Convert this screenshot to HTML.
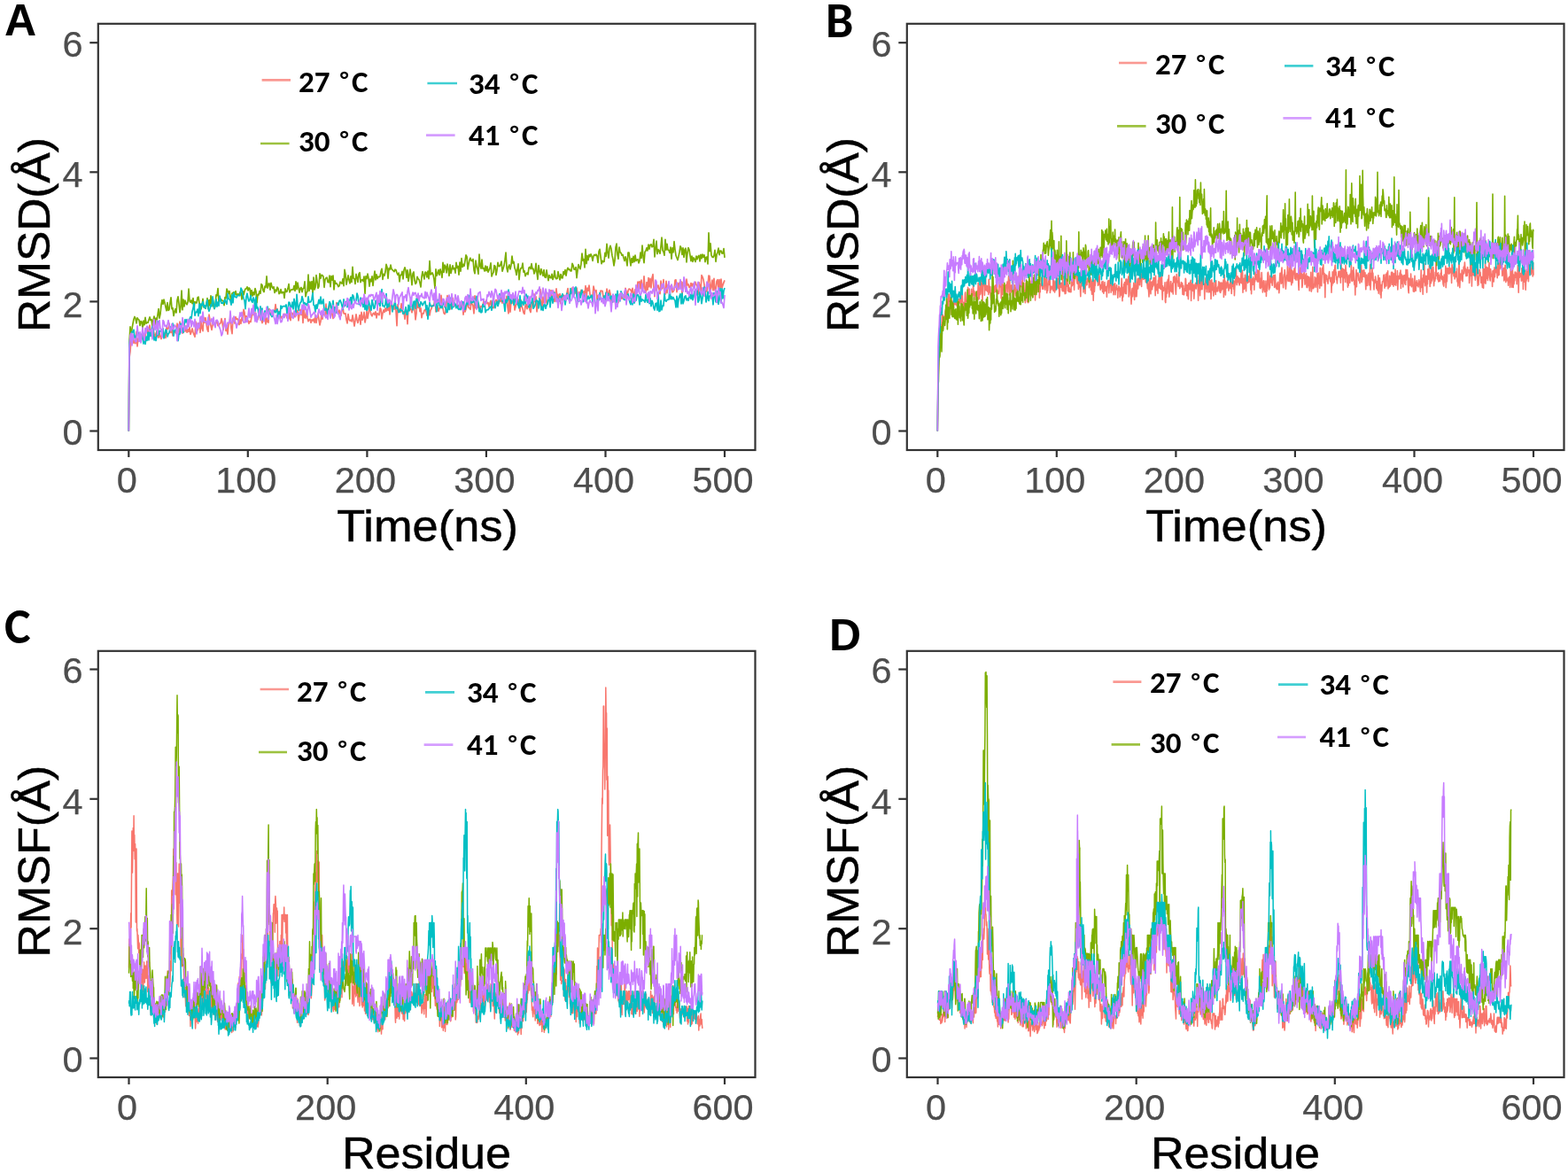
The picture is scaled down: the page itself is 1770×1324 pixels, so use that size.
<!DOCTYPE html>
<html><head><meta charset="utf-8"><title>RMSD RMSF</title>
<style>
html,body{margin:0;padding:0;background:#fff;}
body{width:1770px;height:1324px;overflow:hidden;}
svg{display:block;}
.tk{font-family:"Liberation Sans",Arial,sans-serif;font-size:41.5px;fill:#4D4D4D;stroke:#4D4D4D;stroke-width:0.25px;}
.ti{font-family:"Liberation Sans",Arial,sans-serif;font-size:50.5px;fill:#000;stroke:#000;stroke-width:0.5px;}
.lg{font-family:Carlito,"Liberation Sans",sans-serif;font-weight:bold;font-size:35px;fill:#000;}
.pa{font-family:"Liberation Sans",Arial,sans-serif;font-weight:bold;font-size:50px;fill:#000;}
.pb{font-family:Carlito,"Liberation Sans",sans-serif;font-weight:bold;font-size:56px;fill:#000;}
</style></head>
<body>
<svg width="1770" height="1324" viewBox="0 0 1770 1324">
<rect width="1770" height="1324" fill="#fff"/>
<polyline points="145.3,486.5 146.0,403.9 147.0,397.0 148.0,382.1 149.0,383.1 150.0,381.9 151.0,387.3 152.0,384.0 153.0,387.7 154.0,374.4 155.0,390.9 156.0,382.0 157.0,385.2 158.0,380.3 159.0,378.2 160.0,381.6 161.0,382.7 162.0,376.9 163.0,376.5 164.0,380.3 165.0,372.2 166.0,368.9 167.0,378.4 168.0,373.1 169.0,367.0 170.0,372.8 171.0,374.7 172.0,371.3 173.0,370.0 174.0,377.8 175.0,382.2 176.0,376.5 177.0,374.0 178.0,379.6 179.0,381.1 180.0,375.9 181.0,380.1 182.0,382.5 183.0,376.1 184.0,372.9 185.0,378.4 186.0,377.5 187.0,381.4 188.0,369.0 189.0,371.6 190.0,370.2 191.0,365.1 192.0,373.9 193.0,375.5 194.0,368.7 195.0,379.0 196.0,376.0 197.0,374.9 198.0,373.7 199.0,376.5 200.0,365.1 201.0,374.9 202.0,374.9 203.0,363.1 204.0,373.8 205.0,370.9 206.0,376.1 207.0,370.0 208.0,372.2 209.0,374.0 210.0,367.8 211.0,375.2 212.0,371.6 213.0,374.5 214.0,369.4 215.0,377.3 216.0,374.9 217.0,370.8 218.0,374.8 219.0,377.8 220.0,380.3 221.0,363.2 222.0,375.2 223.0,372.7 224.0,369.5 225.0,364.5 226.0,375.3 227.0,362.1 228.0,370.6 229.0,373.6 230.0,358.4 231.0,364.2 232.0,358.6 233.0,365.9 234.0,371.9 235.0,374.2 236.0,355.2 237.0,361.3 238.0,367.8 239.0,372.4 240.0,366.8 241.0,361.3 242.0,366.7 243.0,365.3 244.0,364.5 245.0,361.9 246.0,367.6 247.0,367.2 248.0,365.3 249.0,364.8 250.0,359.6 251.0,363.8 252.0,372.4 253.0,365.6 254.0,359.5 255.0,373.5 256.0,369.4 257.0,377.1 258.0,366.5 259.0,363.5 260.0,358.1 261.0,371.2 262.0,376.7 263.0,359.1 264.0,359.4 265.0,365.2 266.0,357.7 267.0,360.3 268.0,359.7 269.0,362.2 270.0,366.5 271.0,360.9 272.0,365.2 273.0,358.3 274.0,361.8 275.0,349.3 276.0,352.5 277.0,363.6 278.0,356.5 279.0,362.1 280.0,361.6 281.0,365.3 282.0,362.6 283.0,363.4 284.0,357.6 285.0,354.6 286.0,354.5 287.0,355.8 288.0,352.9 289.0,356.0 290.0,358.7 291.0,360.7 292.0,358.0 293.0,350.2 294.0,359.4 295.0,360.7 296.0,364.6 297.0,361.5 298.0,354.6 299.0,353.3 300.0,365.9 301.0,358.9 302.0,363.4 303.0,364.0 304.0,348.5 305.0,353.7 306.0,353.5 307.0,353.6 308.0,353.2 309.0,351.5 310.0,351.6 311.0,343.6 312.0,350.8 313.0,348.6 314.0,353.7 315.0,351.5 316.0,357.6 317.0,359.2 318.0,357.2 319.0,357.6 320.0,356.8 321.0,354.3 322.0,355.9 323.0,354.4 324.0,358.9 325.0,357.1 326.0,360.0 327.0,350.5 328.0,361.6 329.0,353.3 330.0,353.3 331.0,355.9 332.0,353.8 333.0,357.8 334.0,353.1 335.0,350.4 336.0,351.2 337.0,361.8 338.0,355.4 339.0,349.3 340.0,355.3 341.0,347.6 342.0,364.5 343.0,348.2 344.0,358.5 345.0,359.1 346.0,349.5 347.0,358.7 348.0,362.7 349.0,360.6 350.0,360.2 351.0,364.2 352.0,360.8 353.0,362.1 354.0,360.1 355.0,364.1 356.0,356.1 357.0,364.5 358.0,357.7 359.0,354.2 360.0,360.9 361.0,366.9 362.0,362.6 363.0,354.6 364.0,360.2 365.0,353.9 366.0,355.1 367.0,355.7 368.0,343.2 369.0,355.2 370.0,348.6 371.0,349.8 372.0,345.4 373.0,344.7 374.0,347.1 375.0,355.6 376.0,359.5 377.0,350.8 378.0,356.4 379.0,349.6 380.0,341.6 381.0,352.2 382.0,354.0 383.0,350.1 384.0,354.3 385.0,356.2 386.0,349.5 387.0,346.9 388.0,353.7 389.0,354.1 390.0,353.8 391.0,360.9 392.0,364.9 393.0,354.6 394.0,360.5 395.0,362.0 396.0,361.1 397.0,362.9 398.0,355.8 399.0,361.5 400.0,368.0 401.0,361.9 402.0,354.8 403.0,361.0 404.0,364.4 405.0,360.1 406.0,355.6 407.0,366.2 408.0,352.3 409.0,361.1 410.0,358.4 411.0,352.3 412.0,364.0 413.0,359.3 414.0,351.2 415.0,359.4 416.0,353.6 417.0,345.7 418.0,351.1 419.0,355.3 420.0,356.8 421.0,354.1 422.0,353.2 423.0,355.3 424.0,351.8 425.0,358.8 426.0,353.7 427.0,354.5 428.0,355.6 429.0,347.5 430.0,349.0 431.0,359.9 432.0,353.5 433.0,349.9 434.0,352.5 435.0,347.9 436.0,351.2 437.0,346.0 438.0,350.3 439.0,340.7 440.0,355.0 441.0,345.5 442.0,340.1 443.0,346.9 444.0,346.2 445.0,349.1 446.0,342.9 447.0,351.0 448.0,367.6 449.0,343.6 450.0,352.2 451.0,349.4 452.0,352.4 453.0,342.7 454.0,346.2 455.0,354.3 456.0,351.8 457.0,360.1 458.0,348.2 459.0,352.3 460.0,365.6 461.0,346.7 462.0,345.4 463.0,349.3 464.0,348.7 465.0,352.7 466.0,348.8 467.0,344.1 468.0,348.8 469.0,360.8 470.0,354.0 471.0,333.9 472.0,347.3 473.0,343.9 474.0,351.6 475.0,347.9 476.0,358.7 477.0,353.9 478.0,353.9 479.0,350.4 480.0,349.4 481.0,351.3 482.0,356.1 483.0,352.3 484.0,347.8 485.0,355.8 486.0,350.1 487.0,348.5 488.0,344.6 489.0,345.3 490.0,344.5 491.0,333.3 492.0,352.0 493.0,349.4 494.0,345.1 495.0,351.2 496.0,348.0 497.0,347.6 498.0,333.3 499.0,344.4 500.0,348.1 501.0,353.4 502.0,354.5 503.0,352.2 504.0,339.1 505.0,333.7 506.0,347.4 507.0,344.5 508.0,349.0 509.0,343.5 510.0,345.1 511.0,336.4 512.0,346.1 513.0,341.6 514.0,345.6 515.0,346.2 516.0,343.4 517.0,345.8 518.0,344.4 519.0,348.6 520.0,347.7 521.0,342.9 522.0,343.2 523.0,355.2 524.0,346.3 525.0,351.9 526.0,349.0 527.0,344.1 528.0,343.0 529.0,347.2 530.0,347.7 531.0,349.3 532.0,339.7 533.0,343.0 534.0,345.4 535.0,353.8 536.0,333.9 537.0,347.8 538.0,342.7 539.0,347.3 540.0,342.3 541.0,346.3 542.0,351.9 543.0,345.6 544.0,345.7 545.0,345.2 546.0,339.4 547.0,345.8 548.0,342.0 549.0,338.8 550.0,342.6 551.0,341.6 552.0,346.3 553.0,342.1 554.0,339.4 555.0,349.1 556.0,346.5 557.0,347.6 558.0,344.1 559.0,340.2 560.0,338.5 561.0,339.1 562.0,345.2 563.0,341.1 564.0,333.2 565.0,340.6 566.0,333.9 567.0,342.1 568.0,335.5 569.0,335.5 570.0,342.7 571.0,342.0 572.0,334.4 573.0,346.6 574.0,353.8 575.0,335.7 576.0,352.2 577.0,339.7 578.0,340.7 579.0,342.3 580.0,336.1 581.0,350.0 582.0,346.3 583.0,340.5 584.0,343.4 585.0,337.8 586.0,344.3 587.0,351.3 588.0,338.6 589.0,345.4 590.0,348.5 591.0,353.1 592.0,354.4 593.0,345.1 594.0,343.2 595.0,348.7 596.0,344.0 597.0,343.7 598.0,350.0 599.0,352.5 600.0,344.8 601.0,341.7 602.0,344.8 603.0,331.8 604.0,340.6 605.0,334.9 606.0,351.8 607.0,343.2 608.0,340.2 609.0,338.4 610.0,326.7 611.0,342.7 612.0,347.1 613.0,335.1 614.0,341.8 615.0,341.6 616.0,329.9 617.0,341.8 618.0,343.5 619.0,337.4 620.0,335.5 621.0,339.5 622.0,327.6 623.0,335.6 624.0,340.4 625.0,329.1 626.0,340.5 627.0,333.8 628.0,325.9 629.0,336.2 630.0,332.3 631.0,339.0 632.0,331.7 633.0,342.7 634.0,333.6 635.0,338.6 636.0,333.2 637.0,333.7 638.0,340.4 639.0,334.5 640.0,330.5 641.0,325.6 642.0,337.1 643.0,334.5 644.0,328.9 645.0,331.4 646.0,324.8 647.0,324.6 648.0,325.4 649.0,331.1 650.0,330.6 651.0,325.2 652.0,332.6 653.0,332.7 654.0,329.6 655.0,334.0 656.0,327.4 657.0,328.4 658.0,331.3 659.0,328.8 660.0,332.9 661.0,322.7 662.0,336.0 663.0,325.0 664.0,328.1 665.0,322.1 666.0,332.1 667.0,335.8 668.0,335.2 669.0,334.4 670.0,323.0 671.0,327.4 672.0,329.5 673.0,327.6 674.0,338.2 675.0,333.8 676.0,332.9 677.0,335.4 678.0,328.2 679.0,328.3 680.0,328.3 681.0,335.0 682.0,334.1 683.0,335.3 684.0,338.0 685.0,326.0 686.0,330.4 687.0,334.4 688.0,327.4 689.0,331.9 690.0,340.1 691.0,340.8 692.0,340.9 693.0,335.8 694.0,334.5 695.0,340.9 696.0,333.5 697.0,336.9 698.0,341.6 699.0,333.1 700.0,331.8 701.0,334.4 702.0,337.1 703.0,336.2 704.0,334.4 705.0,336.2 706.0,325.3 707.0,328.9 708.0,333.9 709.0,328.3 710.0,326.0 711.0,326.3 712.0,327.3 713.0,330.3 714.0,325.3 715.0,330.7 716.0,336.9 717.0,326.5 718.0,332.4 719.0,326.2 720.0,318.0 721.0,321.7 722.0,317.6 723.0,326.0 724.0,316.2 725.0,328.5 726.0,324.8 727.0,311.9 728.0,326.1 729.0,330.1 730.0,318.5 731.0,327.4 732.0,313.5 733.0,323.8 734.0,314.3 735.0,325.0 736.0,313.8 737.0,309.7 738.0,325.0 739.0,334.6 740.0,320.4 741.0,327.6 742.0,324.1 743.0,322.0 744.0,326.6 745.0,331.7 746.0,317.2 747.0,326.0 748.0,324.8 749.0,315.7 750.0,330.7 751.0,332.1 752.0,317.4 753.0,330.6 754.0,322.0 755.0,320.8 756.0,329.1 757.0,322.9 758.0,323.5 759.0,329.8 760.0,329.0 761.0,327.4 762.0,316.3 763.0,315.8 764.0,329.6 765.0,319.6 766.0,325.1 767.0,319.1 768.0,323.4 769.0,317.8 770.0,332.1 771.0,318.5 772.0,322.6 773.0,321.9 774.0,328.6 775.0,315.2 776.0,321.9 777.0,320.9 778.0,324.5 779.0,324.2 780.0,319.5 781.0,323.1 782.0,320.0 783.0,324.2 784.0,321.3 785.0,318.4 786.0,321.4 787.0,323.2 788.0,332.5 789.0,318.6 790.0,322.6 791.0,328.4 792.0,310.7 793.0,312.6 794.0,315.6 795.0,321.3 796.0,334.4 797.0,324.5 798.0,328.9 799.0,322.0 800.0,311.0 801.0,311.7 802.0,328.2 803.0,323.8 804.0,316.1 805.0,327.9 806.0,314.3 807.0,327.5 808.0,328.8 809.0,317.5 810.0,315.7 811.0,325.4 812.0,315.7 813.0,325.5 814.0,315.2 815.0,325.2 816.0,321.6 817.0,318.9 818.0,316.4" fill="none" stroke="#F8766D" stroke-width="1.7" stroke-linejoin="round"/>
<polyline points="145.3,486.5 146.0,386.5 147.0,368.8 148.0,379.3 149.0,371.2 150.0,365.3 151.0,360.2 152.0,357.5 153.0,359.6 154.0,364.8 155.0,358.8 156.0,360.4 157.0,361.2 158.0,367.5 159.0,362.5 160.0,363.2 161.0,370.5 162.0,362.2 163.0,366.7 164.0,358.3 165.0,365.2 166.0,364.0 167.0,364.2 168.0,360.9 169.0,357.9 170.0,361.5 171.0,360.6 172.0,368.1 173.0,361.6 174.0,357.0 175.0,366.3 176.0,359.0 177.0,361.9 178.0,355.4 179.0,348.6 180.0,359.1 181.0,354.3 182.0,344.0 183.0,338.6 184.0,343.4 185.0,338.2 186.0,341.9 187.0,346.6 188.0,350.7 189.0,341.6 190.0,350.3 191.0,349.5 192.0,341.7 193.0,335.8 194.0,348.7 195.0,347.7 196.0,356.5 197.0,352.0 198.0,348.7 199.0,353.0 200.0,339.0 201.0,334.9 202.0,342.8 203.0,352.7 204.0,346.5 205.0,328.1 206.0,349.8 207.0,338.0 208.0,346.0 209.0,339.2 210.0,342.3 211.0,343.8 212.0,341.1 213.0,326.2 214.0,339.8 215.0,341.2 216.0,339.0 217.0,342.6 218.0,336.5 219.0,348.7 220.0,340.7 221.0,341.7 222.0,342.0 223.0,336.0 224.0,335.1 225.0,342.4 226.0,343.5 227.0,348.8 228.0,344.6 229.0,337.3 230.0,345.7 231.0,347.1 232.0,348.0 233.0,344.5 234.0,336.6 235.0,348.4 236.0,338.7 237.0,344.9 238.0,333.8 239.0,345.0 240.0,336.8 241.0,345.6 242.0,348.5 243.0,345.1 244.0,332.9 245.0,333.6 246.0,325.6 247.0,341.0 248.0,339.1 249.0,337.9 250.0,338.3 251.0,339.5 252.0,339.6 253.0,344.6 254.0,335.6 255.0,336.7 256.0,326.1 257.0,328.5 258.0,331.4 259.0,328.6 260.0,335.2 261.0,338.9 262.0,331.1 263.0,330.4 264.0,329.8 265.0,332.5 266.0,328.6 267.0,333.1 268.0,332.0 269.0,331.9 270.0,333.7 271.0,329.8 272.0,330.2 273.0,338.0 274.0,328.7 275.0,332.7 276.0,328.8 277.0,326.0 278.0,325.8 279.0,323.8 280.0,327.9 281.0,324.9 282.0,325.8 283.0,334.1 284.0,327.5 285.0,334.0 286.0,329.8 287.0,332.8 288.0,325.5 289.0,329.3 290.0,341.6 291.0,332.3 292.0,332.8 293.0,328.6 294.0,331.2 295.0,320.7 296.0,321.8 297.0,327.8 298.0,329.5 299.0,323.2 300.0,324.4 301.0,311.8 302.0,325.1 303.0,320.5 304.0,319.9 305.0,327.2 306.0,319.4 307.0,323.6 308.0,325.5 309.0,323.8 310.0,330.4 311.0,327.0 312.0,328.8 313.0,324.2 314.0,325.5 315.0,331.7 316.0,330.9 317.0,326.7 318.0,330.8 319.0,329.8 320.0,329.5 321.0,336.3 322.0,325.8 323.0,329.5 324.0,329.1 325.0,325.6 326.0,320.7 327.0,329.9 328.0,327.8 329.0,326.9 330.0,326.9 331.0,327.0 332.0,322.5 333.0,328.4 334.0,317.9 335.0,326.7 336.0,319.2 337.0,324.9 338.0,330.2 339.0,325.4 340.0,324.5 341.0,329.6 342.0,325.8 343.0,325.2 344.0,317.9 345.0,334.7 346.0,330.2 347.0,328.9 348.0,310.0 349.0,328.4 350.0,318.2 351.0,326.2 352.0,317.5 353.0,332.0 354.0,313.1 355.0,326.9 356.0,324.1 357.0,310.6 358.0,317.7 359.0,325.4 360.0,323.3 361.0,308.8 362.0,314.1 363.0,310.3 364.0,310.7 365.0,312.2 366.0,324.3 367.0,315.5 368.0,313.7 369.0,313.2 370.0,318.4 371.0,318.8 372.0,311.2 373.0,323.7 374.0,311.5 375.0,316.1 376.0,311.2 377.0,326.9 378.0,316.9 379.0,320.1 380.0,319.9 381.0,321.5 382.0,323.6 383.0,322.7 384.0,318.2 385.0,319.4 386.0,320.2 387.0,314.9 388.0,322.6 389.0,304.4 390.0,309.5 391.0,321.2 392.0,316.1 393.0,310.9 394.0,316.1 395.0,319.8 396.0,311.8 397.0,318.5 398.0,301.4 399.0,314.3 400.0,314.5 401.0,320.5 402.0,309.4 403.0,313.2 404.0,318.5 405.0,309.3 406.0,307.7 407.0,318.7 408.0,316.2 409.0,315.7 410.0,317.4 411.0,312.0 412.0,331.5 413.0,311.9 414.0,314.5 415.0,309.2 416.0,313.9 417.0,323.1 418.0,315.1 419.0,317.6 420.0,311.8 421.0,322.5 422.0,313.6 423.0,306.1 424.0,315.8 425.0,309.9 426.0,314.6 427.0,312.2 428.0,312.7 429.0,312.0 430.0,306.6 431.0,303.3 432.0,315.4 433.0,309.4 434.0,311.0 435.0,306.8 436.0,298.4 437.0,301.5 438.0,314.3 439.0,302.9 440.0,304.4 441.0,299.0 442.0,303.7 443.0,304.7 444.0,305.6 445.0,306.6 446.0,304.2 447.0,304.8 448.0,308.0 449.0,310.1 450.0,308.1 451.0,317.8 452.0,310.4 453.0,310.4 454.0,306.4 455.0,314.9 456.0,304.8 457.0,301.9 458.0,305.2 459.0,313.4 460.0,304.9 461.0,317.4 462.0,311.2 463.0,304.2 464.0,311.1 465.0,321.6 466.0,308.8 467.0,306.9 468.0,316.3 469.0,320.4 470.0,319.1 471.0,312.3 472.0,314.8 473.0,315.4 474.0,319.4 475.0,324.0 476.0,312.5 477.0,306.5 478.0,310.7 479.0,315.0 480.0,307.0 481.0,307.5 482.0,313.0 483.0,306.0 484.0,314.6 485.0,294.6 486.0,310.0 487.0,309.1 488.0,307.9 489.0,310.4 490.0,315.4 491.0,325.4 492.0,303.9 493.0,311.2 494.0,308.6 495.0,304.7 496.0,310.3 497.0,303.9 498.0,307.4 499.0,313.3 500.0,296.4 501.0,307.3 502.0,299.0 503.0,300.6 504.0,307.9 505.0,298.1 506.0,303.5 507.0,311.3 508.0,298.8 509.0,308.5 510.0,304.0 511.0,299.8 512.0,303.9 513.0,302.7 514.0,308.2 515.0,296.3 516.0,302.3 517.0,300.5 518.0,310.1 519.0,296.0 520.0,306.1 521.0,291.5 522.0,301.4 523.0,298.3 524.0,300.3 525.0,294.4 526.0,287.8 527.0,289.6 528.0,303.8 529.0,298.3 530.0,293.1 531.0,291.2 532.0,294.3 533.0,294.7 534.0,292.5 535.0,304.7 536.0,308.7 537.0,294.1 538.0,300.3 539.0,303.7 540.0,309.3 541.0,287.0 542.0,300.1 543.0,303.1 544.0,293.0 545.0,303.1 546.0,302.7 547.0,306.0 548.0,300.1 549.0,305.6 550.0,300.8 551.0,307.1 552.0,305.0 553.0,302.3 554.0,296.9 555.0,312.0 556.0,309.1 557.0,307.6 558.0,299.5 559.0,300.6 560.0,310.3 561.0,305.0 562.0,296.4 563.0,300.4 564.0,300.6 565.0,298.7 566.0,295.0 567.0,306.2 568.0,303.2 569.0,299.8 570.0,293.4 571.0,285.0 572.0,302.2 573.0,306.9 574.0,301.0 575.0,299.0 576.0,303.8 577.0,299.4 578.0,289.1 579.0,297.2 580.0,295.5 581.0,302.4 582.0,305.0 583.0,310.4 584.0,303.5 585.0,297.9 586.0,315.6 587.0,305.4 588.0,302.6 589.0,302.6 590.0,297.2 591.0,307.1 592.0,305.7 593.0,311.7 594.0,309.2 595.0,307.9 596.0,309.8 597.0,302.1 598.0,301.4 599.0,303.5 600.0,297.7 601.0,303.7 602.0,303.4 603.0,309.0 604.0,306.2 605.0,297.4 606.0,307.7 607.0,315.3 608.0,299.6 609.0,305.6 610.0,310.0 611.0,303.7 612.0,308.0 613.0,311.3 614.0,304.6 615.0,312.7 616.0,313.3 617.0,304.9 618.0,311.3 619.0,316.6 620.0,310.5 621.0,313.2 622.0,313.9 623.0,309.4 624.0,315.5 625.0,312.5 626.0,305.7 627.0,313.2 628.0,314.8 629.0,314.3 630.0,306.7 631.0,311.7 632.0,315.8 633.0,309.5 634.0,313.7 635.0,313.8 636.0,306.6 637.0,309.7 638.0,304.6 639.0,311.1 640.0,305.1 641.0,302.3 642.0,304.5 643.0,303.9 644.0,305.8 645.0,305.9 646.0,297.4 647.0,299.5 648.0,304.1 649.0,304.2 650.0,301.6 651.0,313.7 652.0,305.4 653.0,298.6 654.0,301.7 655.0,303.7 656.0,297.8 657.0,286.1 658.0,294.1 659.0,292.7 660.0,302.0 661.0,281.4 662.0,297.6 663.0,288.6 664.0,293.7 665.0,287.4 666.0,289.6 667.0,286.8 668.0,289.3 669.0,294.3 670.0,288.9 671.0,287.4 672.0,288.5 673.0,287.1 674.0,289.1 675.0,296.5 676.0,283.8 677.0,281.3 678.0,289.3 679.0,297.7 680.0,294.3 681.0,295.7 682.0,295.3 683.0,285.3 684.0,289.4 685.0,275.4 686.0,285.4 687.0,291.2 688.0,280.2 689.0,277.4 690.0,281.0 691.0,288.4 692.0,292.9 693.0,299.9 694.0,294.0 695.0,279.2 696.0,275.1 697.0,287.5 698.0,292.2 699.0,279.0 700.0,284.8 701.0,285.4 702.0,288.2 703.0,287.5 704.0,291.3 705.0,294.4 706.0,289.8 707.0,293.5 708.0,299.9 709.0,285.0 710.0,285.0 711.0,292.9 712.0,299.8 713.0,291.5 714.0,296.3 715.0,289.4 716.0,295.7 717.0,288.0 718.0,294.5 719.0,293.0 720.0,292.7 721.0,296.9 722.0,294.5 723.0,285.1 724.0,291.4 725.0,277.1 726.0,289.2 727.0,296.7 728.0,284.3 729.0,283.1 730.0,279.8 731.0,282.9 732.0,276.0 733.0,281.2 734.0,276.4 735.0,275.8 736.0,278.8 737.0,278.3 738.0,270.4 739.0,289.9 740.0,280.7 741.0,272.2 742.0,286.7 743.0,281.7 744.0,283.3 745.0,286.1 746.0,278.3 747.0,268.2 748.0,282.5 749.0,284.3 750.0,288.2 751.0,270.3 752.0,282.1 753.0,275.4 754.0,282.1 755.0,282.6 756.0,285.3 757.0,279.2 758.0,292.2 759.0,279.9 760.0,284.8 761.0,272.7 762.0,281.8 763.0,288.3 764.0,291.0 765.0,293.5 766.0,289.4 767.0,284.5 768.0,277.8 769.0,279.9 770.0,287.5 771.0,279.8 772.0,290.4 773.0,281.8 774.0,280.2 775.0,296.0 776.0,285.2 777.0,279.7 778.0,281.9 779.0,288.4 780.0,294.6 781.0,289.0 782.0,295.4 783.0,290.9 784.0,292.6 785.0,295.5 786.0,289.1 787.0,292.7 788.0,289.5 789.0,288.3 790.0,294.8 791.0,287.3 792.0,291.7 793.0,287.1 794.0,290.3 795.0,287.8 796.0,295.7 797.0,290.4 798.0,290.2 799.0,298.0 800.0,262.8 801.0,283.6 802.0,274.9 803.0,288.1 804.0,290.0 805.0,290.6 806.0,288.4 807.0,282.4 808.0,295.3 809.0,287.8 810.0,284.8 811.0,280.2 812.0,287.7 813.0,283.0 814.0,283.0 815.0,286.1 816.0,286.0 817.0,280.6 818.0,290.8" fill="none" stroke="#7CAE00" stroke-width="1.7" stroke-linejoin="round"/>
<polyline points="145.3,486.5 146.0,389.8 147.0,379.5 148.0,378.5 149.0,374.3 150.0,374.9 151.0,372.2 152.0,381.4 153.0,379.3 154.0,379.8 155.0,375.5 156.0,375.3 157.0,377.8 158.0,383.2 159.0,382.1 160.0,377.1 161.0,381.3 162.0,388.0 163.0,379.2 164.0,388.4 165.0,380.2 166.0,384.5 167.0,375.2 168.0,383.8 169.0,372.1 170.0,379.4 171.0,376.6 172.0,368.4 173.0,371.6 174.0,384.0 175.0,380.7 176.0,384.5 177.0,378.6 178.0,362.7 179.0,378.1 180.0,373.6 181.0,373.7 182.0,373.8 183.0,372.0 184.0,370.9 185.0,381.8 186.0,377.7 187.0,372.1 188.0,373.1 189.0,380.0 190.0,376.9 191.0,375.8 192.0,368.6 193.0,372.5 194.0,369.0 195.0,365.1 196.0,379.2 197.0,373.2 198.0,372.9 199.0,370.2 200.0,378.9 201.0,384.7 202.0,376.3 203.0,377.0 204.0,365.1 205.0,371.1 206.0,370.2 207.0,375.3 208.0,366.7 209.0,360.7 210.0,363.7 211.0,360.5 212.0,368.5 213.0,363.1 214.0,360.0 215.0,357.7 216.0,359.6 217.0,351.6 218.0,348.1 219.0,342.0 220.0,356.2 221.0,352.3 222.0,352.5 223.0,349.0 224.0,356.7 225.0,343.0 226.0,353.6 227.0,343.0 228.0,344.6 229.0,340.5 230.0,346.8 231.0,344.7 232.0,348.1 233.0,342.8 234.0,338.5 235.0,348.1 236.0,351.3 237.0,348.2 238.0,343.9 239.0,345.8 240.0,334.9 241.0,341.3 242.0,348.5 243.0,344.7 244.0,337.8 245.0,346.1 246.0,341.0 247.0,345.1 248.0,334.2 249.0,338.3 250.0,342.3 251.0,341.8 252.0,342.7 253.0,339.6 254.0,338.4 255.0,341.5 256.0,343.3 257.0,331.3 258.0,337.2 259.0,337.8 260.0,339.5 261.0,344.1 262.0,332.5 263.0,341.8 264.0,330.3 265.0,334.7 266.0,335.3 267.0,335.9 268.0,333.5 269.0,333.3 270.0,333.6 271.0,333.4 272.0,325.2 273.0,327.2 274.0,331.9 275.0,336.7 276.0,339.2 277.0,348.6 278.0,335.2 279.0,331.2 280.0,336.5 281.0,340.0 282.0,338.5 283.0,333.7 284.0,339.8 285.0,341.4 286.0,335.9 287.0,338.1 288.0,351.3 289.0,335.3 290.0,348.2 291.0,347.0 292.0,355.9 293.0,352.7 294.0,345.9 295.0,356.8 296.0,348.1 297.0,361.0 298.0,359.4 299.0,350.9 300.0,355.3 301.0,351.9 302.0,346.1 303.0,355.6 304.0,352.3 305.0,354.4 306.0,355.6 307.0,357.5 308.0,355.8 309.0,350.3 310.0,351.3 311.0,352.9 312.0,350.1 313.0,349.2 314.0,359.3 315.0,352.1 316.0,358.7 317.0,345.0 318.0,348.2 319.0,345.8 320.0,345.6 321.0,345.6 322.0,345.9 323.0,343.9 324.0,354.5 325.0,348.5 326.0,341.1 327.0,341.7 328.0,347.9 329.0,346.8 330.0,341.2 331.0,348.9 332.0,337.4 333.0,342.4 334.0,353.5 335.0,332.3 336.0,344.4 337.0,350.3 338.0,344.7 339.0,341.5 340.0,340.8 341.0,334.7 342.0,338.3 343.0,344.9 344.0,341.5 345.0,343.9 346.0,343.0 347.0,344.8 348.0,334.9 349.0,341.3 350.0,340.8 351.0,340.6 352.0,337.4 353.0,330.6 354.0,344.2 355.0,344.8 356.0,352.2 357.0,343.8 358.0,348.2 359.0,343.0 360.0,338.3 361.0,342.9 362.0,335.2 363.0,342.8 364.0,341.8 365.0,337.9 366.0,350.0 367.0,350.3 368.0,347.8 369.0,350.2 370.0,354.8 371.0,346.4 372.0,340.6 373.0,342.6 374.0,350.7 375.0,348.2 376.0,339.4 377.0,352.8 378.0,346.8 379.0,353.2 380.0,350.3 381.0,342.0 382.0,344.2 383.0,339.7 384.0,338.9 385.0,341.3 386.0,345.1 387.0,349.2 388.0,337.8 389.0,345.4 390.0,341.9 391.0,340.3 392.0,346.7 393.0,339.0 394.0,347.3 395.0,338.6 396.0,335.6 397.0,343.9 398.0,332.8 399.0,334.3 400.0,339.4 401.0,340.5 402.0,339.3 403.0,331.0 404.0,334.3 405.0,343.5 406.0,343.8 407.0,336.1 408.0,342.5 409.0,342.3 410.0,346.5 411.0,338.1 412.0,349.4 413.0,341.1 414.0,350.3 415.0,348.3 416.0,339.2 417.0,343.2 418.0,346.5 419.0,350.3 420.0,338.5 421.0,343.0 422.0,348.4 423.0,347.4 424.0,339.4 425.0,339.6 426.0,345.5 427.0,337.5 428.0,342.9 429.0,345.6 430.0,340.5 431.0,326.6 432.0,345.4 433.0,345.1 434.0,346.5 435.0,343.9 436.0,331.5 437.0,347.4 438.0,342.6 439.0,346.2 440.0,341.3 441.0,341.5 442.0,342.2 443.0,351.9 444.0,345.9 445.0,344.0 446.0,339.2 447.0,348.4 448.0,346.6 449.0,347.9 450.0,352.6 451.0,351.9 452.0,348.9 453.0,350.6 454.0,350.4 455.0,354.0 456.0,354.2 457.0,351.7 458.0,346.7 459.0,355.0 460.0,354.9 461.0,344.4 462.0,350.9 463.0,346.1 464.0,336.1 465.0,345.8 466.0,349.8 467.0,340.6 468.0,340.0 469.0,348.1 470.0,337.2 471.0,337.8 472.0,340.9 473.0,345.7 474.0,346.1 475.0,340.7 476.0,342.2 477.0,344.7 478.0,342.8 479.0,340.9 480.0,340.1 481.0,349.4 482.0,344.8 483.0,360.2 484.0,348.8 485.0,341.7 486.0,344.9 487.0,346.0 488.0,345.6 489.0,345.1 490.0,344.4 491.0,341.0 492.0,344.4 493.0,351.7 494.0,338.4 495.0,338.7 496.0,344.2 497.0,347.1 498.0,345.3 499.0,347.7 500.0,341.9 501.0,341.5 502.0,346.5 503.0,347.1 504.0,352.6 505.0,352.5 506.0,336.1 507.0,349.6 508.0,342.8 509.0,336.1 510.0,349.0 511.0,346.6 512.0,346.1 513.0,341.8 514.0,343.5 515.0,347.7 516.0,341.4 517.0,348.3 518.0,349.3 519.0,347.7 520.0,349.6 521.0,347.1 522.0,340.9 523.0,340.8 524.0,345.8 525.0,349.2 526.0,344.5 527.0,340.7 528.0,343.5 529.0,333.4 530.0,337.3 531.0,340.4 532.0,342.0 533.0,340.9 534.0,341.3 535.0,337.0 536.0,340.3 537.0,344.6 538.0,334.4 539.0,337.8 540.0,342.3 541.0,351.7 542.0,348.1 543.0,352.9 544.0,352.2 545.0,343.7 546.0,346.0 547.0,340.8 548.0,352.6 549.0,350.4 550.0,349.6 551.0,349.7 552.0,348.3 553.0,346.5 554.0,346.2 555.0,350.2 556.0,339.6 557.0,337.7 558.0,342.4 559.0,347.7 560.0,342.8 561.0,340.3 562.0,345.4 563.0,341.7 564.0,331.6 565.0,336.0 566.0,330.6 567.0,339.9 568.0,338.7 569.0,343.1 570.0,351.5 571.0,338.0 572.0,341.1 573.0,339.2 574.0,327.2 575.0,337.5 576.0,337.7 577.0,342.7 578.0,337.2 579.0,334.9 580.0,344.2 581.0,340.8 582.0,336.6 583.0,337.2 584.0,339.4 585.0,344.8 586.0,347.7 587.0,333.9 588.0,346.0 589.0,340.2 590.0,341.4 591.0,344.1 592.0,334.2 593.0,343.0 594.0,332.1 595.0,336.1 596.0,334.2 597.0,346.9 598.0,346.8 599.0,342.5 600.0,341.5 601.0,336.6 602.0,348.2 603.0,346.7 604.0,344.6 605.0,339.8 606.0,338.9 607.0,340.5 608.0,347.8 609.0,336.7 610.0,342.2 611.0,349.8 612.0,346.2 613.0,350.4 614.0,343.8 615.0,343.7 616.0,348.2 617.0,344.3 618.0,342.5 619.0,337.8 620.0,332.5 621.0,346.8 622.0,336.8 623.0,334.6 624.0,342.1 625.0,332.9 626.0,330.2 627.0,333.7 628.0,335.9 629.0,337.3 630.0,338.2 631.0,340.3 632.0,334.7 633.0,336.9 634.0,334.5 635.0,331.7 636.0,336.8 637.0,336.5 638.0,343.9 639.0,337.6 640.0,331.1 641.0,337.4 642.0,333.1 643.0,342.0 644.0,325.6 645.0,330.6 646.0,330.4 647.0,334.1 648.0,332.7 649.0,325.3 650.0,323.9 651.0,334.0 652.0,340.4 653.0,340.5 654.0,331.6 655.0,336.1 656.0,329.9 657.0,327.3 658.0,340.8 659.0,338.3 660.0,333.5 661.0,333.5 662.0,340.0 663.0,337.2 664.0,334.1 665.0,337.3 666.0,336.0 667.0,334.3 668.0,333.1 669.0,341.5 670.0,334.9 671.0,331.7 672.0,346.6 673.0,344.0 674.0,340.5 675.0,337.6 676.0,338.8 677.0,330.7 678.0,337.7 679.0,339.1 680.0,336.8 681.0,340.0 682.0,334.1 683.0,338.9 684.0,330.3 685.0,338.0 686.0,335.0 687.0,331.4 688.0,335.8 689.0,337.5 690.0,334.1 691.0,341.1 692.0,332.6 693.0,340.2 694.0,338.8 695.0,332.1 696.0,342.0 697.0,328.3 698.0,337.9 699.0,335.9 700.0,339.8 701.0,328.8 702.0,331.1 703.0,333.2 704.0,337.8 705.0,338.4 706.0,338.3 707.0,337.1 708.0,335.0 709.0,331.9 710.0,336.5 711.0,341.3 712.0,343.7 713.0,336.2 714.0,343.9 715.0,331.9 716.0,342.2 717.0,332.8 718.0,339.1 719.0,332.9 720.0,332.6 721.0,334.5 722.0,344.0 723.0,333.8 724.0,340.1 725.0,338.0 726.0,338.9 727.0,339.3 728.0,341.2 729.0,332.7 730.0,339.3 731.0,341.3 732.0,337.4 733.0,342.6 734.0,336.5 735.0,345.7 736.0,339.3 737.0,342.1 738.0,347.9 739.0,350.0 740.0,342.5 741.0,342.2 742.0,350.1 743.0,331.1 744.0,351.6 745.0,351.1 746.0,339.2 747.0,349.8 748.0,345.2 749.0,345.1 750.0,331.0 751.0,339.3 752.0,340.2 753.0,338.6 754.0,338.1 755.0,338.1 756.0,325.0 757.0,337.7 758.0,334.9 759.0,337.6 760.0,335.5 761.0,337.9 762.0,339.4 763.0,346.9 764.0,334.3 765.0,346.8 766.0,337.5 767.0,334.4 768.0,331.7 769.0,343.0 770.0,331.1 771.0,342.8 772.0,339.6 773.0,334.7 774.0,333.8 775.0,338.9 776.0,336.8 777.0,339.3 778.0,335.3 779.0,332.5 780.0,337.4 781.0,328.7 782.0,338.6 783.0,334.7 784.0,328.9 785.0,329.4 786.0,332.8 787.0,325.5 788.0,341.2 789.0,339.1 790.0,329.0 791.0,333.8 792.0,342.7 793.0,336.4 794.0,329.5 795.0,324.1 796.0,326.9 797.0,341.0 798.0,337.0 799.0,329.3 800.0,339.5 801.0,334.4 802.0,332.9 803.0,333.5 804.0,333.6 805.0,343.8 806.0,330.5 807.0,332.7 808.0,340.8 809.0,341.3 810.0,328.6 811.0,343.4 812.0,338.5 813.0,325.7 814.0,342.0 815.0,325.9 816.0,336.8 817.0,327.9 818.0,324.9" fill="none" stroke="#00BFC4" stroke-width="1.7" stroke-linejoin="round"/>
<polyline points="145.3,486.5 146.0,392.8 147.0,378.6 148.0,376.2 149.0,390.0 150.0,377.1 151.0,382.9 152.0,383.3 153.0,385.9 154.0,385.3 155.0,367.9 156.0,377.6 157.0,385.4 158.0,374.8 159.0,387.0 160.0,378.2 161.0,369.9 162.0,378.0 163.0,384.2 164.0,370.3 165.0,375.9 166.0,368.1 167.0,369.2 168.0,372.4 169.0,374.1 170.0,373.1 171.0,372.1 172.0,382.8 173.0,364.9 174.0,360.7 175.0,372.5 176.0,370.3 177.0,361.8 178.0,377.5 179.0,365.1 180.0,361.5 181.0,370.8 182.0,372.1 183.0,380.9 184.0,361.5 185.0,363.0 186.0,368.2 187.0,367.4 188.0,369.2 189.0,365.9 190.0,361.5 191.0,366.9 192.0,372.6 193.0,372.9 194.0,365.6 195.0,371.7 196.0,371.3 197.0,366.9 198.0,368.0 199.0,370.3 200.0,384.6 201.0,371.3 202.0,366.0 203.0,369.5 204.0,367.4 205.0,375.7 206.0,358.7 207.0,363.8 208.0,373.1 209.0,370.7 210.0,368.3 211.0,371.4 212.0,360.7 213.0,368.9 214.0,361.0 215.0,360.1 216.0,368.8 217.0,362.1 218.0,364.2 219.0,368.9 220.0,360.3 221.0,368.7 222.0,377.0 223.0,364.5 224.0,370.1 225.0,368.9 226.0,358.2 227.0,357.2 228.0,363.6 229.0,352.1 230.0,362.5 231.0,363.0 232.0,363.5 233.0,362.9 234.0,366.9 235.0,358.2 236.0,366.6 237.0,362.5 238.0,362.7 239.0,359.7 240.0,365.9 241.0,358.1 242.0,366.6 243.0,369.6 244.0,361.6 245.0,361.2 246.0,363.0 247.0,367.5 248.0,370.1 249.0,373.2 250.0,378.8 251.0,377.0 252.0,369.8 253.0,365.9 254.0,361.2 255.0,370.9 256.0,368.8 257.0,364.2 258.0,364.3 259.0,364.1 260.0,351.2 261.0,363.5 262.0,365.0 263.0,362.2 264.0,357.0 265.0,362.1 266.0,363.8 267.0,370.1 268.0,366.0 269.0,363.3 270.0,359.7 271.0,352.9 272.0,357.1 273.0,352.3 274.0,358.4 275.0,364.0 276.0,364.0 277.0,363.3 278.0,358.7 279.0,363.5 280.0,356.9 281.0,348.1 282.0,358.4 283.0,357.6 284.0,348.4 285.0,354.3 286.0,344.4 287.0,354.3 288.0,362.9 289.0,353.6 290.0,363.7 291.0,358.4 292.0,353.7 293.0,348.6 294.0,361.5 295.0,361.1 296.0,350.1 297.0,355.3 298.0,362.8 299.0,353.2 300.0,358.7 301.0,346.7 302.0,351.9 303.0,360.3 304.0,350.8 305.0,349.7 306.0,350.2 307.0,355.6 308.0,349.7 309.0,357.2 310.0,360.6 311.0,365.5 312.0,355.5 313.0,365.5 314.0,359.9 315.0,355.6 316.0,359.0 317.0,363.7 318.0,363.1 319.0,359.0 320.0,354.3 321.0,358.6 322.0,355.1 323.0,354.6 324.0,354.7 325.0,362.3 326.0,346.8 327.0,352.3 328.0,347.0 329.0,356.9 330.0,358.1 331.0,359.4 332.0,350.9 333.0,353.1 334.0,356.8 335.0,354.0 336.0,354.6 337.0,354.0 338.0,354.2 339.0,351.9 340.0,354.3 341.0,344.1 342.0,348.8 343.0,343.6 344.0,349.4 345.0,345.8 346.0,352.1 347.0,355.7 348.0,343.2 349.0,345.9 350.0,352.0 351.0,358.2 352.0,355.6 353.0,354.7 354.0,353.1 355.0,352.0 356.0,357.1 357.0,358.4 358.0,357.3 359.0,353.9 360.0,349.0 361.0,352.8 362.0,355.1 363.0,350.8 364.0,357.9 365.0,348.7 366.0,353.9 367.0,356.8 368.0,358.8 369.0,355.6 370.0,360.3 371.0,351.0 372.0,349.9 373.0,359.2 374.0,349.1 375.0,352.6 376.0,344.5 377.0,358.7 378.0,356.6 379.0,349.1 380.0,344.0 381.0,353.8 382.0,353.5 383.0,357.6 384.0,360.6 385.0,351.8 386.0,348.8 387.0,347.8 388.0,346.6 389.0,340.3 390.0,341.8 391.0,345.1 392.0,336.5 393.0,337.6 394.0,349.9 395.0,340.1 396.0,347.3 397.0,348.7 398.0,343.2 399.0,347.3 400.0,342.2 401.0,338.7 402.0,342.5 403.0,343.1 404.0,343.0 405.0,342.2 406.0,339.1 407.0,345.7 408.0,338.4 409.0,336.5 410.0,342.4 411.0,332.0 412.0,336.5 413.0,343.5 414.0,336.2 415.0,342.9 416.0,334.4 417.0,333.0 418.0,334.7 419.0,332.5 420.0,333.3 421.0,332.7 422.0,338.8 423.0,336.5 424.0,333.2 425.0,330.3 426.0,350.1 427.0,333.0 428.0,341.2 429.0,328.5 430.0,331.0 431.0,341.4 432.0,330.2 433.0,330.9 434.0,336.4 435.0,333.4 436.0,335.9 437.0,338.3 438.0,341.9 439.0,338.3 440.0,338.6 441.0,343.5 442.0,343.7 443.0,334.6 444.0,326.8 445.0,330.9 446.0,341.3 447.0,333.4 448.0,332.3 449.0,333.5 450.0,343.8 451.0,336.0 452.0,333.8 453.0,332.0 454.0,329.8 455.0,349.3 456.0,334.7 457.0,335.5 458.0,332.9 459.0,339.7 460.0,329.1 461.0,324.5 462.0,331.3 463.0,336.0 464.0,345.7 465.0,334.0 466.0,330.1 467.0,333.3 468.0,330.5 469.0,330.4 470.0,334.8 471.0,335.8 472.0,331.0 473.0,339.8 474.0,333.8 475.0,334.7 476.0,331.4 477.0,335.7 478.0,335.8 479.0,336.9 480.0,329.3 481.0,336.4 482.0,330.2 483.0,333.4 484.0,336.6 485.0,340.4 486.0,330.4 487.0,327.0 488.0,333.3 489.0,338.7 490.0,331.0 491.0,345.2 492.0,323.9 493.0,341.4 494.0,340.3 495.0,340.7 496.0,331.6 497.0,343.4 498.0,343.1 499.0,344.2 500.0,337.3 501.0,337.7 502.0,345.9 503.0,341.4 504.0,338.0 505.0,335.8 506.0,341.3 507.0,333.1 508.0,342.7 509.0,340.4 510.0,331.6 511.0,341.5 512.0,345.2 513.0,340.4 514.0,332.6 515.0,336.5 516.0,344.1 517.0,333.9 518.0,339.1 519.0,347.4 520.0,340.8 521.0,339.6 522.0,346.8 523.0,351.0 524.0,344.9 525.0,336.1 526.0,334.4 527.0,340.8 528.0,332.5 529.0,340.5 530.0,344.8 531.0,326.1 532.0,337.8 533.0,339.6 534.0,334.6 535.0,338.7 536.0,338.8 537.0,341.2 538.0,349.2 539.0,337.1 540.0,330.9 541.0,330.3 542.0,329.3 543.0,339.3 544.0,337.6 545.0,338.5 546.0,337.3 547.0,344.5 548.0,342.0 549.0,341.5 550.0,332.9 551.0,334.5 552.0,329.3 553.0,332.3 554.0,335.7 555.0,328.7 556.0,331.4 557.0,344.5 558.0,333.2 559.0,326.4 560.0,327.5 561.0,333.3 562.0,337.9 563.0,333.1 564.0,337.8 565.0,334.9 566.0,327.5 567.0,338.1 568.0,330.3 569.0,341.9 570.0,329.1 571.0,331.1 572.0,328.8 573.0,329.9 574.0,333.4 575.0,329.9 576.0,336.6 577.0,332.6 578.0,338.3 579.0,330.5 580.0,336.5 581.0,336.0 582.0,329.1 583.0,342.6 584.0,337.3 585.0,332.4 586.0,328.6 587.0,329.2 588.0,328.9 589.0,331.3 590.0,324.4 591.0,330.7 592.0,327.7 593.0,339.6 594.0,335.4 595.0,340.4 596.0,344.3 597.0,334.9 598.0,342.7 599.0,334.5 600.0,335.6 601.0,327.7 602.0,332.8 603.0,339.4 604.0,334.5 605.0,329.8 606.0,331.5 607.0,327.6 608.0,327.8 609.0,323.9 610.0,336.8 611.0,336.8 612.0,331.0 613.0,325.1 614.0,330.9 615.0,342.6 616.0,326.1 617.0,330.4 618.0,330.8 619.0,337.3 620.0,326.9 621.0,334.7 622.0,329.2 623.0,331.6 624.0,327.5 625.0,336.4 626.0,331.6 627.0,331.4 628.0,340.3 629.0,337.0 630.0,347.5 631.0,338.1 632.0,336.7 633.0,337.2 634.0,350.5 635.0,342.9 636.0,335.1 637.0,338.0 638.0,333.5 639.0,339.2 640.0,333.1 641.0,332.5 642.0,337.4 643.0,341.9 644.0,339.4 645.0,339.1 646.0,335.8 647.0,323.8 648.0,335.6 649.0,335.9 650.0,340.1 651.0,346.8 652.0,342.3 653.0,330.2 654.0,339.6 655.0,338.7 656.0,344.0 657.0,340.5 658.0,331.6 659.0,337.0 660.0,340.3 661.0,331.9 662.0,341.8 663.0,341.0 664.0,347.9 665.0,341.8 666.0,339.0 667.0,341.2 668.0,341.6 669.0,346.0 670.0,335.8 671.0,328.8 672.0,353.6 673.0,343.1 674.0,339.1 675.0,350.8 676.0,332.6 677.0,334.3 678.0,336.1 679.0,340.9 680.0,336.4 681.0,342.7 682.0,337.1 683.0,345.6 684.0,341.6 685.0,331.1 686.0,339.6 687.0,334.3 688.0,339.5 689.0,340.4 690.0,351.8 691.0,339.3 692.0,332.2 693.0,340.7 694.0,333.9 695.0,348.7 696.0,342.6 697.0,346.5 698.0,336.2 699.0,332.6 700.0,339.1 701.0,330.4 702.0,332.4 703.0,333.4 704.0,336.5 705.0,329.4 706.0,326.5 707.0,344.0 708.0,333.6 709.0,335.1 710.0,338.6 711.0,337.3 712.0,331.2 713.0,331.7 714.0,341.6 715.0,339.3 716.0,336.2 717.0,340.4 718.0,321.9 719.0,331.7 720.0,329.2 721.0,320.5 722.0,331.7 723.0,333.1 724.0,331.0 725.0,320.4 726.0,328.4 727.0,330.6 728.0,328.2 729.0,330.8 730.0,331.7 731.0,336.1 732.0,329.7 733.0,341.6 734.0,328.9 735.0,329.0 736.0,331.2 737.0,326.7 738.0,325.3 739.0,333.2 740.0,316.0 741.0,317.8 742.0,337.4 743.0,330.4 744.0,329.3 745.0,327.9 746.0,327.5 747.0,320.9 748.0,324.0 749.0,319.9 750.0,330.7 751.0,327.9 752.0,325.6 753.0,326.1 754.0,323.1 755.0,317.6 756.0,331.7 757.0,325.8 758.0,321.0 759.0,324.3 760.0,327.1 761.0,326.3 762.0,323.4 763.0,324.2 764.0,318.9 765.0,327.2 766.0,325.6 767.0,326.2 768.0,315.5 769.0,326.3 770.0,327.4 771.0,329.1 772.0,312.8 773.0,317.5 774.0,329.4 775.0,323.9 776.0,331.3 777.0,329.2 778.0,334.2 779.0,326.9 780.0,324.1 781.0,331.9 782.0,327.5 783.0,322.6 784.0,318.2 785.0,344.3 786.0,326.4 787.0,327.1 788.0,318.3 789.0,323.3 790.0,327.7 791.0,330.2 792.0,332.5 793.0,324.5 794.0,330.6 795.0,333.9 796.0,325.1 797.0,327.2 798.0,318.2 799.0,323.2 800.0,320.4 801.0,331.3 802.0,327.4 803.0,337.1 804.0,330.5 805.0,334.3 806.0,333.5 807.0,332.6 808.0,326.8 809.0,341.5 810.0,333.1 811.0,324.7 812.0,331.8 813.0,329.5 814.0,341.6 815.0,341.3 816.0,344.0 817.0,347.5 818.0,333.0" fill="none" stroke="#C77CFF" stroke-width="1.7" stroke-linejoin="round"/>
<polyline points="1058.3,486.5 1059.0,427.7 1059.4,417.1 1059.8,408.3 1060.2,405.2 1060.6,377.8 1061.0,372.5 1061.4,366.0 1061.8,371.9 1062.2,377.0 1062.6,368.3 1063.0,369.6 1063.4,352.1 1063.8,363.6 1064.2,355.3 1064.6,371.8 1065.0,365.1 1065.4,364.6 1065.8,357.1 1066.2,360.4 1066.6,359.7 1067.0,352.0 1067.4,349.7 1067.8,350.8 1068.2,346.1 1068.6,344.6 1069.0,345.0 1069.4,340.5 1069.8,348.6 1070.2,332.1 1070.6,347.2 1071.0,337.3 1071.4,337.5 1071.8,332.1 1072.2,340.1 1072.6,339.6 1073.0,342.8 1073.4,338.6 1073.8,343.1 1074.2,354.8 1074.6,346.0 1075.0,339.8 1075.4,349.8 1075.8,342.7 1076.2,347.1 1076.6,346.8 1077.0,339.7 1077.4,329.0 1077.8,338.6 1078.2,343.6 1078.6,336.8 1079.0,341.3 1079.4,344.2 1079.8,333.7 1080.2,344.7 1080.6,346.9 1081.0,343.2 1081.4,343.7 1081.8,343.3 1082.2,351.1 1082.6,338.1 1083.0,337.4 1083.4,341.9 1083.8,332.8 1084.2,329.4 1084.6,334.5 1085.0,343.3 1085.4,344.6 1085.8,332.0 1086.2,330.0 1086.6,340.3 1087.0,341.0 1087.4,341.5 1087.8,345.7 1088.2,348.7 1088.6,341.4 1089.0,343.1 1089.4,331.2 1089.8,329.9 1090.2,338.5 1090.6,340.7 1091.0,340.7 1091.4,339.6 1091.8,340.7 1092.2,340.8 1092.6,324.2 1093.0,330.8 1093.4,338.6 1093.8,339.7 1094.2,326.0 1094.6,343.5 1095.0,333.1 1095.4,334.4 1095.8,337.6 1096.2,340.5 1096.6,326.2 1097.0,341.7 1097.4,335.5 1097.8,329.8 1098.2,332.6 1098.6,319.9 1099.0,329.5 1099.4,334.6 1099.8,328.5 1100.2,330.6 1100.6,331.5 1101.0,332.5 1101.4,338.6 1101.8,331.5 1102.2,329.7 1102.6,334.6 1103.0,344.3 1103.4,328.3 1103.8,333.4 1104.2,319.4 1104.6,338.0 1105.0,333.0 1105.4,336.9 1105.8,327.3 1106.2,320.4 1106.6,332.5 1107.0,331.2 1107.4,320.2 1107.8,315.9 1108.2,328.0 1108.6,323.6 1109.0,341.3 1109.4,319.9 1109.8,320.0 1110.2,322.4 1110.6,312.0 1111.0,316.9 1111.4,333.2 1111.8,321.6 1112.2,318.5 1112.6,314.4 1113.0,326.9 1113.4,327.9 1113.8,326.0 1114.2,322.5 1114.6,327.9 1115.0,329.2 1115.4,323.1 1115.8,332.4 1116.2,315.4 1116.6,321.4 1117.0,328.3 1117.4,330.1 1117.8,323.6 1118.2,333.6 1118.6,338.5 1119.0,334.7 1119.4,333.3 1119.8,337.2 1120.2,334.3 1120.6,324.1 1121.0,330.0 1121.4,339.4 1121.8,323.2 1122.2,330.6 1122.6,327.2 1123.0,323.3 1123.4,322.1 1123.8,328.8 1124.2,329.6 1124.6,329.0 1125.0,317.1 1125.4,324.2 1125.8,327.9 1126.2,331.4 1126.6,329.3 1127.0,330.0 1127.4,331.5 1127.8,329.5 1128.2,318.6 1128.6,324.0 1129.0,318.8 1129.4,307.9 1129.8,312.3 1130.2,336.7 1130.6,315.7 1131.0,308.4 1131.4,319.1 1131.8,332.8 1132.2,322.6 1132.6,325.6 1133.0,321.2 1133.4,322.4 1133.8,331.1 1134.2,328.0 1134.6,322.3 1135.0,328.6 1135.4,329.7 1135.8,321.3 1136.2,324.4 1136.6,324.2 1137.0,318.1 1137.4,329.9 1137.8,321.2 1138.2,318.3 1138.6,311.5 1139.0,314.4 1139.4,332.9 1139.8,316.0 1140.2,326.7 1140.6,322.2 1141.0,328.6 1141.4,329.9 1141.8,321.7 1142.2,325.5 1142.6,328.6 1143.0,329.1 1143.4,328.4 1143.8,326.6 1144.2,332.6 1144.6,336.6 1145.0,331.0 1145.4,321.9 1145.8,328.3 1146.2,325.0 1146.6,326.3 1147.0,334.0 1147.4,319.3 1147.8,319.3 1148.2,312.4 1148.6,315.2 1149.0,312.5 1149.4,325.9 1149.8,317.1 1150.2,311.2 1150.6,327.6 1151.0,306.9 1151.4,321.9 1151.8,323.8 1152.2,322.1 1152.6,318.1 1153.0,320.5 1153.4,320.7 1153.8,329.7 1154.2,311.1 1154.6,324.4 1155.0,330.1 1155.4,326.5 1155.8,319.4 1156.2,330.4 1156.6,327.5 1157.0,337.8 1157.4,341.6 1157.8,332.7 1158.2,319.3 1158.6,330.1 1159.0,324.8 1159.4,334.6 1159.8,340.6 1160.2,331.0 1160.6,341.6 1161.0,337.6 1161.4,331.7 1161.8,321.1 1162.2,327.6 1162.6,317.0 1163.0,332.8 1163.4,326.5 1163.8,334.4 1164.2,327.1 1164.6,312.4 1165.0,329.0 1165.4,330.7 1165.8,335.2 1166.2,317.7 1166.6,317.8 1167.0,323.9 1167.4,316.2 1167.8,313.8 1168.2,315.3 1168.6,338.9 1169.0,317.7 1169.4,315.0 1169.8,318.6 1170.2,321.6 1170.6,330.0 1171.0,327.9 1171.4,327.1 1171.8,322.5 1172.2,323.5 1172.6,318.5 1173.0,313.1 1173.4,336.2 1173.8,320.1 1174.2,329.7 1174.6,321.0 1175.0,322.4 1175.4,321.7 1175.8,313.4 1176.2,321.5 1176.6,323.9 1177.0,326.3 1177.4,323.5 1177.8,326.3 1178.2,320.9 1178.6,318.4 1179.0,305.1 1179.4,314.0 1179.8,327.3 1180.2,317.8 1180.6,322.1 1181.0,315.6 1181.4,312.8 1181.8,330.8 1182.2,320.3 1182.6,328.2 1183.0,322.5 1183.4,317.7 1183.8,305.7 1184.2,321.5 1184.6,311.2 1185.0,307.5 1185.4,330.4 1185.8,327.4 1186.2,327.2 1186.6,323.5 1187.0,323.0 1187.4,326.0 1187.8,324.2 1188.2,323.5 1188.6,327.7 1189.0,306.7 1189.4,328.4 1189.8,318.4 1190.2,328.0 1190.6,330.0 1191.0,317.0 1191.4,327.7 1191.8,327.8 1192.2,318.3 1192.6,319.7 1193.0,324.1 1193.4,309.2 1193.8,321.1 1194.2,325.5 1194.6,321.6 1195.0,314.3 1195.4,322.3 1195.8,334.8 1196.2,333.5 1196.6,324.0 1197.0,319.4 1197.4,324.3 1197.8,324.1 1198.2,319.3 1198.6,321.1 1199.0,327.0 1199.4,328.6 1199.8,306.3 1200.2,328.3 1200.6,322.5 1201.0,328.9 1201.4,321.1 1201.8,323.9 1202.2,331.6 1202.6,301.6 1203.0,331.2 1203.4,322.1 1203.8,309.1 1204.2,303.7 1204.6,323.2 1205.0,314.8 1205.4,328.2 1205.8,323.5 1206.2,321.6 1206.6,329.4 1207.0,324.6 1207.4,328.6 1207.8,329.5 1208.2,326.5 1208.6,329.7 1209.0,329.6 1209.4,315.4 1209.8,322.1 1210.2,322.6 1210.6,320.2 1211.0,311.4 1211.4,317.0 1211.8,321.8 1212.2,319.8 1212.6,327.3 1213.0,312.4 1213.4,312.5 1213.8,310.8 1214.2,311.7 1214.6,309.3 1215.0,300.8 1215.4,315.0 1215.8,319.2 1216.2,320.3 1216.6,306.3 1217.0,312.6 1217.4,326.5 1217.8,314.6 1218.2,318.3 1218.6,316.0 1219.0,324.4 1219.4,325.0 1219.8,334.6 1220.2,323.4 1220.6,323.6 1221.0,313.3 1221.4,318.9 1221.8,317.3 1222.2,319.9 1222.6,313.5 1223.0,329.9 1223.4,315.0 1223.8,323.4 1224.2,313.2 1224.6,323.3 1225.0,331.4 1225.4,315.0 1225.8,322.2 1226.2,319.1 1226.6,321.0 1227.0,321.5 1227.4,314.4 1227.8,317.1 1228.2,314.4 1228.6,312.8 1229.0,310.3 1229.4,324.7 1229.8,314.0 1230.2,323.5 1230.6,323.2 1231.0,313.6 1231.4,327.6 1231.8,315.8 1232.2,326.1 1232.6,332.2 1233.0,318.6 1233.4,317.7 1233.8,318.0 1234.2,339.3 1234.6,321.9 1235.0,316.0 1235.4,329.1 1235.8,322.1 1236.2,322.3 1236.6,315.2 1237.0,306.4 1237.4,315.2 1237.8,312.3 1238.2,307.8 1238.6,310.7 1239.0,311.2 1239.4,322.3 1239.8,321.7 1240.2,320.7 1240.6,314.3 1241.0,310.1 1241.4,321.0 1241.8,322.8 1242.2,327.3 1242.6,321.5 1243.0,321.7 1243.4,325.4 1243.8,318.1 1244.2,319.5 1244.6,329.5 1245.0,317.6 1245.4,325.5 1245.8,331.3 1246.2,327.7 1246.6,328.9 1247.0,318.6 1247.4,324.7 1247.8,323.3 1248.2,328.4 1248.6,326.7 1249.0,323.5 1249.4,335.1 1249.8,325.6 1250.2,319.6 1250.6,317.0 1251.0,320.4 1251.4,316.6 1251.8,330.8 1252.2,323.9 1252.6,318.3 1253.0,316.2 1253.4,313.8 1253.8,319.3 1254.2,330.1 1254.6,327.4 1255.0,322.0 1255.4,323.7 1255.8,311.0 1256.2,328.3 1256.6,322.2 1257.0,332.7 1257.4,322.8 1257.8,320.9 1258.2,325.5 1258.6,319.9 1259.0,332.7 1259.4,325.8 1259.8,326.4 1260.2,326.2 1260.6,321.8 1261.0,327.4 1261.4,325.6 1261.8,336.2 1262.2,325.5 1262.6,327.9 1263.0,323.0 1263.4,323.9 1263.8,324.6 1264.2,335.3 1264.6,327.6 1265.0,333.5 1265.4,325.4 1265.8,324.6 1266.2,314.3 1266.6,332.0 1267.0,339.7 1267.4,324.6 1267.8,335.1 1268.2,331.0 1268.6,320.6 1269.0,329.7 1269.4,318.5 1269.8,322.0 1270.2,331.4 1270.6,324.1 1271.0,315.1 1271.4,331.6 1271.8,315.0 1272.2,321.0 1272.6,319.7 1273.0,321.0 1273.4,316.7 1273.8,312.0 1274.2,335.0 1274.6,317.2 1275.0,318.0 1275.4,308.3 1275.8,325.1 1276.2,333.2 1276.6,334.1 1277.0,343.2 1277.4,335.0 1277.8,328.0 1278.2,325.5 1278.6,334.6 1279.0,325.1 1279.4,326.6 1279.8,319.2 1280.2,326.2 1280.6,338.5 1281.0,325.3 1281.4,328.5 1281.8,310.4 1282.2,334.7 1282.6,328.3 1283.0,334.7 1283.4,326.6 1283.8,318.9 1284.2,314.7 1284.6,325.9 1285.0,321.4 1285.4,314.1 1285.8,318.8 1286.2,314.1 1286.6,321.8 1287.0,313.6 1287.4,307.5 1287.8,314.2 1288.2,310.6 1288.6,323.5 1289.0,310.7 1289.4,305.0 1289.8,313.1 1290.2,311.9 1290.6,315.4 1291.0,315.3 1291.4,307.5 1291.8,314.3 1292.2,314.5 1292.6,308.0 1293.0,312.8 1293.4,318.7 1293.8,307.9 1294.2,312.2 1294.6,317.3 1295.0,320.8 1295.4,325.7 1295.8,314.5 1296.2,326.0 1296.6,328.6 1297.0,335.0 1297.4,322.3 1297.8,319.0 1298.2,314.6 1298.6,327.7 1299.0,331.8 1299.4,318.2 1299.8,324.8 1300.2,326.8 1300.6,326.7 1301.0,317.4 1301.4,323.8 1301.8,319.1 1302.2,313.2 1302.6,321.1 1303.0,321.9 1303.4,313.6 1303.8,323.1 1304.2,333.6 1304.6,311.3 1305.0,326.0 1305.4,327.7 1305.8,322.3 1306.2,324.3 1306.6,320.6 1307.0,331.2 1307.4,316.4 1307.8,321.6 1308.2,309.9 1308.6,324.7 1309.0,325.2 1309.4,312.1 1309.8,317.6 1310.2,326.8 1310.6,320.9 1311.0,316.7 1311.4,308.7 1311.8,327.5 1312.2,338.2 1312.6,322.7 1313.0,328.6 1313.4,328.4 1313.8,324.9 1314.2,325.8 1314.6,325.6 1315.0,318.8 1315.4,340.4 1315.8,341.6 1316.2,325.8 1316.6,335.2 1317.0,318.2 1317.4,322.0 1317.8,330.9 1318.2,316.1 1318.6,315.2 1319.0,325.9 1319.4,310.9 1319.8,335.1 1320.2,328.8 1320.6,325.6 1321.0,328.3 1321.4,318.0 1321.8,317.7 1322.2,329.2 1322.6,329.7 1323.0,324.4 1323.4,322.9 1323.8,319.5 1324.2,331.9 1324.6,312.9 1325.0,316.8 1325.4,318.6 1325.8,311.9 1326.2,312.9 1326.6,314.6 1327.0,327.5 1327.4,332.3 1327.8,322.6 1328.2,309.5 1328.6,315.9 1329.0,318.8 1329.4,317.9 1329.8,317.3 1330.2,323.1 1330.6,307.3 1331.0,316.5 1331.4,322.0 1331.8,325.7 1332.2,323.4 1332.6,322.1 1333.0,321.6 1333.4,318.6 1333.8,324.0 1334.2,322.5 1334.6,319.5 1335.0,332.3 1335.4,332.4 1335.8,322.4 1336.2,329.0 1336.6,332.8 1337.0,326.8 1337.4,325.9 1337.8,328.2 1338.2,314.3 1338.6,315.6 1339.0,328.2 1339.4,326.5 1339.8,333.6 1340.2,321.5 1340.6,331.8 1341.0,331.6 1341.4,337.6 1341.8,319.6 1342.2,322.5 1342.6,326.7 1343.0,326.6 1343.4,318.4 1343.8,321.1 1344.2,316.2 1344.6,339.5 1345.0,323.9 1345.4,324.0 1345.8,319.9 1346.2,323.8 1346.6,328.5 1347.0,321.1 1347.4,323.0 1347.8,337.3 1348.2,329.3 1348.6,325.0 1349.0,320.9 1349.4,323.7 1349.8,319.2 1350.2,326.0 1350.6,319.9 1351.0,319.5 1351.4,321.4 1351.8,316.8 1352.2,324.6 1352.6,339.2 1353.0,318.3 1353.4,311.0 1353.8,327.6 1354.2,320.3 1354.6,333.7 1355.0,323.2 1355.4,326.9 1355.8,316.1 1356.2,311.1 1356.6,320.7 1357.0,326.6 1357.4,317.1 1357.8,312.6 1358.2,319.2 1358.6,320.2 1359.0,320.8 1359.4,322.4 1359.8,337.7 1360.2,321.9 1360.6,318.0 1361.0,313.8 1361.4,325.7 1361.8,310.0 1362.2,329.6 1362.6,320.3 1363.0,310.8 1363.4,322.2 1363.8,320.7 1364.2,329.9 1364.6,312.8 1365.0,324.3 1365.4,323.3 1365.8,329.8 1366.2,316.7 1366.6,319.3 1367.0,337.4 1367.4,328.5 1367.8,315.7 1368.2,327.8 1368.6,321.0 1369.0,322.1 1369.4,319.2 1369.8,334.0 1370.2,324.5 1370.6,329.5 1371.0,328.8 1371.4,318.4 1371.8,323.1 1372.2,332.5 1372.6,316.7 1373.0,327.8 1373.4,324.8 1373.8,328.9 1374.2,328.4 1374.6,328.7 1375.0,323.3 1375.4,324.3 1375.8,317.9 1376.2,319.0 1376.6,328.6 1377.0,319.2 1377.4,330.1 1377.8,330.3 1378.2,319.0 1378.6,328.1 1379.0,319.3 1379.4,326.7 1379.8,319.3 1380.2,326.1 1380.6,324.5 1381.0,316.0 1381.4,335.4 1381.8,327.6 1382.2,310.4 1382.6,322.5 1383.0,317.1 1383.4,333.0 1383.8,319.3 1384.2,322.5 1384.6,319.1 1385.0,324.9 1385.4,318.0 1385.8,316.4 1386.2,319.6 1386.6,320.8 1387.0,328.1 1387.4,325.0 1387.8,321.9 1388.2,322.2 1388.6,318.9 1389.0,325.6 1389.4,311.3 1389.8,322.8 1390.2,331.5 1390.6,321.2 1391.0,318.9 1391.4,323.1 1391.8,316.5 1392.2,317.3 1392.6,326.3 1393.0,317.4 1393.4,333.8 1393.8,324.1 1394.2,319.3 1394.6,315.2 1395.0,316.8 1395.4,302.9 1395.8,318.3 1396.2,321.7 1396.6,319.0 1397.0,311.9 1397.4,318.4 1397.8,318.4 1398.2,313.5 1398.6,317.0 1399.0,322.0 1399.4,318.9 1399.8,314.2 1400.2,317.4 1400.6,319.0 1401.0,308.1 1401.4,319.7 1401.8,318.3 1402.2,305.0 1402.6,307.8 1403.0,330.2 1403.4,318.8 1403.8,326.2 1404.2,314.4 1404.6,326.1 1405.0,319.2 1405.4,310.4 1405.8,316.0 1406.2,323.8 1406.6,328.7 1407.0,316.1 1407.4,309.6 1407.8,306.7 1408.2,316.7 1408.6,319.4 1409.0,313.3 1409.4,311.9 1409.8,318.2 1410.2,316.5 1410.6,316.3 1411.0,304.2 1411.4,312.4 1411.8,327.3 1412.2,315.4 1412.6,331.7 1413.0,318.9 1413.4,314.8 1413.8,318.9 1414.2,321.2 1414.6,312.8 1415.0,319.2 1415.4,315.0 1415.8,327.1 1416.2,314.6 1416.6,318.0 1417.0,307.1 1417.4,307.6 1417.8,315.5 1418.2,309.6 1418.6,313.2 1419.0,316.2 1419.4,317.9 1419.8,304.8 1420.2,312.6 1420.6,318.0 1421.0,309.3 1421.4,305.4 1421.8,309.7 1422.2,325.1 1422.6,315.1 1423.0,325.6 1423.4,314.0 1423.8,324.2 1424.2,307.6 1424.6,315.9 1425.0,318.6 1425.4,329.9 1425.8,322.0 1426.2,326.6 1426.6,316.9 1427.0,317.3 1427.4,328.5 1427.8,329.6 1428.2,328.5 1428.6,328.3 1429.0,317.1 1429.4,334.4 1429.8,321.4 1430.2,328.4 1430.6,324.9 1431.0,308.5 1431.4,307.2 1431.8,309.3 1432.2,319.4 1432.6,326.9 1433.0,317.9 1433.4,325.0 1433.8,311.3 1434.2,315.1 1434.6,313.2 1435.0,319.0 1435.4,311.1 1435.8,317.8 1436.2,322.1 1436.6,315.2 1437.0,312.4 1437.4,315.4 1437.8,310.6 1438.2,312.1 1438.6,324.4 1439.0,321.6 1439.4,310.3 1439.8,318.1 1440.2,323.0 1440.6,325.4 1441.0,324.4 1441.4,326.6 1441.8,319.9 1442.2,319.9 1442.6,318.3 1443.0,326.8 1443.4,325.0 1443.8,330.8 1444.2,326.2 1444.6,313.2 1445.0,308.4 1445.4,308.4 1445.8,311.1 1446.2,320.3 1446.6,306.6 1447.0,302.0 1447.4,313.6 1447.8,319.7 1448.2,319.2 1448.6,324.8 1449.0,313.5 1449.4,309.9 1449.8,311.4 1450.2,304.5 1450.6,308.7 1451.0,321.2 1451.4,326.3 1451.8,320.7 1452.2,314.2 1452.6,310.6 1453.0,313.7 1453.4,299.9 1453.8,316.0 1454.2,317.5 1454.6,311.6 1455.0,312.7 1455.4,301.5 1455.8,317.6 1456.2,317.5 1456.6,294.0 1457.0,307.9 1457.4,313.6 1457.8,321.8 1458.2,304.8 1458.6,309.7 1459.0,319.1 1459.4,312.2 1459.8,307.4 1460.2,305.6 1460.6,308.5 1461.0,303.0 1461.4,314.7 1461.8,302.4 1462.2,311.8 1462.6,314.3 1463.0,316.1 1463.4,309.2 1463.8,308.7 1464.2,310.9 1464.6,309.4 1465.0,316.1 1465.4,308.4 1465.8,321.7 1466.2,327.5 1466.6,305.1 1467.0,312.1 1467.4,302.0 1467.8,314.6 1468.2,312.6 1468.6,308.8 1469.0,303.7 1469.4,311.0 1469.8,324.5 1470.2,322.4 1470.6,315.2 1471.0,309.4 1471.4,314.1 1471.8,309.8 1472.2,307.0 1472.6,310.3 1473.0,321.1 1473.4,319.6 1473.8,319.0 1474.2,310.8 1474.6,308.7 1475.0,324.3 1475.4,315.1 1475.8,324.8 1476.2,311.8 1476.6,322.6 1477.0,317.5 1477.4,312.9 1477.8,312.8 1478.2,328.3 1478.6,322.0 1479.0,314.6 1479.4,317.9 1479.8,307.2 1480.2,329.1 1480.6,327.5 1481.0,316.1 1481.4,322.1 1481.8,301.2 1482.2,325.8 1482.6,322.5 1483.0,321.1 1483.4,324.7 1483.8,321.1 1484.2,312.6 1484.6,314.2 1485.0,317.3 1485.4,324.1 1485.8,318.1 1486.2,313.2 1486.6,319.5 1487.0,308.6 1487.4,329.6 1487.8,317.3 1488.2,308.1 1488.6,314.9 1489.0,320.2 1489.4,316.1 1489.8,325.4 1490.2,302.4 1490.6,321.9 1491.0,311.2 1491.4,317.2 1491.8,322.8 1492.2,303.8 1492.6,302.6 1493.0,309.4 1493.4,301.1 1493.8,298.8 1494.2,312.4 1494.6,319.4 1495.0,308.6 1495.4,315.0 1495.8,335.8 1496.2,314.0 1496.6,310.0 1497.0,311.1 1497.4,315.3 1497.8,311.0 1498.2,317.7 1498.6,315.1 1499.0,320.1 1499.4,315.4 1499.8,314.3 1500.2,309.2 1500.6,306.5 1501.0,314.0 1501.4,313.5 1501.8,318.0 1502.2,315.5 1502.6,313.3 1503.0,330.2 1503.4,317.0 1503.8,322.2 1504.2,306.9 1504.6,319.4 1505.0,319.7 1505.4,314.3 1505.8,304.9 1506.2,318.5 1506.6,305.3 1507.0,299.7 1507.4,299.2 1507.8,310.4 1508.2,307.0 1508.6,315.7 1509.0,315.1 1509.4,320.0 1509.8,313.5 1510.2,312.2 1510.6,311.7 1511.0,306.5 1511.4,306.3 1511.8,307.0 1512.2,313.3 1512.6,306.3 1513.0,311.4 1513.4,319.2 1513.8,296.6 1514.2,306.7 1514.6,306.1 1515.0,312.6 1515.4,303.0 1515.8,308.4 1516.2,327.8 1516.6,303.8 1517.0,312.0 1517.4,313.8 1517.8,310.3 1518.2,304.2 1518.6,318.4 1519.0,299.3 1519.4,305.4 1519.8,310.1 1520.2,307.5 1520.6,319.3 1521.0,309.7 1521.4,324.3 1521.8,311.9 1522.2,322.2 1522.6,314.9 1523.0,310.7 1523.4,310.5 1523.8,319.1 1524.2,309.0 1524.6,312.4 1525.0,307.5 1525.4,299.5 1525.8,316.5 1526.2,317.4 1526.6,305.5 1527.0,316.8 1527.4,312.4 1527.8,301.8 1528.2,308.3 1528.6,319.0 1529.0,321.5 1529.4,317.3 1529.8,333.0 1530.2,316.9 1530.6,309.5 1531.0,304.6 1531.4,323.8 1531.8,310.7 1532.2,311.2 1532.6,308.2 1533.0,308.1 1533.4,311.1 1533.8,316.5 1534.2,317.0 1534.6,315.8 1535.0,319.7 1535.4,310.2 1535.8,306.7 1536.2,312.9 1536.6,299.6 1537.0,318.5 1537.4,316.0 1537.8,316.0 1538.2,305.2 1538.6,308.9 1539.0,312.1 1539.4,305.3 1539.8,304.8 1540.2,310.5 1540.6,312.9 1541.0,307.7 1541.4,318.8 1541.8,326.6 1542.2,315.9 1542.6,310.9 1543.0,310.0 1543.4,322.5 1543.8,313.9 1544.2,315.9 1544.6,313.4 1545.0,308.2 1545.4,322.0 1545.8,310.7 1546.2,313.5 1546.6,298.7 1547.0,327.1 1547.4,318.2 1547.8,312.8 1548.2,308.4 1548.6,309.6 1549.0,302.6 1549.4,316.8 1549.8,308.1 1550.2,316.7 1550.6,317.0 1551.0,326.9 1551.4,316.1 1551.8,317.0 1552.2,318.9 1552.6,312.1 1553.0,315.2 1553.4,319.6 1553.8,325.7 1554.2,323.6 1554.6,317.6 1555.0,327.8 1555.4,317.8 1555.8,310.7 1556.2,331.2 1556.6,321.3 1557.0,318.4 1557.4,313.7 1557.8,318.8 1558.2,332.7 1558.6,321.4 1559.0,336.2 1559.4,321.8 1559.8,328.8 1560.2,321.3 1560.6,317.6 1561.0,317.3 1561.4,317.7 1561.8,310.9 1562.2,310.1 1562.6,319.9 1563.0,325.1 1563.4,317.5 1563.8,316.4 1564.2,309.9 1564.6,323.1 1565.0,322.5 1565.4,308.0 1565.8,316.1 1566.2,313.4 1566.6,305.8 1567.0,325.9 1567.4,323.0 1567.8,317.2 1568.2,324.1 1568.6,311.2 1569.0,316.1 1569.4,322.9 1569.8,312.0 1570.2,315.8 1570.6,307.4 1571.0,317.9 1571.4,321.3 1571.8,307.4 1572.2,308.7 1572.6,313.5 1573.0,323.2 1573.4,310.7 1573.8,308.7 1574.2,313.4 1574.6,321.5 1575.0,304.0 1575.4,312.7 1575.8,322.2 1576.2,313.4 1576.6,311.6 1577.0,319.0 1577.4,305.5 1577.8,326.9 1578.2,316.9 1578.6,311.5 1579.0,314.9 1579.4,314.4 1579.8,313.4 1580.2,307.7 1580.6,314.5 1581.0,305.1 1581.4,325.5 1581.8,309.2 1582.2,311.6 1582.6,310.9 1583.0,320.3 1583.4,313.8 1583.8,323.9 1584.2,311.0 1584.6,314.5 1585.0,312.6 1585.4,310.6 1585.8,319.9 1586.2,320.7 1586.6,321.5 1587.0,304.4 1587.4,316.3 1587.8,307.4 1588.2,308.0 1588.6,304.6 1589.0,311.1 1589.4,321.9 1589.8,327.9 1590.2,330.7 1590.6,314.0 1591.0,316.2 1591.4,322.0 1591.8,321.5 1592.2,321.9 1592.6,309.0 1593.0,319.0 1593.4,323.8 1593.8,321.4 1594.2,318.6 1594.6,314.4 1595.0,318.2 1595.4,329.0 1595.8,321.7 1596.2,325.2 1596.6,329.2 1597.0,311.4 1597.4,323.1 1597.8,322.1 1598.2,328.1 1598.6,318.3 1599.0,318.9 1599.4,316.5 1599.8,322.4 1600.2,319.7 1600.6,320.7 1601.0,324.0 1601.4,319.4 1601.8,315.8 1602.2,319.0 1602.6,318.0 1603.0,324.1 1603.4,329.2 1603.8,318.8 1604.2,304.9 1604.6,324.5 1605.0,320.2 1605.4,314.4 1605.8,318.8 1606.2,332.2 1606.6,310.2 1607.0,311.8 1607.4,318.4 1607.8,297.8 1608.2,314.2 1608.6,322.6 1609.0,318.8 1609.4,316.8 1609.8,311.3 1610.2,311.8 1610.6,330.1 1611.0,313.5 1611.4,320.7 1611.8,303.9 1612.2,313.9 1612.6,315.1 1613.0,314.1 1613.4,299.4 1613.8,311.0 1614.2,323.5 1614.6,317.7 1615.0,308.9 1615.4,319.6 1615.8,301.4 1616.2,317.1 1616.6,315.2 1617.0,308.6 1617.4,305.6 1617.8,301.2 1618.2,310.2 1618.6,322.8 1619.0,317.0 1619.4,313.9 1619.8,317.3 1620.2,307.4 1620.6,314.8 1621.0,292.5 1621.4,308.3 1621.8,308.5 1622.2,311.3 1622.6,310.7 1623.0,315.7 1623.4,307.8 1623.8,317.9 1624.2,310.2 1624.6,317.5 1625.0,312.6 1625.4,317.4 1625.8,315.0 1626.2,308.3 1626.6,313.6 1627.0,304.1 1627.4,313.2 1627.8,315.7 1628.2,311.7 1628.6,312.6 1629.0,320.2 1629.4,321.8 1629.8,323.1 1630.2,310.1 1630.6,310.7 1631.0,318.3 1631.4,318.5 1631.8,300.4 1632.2,324.6 1632.6,318.7 1633.0,302.6 1633.4,317.7 1633.8,307.0 1634.2,308.6 1634.6,302.7 1635.0,303.5 1635.4,306.2 1635.8,309.2 1636.2,301.4 1636.6,308.1 1637.0,304.0 1637.4,305.2 1637.8,303.0 1638.2,304.8 1638.6,319.4 1639.0,298.6 1639.4,300.6 1639.8,308.7 1640.2,305.9 1640.6,302.3 1641.0,311.7 1641.4,301.4 1641.8,308.8 1642.2,314.9 1642.6,312.3 1643.0,306.7 1643.4,308.6 1643.8,309.8 1644.2,312.8 1644.6,303.0 1645.0,317.9 1645.4,315.1 1645.8,322.9 1646.2,316.8 1646.6,318.5 1647.0,293.0 1647.4,309.5 1647.8,324.6 1648.2,314.8 1648.6,309.1 1649.0,316.1 1649.4,311.5 1649.8,312.8 1650.2,304.8 1650.6,312.1 1651.0,317.8 1651.4,308.8 1651.8,309.4 1652.2,301.4 1652.6,308.6 1653.0,302.5 1653.4,296.1 1653.8,302.1 1654.2,303.4 1654.6,308.8 1655.0,311.7 1655.4,304.6 1655.8,304.1 1656.2,311.1 1656.6,301.6 1657.0,305.8 1657.4,306.8 1657.8,307.5 1658.2,304.9 1658.6,319.4 1659.0,314.9 1659.4,307.4 1659.8,298.9 1660.2,304.6 1660.6,311.4 1661.0,294.5 1661.4,323.1 1661.8,306.1 1662.2,306.1 1662.6,310.4 1663.0,297.0 1663.4,306.8 1663.8,306.5 1664.2,311.5 1664.6,300.7 1665.0,311.8 1665.4,316.1 1665.8,310.9 1666.2,306.1 1666.6,304.8 1667.0,299.4 1667.4,307.9 1667.8,315.4 1668.2,322.4 1668.6,319.9 1669.0,321.3 1669.4,310.7 1669.8,311.3 1670.2,304.3 1670.6,310.1 1671.0,307.2 1671.4,313.1 1671.8,319.1 1672.2,314.0 1672.6,312.6 1673.0,319.1 1673.4,324.4 1673.8,321.4 1674.2,303.1 1674.6,325.3 1675.0,310.7 1675.4,303.9 1675.8,310.6 1676.2,319.1 1676.6,294.9 1677.0,320.3 1677.4,312.7 1677.8,314.5 1678.2,301.4 1678.6,306.3 1679.0,302.0 1679.4,316.6 1679.8,303.4 1680.2,310.5 1680.6,303.5 1681.0,296.6 1681.4,313.0 1681.8,314.9 1682.2,316.9 1682.6,303.5 1683.0,307.6 1683.4,312.0 1683.8,309.9 1684.2,309.4 1684.6,323.5 1685.0,305.8 1685.4,314.5 1685.8,305.3 1686.2,318.0 1686.6,306.9 1687.0,301.9 1687.4,312.8 1687.8,307.7 1688.2,304.2 1688.6,304.6 1689.0,301.2 1689.4,307.9 1689.8,305.9 1690.2,313.8 1690.6,297.9 1691.0,311.1 1691.4,304.8 1691.8,291.6 1692.2,310.3 1692.6,288.8 1693.0,303.7 1693.4,288.3 1693.8,302.5 1694.2,298.6 1694.6,299.8 1695.0,289.7 1695.4,297.9 1695.8,311.4 1696.2,308.6 1696.6,304.9 1697.0,305.3 1697.4,302.6 1697.8,317.0 1698.2,307.9 1698.6,315.7 1699.0,299.3 1699.4,299.2 1699.8,318.6 1700.2,304.2 1700.6,309.0 1701.0,313.6 1701.4,316.8 1701.8,315.2 1702.2,314.9 1702.6,322.1 1703.0,313.3 1703.4,317.7 1703.8,312.2 1704.2,313.0 1704.6,324.4 1705.0,310.4 1705.4,295.5 1705.8,312.6 1706.2,313.4 1706.6,324.2 1707.0,309.8 1707.4,304.7 1707.8,313.2 1708.2,324.5 1708.6,310.1 1709.0,320.7 1709.4,315.7 1709.8,316.7 1710.2,307.0 1710.6,313.1 1711.0,307.4 1711.4,313.0 1711.8,308.6 1712.2,320.8 1712.6,310.3 1713.0,312.5 1713.4,299.6 1713.8,307.8 1714.2,330.2 1714.6,311.4 1715.0,303.1 1715.4,313.2 1715.8,311.2 1716.2,308.9 1716.6,309.7 1717.0,308.2 1717.4,317.1 1717.8,302.9 1718.2,312.2 1718.6,316.5 1719.0,305.4 1719.4,326.5 1719.8,312.5 1720.2,311.8 1720.6,309.2 1721.0,318.2 1721.4,302.7 1721.8,316.8 1722.2,327.2 1722.6,314.4 1723.0,316.9 1723.4,304.5 1723.8,314.7 1724.2,303.4 1724.6,304.4 1725.0,306.2 1725.4,317.7 1725.8,300.3 1726.2,290.5 1726.6,303.3 1727.0,306.9 1727.4,305.7 1727.8,302.4 1728.2,309.7 1728.6,306.5 1729.0,306.2 1729.4,298.0 1729.8,291.5 1730.2,312.0 1730.6,296.2 1731.0,310.8" fill="none" stroke="#F8766D" stroke-width="1.6" stroke-linejoin="round"/>
<polyline points="1058.3,486.5 1059.0,434.1 1059.4,430.7 1059.8,412.7 1060.2,391.5 1060.6,403.5 1061.0,401.9 1061.4,388.6 1061.8,378.7 1062.2,368.8 1062.6,377.7 1063.0,396.9 1063.4,378.7 1063.8,369.7 1064.2,363.8 1064.6,373.3 1065.0,357.7 1065.4,363.3 1065.8,364.3 1066.2,363.1 1066.6,367.4 1067.0,362.7 1067.4,352.4 1067.8,344.1 1068.2,360.5 1068.6,336.9 1069.0,345.6 1069.4,371.7 1069.8,347.7 1070.2,364.0 1070.6,346.9 1071.0,354.2 1071.4,356.3 1071.8,359.2 1072.2,347.1 1072.6,339.5 1073.0,348.0 1073.4,335.6 1073.8,335.6 1074.2,355.5 1074.6,340.7 1075.0,357.6 1075.4,357.5 1075.8,342.1 1076.2,345.6 1076.6,347.5 1077.0,357.9 1077.4,350.0 1077.8,359.5 1078.2,349.9 1078.6,359.2 1079.0,348.5 1079.4,360.6 1079.8,356.8 1080.2,361.0 1080.6,358.3 1081.0,337.4 1081.4,366.2 1081.8,352.8 1082.2,340.7 1082.6,348.0 1083.0,345.8 1083.4,358.7 1083.8,351.2 1084.2,354.4 1084.6,362.4 1085.0,342.7 1085.4,343.2 1085.8,356.6 1086.2,343.0 1086.6,361.8 1087.0,345.7 1087.4,347.2 1087.8,361.0 1088.2,367.0 1088.6,354.0 1089.0,350.3 1089.4,342.2 1089.8,350.0 1090.2,348.4 1090.6,342.4 1091.0,346.5 1091.4,356.3 1091.8,349.3 1092.2,327.1 1092.6,359.3 1093.0,354.2 1093.4,334.3 1093.8,353.3 1094.2,333.2 1094.6,346.6 1095.0,343.0 1095.4,333.8 1095.8,344.2 1096.2,342.5 1096.6,343.1 1097.0,331.6 1097.4,348.2 1097.8,340.7 1098.2,353.9 1098.6,350.2 1099.0,349.3 1099.4,335.7 1099.8,360.3 1100.2,347.7 1100.6,344.8 1101.0,340.6 1101.4,345.0 1101.8,354.0 1102.2,329.1 1102.6,349.1 1103.0,335.5 1103.4,338.4 1103.8,349.5 1104.2,350.4 1104.6,344.7 1105.0,349.9 1105.4,359.8 1105.8,349.5 1106.2,340.6 1106.6,347.3 1107.0,347.7 1107.4,362.4 1107.8,348.7 1108.2,338.6 1108.6,341.6 1109.0,362.0 1109.4,356.4 1109.8,343.3 1110.2,340.8 1110.6,358.0 1111.0,341.5 1111.4,349.4 1111.8,357.3 1112.2,355.9 1112.6,343.1 1113.0,354.9 1113.4,337.8 1113.8,352.5 1114.2,345.9 1114.6,335.5 1115.0,360.8 1115.4,348.9 1115.8,354.0 1116.2,346.8 1116.6,372.8 1117.0,362.3 1117.4,347.7 1117.8,364.9 1118.2,355.8 1118.6,361.0 1119.0,331.1 1119.4,349.3 1119.8,337.8 1120.2,307.8 1120.6,342.7 1121.0,312.6 1121.4,328.9 1121.8,341.7 1122.2,332.7 1122.6,352.4 1123.0,345.9 1123.4,348.5 1123.8,351.2 1124.2,348.9 1124.6,337.5 1125.0,343.0 1125.4,327.2 1125.8,338.4 1126.2,339.0 1126.6,340.3 1127.0,345.2 1127.4,342.9 1127.8,357.3 1128.2,351.7 1128.6,345.1 1129.0,342.9 1129.4,341.5 1129.8,355.8 1130.2,340.3 1130.6,353.8 1131.0,337.5 1131.4,345.3 1131.8,335.2 1132.2,348.4 1132.6,345.6 1133.0,339.1 1133.4,329.3 1133.8,319.4 1134.2,335.9 1134.6,347.7 1135.0,331.4 1135.4,340.6 1135.8,331.1 1136.2,343.6 1136.6,331.4 1137.0,349.3 1137.4,332.1 1137.8,337.4 1138.2,353.7 1138.6,342.6 1139.0,341.3 1139.4,339.4 1139.8,343.8 1140.2,332.4 1140.6,331.1 1141.0,351.7 1141.4,339.7 1141.8,341.2 1142.2,339.3 1142.6,340.4 1143.0,349.0 1143.4,294.3 1143.8,339.2 1144.2,335.4 1144.6,342.1 1145.0,349.9 1145.4,336.6 1145.8,337.3 1146.2,350.0 1146.6,341.8 1147.0,348.2 1147.4,330.5 1147.8,332.1 1148.2,329.0 1148.6,340.0 1149.0,324.1 1149.4,340.1 1149.8,335.3 1150.2,339.5 1150.6,342.0 1151.0,343.1 1151.4,316.5 1151.8,340.1 1152.2,343.8 1152.6,331.4 1153.0,339.5 1153.4,338.5 1153.8,338.5 1154.2,323.0 1154.6,341.2 1155.0,319.3 1155.4,333.1 1155.8,333.4 1156.2,332.2 1156.6,330.6 1157.0,339.0 1157.4,332.5 1157.8,330.1 1158.2,336.5 1158.6,316.0 1159.0,324.0 1159.4,318.3 1159.8,317.8 1160.2,336.2 1160.6,329.7 1161.0,340.7 1161.4,333.8 1161.8,304.3 1162.2,324.9 1162.6,323.3 1163.0,321.2 1163.4,339.3 1163.8,320.6 1164.2,332.9 1164.6,322.8 1165.0,322.0 1165.4,317.7 1165.8,336.0 1166.2,321.8 1166.6,313.6 1167.0,323.1 1167.4,310.4 1167.8,332.5 1168.2,312.3 1168.6,316.4 1169.0,323.3 1169.4,313.1 1169.8,332.6 1170.2,319.7 1170.6,319.6 1171.0,318.0 1171.4,316.0 1171.8,315.8 1172.2,329.4 1172.6,310.7 1173.0,303.4 1173.4,320.5 1173.8,317.1 1174.2,304.7 1174.6,303.3 1175.0,287.5 1175.4,305.1 1175.8,301.5 1176.2,298.9 1176.6,292.6 1177.0,300.5 1177.4,282.2 1177.8,281.5 1178.2,274.3 1178.6,282.1 1179.0,276.3 1179.4,286.1 1179.8,276.8 1180.2,280.1 1180.6,285.9 1181.0,280.6 1181.4,274.2 1181.8,274.8 1182.2,272.6 1182.6,278.6 1183.0,278.5 1183.4,288.1 1183.8,282.8 1184.2,279.1 1184.6,270.4 1185.0,277.1 1185.4,266.3 1185.8,259.5 1186.2,278.9 1186.6,281.8 1187.0,249.4 1187.4,283.4 1187.8,262.4 1188.2,267.9 1188.6,280.7 1189.0,276.2 1189.4,278.5 1189.8,271.6 1190.2,291.8 1190.6,282.1 1191.0,283.0 1191.4,299.6 1191.8,287.9 1192.2,294.0 1192.6,297.1 1193.0,291.9 1193.4,282.3 1193.8,298.6 1194.2,289.5 1194.6,306.3 1195.0,305.6 1195.4,272.8 1195.8,314.8 1196.2,289.2 1196.6,302.6 1197.0,305.0 1197.4,302.3 1197.8,266.3 1198.2,315.8 1198.6,308.6 1199.0,305.6 1199.4,308.6 1199.8,308.0 1200.2,307.2 1200.6,307.5 1201.0,306.4 1201.4,314.4 1201.8,301.1 1202.2,296.9 1202.6,315.4 1203.0,302.3 1203.4,314.0 1203.8,271.9 1204.2,295.6 1204.6,305.6 1205.0,317.2 1205.4,295.5 1205.8,299.0 1206.2,289.5 1206.6,304.2 1207.0,301.2 1207.4,320.2 1207.8,285.1 1208.2,307.5 1208.6,304.6 1209.0,308.8 1209.4,302.4 1209.8,306.5 1210.2,300.2 1210.6,301.5 1211.0,311.7 1211.4,284.9 1211.8,313.8 1212.2,299.2 1212.6,304.4 1213.0,314.4 1213.4,314.4 1213.8,306.5 1214.2,304.3 1214.6,292.7 1215.0,304.5 1215.4,301.5 1215.8,298.8 1216.2,293.4 1216.6,300.7 1217.0,304.2 1217.4,294.0 1217.8,261.8 1218.2,300.9 1218.6,287.3 1219.0,289.1 1219.4,290.4 1219.8,288.2 1220.2,282.4 1220.6,283.7 1221.0,288.8 1221.4,284.8 1221.8,289.5 1222.2,294.5 1222.6,297.0 1223.0,279.9 1223.4,283.2 1223.8,286.1 1224.2,286.9 1224.6,292.4 1225.0,290.4 1225.4,276.3 1225.8,278.5 1226.2,293.6 1226.6,300.9 1227.0,301.9 1227.4,296.4 1227.8,296.6 1228.2,283.7 1228.6,282.7 1229.0,294.8 1229.4,318.6 1229.8,305.6 1230.2,294.8 1230.6,292.7 1231.0,294.8 1231.4,293.8 1231.8,310.0 1232.2,290.9 1232.6,303.3 1233.0,294.1 1233.4,300.8 1233.8,306.5 1234.2,297.8 1234.6,297.5 1235.0,289.7 1235.4,290.2 1235.8,308.3 1236.2,290.3 1236.6,293.6 1237.0,285.4 1237.4,298.0 1237.8,287.0 1238.2,296.0 1238.6,290.4 1239.0,287.3 1239.4,295.1 1239.8,297.6 1240.2,281.2 1240.6,296.8 1241.0,289.1 1241.4,292.7 1241.8,293.4 1242.2,279.3 1242.6,279.9 1243.0,282.8 1243.4,288.2 1243.8,259.5 1244.2,290.2 1244.6,274.0 1245.0,261.4 1245.4,272.1 1245.8,264.3 1246.2,286.3 1246.6,266.6 1247.0,264.3 1247.4,265.3 1247.8,260.1 1248.2,268.0 1248.6,270.8 1249.0,267.0 1249.4,258.4 1249.8,272.5 1250.2,264.8 1250.6,264.6 1251.0,275.9 1251.4,269.5 1251.8,247.1 1252.2,274.1 1252.6,255.5 1253.0,261.6 1253.4,268.6 1253.8,248.8 1254.2,275.2 1254.6,269.6 1255.0,279.5 1255.4,277.0 1255.8,271.7 1256.2,262.0 1256.6,279.0 1257.0,266.1 1257.4,269.5 1257.8,272.1 1258.2,271.4 1258.6,259.0 1259.0,276.6 1259.4,269.8 1259.8,271.5 1260.2,283.1 1260.6,291.2 1261.0,279.2 1261.4,271.1 1261.8,272.2 1262.2,286.3 1262.6,277.1 1263.0,267.8 1263.4,295.0 1263.8,283.7 1264.2,272.4 1264.6,272.6 1265.0,265.5 1265.4,261.7 1265.8,280.3 1266.2,272.8 1266.6,291.0 1267.0,276.1 1267.4,281.2 1267.8,289.9 1268.2,272.8 1268.6,289.0 1269.0,273.1 1269.4,306.5 1269.8,277.6 1270.2,282.4 1270.6,269.8 1271.0,287.4 1271.4,297.6 1271.8,291.7 1272.2,274.7 1272.6,293.6 1273.0,285.1 1273.4,306.7 1273.8,283.6 1274.2,305.7 1274.6,288.5 1275.0,294.4 1275.4,311.4 1275.8,287.3 1276.2,287.3 1276.6,295.5 1277.0,282.1 1277.4,297.4 1277.8,297.8 1278.2,291.2 1278.6,277.0 1279.0,273.1 1279.4,285.1 1279.8,288.4 1280.2,273.4 1280.6,290.0 1281.0,292.7 1281.4,292.6 1281.8,302.5 1282.2,288.2 1282.6,294.5 1283.0,285.2 1283.4,299.8 1283.8,289.5 1284.2,289.7 1284.6,291.8 1285.0,274.4 1285.4,298.0 1285.8,285.3 1286.2,288.1 1286.6,288.0 1287.0,310.4 1287.4,288.9 1287.8,283.9 1288.2,287.6 1288.6,286.0 1289.0,285.5 1289.4,289.3 1289.8,296.2 1290.2,278.6 1290.6,290.6 1291.0,285.9 1291.4,287.6 1291.8,294.6 1292.2,285.5 1292.6,266.0 1293.0,292.3 1293.4,292.7 1293.8,292.4 1294.2,281.3 1294.6,300.8 1295.0,285.3 1295.4,279.9 1295.8,302.1 1296.2,266.1 1296.6,291.5 1297.0,290.3 1297.4,283.2 1297.8,279.6 1298.2,298.2 1298.6,296.0 1299.0,299.8 1299.4,287.1 1299.8,286.4 1300.2,287.2 1300.6,276.7 1301.0,298.4 1301.4,297.5 1301.8,294.0 1302.2,276.6 1302.6,286.3 1303.0,290.7 1303.4,291.8 1303.8,281.2 1304.2,292.4 1304.6,251.0 1305.0,275.5 1305.4,281.1 1305.8,272.7 1306.2,270.8 1306.6,276.3 1307.0,283.0 1307.4,283.6 1307.8,277.6 1308.2,285.8 1308.6,282.8 1309.0,273.3 1309.4,281.7 1309.8,277.6 1310.2,277.8 1310.6,268.8 1311.0,282.9 1311.4,272.6 1311.8,290.0 1312.2,277.0 1312.6,284.5 1313.0,274.5 1313.4,263.8 1313.8,277.5 1314.2,267.1 1314.6,273.7 1315.0,270.0 1315.4,288.8 1315.8,269.8 1316.2,270.6 1316.6,269.5 1317.0,284.1 1317.4,272.3 1317.8,271.5 1318.2,285.4 1318.6,283.7 1319.0,271.8 1319.4,261.7 1319.8,281.2 1320.2,276.3 1320.6,271.1 1321.0,282.3 1321.4,281.2 1321.8,270.8 1322.2,286.5 1322.6,283.7 1323.0,291.9 1323.4,233.7 1323.8,291.6 1324.2,279.3 1324.6,277.2 1325.0,278.6 1325.4,281.0 1325.8,267.6 1326.2,284.3 1326.6,275.5 1327.0,279.7 1327.4,272.8 1327.8,274.3 1328.2,272.0 1328.6,258.5 1329.0,256.7 1329.4,265.9 1329.8,285.1 1330.2,259.9 1330.6,272.0 1331.0,276.9 1331.4,264.5 1331.8,222.6 1332.2,269.1 1332.6,286.9 1333.0,276.7 1333.4,257.7 1333.8,267.4 1334.2,258.8 1334.6,267.5 1335.0,263.2 1335.4,262.3 1335.8,282.1 1336.2,273.5 1336.6,274.0 1337.0,278.6 1337.4,279.6 1337.8,270.6 1338.2,251.9 1338.6,274.7 1339.0,268.3 1339.4,248.0 1339.8,259.1 1340.2,252.2 1340.6,249.6 1341.0,264.8 1341.4,250.3 1341.8,252.8 1342.2,246.8 1342.6,260.3 1343.0,237.5 1343.4,246.2 1343.8,252.6 1344.2,243.1 1344.6,234.7 1345.0,226.6 1345.4,246.8 1345.8,240.1 1346.2,236.2 1346.6,231.4 1347.0,236.4 1347.4,233.0 1347.8,214.8 1348.2,225.0 1348.6,232.2 1349.0,234.3 1349.4,202.7 1349.8,226.3 1350.2,232.7 1350.6,222.7 1351.0,230.0 1351.4,214.9 1351.8,217.6 1352.2,213.9 1352.6,213.7 1353.0,224.2 1353.4,218.5 1353.8,228.6 1354.2,226.4 1354.6,214.3 1355.0,231.5 1355.4,206.1 1355.8,222.9 1356.2,221.8 1356.6,219.4 1357.0,231.1 1357.4,241.4 1357.8,238.2 1358.2,235.7 1358.6,224.5 1359.0,240.3 1359.4,213.5 1359.8,234.6 1360.2,243.0 1360.6,235.8 1361.0,237.3 1361.4,247.4 1361.8,241.1 1362.2,254.0 1362.6,237.9 1363.0,256.1 1363.4,256.7 1363.8,254.1 1364.2,246.0 1364.6,261.6 1365.0,250.1 1365.4,265.6 1365.8,262.0 1366.2,250.7 1366.6,234.7 1367.0,266.8 1367.4,267.7 1367.8,264.1 1368.2,265.7 1368.6,280.8 1369.0,269.7 1369.4,273.9 1369.8,270.1 1370.2,256.9 1370.6,273.5 1371.0,267.0 1371.4,268.8 1371.8,266.1 1372.2,260.6 1372.6,261.6 1373.0,259.3 1373.4,268.4 1373.8,258.9 1374.2,259.6 1374.6,252.7 1375.0,269.3 1375.4,258.0 1375.8,259.7 1376.2,262.8 1376.6,252.2 1377.0,259.2 1377.4,264.7 1377.8,275.9 1378.2,260.8 1378.6,258.2 1379.0,263.0 1379.4,258.5 1379.8,249.7 1380.2,259.6 1380.6,258.7 1381.0,264.0 1381.4,238.6 1381.8,262.7 1382.2,260.9 1382.6,263.2 1383.0,258.3 1383.4,261.7 1383.8,248.4 1384.2,215.2 1384.6,253.8 1385.0,271.4 1385.4,267.0 1385.8,258.7 1386.2,250.0 1386.6,265.9 1387.0,270.4 1387.4,258.7 1387.8,269.3 1388.2,268.1 1388.6,275.1 1389.0,273.5 1389.4,269.4 1389.8,271.9 1390.2,286.3 1390.6,281.8 1391.0,286.3 1391.4,278.2 1391.8,279.0 1392.2,288.2 1392.6,272.9 1393.0,277.5 1393.4,278.4 1393.8,265.6 1394.2,292.9 1394.6,262.1 1395.0,263.9 1395.4,268.1 1395.8,276.7 1396.2,281.6 1396.6,246.1 1397.0,279.5 1397.4,267.9 1397.8,277.3 1398.2,260.0 1398.6,285.0 1399.0,271.6 1399.4,253.3 1399.8,272.1 1400.2,276.7 1400.6,263.6 1401.0,269.6 1401.4,271.9 1401.8,275.6 1402.2,265.9 1402.6,281.8 1403.0,274.2 1403.4,258.3 1403.8,267.2 1404.2,262.0 1404.6,288.6 1405.0,279.3 1405.4,273.1 1405.8,267.5 1406.2,258.1 1406.6,257.6 1407.0,280.6 1407.4,248.6 1407.8,269.5 1408.2,282.5 1408.6,272.7 1409.0,257.4 1409.4,266.7 1409.8,274.6 1410.2,262.1 1410.6,267.8 1411.0,278.1 1411.4,262.2 1411.8,270.2 1412.2,274.0 1412.6,271.5 1413.0,270.9 1413.4,276.4 1413.8,278.5 1414.2,280.7 1414.6,281.2 1415.0,274.8 1415.4,265.9 1415.8,263.6 1416.2,277.7 1416.6,265.9 1417.0,259.3 1417.4,270.1 1417.8,264.4 1418.2,268.6 1418.6,256.7 1419.0,265.5 1419.4,279.3 1419.8,271.3 1420.2,261.0 1420.6,264.9 1421.0,276.3 1421.4,270.6 1421.8,273.1 1422.2,257.9 1422.6,270.3 1423.0,267.3 1423.4,267.6 1423.8,284.5 1424.2,264.6 1424.6,262.6 1425.0,266.1 1425.4,255.1 1425.8,259.6 1426.2,254.2 1426.6,263.3 1427.0,258.7 1427.4,247.8 1427.8,257.5 1428.2,252.8 1428.6,244.4 1429.0,259.1 1429.4,273.7 1429.8,237.9 1430.2,220.9 1430.6,275.3 1431.0,272.4 1431.4,276.7 1431.8,281.4 1432.2,269.6 1432.6,279.6 1433.0,278.1 1433.4,263.9 1433.8,255.0 1434.2,286.2 1434.6,277.9 1435.0,267.3 1435.4,260.7 1435.8,254.8 1436.2,269.4 1436.6,265.1 1437.0,261.4 1437.4,264.8 1437.8,272.7 1438.2,270.0 1438.6,272.8 1439.0,259.7 1439.4,284.4 1439.8,276.1 1440.2,273.4 1440.6,275.4 1441.0,266.6 1441.4,276.0 1441.8,274.0 1442.2,273.4 1442.6,285.6 1443.0,278.9 1443.4,267.3 1443.8,261.1 1444.2,273.9 1444.6,263.3 1445.0,266.3 1445.4,264.0 1445.8,251.8 1446.2,268.6 1446.6,259.9 1447.0,255.3 1447.4,261.9 1447.8,257.3 1448.2,253.3 1448.6,236.8 1449.0,259.3 1449.4,269.1 1449.8,259.4 1450.2,259.4 1450.6,229.7 1451.0,254.8 1451.4,246.7 1451.8,280.0 1452.2,258.5 1452.6,257.1 1453.0,262.0 1453.4,276.2 1453.8,242.7 1454.2,262.7 1454.6,247.7 1455.0,254.0 1455.4,224.7 1455.8,256.4 1456.2,261.5 1456.6,255.9 1457.0,246.0 1457.4,244.4 1457.8,248.6 1458.2,264.6 1458.6,265.0 1459.0,251.3 1459.4,271.3 1459.8,260.7 1460.2,270.6 1460.6,266.8 1461.0,274.3 1461.4,262.9 1461.8,254.2 1462.2,217.0 1462.6,260.9 1463.0,257.0 1463.4,256.9 1463.8,263.9 1464.2,261.3 1464.6,257.9 1465.0,250.0 1465.4,249.3 1465.8,261.2 1466.2,267.5 1466.6,264.9 1467.0,245.8 1467.4,257.8 1467.8,259.7 1468.2,235.3 1468.6,261.3 1469.0,252.9 1469.4,249.2 1469.8,252.7 1470.2,256.2 1470.6,252.9 1471.0,271.1 1471.4,274.1 1471.8,255.4 1472.2,255.6 1472.6,244.1 1473.0,269.1 1473.4,263.6 1473.8,265.0 1474.2,254.7 1474.6,254.8 1475.0,254.4 1475.4,256.6 1475.8,262.7 1476.2,230.4 1476.6,253.3 1477.0,247.2 1477.4,266.0 1477.8,236.5 1478.2,257.8 1478.6,248.1 1479.0,253.9 1479.4,243.8 1479.8,248.1 1480.2,255.9 1480.6,249.9 1481.0,259.8 1481.4,221.1 1481.8,252.7 1482.2,256.4 1482.6,259.1 1483.0,238.4 1483.4,264.1 1483.8,279.8 1484.2,264.8 1484.6,252.1 1485.0,268.2 1485.4,270.3 1485.8,249.7 1486.2,257.1 1486.6,256.9 1487.0,243.0 1487.4,251.4 1487.8,237.8 1488.2,234.0 1488.6,255.2 1489.0,252.9 1489.4,259.2 1489.8,235.0 1490.2,239.0 1490.6,235.1 1491.0,238.5 1491.4,228.8 1491.8,222.8 1492.2,253.0 1492.6,241.1 1493.0,232.0 1493.4,238.7 1493.8,248.3 1494.2,237.0 1494.6,245.1 1495.0,245.4 1495.4,248.1 1495.8,249.2 1496.2,235.5 1496.6,243.0 1497.0,246.2 1497.4,246.3 1497.8,240.8 1498.2,229.8 1498.6,245.4 1499.0,240.8 1499.4,244.7 1499.8,243.8 1500.2,242.2 1500.6,236.1 1501.0,236.6 1501.4,236.0 1501.8,246.6 1502.2,238.0 1502.6,238.6 1503.0,243.1 1503.4,241.5 1503.8,234.7 1504.2,245.5 1504.6,238.8 1505.0,243.4 1505.4,228.8 1505.8,229.8 1506.2,255.4 1506.6,244.9 1507.0,235.8 1507.4,232.7 1507.8,251.4 1508.2,229.0 1508.6,239.0 1509.0,234.3 1509.4,225.1 1509.8,249.6 1510.2,234.1 1510.6,242.2 1511.0,235.9 1511.4,246.3 1511.8,249.8 1512.2,232.9 1512.6,239.5 1513.0,262.2 1513.4,248.0 1513.8,237.7 1514.2,257.1 1514.6,251.7 1515.0,251.6 1515.4,238.2 1515.8,251.4 1516.2,246.0 1516.6,250.4 1517.0,247.8 1517.4,243.1 1517.8,240.6 1518.2,247.5 1518.6,251.4 1519.0,236.5 1519.4,191.9 1519.8,257.7 1520.2,240.8 1520.6,250.0 1521.0,253.0 1521.4,237.0 1521.8,233.4 1522.2,234.2 1522.6,240.5 1523.0,245.2 1523.4,244.7 1523.8,245.3 1524.2,219.6 1524.6,232.4 1525.0,252.9 1525.4,232.4 1525.8,206.8 1526.2,241.8 1526.6,248.9 1527.0,250.5 1527.4,223.7 1527.8,230.9 1528.2,233.7 1528.6,241.0 1529.0,240.3 1529.4,233.3 1529.8,244.5 1530.2,224.4 1530.6,244.9 1531.0,252.4 1531.4,242.0 1531.8,236.4 1532.2,236.1 1532.6,257.1 1533.0,233.1 1533.4,231.5 1533.8,244.0 1534.2,237.1 1534.6,233.2 1535.0,198.6 1535.4,237.4 1535.8,223.2 1536.2,233.9 1536.6,208.3 1537.0,246.8 1537.4,246.0 1537.8,235.9 1538.2,192.4 1538.6,222.4 1539.0,237.1 1539.4,242.7 1539.8,233.7 1540.2,242.3 1540.6,255.3 1541.0,243.5 1541.4,247.6 1541.8,241.5 1542.2,241.2 1542.6,259.9 1543.0,241.3 1543.4,235.5 1543.8,242.0 1544.2,242.6 1544.6,257.8 1545.0,247.4 1545.4,252.4 1545.8,246.0 1546.2,236.3 1546.6,237.0 1547.0,249.5 1547.4,245.5 1547.8,238.6 1548.2,244.1 1548.6,233.9 1549.0,245.7 1549.4,239.7 1549.8,252.4 1550.2,245.2 1550.6,246.1 1551.0,239.7 1551.4,240.7 1551.8,243.0 1552.2,241.5 1552.6,222.3 1553.0,233.9 1553.4,243.9 1553.8,240.7 1554.2,224.1 1554.6,237.2 1555.0,194.2 1555.4,239.6 1555.8,237.5 1556.2,239.0 1556.6,243.6 1557.0,241.5 1557.4,231.4 1557.8,241.3 1558.2,232.3 1558.6,228.1 1559.0,244.5 1559.4,228.2 1559.8,232.9 1560.2,221.1 1560.6,232.0 1561.0,213.9 1561.4,216.6 1561.8,223.9 1562.2,229.7 1562.6,226.6 1563.0,237.6 1563.4,235.7 1563.8,236.3 1564.2,237.8 1564.6,245.5 1565.0,245.5 1565.4,231.8 1565.8,241.7 1566.2,237.5 1566.6,239.1 1567.0,239.8 1567.4,243.5 1567.8,222.2 1568.2,240.8 1568.6,245.7 1569.0,241.9 1569.4,230.0 1569.8,245.7 1570.2,245.3 1570.6,245.1 1571.0,231.9 1571.4,256.6 1571.8,241.3 1572.2,237.8 1572.6,242.3 1573.0,254.1 1573.4,235.5 1573.8,199.8 1574.2,250.5 1574.6,251.1 1575.0,241.8 1575.4,246.1 1575.8,254.7 1576.2,253.3 1576.6,265.1 1577.0,230.7 1577.4,254.6 1577.8,245.6 1578.2,254.8 1578.6,256.5 1579.0,214.6 1579.4,253.3 1579.8,251.8 1580.2,253.7 1580.6,258.1 1581.0,256.3 1581.4,254.8 1581.8,267.7 1582.2,260.8 1582.6,256.6 1583.0,255.7 1583.4,260.6 1583.8,271.9 1584.2,264.6 1584.6,275.7 1585.0,254.2 1585.4,260.4 1585.8,256.7 1586.2,254.5 1586.6,271.4 1587.0,270.6 1587.4,272.6 1587.8,277.0 1588.2,260.9 1588.6,265.4 1589.0,269.4 1589.4,258.0 1589.8,264.8 1590.2,271.8 1590.6,275.6 1591.0,270.8 1591.4,267.5 1591.8,239.3 1592.2,262.7 1592.6,272.0 1593.0,271.2 1593.4,270.5 1593.8,277.0 1594.2,281.2 1594.6,268.8 1595.0,273.8 1595.4,272.6 1595.8,275.7 1596.2,273.8 1596.6,262.5 1597.0,267.3 1597.4,271.0 1597.8,269.9 1598.2,271.0 1598.6,264.8 1599.0,267.5 1599.4,271.8 1599.8,258.0 1600.2,275.5 1600.6,277.5 1601.0,270.3 1601.4,266.1 1601.8,278.8 1602.2,279.3 1602.6,278.7 1603.0,262.7 1603.4,258.7 1603.8,254.6 1604.2,271.4 1604.6,266.6 1605.0,262.7 1605.4,251.3 1605.8,275.4 1606.2,267.0 1606.6,274.2 1607.0,278.6 1607.4,261.6 1607.8,255.9 1608.2,269.1 1608.6,270.5 1609.0,259.6 1609.4,259.9 1609.8,253.6 1610.2,275.2 1610.6,277.5 1611.0,269.5 1611.4,274.4 1611.8,264.5 1612.2,263.1 1612.6,223.1 1613.0,264.5 1613.4,272.0 1613.8,276.9 1614.2,266.5 1614.6,274.2 1615.0,277.4 1615.4,266.6 1615.8,270.5 1616.2,272.7 1616.6,274.2 1617.0,274.6 1617.4,276.7 1617.8,272.6 1618.2,280.9 1618.6,275.6 1619.0,288.2 1619.4,272.8 1619.8,271.2 1620.2,279.9 1620.6,275.8 1621.0,282.7 1621.4,276.4 1621.8,299.7 1622.2,272.4 1622.6,277.0 1623.0,279.5 1623.4,263.2 1623.8,272.9 1624.2,292.7 1624.6,266.6 1625.0,267.0 1625.4,277.8 1625.8,277.0 1626.2,275.3 1626.6,267.0 1627.0,265.5 1627.4,268.4 1627.8,268.7 1628.2,272.9 1628.6,269.7 1629.0,280.0 1629.4,273.2 1629.8,270.2 1630.2,276.8 1630.6,276.8 1631.0,273.8 1631.4,267.1 1631.8,273.7 1632.2,273.7 1632.6,279.1 1633.0,276.7 1633.4,280.2 1633.8,275.3 1634.2,279.3 1634.6,274.1 1635.0,271.7 1635.4,267.6 1635.8,274.5 1636.2,270.4 1636.6,269.1 1637.0,272.6 1637.4,275.6 1637.8,265.7 1638.2,256.6 1638.6,263.0 1639.0,272.9 1639.4,271.5 1639.8,272.6 1640.2,267.5 1640.6,258.7 1641.0,285.6 1641.4,266.6 1641.8,222.8 1642.2,283.3 1642.6,274.2 1643.0,279.8 1643.4,270.3 1643.8,274.5 1644.2,276.2 1644.6,262.2 1645.0,281.5 1645.4,266.8 1645.8,266.1 1646.2,281.8 1646.6,279.9 1647.0,272.7 1647.4,285.9 1647.8,261.0 1648.2,261.3 1648.6,288.1 1649.0,267.7 1649.4,271.7 1649.8,280.3 1650.2,279.5 1650.6,280.1 1651.0,284.1 1651.4,271.3 1651.8,271.3 1652.2,280.2 1652.6,284.8 1653.0,277.3 1653.4,263.3 1653.8,272.6 1654.2,270.6 1654.6,289.0 1655.0,279.3 1655.4,278.1 1655.8,275.8 1656.2,277.7 1656.6,266.0 1657.0,278.4 1657.4,280.4 1657.8,285.4 1658.2,277.9 1658.6,270.5 1659.0,284.5 1659.4,273.2 1659.8,285.0 1660.2,287.3 1660.6,288.9 1661.0,279.7 1661.4,291.1 1661.8,298.9 1662.2,273.7 1662.6,281.7 1663.0,279.5 1663.4,285.9 1663.8,282.2 1664.2,277.6 1664.6,293.5 1665.0,280.9 1665.4,282.0 1665.8,271.7 1666.2,271.9 1666.6,269.0 1667.0,228.5 1667.4,290.3 1667.8,285.6 1668.2,287.7 1668.6,293.3 1669.0,283.7 1669.4,284.9 1669.8,277.9 1670.2,287.5 1670.6,274.6 1671.0,270.1 1671.4,268.5 1671.8,274.4 1672.2,284.0 1672.6,283.1 1673.0,283.2 1673.4,287.2 1673.8,279.7 1674.2,274.2 1674.6,278.0 1675.0,290.0 1675.4,272.0 1675.8,275.6 1676.2,290.4 1676.6,281.9 1677.0,271.7 1677.4,277.6 1677.8,284.5 1678.2,288.7 1678.6,285.8 1679.0,280.8 1679.4,286.0 1679.8,295.8 1680.2,289.5 1680.6,276.2 1681.0,275.6 1681.4,278.3 1681.8,289.8 1682.2,286.9 1682.6,282.2 1683.0,288.9 1683.4,278.6 1683.8,278.9 1684.2,282.8 1684.6,286.5 1685.0,219.0 1685.4,291.8 1685.8,287.5 1686.2,275.5 1686.6,281.9 1687.0,283.8 1687.4,274.0 1687.8,280.1 1688.2,285.4 1688.6,277.9 1689.0,275.1 1689.4,277.1 1689.8,282.9 1690.2,274.1 1690.6,275.3 1691.0,268.5 1691.4,267.3 1691.8,281.2 1692.2,276.0 1692.6,270.4 1693.0,289.0 1693.4,267.9 1693.8,282.5 1694.2,284.5 1694.6,296.3 1695.0,274.9 1695.4,277.4 1695.8,268.3 1696.2,274.9 1696.6,284.3 1697.0,286.6 1697.4,278.0 1697.8,275.9 1698.2,284.7 1698.6,221.3 1699.0,287.2 1699.4,274.3 1699.8,265.2 1700.2,281.1 1700.6,282.1 1701.0,267.3 1701.4,292.2 1701.8,283.5 1702.2,264.0 1702.6,279.0 1703.0,272.4 1703.4,266.5 1703.8,280.6 1704.2,284.3 1704.6,276.6 1705.0,281.1 1705.4,281.9 1705.8,279.3 1706.2,275.4 1706.6,279.9 1707.0,289.6 1707.4,289.5 1707.8,287.3 1708.2,289.2 1708.6,278.7 1709.0,273.0 1709.4,267.2 1709.8,286.0 1710.2,282.0 1710.6,273.5 1711.0,275.5 1711.4,277.6 1711.8,271.2 1712.2,270.1 1712.6,258.9 1713.0,260.3 1713.4,243.2 1713.8,270.5 1714.2,264.7 1714.6,266.6 1715.0,276.5 1715.4,269.8 1715.8,276.4 1716.2,270.5 1716.6,284.0 1717.0,264.5 1717.4,274.5 1717.8,270.8 1718.2,268.3 1718.6,277.0 1719.0,274.3 1719.4,272.2 1719.8,269.7 1720.2,254.3 1720.6,267.9 1721.0,250.0 1721.4,286.6 1721.8,291.7 1722.2,268.9 1722.6,283.9 1723.0,253.5 1723.4,263.3 1723.8,265.8 1724.2,259.6 1724.6,255.5 1725.0,262.4 1725.4,266.9 1725.8,275.8 1726.2,267.8 1726.6,272.5 1727.0,253.6 1727.4,252.1 1727.8,264.4 1728.2,267.2 1728.6,260.0 1729.0,262.2 1729.4,269.2 1729.8,278.3 1730.2,280.4 1730.6,259.4 1731.0,261.4" fill="none" stroke="#7CAE00" stroke-width="1.6" stroke-linejoin="round"/>
<polyline points="1058.3,486.5 1059.0,416.0 1059.4,409.0 1059.8,399.0 1060.2,379.0 1060.6,370.6 1061.0,375.4 1061.4,358.1 1061.8,352.9 1062.2,352.9 1062.6,347.7 1063.0,355.1 1063.4,352.1 1063.8,340.4 1064.2,341.0 1064.6,342.9 1065.0,333.4 1065.4,336.7 1065.8,328.8 1066.2,339.0 1066.6,334.5 1067.0,326.3 1067.4,331.4 1067.8,330.1 1068.2,326.1 1068.6,335.8 1069.0,332.7 1069.4,327.0 1069.8,332.0 1070.2,306.8 1070.6,329.4 1071.0,328.7 1071.4,326.7 1071.8,319.0 1072.2,329.9 1072.6,324.2 1073.0,331.6 1073.4,320.7 1073.8,333.9 1074.2,336.0 1074.6,317.4 1075.0,334.1 1075.4,331.2 1075.8,335.1 1076.2,328.4 1076.6,341.0 1077.0,335.5 1077.4,340.7 1077.8,330.7 1078.2,323.6 1078.6,331.2 1079.0,341.3 1079.4,332.3 1079.8,332.4 1080.2,339.6 1080.6,336.8 1081.0,337.8 1081.4,336.4 1081.8,331.9 1082.2,335.0 1082.6,329.5 1083.0,333.0 1083.4,334.3 1083.8,334.6 1084.2,337.0 1084.6,327.7 1085.0,322.9 1085.4,322.2 1085.8,323.2 1086.2,332.7 1086.6,316.1 1087.0,317.7 1087.4,323.8 1087.8,323.3 1088.2,315.9 1088.6,322.7 1089.0,319.0 1089.4,319.9 1089.8,312.6 1090.2,319.3 1090.6,314.3 1091.0,319.1 1091.4,310.6 1091.8,315.1 1092.2,318.5 1092.6,299.1 1093.0,309.2 1093.4,313.5 1093.8,322.2 1094.2,314.7 1094.6,322.5 1095.0,311.2 1095.4,308.4 1095.8,313.2 1096.2,317.7 1096.6,320.2 1097.0,320.8 1097.4,311.5 1097.8,321.0 1098.2,319.0 1098.6,311.8 1099.0,321.6 1099.4,323.0 1099.8,310.5 1100.2,318.6 1100.6,316.4 1101.0,297.4 1101.4,320.8 1101.8,308.5 1102.2,318.0 1102.6,309.9 1103.0,312.9 1103.4,317.1 1103.8,316.9 1104.2,316.6 1104.6,317.6 1105.0,313.2 1105.4,313.4 1105.8,317.4 1106.2,321.7 1106.6,313.9 1107.0,312.7 1107.4,313.9 1107.8,314.9 1108.2,305.3 1108.6,318.0 1109.0,306.5 1109.4,301.2 1109.8,320.8 1110.2,319.2 1110.6,301.3 1111.0,304.6 1111.4,307.6 1111.8,317.2 1112.2,320.8 1112.6,306.9 1113.0,311.2 1113.4,312.7 1113.8,309.5 1114.2,298.6 1114.6,304.7 1115.0,301.1 1115.4,307.1 1115.8,308.2 1116.2,299.8 1116.6,304.2 1117.0,301.8 1117.4,303.6 1117.8,315.0 1118.2,300.3 1118.6,310.2 1119.0,296.7 1119.4,297.4 1119.8,310.7 1120.2,305.3 1120.6,304.0 1121.0,298.3 1121.4,304.4 1121.8,292.8 1122.2,294.2 1122.6,309.3 1123.0,304.0 1123.4,300.9 1123.8,299.8 1124.2,313.4 1124.6,297.6 1125.0,304.8 1125.4,310.2 1125.8,315.1 1126.2,314.7 1126.6,298.3 1127.0,309.8 1127.4,312.0 1127.8,308.4 1128.2,307.8 1128.6,302.3 1129.0,315.4 1129.4,307.4 1129.8,302.5 1130.2,303.6 1130.6,304.9 1131.0,304.8 1131.4,316.6 1131.8,302.3 1132.2,298.2 1132.6,307.5 1133.0,303.4 1133.4,297.6 1133.8,290.3 1134.2,290.3 1134.6,298.7 1135.0,302.9 1135.4,305.3 1135.8,283.8 1136.2,290.8 1136.6,293.6 1137.0,297.3 1137.4,292.9 1137.8,302.5 1138.2,306.2 1138.6,306.3 1139.0,294.6 1139.4,311.7 1139.8,292.8 1140.2,296.5 1140.6,316.4 1141.0,300.9 1141.4,302.0 1141.8,303.3 1142.2,299.8 1142.6,319.4 1143.0,300.8 1143.4,309.1 1143.8,304.7 1144.2,299.3 1144.6,308.1 1145.0,300.6 1145.4,290.8 1145.8,306.8 1146.2,286.3 1146.6,299.7 1147.0,297.8 1147.4,297.3 1147.8,290.7 1148.2,291.3 1148.6,293.6 1149.0,289.6 1149.4,288.7 1149.8,299.0 1150.2,302.4 1150.6,288.0 1151.0,308.2 1151.4,295.8 1151.8,302.8 1152.2,282.5 1152.6,294.2 1153.0,291.4 1153.4,292.0 1153.8,291.0 1154.2,294.4 1154.6,295.2 1155.0,307.9 1155.4,300.2 1155.8,301.3 1156.2,306.1 1156.6,305.6 1157.0,311.3 1157.4,304.2 1157.8,297.5 1158.2,301.2 1158.6,311.6 1159.0,309.4 1159.4,306.4 1159.8,301.4 1160.2,290.7 1160.6,313.3 1161.0,305.9 1161.4,295.8 1161.8,294.2 1162.2,292.8 1162.6,300.9 1163.0,311.8 1163.4,297.7 1163.8,311.6 1164.2,300.5 1164.6,305.5 1165.0,301.6 1165.4,309.2 1165.8,298.9 1166.2,306.8 1166.6,307.8 1167.0,304.1 1167.4,307.2 1167.8,303.0 1168.2,296.5 1168.6,288.6 1169.0,301.6 1169.4,302.7 1169.8,316.4 1170.2,307.2 1170.6,291.3 1171.0,310.5 1171.4,298.8 1171.8,302.9 1172.2,302.0 1172.6,301.3 1173.0,302.7 1173.4,295.0 1173.8,304.3 1174.2,311.7 1174.6,293.0 1175.0,293.4 1175.4,307.5 1175.8,305.5 1176.2,308.4 1176.6,322.1 1177.0,304.7 1177.4,297.7 1177.8,294.7 1178.2,311.4 1178.6,293.8 1179.0,305.8 1179.4,312.7 1179.8,295.7 1180.2,310.2 1180.6,307.3 1181.0,311.6 1181.4,313.7 1181.8,300.3 1182.2,293.9 1182.6,310.4 1183.0,303.1 1183.4,297.8 1183.8,301.5 1184.2,308.1 1184.6,300.2 1185.0,307.5 1185.4,315.4 1185.8,302.8 1186.2,300.1 1186.6,303.1 1187.0,280.5 1187.4,315.2 1187.8,304.1 1188.2,312.9 1188.6,304.8 1189.0,297.6 1189.4,302.3 1189.8,312.9 1190.2,307.2 1190.6,305.5 1191.0,313.1 1191.4,305.4 1191.8,312.5 1192.2,306.0 1192.6,326.7 1193.0,302.5 1193.4,304.5 1193.8,311.8 1194.2,306.6 1194.6,307.1 1195.0,311.0 1195.4,301.0 1195.8,307.3 1196.2,320.8 1196.6,303.7 1197.0,297.0 1197.4,302.8 1197.8,290.6 1198.2,306.9 1198.6,296.3 1199.0,292.4 1199.4,287.6 1199.8,304.4 1200.2,301.2 1200.6,300.1 1201.0,311.9 1201.4,301.0 1201.8,321.5 1202.2,301.1 1202.6,303.9 1203.0,305.3 1203.4,306.9 1203.8,303.8 1204.2,303.1 1204.6,301.9 1205.0,308.5 1205.4,303.6 1205.8,304.1 1206.2,297.1 1206.6,299.2 1207.0,303.7 1207.4,302.2 1207.8,307.8 1208.2,316.1 1208.6,291.0 1209.0,304.5 1209.4,295.1 1209.8,297.0 1210.2,304.3 1210.6,299.6 1211.0,303.2 1211.4,302.4 1211.8,294.7 1212.2,300.2 1212.6,292.4 1213.0,300.2 1213.4,310.4 1213.8,307.2 1214.2,290.8 1214.6,306.6 1215.0,299.3 1215.4,310.5 1215.8,294.1 1216.2,297.2 1216.6,311.2 1217.0,310.0 1217.4,305.5 1217.8,316.8 1218.2,310.3 1218.6,307.9 1219.0,313.6 1219.4,319.1 1219.8,318.8 1220.2,305.9 1220.6,317.1 1221.0,314.5 1221.4,313.1 1221.8,305.3 1222.2,322.8 1222.6,304.3 1223.0,311.2 1223.4,319.8 1223.8,325.9 1224.2,293.9 1224.6,320.1 1225.0,316.0 1225.4,311.1 1225.8,315.3 1226.2,303.0 1226.6,305.8 1227.0,308.3 1227.4,310.1 1227.8,311.0 1228.2,309.1 1228.6,312.2 1229.0,307.1 1229.4,315.4 1229.8,306.2 1230.2,313.8 1230.6,305.5 1231.0,308.1 1231.4,299.6 1231.8,298.6 1232.2,300.5 1232.6,303.5 1233.0,310.6 1233.4,289.4 1233.8,317.4 1234.2,297.2 1234.6,298.2 1235.0,306.3 1235.4,304.4 1235.8,313.4 1236.2,300.2 1236.6,315.0 1237.0,301.8 1237.4,308.1 1237.8,292.2 1238.2,316.7 1238.6,303.8 1239.0,317.9 1239.4,308.5 1239.8,310.5 1240.2,309.3 1240.6,298.9 1241.0,307.1 1241.4,298.9 1241.8,304.2 1242.2,309.1 1242.6,303.5 1243.0,305.3 1243.4,315.8 1243.8,307.0 1244.2,307.2 1244.6,311.3 1245.0,299.8 1245.4,306.7 1245.8,300.9 1246.2,298.9 1246.6,295.8 1247.0,289.0 1247.4,300.9 1247.8,303.2 1248.2,294.3 1248.6,293.3 1249.0,290.3 1249.4,315.0 1249.8,300.8 1250.2,297.4 1250.6,293.2 1251.0,311.8 1251.4,304.5 1251.8,303.6 1252.2,302.7 1252.6,305.3 1253.0,301.9 1253.4,304.9 1253.8,320.3 1254.2,302.8 1254.6,312.3 1255.0,311.5 1255.4,310.4 1255.8,321.8 1256.2,319.5 1256.6,315.6 1257.0,313.3 1257.4,309.8 1257.8,311.3 1258.2,312.6 1258.6,309.2 1259.0,299.0 1259.4,298.4 1259.8,317.1 1260.2,309.0 1260.6,308.1 1261.0,306.6 1261.4,311.4 1261.8,313.7 1262.2,296.0 1262.6,307.8 1263.0,320.9 1263.4,310.7 1263.8,306.9 1264.2,308.5 1264.6,296.2 1265.0,294.0 1265.4,298.8 1265.8,295.7 1266.2,307.8 1266.6,310.1 1267.0,303.6 1267.4,307.5 1267.8,307.8 1268.2,293.5 1268.6,308.6 1269.0,313.7 1269.4,301.5 1269.8,307.4 1270.2,300.3 1270.6,302.0 1271.0,291.4 1271.4,288.2 1271.8,289.9 1272.2,308.0 1272.6,308.3 1273.0,307.3 1273.4,304.6 1273.8,294.3 1274.2,302.2 1274.6,307.2 1275.0,301.0 1275.4,302.7 1275.8,318.4 1276.2,311.1 1276.6,314.6 1277.0,298.5 1277.4,307.8 1277.8,285.0 1278.2,315.1 1278.6,304.9 1279.0,291.3 1279.4,292.0 1279.8,304.7 1280.2,306.4 1280.6,311.4 1281.0,293.7 1281.4,318.6 1281.8,300.7 1282.2,305.9 1282.6,294.4 1283.0,300.3 1283.4,293.9 1283.8,310.6 1284.2,296.4 1284.6,281.6 1285.0,299.0 1285.4,311.0 1285.8,296.5 1286.2,298.7 1286.6,304.3 1287.0,314.8 1287.4,301.5 1287.8,301.0 1288.2,307.1 1288.6,297.5 1289.0,304.6 1289.4,313.5 1289.8,308.6 1290.2,312.6 1290.6,306.9 1291.0,293.3 1291.4,310.3 1291.8,314.1 1292.2,303.7 1292.6,302.6 1293.0,314.2 1293.4,305.4 1293.8,294.8 1294.2,306.1 1294.6,319.2 1295.0,315.2 1295.4,297.3 1295.8,294.1 1296.2,317.0 1296.6,308.5 1297.0,302.7 1297.4,301.8 1297.8,307.8 1298.2,305.6 1298.6,297.5 1299.0,302.5 1299.4,314.9 1299.8,296.0 1300.2,306.8 1300.6,297.5 1301.0,294.3 1301.4,301.8 1301.8,307.1 1302.2,298.3 1302.6,287.3 1303.0,310.8 1303.4,300.7 1303.8,292.0 1304.2,291.6 1304.6,289.8 1305.0,301.8 1305.4,301.2 1305.8,296.0 1306.2,303.8 1306.6,298.2 1307.0,303.6 1307.4,309.0 1307.8,292.9 1308.2,306.6 1308.6,312.2 1309.0,309.1 1309.4,312.3 1309.8,307.4 1310.2,311.7 1310.6,304.9 1311.0,298.9 1311.4,300.0 1311.8,298.1 1312.2,311.5 1312.6,307.1 1313.0,299.6 1313.4,299.0 1313.8,303.3 1314.2,300.1 1314.6,300.9 1315.0,293.3 1315.4,293.9 1315.8,301.4 1316.2,295.4 1316.6,290.8 1317.0,299.6 1317.4,300.3 1317.8,298.1 1318.2,295.9 1318.6,288.7 1319.0,287.0 1319.4,297.0 1319.8,299.8 1320.2,293.9 1320.6,289.9 1321.0,297.1 1321.4,300.1 1321.8,300.9 1322.2,307.2 1322.6,290.9 1323.0,288.8 1323.4,303.1 1323.8,296.4 1324.2,301.6 1324.6,299.7 1325.0,292.8 1325.4,300.2 1325.8,296.7 1326.2,306.7 1326.6,301.9 1327.0,297.3 1327.4,300.1 1327.8,296.0 1328.2,306.8 1328.6,291.0 1329.0,301.7 1329.4,294.9 1329.8,292.2 1330.2,282.4 1330.6,295.7 1331.0,303.8 1331.4,311.4 1331.8,302.9 1332.2,301.2 1332.6,286.7 1333.0,292.9 1333.4,303.0 1333.8,295.9 1334.2,296.1 1334.6,294.9 1335.0,294.1 1335.4,297.5 1335.8,297.9 1336.2,294.5 1336.6,307.9 1337.0,295.8 1337.4,303.9 1337.8,295.7 1338.2,304.5 1338.6,299.0 1339.0,297.4 1339.4,306.4 1339.8,304.3 1340.2,307.4 1340.6,293.7 1341.0,288.5 1341.4,297.8 1341.8,293.9 1342.2,308.6 1342.6,304.3 1343.0,309.0 1343.4,298.5 1343.8,308.8 1344.2,300.7 1344.6,293.5 1345.0,295.8 1345.4,304.7 1345.8,290.0 1346.2,319.1 1346.6,305.6 1347.0,291.2 1347.4,307.0 1347.8,308.1 1348.2,298.9 1348.6,292.6 1349.0,306.3 1349.4,312.6 1349.8,302.2 1350.2,297.1 1350.6,305.8 1351.0,320.3 1351.4,307.2 1351.8,297.5 1352.2,307.9 1352.6,306.1 1353.0,309.2 1353.4,297.4 1353.8,310.6 1354.2,319.8 1354.6,307.4 1355.0,299.8 1355.4,286.7 1355.8,301.2 1356.2,317.2 1356.6,309.7 1357.0,305.3 1357.4,305.8 1357.8,301.3 1358.2,315.0 1358.6,321.3 1359.0,305.0 1359.4,301.6 1359.8,309.5 1360.2,310.2 1360.6,308.8 1361.0,307.8 1361.4,300.2 1361.8,318.9 1362.2,314.7 1362.6,310.3 1363.0,319.0 1363.4,321.6 1363.8,306.0 1364.2,309.8 1364.6,311.9 1365.0,305.7 1365.4,316.0 1365.8,303.8 1366.2,302.7 1366.6,313.6 1367.0,295.0 1367.4,306.0 1367.8,312.6 1368.2,294.7 1368.6,297.2 1369.0,305.4 1369.4,304.6 1369.8,303.4 1370.2,307.1 1370.6,299.6 1371.0,318.1 1371.4,292.9 1371.8,299.0 1372.2,304.7 1372.6,293.3 1373.0,304.3 1373.4,302.0 1373.8,300.7 1374.2,294.1 1374.6,298.7 1375.0,298.3 1375.4,301.1 1375.8,298.9 1376.2,302.8 1376.6,308.1 1377.0,302.5 1377.4,303.2 1377.8,302.7 1378.2,311.5 1378.6,301.0 1379.0,310.3 1379.4,302.8 1379.8,306.0 1380.2,309.2 1380.6,305.3 1381.0,308.2 1381.4,313.4 1381.8,303.7 1382.2,303.0 1382.6,299.1 1383.0,292.5 1383.4,302.6 1383.8,295.4 1384.2,303.2 1384.6,306.3 1385.0,312.7 1385.4,303.2 1385.8,298.4 1386.2,316.3 1386.6,308.3 1387.0,312.4 1387.4,308.9 1387.8,312.5 1388.2,316.0 1388.6,314.0 1389.0,318.2 1389.4,308.1 1389.8,312.8 1390.2,312.8 1390.6,312.1 1391.0,300.2 1391.4,320.0 1391.8,315.5 1392.2,298.0 1392.6,307.2 1393.0,309.0 1393.4,314.2 1393.8,303.0 1394.2,312.0 1394.6,305.2 1395.0,301.0 1395.4,301.0 1395.8,302.9 1396.2,297.9 1396.6,301.7 1397.0,301.0 1397.4,300.2 1397.8,301.6 1398.2,303.7 1398.6,298.5 1399.0,301.3 1399.4,306.5 1399.8,296.9 1400.2,301.4 1400.6,307.1 1401.0,306.5 1401.4,300.1 1401.8,300.3 1402.2,291.2 1402.6,294.7 1403.0,299.2 1403.4,291.5 1403.8,285.6 1404.2,305.5 1404.6,296.0 1405.0,293.9 1405.4,304.2 1405.8,297.4 1406.2,293.1 1406.6,302.0 1407.0,301.3 1407.4,284.2 1407.8,317.3 1408.2,299.5 1408.6,293.6 1409.0,299.3 1409.4,296.6 1409.8,288.6 1410.2,307.5 1410.6,295.7 1411.0,295.0 1411.4,302.9 1411.8,290.0 1412.2,313.7 1412.6,294.9 1413.0,291.3 1413.4,294.4 1413.8,291.5 1414.2,293.9 1414.6,305.6 1415.0,289.6 1415.4,309.6 1415.8,300.6 1416.2,296.1 1416.6,292.2 1417.0,294.8 1417.4,297.4 1417.8,297.0 1418.2,291.6 1418.6,286.1 1419.0,298.7 1419.4,292.0 1419.8,296.5 1420.2,288.4 1420.6,295.8 1421.0,302.1 1421.4,295.4 1421.8,304.3 1422.2,300.4 1422.6,292.1 1423.0,289.1 1423.4,296.4 1423.8,288.9 1424.2,284.4 1424.6,289.2 1425.0,284.9 1425.4,293.8 1425.8,285.7 1426.2,290.5 1426.6,292.5 1427.0,277.8 1427.4,288.3 1427.8,287.4 1428.2,293.6 1428.6,282.4 1429.0,297.7 1429.4,290.5 1429.8,286.9 1430.2,283.0 1430.6,282.9 1431.0,289.7 1431.4,295.1 1431.8,296.4 1432.2,293.5 1432.6,293.9 1433.0,291.3 1433.4,298.2 1433.8,304.2 1434.2,289.2 1434.6,295.8 1435.0,311.8 1435.4,312.6 1435.8,298.4 1436.2,303.9 1436.6,302.4 1437.0,304.6 1437.4,308.5 1437.8,297.9 1438.2,299.6 1438.6,300.1 1439.0,307.9 1439.4,304.7 1439.8,297.8 1440.2,295.5 1440.6,284.9 1441.0,300.5 1441.4,294.8 1441.8,294.8 1442.2,296.8 1442.6,294.6 1443.0,288.8 1443.4,274.3 1443.8,300.9 1444.2,287.7 1444.6,287.5 1445.0,289.6 1445.4,284.4 1445.8,287.7 1446.2,292.7 1446.6,287.5 1447.0,275.3 1447.4,291.9 1447.8,293.9 1448.2,290.8 1448.6,283.1 1449.0,294.9 1449.4,290.2 1449.8,287.0 1450.2,284.0 1450.6,293.2 1451.0,285.2 1451.4,278.3 1451.8,293.9 1452.2,282.3 1452.6,279.4 1453.0,292.3 1453.4,293.5 1453.8,283.8 1454.2,281.4 1454.6,298.8 1455.0,291.4 1455.4,295.4 1455.8,286.0 1456.2,297.2 1456.6,290.0 1457.0,279.2 1457.4,286.8 1457.8,291.8 1458.2,292.0 1458.6,292.1 1459.0,280.6 1459.4,289.9 1459.8,286.5 1460.2,285.6 1460.6,286.5 1461.0,294.2 1461.4,289.5 1461.8,279.9 1462.2,287.9 1462.6,273.8 1463.0,277.1 1463.4,282.9 1463.8,276.5 1464.2,289.8 1464.6,285.7 1465.0,295.5 1465.4,287.3 1465.8,295.7 1466.2,301.0 1466.6,279.5 1467.0,282.7 1467.4,298.0 1467.8,293.9 1468.2,283.4 1468.6,300.2 1469.0,298.4 1469.4,283.0 1469.8,294.2 1470.2,287.3 1470.6,298.7 1471.0,297.3 1471.4,293.4 1471.8,302.7 1472.2,292.4 1472.6,302.0 1473.0,303.5 1473.4,301.0 1473.8,280.5 1474.2,295.8 1474.6,291.6 1475.0,292.3 1475.4,291.5 1475.8,293.0 1476.2,303.2 1476.6,292.2 1477.0,295.7 1477.4,295.6 1477.8,292.3 1478.2,290.4 1478.6,295.5 1479.0,293.6 1479.4,288.6 1479.8,284.4 1480.2,290.4 1480.6,294.6 1481.0,285.1 1481.4,294.1 1481.8,285.6 1482.2,285.1 1482.6,289.1 1483.0,286.4 1483.4,292.8 1483.8,306.6 1484.2,270.7 1484.6,280.7 1485.0,295.4 1485.4,299.9 1485.8,281.3 1486.2,293.1 1486.6,289.2 1487.0,289.4 1487.4,294.5 1487.8,293.8 1488.2,287.6 1488.6,288.7 1489.0,282.2 1489.4,287.2 1489.8,292.5 1490.2,293.1 1490.6,298.4 1491.0,295.6 1491.4,293.8 1491.8,299.1 1492.2,282.2 1492.6,286.7 1493.0,286.1 1493.4,288.3 1493.8,292.7 1494.2,287.7 1494.6,281.9 1495.0,280.0 1495.4,290.9 1495.8,289.6 1496.2,290.1 1496.6,276.7 1497.0,282.2 1497.4,286.8 1497.8,281.2 1498.2,278.1 1498.6,281.9 1499.0,272.2 1499.4,286.7 1499.8,279.7 1500.2,266.7 1500.6,281.6 1501.0,280.8 1501.4,280.7 1501.8,278.5 1502.2,277.6 1502.6,276.9 1503.0,271.0 1503.4,278.1 1503.8,292.6 1504.2,295.6 1504.6,279.7 1505.0,281.3 1505.4,285.2 1505.8,289.7 1506.2,295.7 1506.6,286.6 1507.0,291.6 1507.4,293.1 1507.8,297.0 1508.2,288.0 1508.6,285.5 1509.0,287.0 1509.4,294.3 1509.8,286.5 1510.2,303.2 1510.6,293.8 1511.0,295.5 1511.4,290.0 1511.8,296.5 1512.2,288.2 1512.6,283.1 1513.0,273.9 1513.4,303.6 1513.8,285.4 1514.2,294.6 1514.6,287.6 1515.0,292.2 1515.4,297.0 1515.8,290.9 1516.2,293.2 1516.6,283.5 1517.0,287.9 1517.4,298.0 1517.8,293.8 1518.2,290.1 1518.6,295.7 1519.0,288.6 1519.4,291.5 1519.8,296.1 1520.2,297.9 1520.6,290.0 1521.0,287.5 1521.4,286.7 1521.8,292.1 1522.2,290.1 1522.6,291.0 1523.0,292.9 1523.4,301.1 1523.8,293.8 1524.2,288.8 1524.6,284.1 1525.0,298.8 1525.4,281.7 1525.8,293.6 1526.2,292.3 1526.6,278.5 1527.0,279.9 1527.4,277.1 1527.8,283.6 1528.2,281.9 1528.6,281.9 1529.0,283.5 1529.4,282.4 1529.8,281.9 1530.2,278.0 1530.6,291.4 1531.0,285.5 1531.4,291.5 1531.8,293.9 1532.2,283.9 1532.6,293.0 1533.0,290.1 1533.4,302.9 1533.8,297.4 1534.2,288.4 1534.6,291.1 1535.0,307.5 1535.4,301.5 1535.8,295.7 1536.2,297.9 1536.6,291.2 1537.0,297.6 1537.4,294.1 1537.8,292.0 1538.2,296.6 1538.6,292.5 1539.0,295.3 1539.4,297.5 1539.8,294.9 1540.2,280.7 1540.6,299.4 1541.0,298.7 1541.4,302.9 1541.8,288.5 1542.2,272.3 1542.6,303.0 1543.0,273.8 1543.4,286.5 1543.8,290.1 1544.2,294.8 1544.6,294.1 1545.0,292.5 1545.4,279.1 1545.8,283.2 1546.2,281.9 1546.6,285.5 1547.0,288.2 1547.4,298.1 1547.8,303.3 1548.2,291.8 1548.6,286.0 1549.0,292.2 1549.4,286.8 1549.8,288.5 1550.2,284.8 1550.6,285.0 1551.0,294.0 1551.4,285.5 1551.8,286.2 1552.2,288.5 1552.6,284.5 1553.0,293.5 1553.4,281.9 1553.8,289.5 1554.2,289.8 1554.6,283.7 1555.0,282.3 1555.4,289.1 1555.8,293.8 1556.2,288.1 1556.6,291.5 1557.0,288.2 1557.4,279.5 1557.8,280.9 1558.2,284.6 1558.6,281.7 1559.0,297.2 1559.4,280.9 1559.8,286.4 1560.2,285.0 1560.6,283.5 1561.0,284.1 1561.4,277.3 1561.8,293.5 1562.2,283.4 1562.6,280.8 1563.0,277.7 1563.4,285.5 1563.8,293.1 1564.2,287.9 1564.6,287.8 1565.0,291.9 1565.4,282.0 1565.8,288.0 1566.2,291.6 1566.6,284.4 1567.0,291.4 1567.4,278.4 1567.8,297.4 1568.2,275.3 1568.6,290.6 1569.0,282.6 1569.4,285.2 1569.8,279.1 1570.2,293.5 1570.6,284.8 1571.0,269.0 1571.4,281.8 1571.8,279.6 1572.2,286.9 1572.6,283.1 1573.0,303.5 1573.4,286.8 1573.8,292.3 1574.2,283.1 1574.6,278.7 1575.0,296.6 1575.4,275.1 1575.8,288.4 1576.2,289.0 1576.6,288.9 1577.0,283.9 1577.4,273.1 1577.8,279.0 1578.2,289.6 1578.6,284.2 1579.0,292.1 1579.4,276.0 1579.8,293.5 1580.2,281.9 1580.6,293.4 1581.0,277.1 1581.4,279.4 1581.8,292.4 1582.2,296.3 1582.6,282.3 1583.0,297.2 1583.4,284.3 1583.8,298.8 1584.2,288.3 1584.6,287.3 1585.0,282.4 1585.4,281.0 1585.8,290.1 1586.2,292.0 1586.6,290.4 1587.0,293.7 1587.4,292.8 1587.8,298.8 1588.2,293.0 1588.6,298.7 1589.0,298.9 1589.4,283.9 1589.8,291.7 1590.2,297.3 1590.6,292.7 1591.0,295.6 1591.4,296.1 1591.8,293.9 1592.2,292.3 1592.6,278.9 1593.0,290.7 1593.4,291.1 1593.8,295.1 1594.2,287.2 1594.6,291.0 1595.0,301.2 1595.4,293.7 1595.8,296.5 1596.2,305.1 1596.6,300.6 1597.0,297.0 1597.4,282.4 1597.8,292.9 1598.2,293.9 1598.6,290.3 1599.0,285.2 1599.4,291.5 1599.8,287.5 1600.2,278.6 1600.6,281.3 1601.0,281.9 1601.4,292.8 1601.8,304.1 1602.2,297.8 1602.6,286.7 1603.0,289.4 1603.4,276.9 1603.8,296.2 1604.2,289.9 1604.6,291.2 1605.0,296.9 1605.4,290.6 1605.8,294.0 1606.2,286.2 1606.6,304.4 1607.0,297.5 1607.4,288.2 1607.8,291.1 1608.2,287.2 1608.6,294.4 1609.0,286.1 1609.4,298.4 1609.8,290.0 1610.2,282.4 1610.6,282.1 1611.0,288.5 1611.4,287.3 1611.8,286.6 1612.2,298.1 1612.6,279.9 1613.0,283.9 1613.4,291.5 1613.8,289.9 1614.2,301.7 1614.6,289.0 1615.0,303.3 1615.4,289.8 1615.8,290.3 1616.2,288.3 1616.6,299.9 1617.0,287.1 1617.4,299.4 1617.8,289.0 1618.2,292.2 1618.6,293.9 1619.0,293.3 1619.4,294.6 1619.8,282.0 1620.2,290.7 1620.6,295.4 1621.0,294.4 1621.4,290.6 1621.8,285.1 1622.2,286.3 1622.6,284.4 1623.0,289.2 1623.4,296.2 1623.8,303.7 1624.2,296.8 1624.6,294.1 1625.0,303.5 1625.4,295.7 1625.8,301.7 1626.2,298.0 1626.6,302.6 1627.0,292.1 1627.4,298.0 1627.8,298.1 1628.2,289.3 1628.6,300.9 1629.0,289.3 1629.4,294.0 1629.8,298.5 1630.2,298.6 1630.6,288.8 1631.0,291.6 1631.4,282.0 1631.8,273.2 1632.2,280.8 1632.6,291.7 1633.0,282.7 1633.4,297.3 1633.8,295.8 1634.2,288.1 1634.6,272.1 1635.0,288.8 1635.4,280.2 1635.8,300.5 1636.2,285.4 1636.6,292.2 1637.0,287.2 1637.4,288.1 1637.8,294.4 1638.2,295.0 1638.6,296.9 1639.0,285.0 1639.4,293.3 1639.8,280.3 1640.2,284.9 1640.6,295.7 1641.0,293.7 1641.4,307.8 1641.8,290.5 1642.2,305.5 1642.6,289.6 1643.0,290.4 1643.4,295.4 1643.8,287.3 1644.2,279.2 1644.6,280.7 1645.0,283.6 1645.4,285.5 1645.8,293.4 1646.2,279.5 1646.6,293.6 1647.0,298.2 1647.4,289.5 1647.8,293.2 1648.2,295.1 1648.6,285.1 1649.0,285.8 1649.4,279.1 1649.8,293.2 1650.2,281.2 1650.6,284.8 1651.0,284.2 1651.4,281.4 1651.8,273.4 1652.2,276.2 1652.6,284.8 1653.0,280.5 1653.4,275.6 1653.8,277.0 1654.2,281.1 1654.6,283.2 1655.0,287.4 1655.4,292.0 1655.8,287.1 1656.2,291.1 1656.6,286.1 1657.0,291.0 1657.4,286.3 1657.8,281.9 1658.2,284.9 1658.6,289.0 1659.0,291.2 1659.4,291.4 1659.8,298.8 1660.2,286.8 1660.6,298.2 1661.0,293.4 1661.4,291.5 1661.8,292.2 1662.2,287.5 1662.6,297.0 1663.0,307.1 1663.4,295.4 1663.8,287.0 1664.2,294.5 1664.6,307.8 1665.0,311.3 1665.4,296.5 1665.8,301.4 1666.2,302.0 1666.6,286.8 1667.0,300.3 1667.4,302.7 1667.8,290.0 1668.2,309.0 1668.6,286.4 1669.0,297.3 1669.4,286.9 1669.8,278.5 1670.2,278.1 1670.6,288.6 1671.0,302.8 1671.4,289.8 1671.8,289.3 1672.2,285.5 1672.6,285.7 1673.0,286.6 1673.4,279.4 1673.8,302.5 1674.2,285.9 1674.6,289.6 1675.0,289.0 1675.4,286.2 1675.8,287.6 1676.2,278.5 1676.6,297.2 1677.0,293.0 1677.4,273.0 1677.8,285.8 1678.2,282.4 1678.6,293.0 1679.0,279.5 1679.4,283.0 1679.8,290.7 1680.2,294.8 1680.6,287.0 1681.0,289.3 1681.4,278.0 1681.8,272.4 1682.2,288.2 1682.6,280.4 1683.0,287.2 1683.4,285.0 1683.8,284.5 1684.2,283.4 1684.6,282.9 1685.0,275.7 1685.4,277.8 1685.8,278.0 1686.2,286.6 1686.6,278.8 1687.0,277.6 1687.4,291.8 1687.8,274.8 1688.2,270.5 1688.6,303.0 1689.0,277.9 1689.4,286.9 1689.8,294.0 1690.2,279.2 1690.6,285.8 1691.0,298.3 1691.4,281.9 1691.8,284.8 1692.2,277.8 1692.6,293.5 1693.0,293.2 1693.4,291.9 1693.8,274.5 1694.2,296.8 1694.6,298.9 1695.0,295.4 1695.4,287.7 1695.8,294.3 1696.2,298.3 1696.6,289.6 1697.0,296.1 1697.4,294.9 1697.8,292.1 1698.2,282.0 1698.6,285.7 1699.0,292.1 1699.4,296.2 1699.8,287.5 1700.2,297.4 1700.6,293.0 1701.0,296.4 1701.4,302.9 1701.8,282.5 1702.2,295.5 1702.6,291.6 1703.0,297.5 1703.4,302.0 1703.8,297.0 1704.2,290.4 1704.6,289.5 1705.0,301.6 1705.4,299.9 1705.8,292.6 1706.2,294.6 1706.6,285.0 1707.0,290.0 1707.4,297.5 1707.8,276.8 1708.2,286.9 1708.6,301.2 1709.0,300.3 1709.4,299.2 1709.8,288.0 1710.2,291.8 1710.6,288.3 1711.0,297.2 1711.4,295.6 1711.8,288.7 1712.2,295.9 1712.6,292.8 1713.0,288.1 1713.4,297.1 1713.8,294.7 1714.2,300.1 1714.6,284.1 1715.0,306.0 1715.4,304.7 1715.8,300.5 1716.2,292.4 1716.6,293.9 1717.0,281.7 1717.4,292.1 1717.8,295.8 1718.2,290.0 1718.6,297.0 1719.0,308.7 1719.4,291.6 1719.8,310.1 1720.2,308.5 1720.6,296.2 1721.0,306.7 1721.4,299.1 1721.8,284.1 1722.2,291.7 1722.6,282.9 1723.0,283.7 1723.4,295.2 1723.8,274.2 1724.2,301.5 1724.6,292.2 1725.0,292.0 1725.4,293.2 1725.8,286.0 1726.2,289.6 1726.6,300.1 1727.0,310.7 1727.4,287.4 1727.8,300.9 1728.2,293.2 1728.6,293.3 1729.0,296.2 1729.4,283.0 1729.8,293.4 1730.2,303.7 1730.6,296.3 1731.0,296.2" fill="none" stroke="#00BFC4" stroke-width="1.6" stroke-linejoin="round"/>
<polyline points="1058.3,486.5 1059.0,390.9 1059.4,379.8 1059.8,372.2 1060.2,366.8 1060.6,355.4 1061.0,354.7 1061.4,345.1 1061.8,351.3 1062.2,334.5 1062.6,336.3 1063.0,335.5 1063.4,333.2 1063.8,332.4 1064.2,328.3 1064.6,333.9 1065.0,324.5 1065.4,316.8 1065.8,305.3 1066.2,334.6 1066.6,312.4 1067.0,313.5 1067.4,312.5 1067.8,322.9 1068.2,308.3 1068.6,305.3 1069.0,303.3 1069.4,296.8 1069.8,300.7 1070.2,304.3 1070.6,301.2 1071.0,300.0 1071.4,302.4 1071.8,312.6 1072.2,292.9 1072.6,296.3 1073.0,303.5 1073.4,301.6 1073.8,283.8 1074.2,297.0 1074.6,297.0 1075.0,300.2 1075.4,293.6 1075.8,305.8 1076.2,289.9 1076.6,295.5 1077.0,297.9 1077.4,316.4 1077.8,298.0 1078.2,307.7 1078.6,289.8 1079.0,299.6 1079.4,298.8 1079.8,297.7 1080.2,296.5 1080.6,297.3 1081.0,297.1 1081.4,296.3 1081.8,304.7 1082.2,308.4 1082.6,291.6 1083.0,303.0 1083.4,299.2 1083.8,294.6 1084.2,290.6 1084.6,304.3 1085.0,292.1 1085.4,293.6 1085.8,298.7 1086.2,288.5 1086.6,292.7 1087.0,285.7 1087.4,283.0 1087.8,291.8 1088.2,281.2 1088.6,283.6 1089.0,297.1 1089.4,287.8 1089.8,297.3 1090.2,296.2 1090.6,288.0 1091.0,299.9 1091.4,300.8 1091.8,290.7 1092.2,301.6 1092.6,296.9 1093.0,305.5 1093.4,286.3 1093.8,302.0 1094.2,284.7 1094.6,298.3 1095.0,298.8 1095.4,310.4 1095.8,301.4 1096.2,300.1 1096.6,306.3 1097.0,303.3 1097.4,303.2 1097.8,304.6 1098.2,307.7 1098.6,292.2 1099.0,301.4 1099.4,291.8 1099.8,306.6 1100.2,304.2 1100.6,302.3 1101.0,309.0 1101.4,299.0 1101.8,297.1 1102.2,304.0 1102.6,301.3 1103.0,300.1 1103.4,302.6 1103.8,306.6 1104.2,302.4 1104.6,294.9 1105.0,301.3 1105.4,289.5 1105.8,306.4 1106.2,293.8 1106.6,302.1 1107.0,302.0 1107.4,308.2 1107.8,291.9 1108.2,304.4 1108.6,298.9 1109.0,296.0 1109.4,298.0 1109.8,302.7 1110.2,306.5 1110.6,304.4 1111.0,309.8 1111.4,299.4 1111.8,311.2 1112.2,308.5 1112.6,300.4 1113.0,309.8 1113.4,297.8 1113.8,303.2 1114.2,301.9 1114.6,292.6 1115.0,301.7 1115.4,303.2 1115.8,300.5 1116.2,297.0 1116.6,300.6 1117.0,301.1 1117.4,303.2 1117.8,301.2 1118.2,296.4 1118.6,285.6 1119.0,309.1 1119.4,304.5 1119.8,299.2 1120.2,291.9 1120.6,297.4 1121.0,300.4 1121.4,304.9 1121.8,294.2 1122.2,309.3 1122.6,309.2 1123.0,304.5 1123.4,304.1 1123.8,290.7 1124.2,307.0 1124.6,320.1 1125.0,312.0 1125.4,297.0 1125.8,323.9 1126.2,316.6 1126.6,310.6 1127.0,316.5 1127.4,315.4 1127.8,315.3 1128.2,320.7 1128.6,313.4 1129.0,318.5 1129.4,315.5 1129.8,321.9 1130.2,299.1 1130.6,304.8 1131.0,319.6 1131.4,301.2 1131.8,316.5 1132.2,313.7 1132.6,319.3 1133.0,310.9 1133.4,302.2 1133.8,306.9 1134.2,312.7 1134.6,301.3 1135.0,308.9 1135.4,308.8 1135.8,302.1 1136.2,307.6 1136.6,310.2 1137.0,305.4 1137.4,293.9 1137.8,302.7 1138.2,297.4 1138.6,300.2 1139.0,298.4 1139.4,311.0 1139.8,312.1 1140.2,294.8 1140.6,315.8 1141.0,309.8 1141.4,308.4 1141.8,315.9 1142.2,307.4 1142.6,313.5 1143.0,310.7 1143.4,326.7 1143.8,316.3 1144.2,315.7 1144.6,315.9 1145.0,312.2 1145.4,307.9 1145.8,306.2 1146.2,319.5 1146.6,314.9 1147.0,321.6 1147.4,308.1 1147.8,325.6 1148.2,313.9 1148.6,312.5 1149.0,317.5 1149.4,327.5 1149.8,320.5 1150.2,316.6 1150.6,303.1 1151.0,301.9 1151.4,305.9 1151.8,320.3 1152.2,321.6 1152.6,298.6 1153.0,310.2 1153.4,303.9 1153.8,315.5 1154.2,309.7 1154.6,311.4 1155.0,310.3 1155.4,305.3 1155.8,308.5 1156.2,316.2 1156.6,317.4 1157.0,305.3 1157.4,302.1 1157.8,308.8 1158.2,298.3 1158.6,313.6 1159.0,303.2 1159.4,309.2 1159.8,302.9 1160.2,289.0 1160.6,307.9 1161.0,299.2 1161.4,301.0 1161.8,308.7 1162.2,304.9 1162.6,308.3 1163.0,300.4 1163.4,303.7 1163.8,301.9 1164.2,302.0 1164.6,299.8 1165.0,319.4 1165.4,300.3 1165.8,307.1 1166.2,303.2 1166.6,306.3 1167.0,300.6 1167.4,301.4 1167.8,302.7 1168.2,292.9 1168.6,316.7 1169.0,311.2 1169.4,305.9 1169.8,307.5 1170.2,295.6 1170.6,296.1 1171.0,294.6 1171.4,309.1 1171.8,295.9 1172.2,289.9 1172.6,302.7 1173.0,295.7 1173.4,299.9 1173.8,297.1 1174.2,302.5 1174.6,294.3 1175.0,295.6 1175.4,303.0 1175.8,297.1 1176.2,303.6 1176.6,293.7 1177.0,284.9 1177.4,290.9 1177.8,291.5 1178.2,310.9 1178.6,309.7 1179.0,296.5 1179.4,300.1 1179.8,302.5 1180.2,288.8 1180.6,301.1 1181.0,301.2 1181.4,299.7 1181.8,312.1 1182.2,311.4 1182.6,300.2 1183.0,308.4 1183.4,316.0 1183.8,306.3 1184.2,310.8 1184.6,311.5 1185.0,307.7 1185.4,305.7 1185.8,309.2 1186.2,310.5 1186.6,299.8 1187.0,303.6 1187.4,290.7 1187.8,314.3 1188.2,315.7 1188.6,308.3 1189.0,284.5 1189.4,315.0 1189.8,311.6 1190.2,312.3 1190.6,294.4 1191.0,293.7 1191.4,314.2 1191.8,298.9 1192.2,305.9 1192.6,297.9 1193.0,312.9 1193.4,296.4 1193.8,299.1 1194.2,305.5 1194.6,307.2 1195.0,310.9 1195.4,294.0 1195.8,297.3 1196.2,292.2 1196.6,298.1 1197.0,305.3 1197.4,301.9 1197.8,292.2 1198.2,309.5 1198.6,296.1 1199.0,293.1 1199.4,300.2 1199.8,294.0 1200.2,289.7 1200.6,311.0 1201.0,305.8 1201.4,293.4 1201.8,285.3 1202.2,302.2 1202.6,294.8 1203.0,305.0 1203.4,307.6 1203.8,296.4 1204.2,313.9 1204.6,300.3 1205.0,305.7 1205.4,287.5 1205.8,298.0 1206.2,300.3 1206.6,299.8 1207.0,300.4 1207.4,310.6 1207.8,306.9 1208.2,301.7 1208.6,305.7 1209.0,291.9 1209.4,292.4 1209.8,301.3 1210.2,317.5 1210.6,299.6 1211.0,299.4 1211.4,307.2 1211.8,299.6 1212.2,305.4 1212.6,300.7 1213.0,292.5 1213.4,300.4 1213.8,308.1 1214.2,300.1 1214.6,302.0 1215.0,306.9 1215.4,289.6 1215.8,292.1 1216.2,286.1 1216.6,294.4 1217.0,299.6 1217.4,293.0 1217.8,288.7 1218.2,299.8 1218.6,295.0 1219.0,302.3 1219.4,289.1 1219.8,291.9 1220.2,298.9 1220.6,311.2 1221.0,294.9 1221.4,304.6 1221.8,293.4 1222.2,303.0 1222.6,304.3 1223.0,298.7 1223.4,295.3 1223.8,304.7 1224.2,293.9 1224.6,295.0 1225.0,302.9 1225.4,299.6 1225.8,301.9 1226.2,309.6 1226.6,292.5 1227.0,294.2 1227.4,298.1 1227.8,292.1 1228.2,291.6 1228.6,291.0 1229.0,297.5 1229.4,299.4 1229.8,290.3 1230.2,292.6 1230.6,301.3 1231.0,287.6 1231.4,291.4 1231.8,294.7 1232.2,281.3 1232.6,288.7 1233.0,292.8 1233.4,292.5 1233.8,289.5 1234.2,297.7 1234.6,293.0 1235.0,283.8 1235.4,283.2 1235.8,296.0 1236.2,284.3 1236.6,299.2 1237.0,282.5 1237.4,280.4 1237.8,298.9 1238.2,295.6 1238.6,277.3 1239.0,291.2 1239.4,288.7 1239.8,285.6 1240.2,292.2 1240.6,294.2 1241.0,290.9 1241.4,301.3 1241.8,292.6 1242.2,293.7 1242.6,293.5 1243.0,300.6 1243.4,301.8 1243.8,302.0 1244.2,294.9 1244.6,302.4 1245.0,294.8 1245.4,292.2 1245.8,287.4 1246.2,297.0 1246.6,280.3 1247.0,295.8 1247.4,285.6 1247.8,280.3 1248.2,292.8 1248.6,288.7 1249.0,285.6 1249.4,279.3 1249.8,304.4 1250.2,286.4 1250.6,294.7 1251.0,287.6 1251.4,297.0 1251.8,292.6 1252.2,283.8 1252.6,289.8 1253.0,282.1 1253.4,275.1 1253.8,286.4 1254.2,284.8 1254.6,282.3 1255.0,278.1 1255.4,287.2 1255.8,281.4 1256.2,277.1 1256.6,279.7 1257.0,283.3 1257.4,275.4 1257.8,290.8 1258.2,285.2 1258.6,285.8 1259.0,288.2 1259.4,274.7 1259.8,282.9 1260.2,292.9 1260.6,291.0 1261.0,279.1 1261.4,288.0 1261.8,283.9 1262.2,273.3 1262.6,274.6 1263.0,277.8 1263.4,271.9 1263.8,270.2 1264.2,269.7 1264.6,280.2 1265.0,268.7 1265.4,269.1 1265.8,289.9 1266.2,281.7 1266.6,275.4 1267.0,286.6 1267.4,287.4 1267.8,280.1 1268.2,292.6 1268.6,279.8 1269.0,284.2 1269.4,276.4 1269.8,286.4 1270.2,288.8 1270.6,293.8 1271.0,291.8 1271.4,296.0 1271.8,287.4 1272.2,280.1 1272.6,286.6 1273.0,293.7 1273.4,276.9 1273.8,291.5 1274.2,283.4 1274.6,276.0 1275.0,283.1 1275.4,284.5 1275.8,296.3 1276.2,280.8 1276.6,282.2 1277.0,286.7 1277.4,287.5 1277.8,281.4 1278.2,286.2 1278.6,281.8 1279.0,283.5 1279.4,271.5 1279.8,285.8 1280.2,285.9 1280.6,297.9 1281.0,280.6 1281.4,291.6 1281.8,296.9 1282.2,285.1 1282.6,286.8 1283.0,288.0 1283.4,282.8 1283.8,291.8 1284.2,292.9 1284.6,284.6 1285.0,297.8 1285.4,287.0 1285.8,282.7 1286.2,285.5 1286.6,285.3 1287.0,279.1 1287.4,285.1 1287.8,291.5 1288.2,292.0 1288.6,282.9 1289.0,281.7 1289.4,282.0 1289.8,292.3 1290.2,275.4 1290.6,291.5 1291.0,283.7 1291.4,291.7 1291.8,283.7 1292.2,271.4 1292.6,282.4 1293.0,285.1 1293.4,287.8 1293.8,278.8 1294.2,282.7 1294.6,271.7 1295.0,275.3 1295.4,280.8 1295.8,271.2 1296.2,288.0 1296.6,290.7 1297.0,288.3 1297.4,289.2 1297.8,293.2 1298.2,283.9 1298.6,284.0 1299.0,278.4 1299.4,291.8 1299.8,298.2 1300.2,285.1 1300.6,275.3 1301.0,288.4 1301.4,290.6 1301.8,291.5 1302.2,280.5 1302.6,287.0 1303.0,287.5 1303.4,285.6 1303.8,289.3 1304.2,296.0 1304.6,282.9 1305.0,277.8 1305.4,293.4 1305.8,285.4 1306.2,295.5 1306.6,288.3 1307.0,294.3 1307.4,288.9 1307.8,292.1 1308.2,293.3 1308.6,278.2 1309.0,281.2 1309.4,294.4 1309.8,274.4 1310.2,288.2 1310.6,288.0 1311.0,293.4 1311.4,285.7 1311.8,298.1 1312.2,281.7 1312.6,276.9 1313.0,294.4 1313.4,285.9 1313.8,280.8 1314.2,302.4 1314.6,296.8 1315.0,286.5 1315.4,290.6 1315.8,287.2 1316.2,283.3 1316.6,286.2 1317.0,287.3 1317.4,280.9 1317.8,282.0 1318.2,288.6 1318.6,286.8 1319.0,280.8 1319.4,282.6 1319.8,282.8 1320.2,275.6 1320.6,274.0 1321.0,291.8 1321.4,274.2 1321.8,278.6 1322.2,281.8 1322.6,268.2 1323.0,269.7 1323.4,280.4 1323.8,278.9 1324.2,280.3 1324.6,274.8 1325.0,266.6 1325.4,282.4 1325.8,281.8 1326.2,280.0 1326.6,273.7 1327.0,275.4 1327.4,276.1 1327.8,279.1 1328.2,273.2 1328.6,282.1 1329.0,279.9 1329.4,284.1 1329.8,285.4 1330.2,277.2 1330.6,286.7 1331.0,292.6 1331.4,291.1 1331.8,291.8 1332.2,284.5 1332.6,284.0 1333.0,289.0 1333.4,274.0 1333.8,283.2 1334.2,262.0 1334.6,282.0 1335.0,272.5 1335.4,276.1 1335.8,271.8 1336.2,274.0 1336.6,273.5 1337.0,280.2 1337.4,281.5 1337.8,275.4 1338.2,265.3 1338.6,277.7 1339.0,283.6 1339.4,282.4 1339.8,277.2 1340.2,278.6 1340.6,277.0 1341.0,283.2 1341.4,284.3 1341.8,274.5 1342.2,276.4 1342.6,268.6 1343.0,282.5 1343.4,277.9 1343.8,281.4 1344.2,288.3 1344.6,265.3 1345.0,278.6 1345.4,269.3 1345.8,280.0 1346.2,273.7 1346.6,279.1 1347.0,283.4 1347.4,267.3 1347.8,261.8 1348.2,262.9 1348.6,278.8 1349.0,276.8 1349.4,274.8 1349.8,271.0 1350.2,272.1 1350.6,266.4 1351.0,262.1 1351.4,269.6 1351.8,271.5 1352.2,276.6 1352.6,269.9 1353.0,257.6 1353.4,266.7 1353.8,269.9 1354.2,270.5 1354.6,264.7 1355.0,261.9 1355.4,258.1 1355.8,287.5 1356.2,271.0 1356.6,255.7 1357.0,291.4 1357.4,278.9 1357.8,278.8 1358.2,284.4 1358.6,284.0 1359.0,271.5 1359.4,279.7 1359.8,276.2 1360.2,284.6 1360.6,266.9 1361.0,277.6 1361.4,269.5 1361.8,269.3 1362.2,266.0 1362.6,275.6 1363.0,269.7 1363.4,267.6 1363.8,280.7 1364.2,284.4 1364.6,273.4 1365.0,276.0 1365.4,286.0 1365.8,279.6 1366.2,277.7 1366.6,294.6 1367.0,278.9 1367.4,279.7 1367.8,289.2 1368.2,276.5 1368.6,277.0 1369.0,276.8 1369.4,286.7 1369.8,280.7 1370.2,291.0 1370.6,280.6 1371.0,285.5 1371.4,283.3 1371.8,282.8 1372.2,273.6 1372.6,285.1 1373.0,276.6 1373.4,266.5 1373.8,273.9 1374.2,276.7 1374.6,279.3 1375.0,284.2 1375.4,280.8 1375.8,271.1 1376.2,280.2 1376.6,263.9 1377.0,279.1 1377.4,291.0 1377.8,278.2 1378.2,271.3 1378.6,275.7 1379.0,292.2 1379.4,273.9 1379.8,279.6 1380.2,276.3 1380.6,276.8 1381.0,288.2 1381.4,271.2 1381.8,274.1 1382.2,279.7 1382.6,278.1 1383.0,283.2 1383.4,286.2 1383.8,274.6 1384.2,278.2 1384.6,280.2 1385.0,281.2 1385.4,273.6 1385.8,279.5 1386.2,285.1 1386.6,279.0 1387.0,281.6 1387.4,272.4 1387.8,272.8 1388.2,284.3 1388.6,286.7 1389.0,272.6 1389.4,282.7 1389.8,272.9 1390.2,279.2 1390.6,286.3 1391.0,291.4 1391.4,277.7 1391.8,282.1 1392.2,287.9 1392.6,268.4 1393.0,278.4 1393.4,283.0 1393.8,290.7 1394.2,285.2 1394.6,265.4 1395.0,279.7 1395.4,286.9 1395.8,287.9 1396.2,284.3 1396.6,282.9 1397.0,273.7 1397.4,276.3 1397.8,279.1 1398.2,271.7 1398.6,276.2 1399.0,268.1 1399.4,265.0 1399.8,279.0 1400.2,264.8 1400.6,281.4 1401.0,273.6 1401.4,275.6 1401.8,276.3 1402.2,273.6 1402.6,282.1 1403.0,281.2 1403.4,274.3 1403.8,277.6 1404.2,276.4 1404.6,274.1 1405.0,274.9 1405.4,271.6 1405.8,273.5 1406.2,272.7 1406.6,287.7 1407.0,270.3 1407.4,280.8 1407.8,286.9 1408.2,285.0 1408.6,275.1 1409.0,273.4 1409.4,268.9 1409.8,276.6 1410.2,290.4 1410.6,288.0 1411.0,283.0 1411.4,287.8 1411.8,281.4 1412.2,278.2 1412.6,293.7 1413.0,294.4 1413.4,281.8 1413.8,278.4 1414.2,292.6 1414.6,299.8 1415.0,294.7 1415.4,299.2 1415.8,286.1 1416.2,286.1 1416.6,291.9 1417.0,293.9 1417.4,292.7 1417.8,291.7 1418.2,307.9 1418.6,289.1 1419.0,290.3 1419.4,290.0 1419.8,293.7 1420.2,286.2 1420.6,287.3 1421.0,281.6 1421.4,293.1 1421.8,289.8 1422.2,284.4 1422.6,281.8 1423.0,283.8 1423.4,281.6 1423.8,286.6 1424.2,288.9 1424.6,283.3 1425.0,286.8 1425.4,290.8 1425.8,285.6 1426.2,296.5 1426.6,285.8 1427.0,282.8 1427.4,286.1 1427.8,289.1 1428.2,293.3 1428.6,285.4 1429.0,302.4 1429.4,281.4 1429.8,295.4 1430.2,280.7 1430.6,288.7 1431.0,283.6 1431.4,300.8 1431.8,289.2 1432.2,294.0 1432.6,298.9 1433.0,294.2 1433.4,283.3 1433.8,299.2 1434.2,287.0 1434.6,278.2 1435.0,280.5 1435.4,278.8 1435.8,292.7 1436.2,285.9 1436.6,278.8 1437.0,274.1 1437.4,279.4 1437.8,283.4 1438.2,291.9 1438.6,287.3 1439.0,280.1 1439.4,291.3 1439.8,273.3 1440.2,288.6 1440.6,300.6 1441.0,286.4 1441.4,285.6 1441.8,280.3 1442.2,293.3 1442.6,284.6 1443.0,281.4 1443.4,286.4 1443.8,295.9 1444.2,289.1 1444.6,290.6 1445.0,294.9 1445.4,281.1 1445.8,282.5 1446.2,293.6 1446.6,294.6 1447.0,292.4 1447.4,284.1 1447.8,292.2 1448.2,296.4 1448.6,287.3 1449.0,288.7 1449.4,291.4 1449.8,286.0 1450.2,288.5 1450.6,284.5 1451.0,283.1 1451.4,292.8 1451.8,280.7 1452.2,289.4 1452.6,295.1 1453.0,298.5 1453.4,299.6 1453.8,288.9 1454.2,295.1 1454.6,299.5 1455.0,294.7 1455.4,301.7 1455.8,298.8 1456.2,288.6 1456.6,292.5 1457.0,293.9 1457.4,294.3 1457.8,303.5 1458.2,287.4 1458.6,294.7 1459.0,292.2 1459.4,299.8 1459.8,300.6 1460.2,281.7 1460.6,286.4 1461.0,277.8 1461.4,279.4 1461.8,284.0 1462.2,302.6 1462.6,289.8 1463.0,288.5 1463.4,288.2 1463.8,296.0 1464.2,273.7 1464.6,284.5 1465.0,289.4 1465.4,282.9 1465.8,309.0 1466.2,293.6 1466.6,298.9 1467.0,284.7 1467.4,298.6 1467.8,297.4 1468.2,301.0 1468.6,300.5 1469.0,307.5 1469.4,299.4 1469.8,307.8 1470.2,300.9 1470.6,293.7 1471.0,306.3 1471.4,296.9 1471.8,302.2 1472.2,306.7 1472.6,287.8 1473.0,301.8 1473.4,292.9 1473.8,306.9 1474.2,295.6 1474.6,290.1 1475.0,282.3 1475.4,301.0 1475.8,291.4 1476.2,288.7 1476.6,283.3 1477.0,280.4 1477.4,288.4 1477.8,287.3 1478.2,280.5 1478.6,289.4 1479.0,284.4 1479.4,287.7 1479.8,286.6 1480.2,299.2 1480.6,283.8 1481.0,286.7 1481.4,286.1 1481.8,295.1 1482.2,293.7 1482.6,295.7 1483.0,287.6 1483.4,298.2 1483.8,300.3 1484.2,291.6 1484.6,293.1 1485.0,295.9 1485.4,307.3 1485.8,292.3 1486.2,296.3 1486.6,301.1 1487.0,307.1 1487.4,286.5 1487.8,297.5 1488.2,284.1 1488.6,294.2 1489.0,291.6 1489.4,291.6 1489.8,282.4 1490.2,278.9 1490.6,292.0 1491.0,283.6 1491.4,283.2 1491.8,284.4 1492.2,290.6 1492.6,290.7 1493.0,288.1 1493.4,291.1 1493.8,293.5 1494.2,293.0 1494.6,288.6 1495.0,285.2 1495.4,291.4 1495.8,297.2 1496.2,292.5 1496.6,289.0 1497.0,289.4 1497.4,293.0 1497.8,287.4 1498.2,291.7 1498.6,287.5 1499.0,295.8 1499.4,296.9 1499.8,294.9 1500.2,291.0 1500.6,279.9 1501.0,289.0 1501.4,277.6 1501.8,288.8 1502.2,293.5 1502.6,284.2 1503.0,284.6 1503.4,299.6 1503.8,290.0 1504.2,273.2 1504.6,278.2 1505.0,278.4 1505.4,282.5 1505.8,283.8 1506.2,281.7 1506.6,281.1 1507.0,285.4 1507.4,279.6 1507.8,276.2 1508.2,280.1 1508.6,289.8 1509.0,277.1 1509.4,291.9 1509.8,276.1 1510.2,280.2 1510.6,291.0 1511.0,267.6 1511.4,285.7 1511.8,285.3 1512.2,279.1 1512.6,292.4 1513.0,298.6 1513.4,285.7 1513.8,287.6 1514.2,278.3 1514.6,284.7 1515.0,289.2 1515.4,280.0 1515.8,289.4 1516.2,285.4 1516.6,281.0 1517.0,288.9 1517.4,280.5 1517.8,281.4 1518.2,278.1 1518.6,291.0 1519.0,289.6 1519.4,292.8 1519.8,291.2 1520.2,289.4 1520.6,281.6 1521.0,286.5 1521.4,278.5 1521.8,280.3 1522.2,279.6 1522.6,290.4 1523.0,284.9 1523.4,294.0 1523.8,278.2 1524.2,279.6 1524.6,281.0 1525.0,284.3 1525.4,294.9 1525.8,288.3 1526.2,292.5 1526.6,285.4 1527.0,278.2 1527.4,289.7 1527.8,287.3 1528.2,286.3 1528.6,290.6 1529.0,288.7 1529.4,288.9 1529.8,285.3 1530.2,296.6 1530.6,288.0 1531.0,290.0 1531.4,292.2 1531.8,289.0 1532.2,292.6 1532.6,289.0 1533.0,288.9 1533.4,275.4 1533.8,276.1 1534.2,284.5 1534.6,290.0 1535.0,289.0 1535.4,281.6 1535.8,280.3 1536.2,279.6 1536.6,284.1 1537.0,284.4 1537.4,282.1 1537.8,282.6 1538.2,279.2 1538.6,281.1 1539.0,279.7 1539.4,272.0 1539.8,274.4 1540.2,285.3 1540.6,278.9 1541.0,278.8 1541.4,287.9 1541.8,285.2 1542.2,288.4 1542.6,279.9 1543.0,281.3 1543.4,278.3 1543.8,274.5 1544.2,267.3 1544.6,280.8 1545.0,292.7 1545.4,281.0 1545.8,288.4 1546.2,283.5 1546.6,283.9 1547.0,283.6 1547.4,296.9 1547.8,283.3 1548.2,288.0 1548.6,291.5 1549.0,290.0 1549.4,287.0 1549.8,291.0 1550.2,280.2 1550.6,303.1 1551.0,284.2 1551.4,281.1 1551.8,291.7 1552.2,285.8 1552.6,279.9 1553.0,290.1 1553.4,289.3 1553.8,277.5 1554.2,280.2 1554.6,279.5 1555.0,286.6 1555.4,294.6 1555.8,291.5 1556.2,277.7 1556.6,277.5 1557.0,280.4 1557.4,279.8 1557.8,285.4 1558.2,271.9 1558.6,286.1 1559.0,292.2 1559.4,289.0 1559.8,284.7 1560.2,284.4 1560.6,280.4 1561.0,273.3 1561.4,276.2 1561.8,279.7 1562.2,275.4 1562.6,288.9 1563.0,283.2 1563.4,282.9 1563.8,283.6 1564.2,281.1 1564.6,294.1 1565.0,288.7 1565.4,297.4 1565.8,291.4 1566.2,291.9 1566.6,283.5 1567.0,292.1 1567.4,292.3 1567.8,289.9 1568.2,285.3 1568.6,278.5 1569.0,292.8 1569.4,287.3 1569.8,290.2 1570.2,285.6 1570.6,286.9 1571.0,288.7 1571.4,285.0 1571.8,296.3 1572.2,286.4 1572.6,277.1 1573.0,299.0 1573.4,278.4 1573.8,287.2 1574.2,279.3 1574.6,273.1 1575.0,293.0 1575.4,288.6 1575.8,289.5 1576.2,285.0 1576.6,286.8 1577.0,283.2 1577.4,279.8 1577.8,274.7 1578.2,276.7 1578.6,280.6 1579.0,272.5 1579.4,287.4 1579.8,287.4 1580.2,282.3 1580.6,289.5 1581.0,285.7 1581.4,286.3 1581.8,282.6 1582.2,264.4 1582.6,281.6 1583.0,282.2 1583.4,280.7 1583.8,277.5 1584.2,279.3 1584.6,282.7 1585.0,270.9 1585.4,275.8 1585.8,269.0 1586.2,274.7 1586.6,277.8 1587.0,262.8 1587.4,264.4 1587.8,269.2 1588.2,268.5 1588.6,268.3 1589.0,267.9 1589.4,279.4 1589.8,264.0 1590.2,263.8 1590.6,265.7 1591.0,274.3 1591.4,264.9 1591.8,281.2 1592.2,268.8 1592.6,262.2 1593.0,271.0 1593.4,270.6 1593.8,290.5 1594.2,272.4 1594.6,268.0 1595.0,274.6 1595.4,279.1 1595.8,263.6 1596.2,274.8 1596.6,270.3 1597.0,269.3 1597.4,280.4 1597.8,285.4 1598.2,266.1 1598.6,271.1 1599.0,273.2 1599.4,273.1 1599.8,276.2 1600.2,283.6 1600.6,283.0 1601.0,276.1 1601.4,277.9 1601.8,283.0 1602.2,263.3 1602.6,281.3 1603.0,273.6 1603.4,279.2 1603.8,265.8 1604.2,280.1 1604.6,279.0 1605.0,267.4 1605.4,284.2 1605.8,276.6 1606.2,271.7 1606.6,269.4 1607.0,277.0 1607.4,275.9 1607.8,275.3 1608.2,272.4 1608.6,269.8 1609.0,272.2 1609.4,266.7 1609.8,265.4 1610.2,276.5 1610.6,258.2 1611.0,263.8 1611.4,271.5 1611.8,281.7 1612.2,264.6 1612.6,265.0 1613.0,263.2 1613.4,268.9 1613.8,276.9 1614.2,273.5 1614.6,277.6 1615.0,273.5 1615.4,281.0 1615.8,273.1 1616.2,266.7 1616.6,274.6 1617.0,270.8 1617.4,276.3 1617.8,286.8 1618.2,287.9 1618.6,269.7 1619.0,281.7 1619.4,276.1 1619.8,285.6 1620.2,280.6 1620.6,274.4 1621.0,275.2 1621.4,289.2 1621.8,278.6 1622.2,279.5 1622.6,279.5 1623.0,281.0 1623.4,272.1 1623.8,288.6 1624.2,272.5 1624.6,276.7 1625.0,268.4 1625.4,268.0 1625.8,262.7 1626.2,272.0 1626.6,257.6 1627.0,271.7 1627.4,252.2 1627.8,270.2 1628.2,273.4 1628.6,272.5 1629.0,270.9 1629.4,282.8 1629.8,260.0 1630.2,267.6 1630.6,265.6 1631.0,270.2 1631.4,279.3 1631.8,274.3 1632.2,262.8 1632.6,260.2 1633.0,281.3 1633.4,281.7 1633.8,264.5 1634.2,271.6 1634.6,269.3 1635.0,273.9 1635.4,263.8 1635.8,270.8 1636.2,269.9 1636.6,261.6 1637.0,248.3 1637.4,271.3 1637.8,270.9 1638.2,265.7 1638.6,269.5 1639.0,273.0 1639.4,264.7 1639.8,261.8 1640.2,274.2 1640.6,270.1 1641.0,269.3 1641.4,276.1 1641.8,273.2 1642.2,272.6 1642.6,283.1 1643.0,279.0 1643.4,264.7 1643.8,277.5 1644.2,266.1 1644.6,277.5 1645.0,271.0 1645.4,272.0 1645.8,266.6 1646.2,272.2 1646.6,261.7 1647.0,266.4 1647.4,266.6 1647.8,274.2 1648.2,281.8 1648.6,269.1 1649.0,267.8 1649.4,271.6 1649.8,265.1 1650.2,262.3 1650.6,266.1 1651.0,277.8 1651.4,263.3 1651.8,269.3 1652.2,263.7 1652.6,277.0 1653.0,271.0 1653.4,271.4 1653.8,269.0 1654.2,259.1 1654.6,273.7 1655.0,266.4 1655.4,270.5 1655.8,269.3 1656.2,282.0 1656.6,284.2 1657.0,281.9 1657.4,275.1 1657.8,274.4 1658.2,280.9 1658.6,283.5 1659.0,283.7 1659.4,277.9 1659.8,277.5 1660.2,280.4 1660.6,275.2 1661.0,283.8 1661.4,286.4 1661.8,278.0 1662.2,286.2 1662.6,280.1 1663.0,273.3 1663.4,273.9 1663.8,262.1 1664.2,266.7 1664.6,271.0 1665.0,270.6 1665.4,258.3 1665.8,281.4 1666.2,279.7 1666.6,284.4 1667.0,276.7 1667.4,278.4 1667.8,273.2 1668.2,282.3 1668.6,282.1 1669.0,283.0 1669.4,271.8 1669.8,276.5 1670.2,272.2 1670.6,273.7 1671.0,274.5 1671.4,276.1 1671.8,260.0 1672.2,292.2 1672.6,271.5 1673.0,280.5 1673.4,283.9 1673.8,286.4 1674.2,267.4 1674.6,289.4 1675.0,283.0 1675.4,281.4 1675.8,277.7 1676.2,264.0 1676.6,274.6 1677.0,277.4 1677.4,289.8 1677.8,277.1 1678.2,275.1 1678.6,282.2 1679.0,286.6 1679.4,278.6 1679.8,278.8 1680.2,270.6 1680.6,283.4 1681.0,279.1 1681.4,284.4 1681.8,286.3 1682.2,281.5 1682.6,284.1 1683.0,298.5 1683.4,287.4 1683.8,273.9 1684.2,291.0 1684.6,274.3 1685.0,278.9 1685.4,281.3 1685.8,286.1 1686.2,274.9 1686.6,274.9 1687.0,286.6 1687.4,276.2 1687.8,285.7 1688.2,274.9 1688.6,274.3 1689.0,290.2 1689.4,278.7 1689.8,284.0 1690.2,285.8 1690.6,274.9 1691.0,292.2 1691.4,288.9 1691.8,278.4 1692.2,296.1 1692.6,294.5 1693.0,290.0 1693.4,282.4 1693.8,284.6 1694.2,289.0 1694.6,285.7 1695.0,283.6 1695.4,304.6 1695.8,294.7 1696.2,282.4 1696.6,289.9 1697.0,286.9 1697.4,278.7 1697.8,275.4 1698.2,294.5 1698.6,289.8 1699.0,291.4 1699.4,293.6 1699.8,267.7 1700.2,288.7 1700.6,278.9 1701.0,280.3 1701.4,286.1 1701.8,283.0 1702.2,276.3 1702.6,295.3 1703.0,285.3 1703.4,285.1 1703.8,287.3 1704.2,294.8 1704.6,296.5 1705.0,290.2 1705.4,289.8 1705.8,305.5 1706.2,296.2 1706.6,300.6 1707.0,288.2 1707.4,293.8 1707.8,304.0 1708.2,301.1 1708.6,285.3 1709.0,301.0 1709.4,293.8 1709.8,289.2 1710.2,298.1 1710.6,279.4 1711.0,298.2 1711.4,291.5 1711.8,297.5 1712.2,289.1 1712.6,288.9 1713.0,283.6 1713.4,283.9 1713.8,286.8 1714.2,283.0 1714.6,288.1 1715.0,273.8 1715.4,293.6 1715.8,289.3 1716.2,284.2 1716.6,291.8 1717.0,283.0 1717.4,296.5 1717.8,290.0 1718.2,290.9 1718.6,298.1 1719.0,295.2 1719.4,282.0 1719.8,300.0 1720.2,290.4 1720.6,288.2 1721.0,291.7 1721.4,303.9 1721.8,290.6 1722.2,293.0 1722.6,297.9 1723.0,282.0 1723.4,297.4 1723.8,298.0 1724.2,305.3 1724.6,295.7 1725.0,282.8 1725.4,286.3 1725.8,282.7 1726.2,295.0 1726.6,297.6 1727.0,282.6 1727.4,294.0 1727.8,289.8 1728.2,284.9 1728.6,292.7 1729.0,285.4 1729.4,293.6 1729.8,289.0 1730.2,293.5 1730.6,282.6 1731.0,291.6" fill="none" stroke="#C77CFF" stroke-width="1.6" stroke-linejoin="round"/>
<polyline points="145.5,1092.4 145.8,1059.9 146.2,1073.3 146.6,1063.2 147.0,1058.8 147.3,1056.9 147.7,1030.8 148.1,1047.0 148.4,1004.3 148.9,938.0 149.2,957.8 149.5,985.1 150.0,951.0 150.3,934.5 150.7,960.3 151.1,920.8 151.4,960.4 151.8,942.6 152.2,969.8 152.6,952.6 152.9,965.3 153.3,1040.9 153.7,1014.5 154.0,958.0 154.5,1050.9 154.8,1048.2 155.1,1055.1 155.6,1070.7 155.9,1055.5 156.3,1061.9 156.7,1075.4 157.0,1064.1 157.4,1067.1 157.8,1093.4 158.2,1099.7 158.5,1091.0 158.9,1108.0 159.3,1106.7 159.6,1113.7 160.1,1103.5 160.4,1094.0 160.7,1096.8 161.2,1094.4 161.5,1119.2 161.9,1108.0 162.3,1096.7 162.6,1086.1 163.0,1107.1 163.4,1109.0 163.8,1096.5 164.1,1090.1 164.6,1099.4 164.9,1104.2 165.2,1104.1 165.7,1085.1 166.0,1085.1 166.3,1094.5 166.8,1119.6 167.1,1101.2 167.5,1118.7 167.9,1112.2 168.3,1120.4 168.6,1085.9 169.0,1130.6 169.4,1126.5 169.7,1133.6 170.2,1142.0 170.5,1145.9 170.8,1136.0 171.3,1132.5 171.6,1127.2 172.0,1135.9 172.4,1143.4 172.7,1131.2 173.1,1143.5 173.5,1141.6 173.9,1143.6 174.2,1144.8 174.6,1144.7 175.0,1146.1 175.3,1146.7 175.8,1149.1 176.1,1154.1 176.4,1150.2 176.9,1156.1 177.2,1149.1 177.6,1139.7 178.0,1147.5 178.3,1151.4 178.7,1149.8 179.1,1148.1 179.5,1134.6 179.8,1132.9 180.2,1141.3 180.6,1135.6 180.9,1140.7 181.4,1136.0 181.7,1145.1 182.0,1141.0 182.5,1149.7 182.8,1146.2 183.2,1144.5 183.6,1144.2 183.9,1140.6 184.3,1138.3 184.7,1148.1 185.1,1144.0 185.4,1139.6 185.8,1127.2 186.2,1126.7 186.5,1142.3 187.0,1118.4 187.3,1120.2 187.6,1131.3 188.1,1131.1 188.4,1117.5 188.8,1134.3 189.2,1096.0 189.5,1107.1 189.9,1119.8 190.3,1100.4 190.7,1114.9 191.0,1095.8 191.5,1105.0 191.8,1113.6 192.1,1105.0 192.6,1084.7 192.9,1087.9 193.2,1095.7 193.7,1005.0 194.0,1057.3 194.4,1041.2 194.8,1006.6 195.2,995.5 195.5,987.2 195.9,958.2 196.3,990.0 196.6,958.2 197.1,988.1 197.4,983.5 197.7,945.7 198.2,1009.7 198.5,975.9 198.9,973.8 199.3,1011.6 199.6,1023.0 200.0,1043.9 200.4,986.0 200.8,986.0 201.1,986.5 201.5,1045.9 201.9,999.3 202.2,975.0 202.7,1016.3 203.0,1019.2 203.3,1002.6 203.8,1043.3 204.1,1080.9 204.5,1057.3 204.9,1090.9 205.2,1086.3 205.6,1084.7 206.0,1083.1 206.4,1090.5 206.7,1076.5 207.1,1083.0 207.5,1098.2 207.8,1106.2 208.3,1125.7 208.6,1121.2 208.9,1106.5 209.4,1128.6 209.7,1135.8 210.1,1131.4 210.5,1133.4 210.8,1118.8 211.2,1131.7 211.6,1137.6 212.0,1139.7 212.3,1136.8 212.7,1140.8 213.1,1136.6 213.4,1146.4 213.9,1143.4 214.2,1145.3 214.5,1141.6 215.0,1158.6 215.3,1142.5 215.7,1149.6 216.1,1150.1 216.4,1146.9 216.8,1149.3 217.2,1142.1 217.6,1139.6 217.9,1146.2 218.4,1142.7 218.7,1138.4 219.0,1134.7 219.5,1131.5 219.8,1146.1 220.1,1146.2 220.6,1160.9 220.9,1154.9 221.3,1152.5 221.7,1142.6 222.1,1128.4 222.4,1153.1 222.8,1138.6 223.2,1146.2 223.5,1155.2 224.0,1145.0 224.3,1143.8 224.6,1136.0 225.1,1130.9 225.4,1138.5 225.7,1135.0 226.2,1119.4 226.5,1103.2 226.9,1125.2 227.3,1126.9 227.7,1124.6 228.0,1125.3 228.4,1137.2 228.8,1121.3 229.1,1136.5 229.6,1101.9 229.9,1123.3 230.2,1131.3 230.7,1132.5 231.0,1123.6 231.4,1125.6 231.8,1118.4 232.1,1114.0 232.5,1122.3 232.9,1125.2 233.3,1131.9 233.6,1129.8 234.0,1110.0 234.4,1131.7 234.7,1119.4 235.2,1127.6 235.5,1115.0 235.8,1117.6 236.3,1137.3 236.6,1127.2 237.0,1140.6 237.4,1122.9 237.7,1116.6 238.1,1145.0 238.5,1129.4 238.9,1122.2 239.2,1104.4 239.6,1120.6 240.0,1139.8 240.3,1119.0 240.8,1145.0 241.1,1139.7 241.4,1136.0 241.9,1137.5 242.2,1135.5 242.6,1131.8 243.0,1141.8 243.3,1151.3 243.7,1142.3 244.1,1146.0 244.5,1139.4 244.8,1142.7 245.3,1146.2 245.6,1153.3 245.9,1151.4 246.4,1133.7 246.7,1132.9 247.0,1139.1 247.5,1152.5 247.8,1140.5 248.2,1148.8 248.6,1145.5 248.9,1143.3 249.3,1151.3 249.7,1135.6 250.1,1141.7 250.4,1149.5 250.9,1148.3 251.2,1141.5 251.5,1143.6 252.0,1142.6 252.3,1136.2 252.6,1138.7 253.1,1156.8 253.4,1151.6 253.8,1145.9 254.2,1162.0 254.6,1158.2 254.9,1148.2 255.3,1159.6 255.7,1151.9 256.0,1150.0 256.5,1153.2 256.8,1162.9 257.1,1147.4 257.6,1162.5 257.9,1157.9 258.3,1159.5 258.7,1157.8 259.0,1158.0 259.4,1154.8 259.8,1158.8 260.2,1147.1 260.5,1153.5 260.9,1150.3 261.3,1159.6 261.6,1165.5 262.1,1152.3 262.4,1148.6 262.7,1155.3 263.2,1163.9 263.5,1153.9 263.9,1156.7 264.3,1157.7 264.6,1154.9 265.0,1145.6 265.4,1150.6 265.8,1160.1 266.1,1154.5 266.5,1139.5 266.9,1150.1 267.2,1141.9 267.7,1139.1 268.0,1150.5 268.3,1135.2 268.8,1110.0 269.1,1122.9 269.5,1108.5 269.9,1125.7 270.2,1102.6 270.6,1108.5 271.0,1122.7 271.4,1106.7 271.7,1117.1 272.2,1091.6 272.5,1078.8 272.8,1076.7 273.3,1082.1 273.6,1070.6 273.9,1055.5 274.4,1097.5 274.7,1107.3 275.1,1071.8 275.5,1111.8 275.8,1108.5 276.2,1106.7 276.6,1103.8 277.0,1129.3 277.3,1112.5 277.8,1116.8 278.1,1126.4 278.4,1134.5 278.9,1147.1 279.2,1141.6 279.5,1132.0 280.0,1143.3 280.3,1151.1 280.7,1144.5 281.1,1139.4 281.5,1141.3 281.8,1145.9 282.2,1135.6 282.6,1147.5 282.9,1141.6 283.4,1148.8 283.7,1154.0 284.0,1143.4 284.5,1153.4 284.8,1156.2 285.2,1149.8 285.6,1151.2 285.9,1148.2 286.3,1144.9 286.7,1144.7 287.1,1148.0 287.4,1152.8 287.8,1157.9 288.2,1154.3 288.5,1159.0 289.0,1158.0 289.3,1152.6 289.6,1159.2 290.1,1155.3 290.4,1150.7 290.8,1147.6 291.2,1159.2 291.5,1156.8 291.9,1154.1 292.3,1118.8 292.7,1118.8 293.0,1135.4 293.4,1143.5 293.8,1140.2 294.1,1118.8 294.6,1126.4 294.9,1132.5 295.2,1145.9 295.7,1137.9 296.0,1128.6 296.4,1129.6 296.8,1125.6 297.1,1112.8 297.5,1122.5 297.9,1108.2 298.3,1087.8 298.6,1098.7 299.0,1102.3 299.4,1116.6 299.7,1102.7 300.2,1084.7 300.5,1104.8 300.8,1104.4 301.3,1072.5 301.6,1082.2 302.0,1087.8 302.4,1030.6 302.7,1011.6 303.1,1040.5 303.5,1025.1 303.9,1022.3 304.2,1034.5 304.7,1061.7 305.0,1067.8 305.3,1060.9 305.8,1077.4 306.1,1109.4 306.4,1090.4 306.9,1052.9 307.2,1063.7 307.6,1053.4 308.0,1063.3 308.4,1031.5 308.7,1029.4 309.1,1020.7 309.5,1020.7 309.8,1021.8 310.3,1052.3 310.6,1016.4 310.9,1011.6 311.4,1020.7 311.7,1042.2 312.1,1032.4 312.5,1025.1 312.8,1037.4 313.2,1028.1 313.6,1078.9 314.0,1101.7 314.3,1077.4 314.7,1092.8 315.1,1074.7 315.4,1074.0 315.9,1062.4 316.2,1062.4 316.5,1067.8 317.0,1075.0 317.3,1055.5 317.7,1068.9 318.1,1032.5 318.4,1060.0 318.8,1065.5 319.2,1032.5 319.6,1032.5 319.9,1037.4 320.3,1037.5 320.7,1024.0 321.0,1040.3 321.5,1034.4 321.8,1032.5 322.1,1032.5 322.6,1052.9 322.9,1032.5 323.3,1058.2 323.7,1070.2 324.0,1055.8 324.4,1032.5 324.8,1084.7 325.2,1100.5 325.5,1086.2 325.9,1114.3 326.3,1095.2 326.6,1100.9 327.1,1098.7 327.4,1100.1 327.7,1098.8 328.2,1124.8 328.5,1121.9 328.9,1113.8 329.3,1094.0 329.6,1118.8 330.0,1105.2 330.4,1138.1 330.8,1121.3 331.1,1125.8 331.6,1123.4 331.9,1142.7 332.2,1122.0 332.7,1136.4 333.0,1127.7 333.3,1129.5 333.8,1134.8 334.1,1143.5 334.5,1130.8 334.9,1126.4 335.3,1139.3 335.6,1154.3 336.0,1131.8 336.4,1130.0 336.7,1144.1 337.2,1143.2 337.5,1133.7 337.8,1141.6 338.3,1157.8 338.6,1150.6 339.0,1155.5 339.4,1143.4 339.7,1145.7 340.1,1150.7 340.5,1152.9 340.9,1152.9 341.2,1152.6 341.6,1145.7 342.0,1150.4 342.3,1136.2 342.8,1127.2 343.1,1148.8 343.4,1147.1 343.9,1137.6 344.2,1129.3 344.6,1138.8 345.0,1127.2 345.3,1130.9 345.7,1127.2 346.1,1137.1 346.5,1136.8 346.8,1127.2 347.2,1136.0 347.6,1143.5 347.9,1145.5 348.4,1143.0 348.7,1110.4 349.0,1125.1 349.5,1106.1 349.8,1096.0 350.2,1083.3 350.6,1116.6 350.9,1102.9 351.3,1126.8 351.7,1120.8 352.1,1106.5 352.4,1106.0 352.8,1083.3 353.2,1095.5 353.5,1083.3 354.0,1077.4 354.3,1094.3 354.6,1091.3 355.1,1018.0 355.4,1042.2 355.8,1010.3 356.2,989.7 356.5,984.8 356.9,1018.5 357.3,968.3 357.7,960.4 358.0,995.3 358.5,972.1 358.8,972.1 359.1,976.2 359.6,1018.0 359.9,1033.4 360.2,973.1 360.7,1094.8 361.0,1064.4 361.4,1048.2 361.8,1072.5 362.2,1081.1 362.5,1072.2 362.9,1061.2 363.3,1055.5 363.6,1055.5 364.1,1078.6 364.4,1089.0 364.7,1076.0 365.2,1092.1 365.5,1103.1 365.8,1107.5 366.3,1104.5 366.6,1129.0 367.0,1126.5 367.4,1110.7 367.8,1106.5 368.1,1122.5 368.5,1106.3 368.9,1119.0 369.2,1110.7 369.7,1106.7 370.0,1112.6 370.3,1113.7 370.8,1113.3 371.1,1117.1 371.5,1112.8 371.9,1122.7 372.2,1116.9 372.6,1128.4 373.0,1120.5 373.4,1110.0 373.7,1120.4 374.1,1131.2 374.5,1117.0 374.8,1135.4 375.3,1133.7 375.6,1128.6 375.9,1138.7 376.4,1141.5 376.7,1128.7 377.1,1126.0 377.5,1128.3 377.8,1139.4 378.2,1122.7 378.6,1118.8 379.0,1118.8 379.3,1124.2 379.7,1139.9 380.1,1127.1 380.4,1133.6 380.9,1128.6 381.2,1143.9 381.5,1135.8 382.0,1124.3 382.3,1123.4 382.7,1136.8 383.1,1100.6 383.4,1119.1 383.8,1129.4 384.2,1093.1 384.6,1110.3 384.9,1110.1 385.4,1116.4 385.7,1092.0 386.0,1125.8 386.5,1085.1 386.8,1085.1 387.1,1085.1 387.6,1100.0 387.9,1104.2 388.3,1099.4 388.7,1091.0 389.0,1096.3 389.4,1080.9 389.8,1094.6 390.2,1080.3 390.5,1082.4 391.0,1088.3 391.3,1108.6 391.6,1092.3 392.1,1110.3 392.4,1094.5 392.7,1084.3 393.2,1079.4 393.5,1086.1 393.9,1098.6 394.3,1076.7 394.7,1081.8 395.0,1080.0 395.4,1099.5 395.8,1101.0 396.1,1092.1 396.6,1100.9 396.9,1092.0 397.2,1076.7 397.7,1133.2 398.0,1127.6 398.4,1119.6 398.8,1113.2 399.1,1117.3 399.5,1135.2 399.9,1117.8 400.3,1083.7 400.6,1093.8 401.0,1121.7 401.4,1109.9 401.7,1125.0 402.2,1101.4 402.5,1121.5 402.8,1123.2 403.3,1122.0 403.6,1121.3 404.0,1131.3 404.4,1119.3 404.7,1125.4 405.1,1110.4 405.5,1122.2 405.9,1135.6 406.2,1114.1 406.6,1121.1 407.0,1122.2 407.3,1121.6 407.8,1118.6 408.1,1129.7 408.4,1134.6 408.9,1115.8 409.2,1137.0 409.6,1117.6 410.0,1128.1 410.3,1135.0 410.7,1127.7 411.1,1116.1 411.5,1141.0 411.8,1123.7 412.3,1137.1 412.6,1144.3 412.9,1142.1 413.4,1119.1 413.7,1130.7 414.0,1127.8 414.5,1145.9 414.8,1144.9 415.2,1136.0 415.6,1131.2 415.9,1136.7 416.3,1127.2 416.7,1127.2 417.1,1127.2 417.4,1145.3 417.9,1139.7 418.2,1145.9 418.5,1145.8 419.0,1135.7 419.3,1150.1 419.6,1147.0 420.1,1145.7 420.4,1142.4 420.8,1150.7 421.2,1139.7 421.6,1145.2 421.9,1141.9 422.3,1152.3 422.7,1154.1 423.0,1137.6 423.5,1153.5 423.8,1147.6 424.1,1154.3 424.6,1156.5 424.9,1162.7 425.3,1158.8 425.7,1157.1 426.0,1153.3 426.4,1157.5 426.8,1164.7 427.2,1162.3 427.5,1150.8 427.9,1161.5 428.3,1160.6 428.6,1157.9 429.1,1157.9 429.4,1160.3 429.7,1160.6 430.2,1159.3 430.5,1167.1 430.9,1157.1 431.3,1152.6 431.6,1149.6 432.0,1161.7 432.4,1141.3 432.8,1144.7 433.1,1151.3 433.5,1145.2 433.9,1144.5 434.2,1139.9 434.7,1151.0 435.0,1145.8 435.3,1143.3 435.8,1127.9 436.1,1127.2 436.5,1130.9 436.9,1137.8 437.2,1140.4 437.6,1129.3 438.0,1137.7 438.4,1134.4 438.7,1133.8 439.1,1133.4 439.5,1112.3 439.8,1128.8 440.3,1113.3 440.6,1111.7 440.9,1106.7 441.4,1097.2 441.7,1114.4 442.1,1093.5 442.5,1108.6 442.8,1116.7 443.2,1121.9 443.6,1130.7 444.0,1103.9 444.3,1124.2 444.8,1120.9 445.1,1112.0 445.4,1119.3 445.9,1133.4 446.2,1149.5 446.5,1154.3 447.0,1132.2 447.3,1142.3 447.7,1136.9 448.1,1149.2 448.5,1140.2 448.8,1136.0 449.2,1130.0 449.6,1147.3 449.9,1127.2 450.4,1143.8 450.7,1150.1 451.0,1144.7 451.5,1127.2 451.8,1127.2 452.2,1141.2 452.6,1136.5 452.9,1129.3 453.3,1142.3 453.7,1144.1 454.1,1141.0 454.4,1136.6 454.8,1137.9 455.2,1150.8 455.5,1138.7 456.0,1140.5 456.3,1136.1 456.6,1152.4 457.1,1136.0 457.4,1136.6 457.8,1143.6 458.2,1141.0 458.5,1132.5 458.9,1112.0 459.3,1124.6 459.7,1140.5 460.0,1143.6 460.4,1131.9 460.8,1124.1 461.1,1138.2 461.6,1135.3 461.9,1128.4 462.2,1117.1 462.7,1140.3 463.0,1136.3 463.4,1136.8 463.8,1123.6 464.1,1122.9 464.5,1119.2 464.9,1120.1 465.3,1125.0 465.6,1130.2 466.0,1130.2 466.4,1122.8 466.7,1121.1 467.2,1126.5 467.5,1127.7 467.8,1131.9 468.3,1121.3 468.6,1133.9 469.0,1125.3 469.4,1110.4 469.7,1120.6 470.1,1128.8 470.5,1110.4 470.9,1117.8 471.2,1124.0 471.7,1124.0 472.0,1127.7 472.3,1126.6 472.8,1134.0 473.1,1115.0 473.4,1125.3 473.9,1135.8 474.2,1126.6 474.6,1134.3 475.0,1133.4 475.4,1121.1 475.7,1134.7 476.1,1143.8 476.5,1141.0 476.8,1136.0 477.3,1133.9 477.6,1138.6 477.9,1131.7 478.4,1138.1 478.7,1144.8 479.1,1127.2 479.5,1138.4 479.8,1122.6 480.2,1123.1 480.6,1122.4 481.0,1148.2 481.3,1137.5 481.7,1114.0 482.1,1105.4 482.4,1129.5 482.9,1092.6 483.2,1113.4 483.5,1121.6 484.0,1120.9 484.3,1099.2 484.7,1121.2 485.1,1106.1 485.4,1104.4 485.8,1112.1 486.2,1110.5 486.6,1093.6 486.9,1103.5 487.3,1119.4 487.7,1104.8 488.0,1099.4 488.5,1115.5 488.8,1110.6 489.1,1101.2 489.6,1124.3 489.9,1124.2 490.3,1102.2 490.7,1106.8 491.0,1125.0 491.4,1135.2 491.8,1121.7 492.2,1127.7 492.5,1118.5 492.9,1136.3 493.3,1139.5 493.6,1136.0 494.1,1134.1 494.4,1143.9 494.7,1145.5 495.2,1127.5 495.5,1132.3 495.9,1127.9 496.3,1158.5 496.6,1144.0 497.0,1140.9 497.4,1151.1 497.8,1146.5 498.1,1138.1 498.6,1159.8 498.9,1158.4 499.2,1153.5 499.7,1159.2 500.0,1154.3 500.3,1163.2 500.8,1152.5 501.1,1149.6 501.5,1150.8 501.9,1160.2 502.3,1146.1 502.6,1164.3 503.0,1136.2 503.4,1155.4 503.7,1141.6 504.2,1156.1 504.5,1145.0 504.8,1156.6 505.3,1145.7 505.6,1150.1 505.9,1150.8 506.4,1140.8 506.7,1140.5 507.1,1150.9 507.5,1144.6 507.9,1148.1 508.2,1149.0 508.6,1152.7 509.0,1151.5 509.3,1135.6 509.8,1143.3 510.1,1147.9 510.4,1145.2 510.9,1130.0 511.2,1130.4 511.6,1126.6 512.0,1138.4 512.3,1140.1 512.7,1130.9 513.1,1122.3 513.5,1113.2 513.8,1114.9 514.2,1151.0 514.6,1147.1 514.9,1132.3 515.4,1124.0 515.7,1131.5 516.0,1130.0 516.5,1127.1 516.8,1112.5 517.2,1110.4 517.6,1128.2 517.9,1121.3 518.3,1121.3 518.7,1124.0 519.1,1108.7 519.4,1113.9 519.8,1111.9 520.2,1091.0 520.5,1083.5 521.0,1083.3 521.3,1092.9 521.6,1089.3 522.1,1084.7 522.4,1083.3 522.8,1090.7 523.2,1091.2 523.5,1077.4 523.9,1081.7 524.3,1098.6 524.7,1083.3 525.0,1083.3 525.5,1098.9 525.8,1077.4 526.1,1101.7 526.6,1097.7 526.9,1094.3 527.2,1083.3 527.7,1093.9 528.0,1102.4 528.4,1113.8 528.8,1099.0 529.1,1101.9 529.5,1093.4 529.9,1121.3 530.3,1131.6 530.6,1128.8 531.1,1114.4 531.4,1110.4 531.7,1110.4 532.2,1133.0 532.5,1131.5 532.8,1126.6 533.3,1136.3 533.6,1114.0 534.0,1120.7 534.4,1141.8 534.8,1124.2 535.1,1129.6 535.5,1132.2 535.9,1125.6 536.2,1128.8 536.7,1145.4 537.0,1140.7 537.3,1154.3 537.8,1143.3 538.1,1151.7 538.5,1154.4 538.9,1153.4 539.2,1147.2 539.6,1147.9 540.0,1150.5 540.4,1143.7 540.7,1143.7 541.1,1135.3 541.5,1140.0 541.8,1136.2 542.3,1134.7 542.6,1139.6 542.9,1126.2 543.4,1127.3 543.7,1131.4 544.1,1124.6 544.5,1118.8 544.8,1124.7 545.2,1121.4 545.6,1130.2 546.0,1120.2 546.3,1121.2 546.7,1128.6 547.1,1139.3 547.4,1135.1 547.9,1119.3 548.2,1120.8 548.5,1111.4 549.0,1129.3 549.3,1128.4 549.7,1120.8 550.1,1113.7 550.4,1111.1 550.8,1123.5 551.2,1113.4 551.6,1112.9 551.9,1125.9 552.4,1128.2 552.7,1131.6 553.0,1119.9 553.5,1137.1 553.8,1139.7 554.1,1110.4 554.6,1114.9 554.9,1117.1 555.3,1123.0 555.7,1123.5 556.0,1121.3 556.4,1135.8 556.8,1123.3 557.2,1119.0 557.5,1110.4 558.0,1141.1 558.3,1150.0 558.6,1134.2 559.1,1121.1 559.4,1129.2 559.7,1120.5 560.2,1130.0 560.5,1120.2 560.9,1135.3 561.3,1132.1 561.7,1117.6 562.0,1127.7 562.4,1118.0 562.8,1132.9 563.1,1132.1 563.6,1141.9 563.9,1143.5 564.2,1143.2 564.7,1139.2 565.0,1141.2 565.4,1149.6 565.8,1137.1 566.1,1136.0 566.5,1137.6 566.9,1132.7 567.3,1145.3 567.6,1143.2 568.0,1143.7 568.4,1131.0 568.7,1135.7 569.2,1143.1 569.5,1148.6 569.8,1132.2 570.3,1151.9 570.6,1150.7 571.0,1143.0 571.4,1148.3 571.7,1144.0 572.1,1148.7 572.5,1149.2 572.9,1149.8 573.2,1141.7 573.6,1160.9 574.0,1143.5 574.3,1146.7 574.8,1140.0 575.1,1135.6 575.4,1132.2 575.9,1162.3 576.2,1161.4 576.6,1157.4 577.0,1158.8 577.3,1155.6 577.7,1146.7 578.1,1159.4 578.5,1155.4 578.8,1154.8 579.2,1155.2 579.6,1159.6 579.9,1158.2 580.4,1163.3 580.7,1158.6 581.0,1161.9 581.5,1161.6 581.8,1163.1 582.2,1165.0 582.6,1161.3 582.9,1154.5 583.3,1161.3 583.7,1160.7 584.1,1155.8 584.4,1168.1 584.9,1147.8 585.2,1160.3 585.5,1165.9 586.0,1152.3 586.3,1157.8 586.6,1151.3 587.1,1149.8 587.4,1156.4 587.8,1154.8 588.2,1167.4 588.6,1150.6 588.9,1160.8 589.3,1131.4 589.7,1132.9 590.0,1129.3 590.5,1152.8 590.8,1119.3 591.1,1127.7 591.6,1134.1 591.9,1144.8 592.3,1139.0 592.7,1139.7 593.0,1120.8 593.4,1143.7 593.8,1128.6 594.2,1142.5 594.5,1135.7 594.9,1128.2 595.3,1128.3 595.6,1115.9 596.1,1121.0 596.4,1085.1 596.7,1103.5 597.2,1099.4 597.5,1118.1 597.9,1101.5 598.3,1092.2 598.6,1113.1 599.0,1098.3 599.4,1118.3 599.8,1122.9 600.1,1124.8 600.5,1140.3 600.9,1136.0 601.2,1142.8 601.7,1147.8 602.0,1138.0 602.3,1136.9 602.8,1139.7 603.1,1135.7 603.5,1144.5 603.9,1139.5 604.2,1151.9 604.6,1137.7 605.0,1137.8 605.4,1144.7 605.7,1139.2 606.1,1138.5 606.5,1142.7 606.8,1155.6 607.3,1136.9 607.6,1139.0 607.9,1142.0 608.4,1153.2 608.7,1155.8 609.1,1157.5 609.5,1131.6 609.8,1147.2 610.2,1135.9 610.6,1156.5 611.0,1152.1 611.3,1152.1 611.8,1164.5 612.1,1158.6 612.4,1150.0 612.9,1159.6 613.2,1157.2 613.5,1156.7 614.0,1157.9 614.3,1165.3 614.7,1160.9 615.1,1153.5 615.5,1160.3 615.8,1154.6 616.2,1160.2 616.6,1156.8 616.9,1151.0 617.4,1148.0 617.7,1137.6 618.0,1154.9 618.5,1138.6 618.8,1144.3 619.2,1151.4 619.6,1135.7 619.9,1140.4 620.3,1128.3 620.7,1139.7 621.1,1133.9 621.4,1132.2 621.8,1147.5 622.2,1138.8 622.5,1136.0 623.0,1127.6 623.3,1132.0 623.6,1122.4 624.1,1131.6 624.4,1099.6 624.8,1111.8 625.2,1096.6 625.5,1071.2 625.9,1068.3 626.3,1087.7 626.7,1092.0 627.0,1074.6 627.4,1084.7 627.8,1095.2 628.1,1099.8 628.6,1069.9 628.9,1061.8 629.2,1065.9 629.7,1048.2 630.0,1068.2 630.4,1050.2 630.8,1055.5 631.1,1055.5 631.5,1055.5 631.9,1076.6 632.3,1084.0 632.6,1106.3 633.0,1104.9 633.4,1078.6 633.7,1110.5 634.2,1106.9 634.5,1107.9 634.8,1106.7 635.3,1107.0 635.6,1104.7 636.0,1093.5 636.4,1124.1 636.7,1093.5 637.1,1095.4 637.5,1120.2 637.9,1129.1 638.2,1108.0 638.7,1105.6 639.0,1124.7 639.3,1114.7 639.8,1113.1 640.1,1115.7 640.4,1121.3 640.9,1116.2 641.2,1118.6 641.6,1115.4 642.0,1110.1 642.4,1125.6 642.7,1120.5 643.1,1114.5 643.5,1133.0 643.8,1133.1 644.3,1136.0 644.6,1128.6 644.9,1136.8 645.4,1143.7 645.7,1125.0 646.0,1133.9 646.5,1120.7 646.8,1143.7 647.2,1138.0 647.6,1134.4 648.0,1125.1 648.3,1127.0 648.7,1140.9 649.1,1136.2 649.4,1143.2 649.9,1141.2 650.2,1153.4 650.5,1122.4 651.0,1146.7 651.3,1139.7 651.7,1147.8 652.1,1131.0 652.4,1118.8 652.8,1129.2 653.2,1139.6 653.6,1140.2 653.9,1145.0 654.3,1155.2 654.7,1154.3 655.0,1141.2 655.5,1149.0 655.8,1143.3 656.1,1147.8 656.6,1143.7 656.9,1147.7 657.3,1135.6 657.7,1152.1 658.0,1145.8 658.4,1146.9 658.8,1140.3 659.2,1149.5 659.5,1150.9 659.9,1137.3 660.3,1146.9 660.6,1139.1 661.1,1147.3 661.4,1153.1 661.7,1152.7 662.2,1154.7 662.5,1154.5 662.9,1152.5 663.3,1141.4 663.6,1149.9 664.0,1151.9 664.4,1153.5 664.8,1150.6 665.1,1156.5 665.6,1149.4 665.9,1146.8 666.2,1154.1 666.7,1151.0 667.0,1140.2 667.3,1135.4 667.8,1142.6 668.1,1156.4 668.5,1145.8 668.9,1146.5 669.2,1153.4 669.6,1139.9 670.0,1146.7 670.4,1155.7 670.7,1150.1 671.2,1129.4 671.5,1133.0 671.8,1127.6 672.3,1144.2 672.6,1136.0 672.9,1144.1 673.4,1115.2 673.7,1090.6 674.1,1127.5 674.5,1069.9 674.9,1083.8 675.2,1099.3 675.6,1092.1 676.0,1074.1 676.3,1055.5 676.8,1055.5 677.1,1055.5 677.4,1055.5 677.9,1055.1 678.2,1048.2 678.6,1064.1 679.0,961.9 679.3,935.7 679.7,901.1 680.1,907.3 680.5,869.1 680.8,865.2 681.2,796.9 681.6,796.9 681.9,838.2 682.4,857.9 682.7,890.9 683.0,873.7 683.5,834.0 683.8,776.0 684.2,808.1 684.6,804.7 684.9,880.3 685.3,822.0 685.7,943.2 686.1,876.2 686.4,892.9 686.8,892.1 687.2,961.1 687.5,976.2 688.0,954.9 688.3,952.8 688.6,931.1 689.1,963.4 689.4,1001.2 689.8,1013.2 690.2,1044.7 690.5,1022.2 690.9,1004.4 691.3,1084.7 691.7,1107.3 692.0,1087.7 692.5,1096.7 692.8,1089.7 693.1,1100.6 693.6,1107.0 693.9,1097.4 694.2,1114.3 694.7,1106.7 695.0,1108.2 695.4,1107.8 695.8,1124.1 696.1,1097.1 696.5,1120.6 696.9,1117.9 697.3,1116.6 697.6,1125.8 698.1,1130.0 698.4,1114.4 698.7,1131.6 699.2,1128.3 699.5,1111.6 699.8,1108.2 700.3,1121.3 700.6,1122.6 701.0,1142.7 701.4,1110.4 701.8,1137.5 702.1,1145.6 702.5,1124.9 702.9,1133.0 703.2,1129.1 703.7,1127.9 704.0,1119.1 704.3,1133.5 704.8,1124.8 705.1,1110.4 705.5,1110.4 705.9,1131.9 706.2,1128.6 706.6,1135.1 707.0,1131.2 707.4,1118.8 707.7,1139.4 708.1,1133.9 708.5,1132.8 708.8,1121.3 709.3,1118.8 709.6,1128.4 709.9,1121.1 710.4,1118.8 710.7,1121.7 711.1,1126.5 711.5,1136.1 711.8,1118.8 712.2,1126.0 712.6,1118.8 713.0,1144.6 713.3,1130.5 713.7,1135.9 714.1,1133.2 714.4,1145.4 714.9,1145.5 715.2,1132.4 715.5,1144.2 716.0,1119.6 716.3,1118.8 716.7,1124.4 717.1,1136.0 717.4,1136.7 717.8,1144.4 718.2,1120.3 718.6,1126.4 718.9,1128.3 719.3,1141.4 719.7,1118.8 720.0,1139.5 720.5,1132.1 720.8,1132.0 721.1,1118.8 721.6,1125.6 721.9,1147.3 722.3,1138.1 722.7,1133.6 723.0,1137.6 723.4,1129.4 723.8,1122.5 724.2,1118.8 724.5,1123.8 725.0,1139.2 725.3,1136.6 725.6,1139.9 726.1,1118.8 726.4,1131.2 726.7,1127.6 727.2,1143.0 727.5,1138.4 727.9,1135.7 728.3,1128.6 728.7,1136.6 729.0,1133.7 729.4,1121.9 729.8,1135.8 730.1,1129.8 730.6,1129.5 730.9,1132.3 731.2,1131.1 731.7,1128.4 732.0,1129.7 732.4,1133.6 732.8,1133.7 733.1,1135.4 733.5,1138.3 733.9,1133.3 734.3,1130.7 734.6,1118.8 735.0,1135.9 735.4,1138.9 735.7,1139.2 736.2,1123.3 736.5,1143.6 736.8,1125.7 737.3,1128.3 737.6,1131.3 738.0,1125.0 738.4,1132.5 738.7,1143.6 739.1,1124.1 739.5,1141.3 739.9,1136.7 740.2,1136.0 740.6,1146.9 741.0,1145.3 741.3,1142.5 741.8,1127.2 742.1,1132.1 742.4,1133.9 742.9,1144.9 743.2,1130.9 743.6,1138.0 744.0,1137.3 744.3,1146.7 744.7,1132.7 745.1,1127.2 745.5,1142.1 745.8,1144.0 746.2,1148.7 746.6,1145.5 746.9,1152.0 747.4,1140.6 747.7,1153.3 748.0,1136.5 748.5,1141.9 748.8,1154.4 749.2,1150.3 749.6,1151.8 749.9,1154.6 750.3,1150.6 750.7,1143.2 751.1,1147.6 751.4,1148.7 751.9,1141.3 752.2,1148.2 752.5,1159.0 753.0,1149.3 753.3,1148.0 753.6,1145.9 754.1,1135.6 754.4,1149.1 754.8,1162.1 755.2,1135.6 755.6,1153.3 755.9,1150.4 756.3,1145.5 756.7,1159.5 757.0,1143.3 757.5,1124.0 757.8,1131.2 758.1,1141.7 758.6,1127.9 758.9,1128.8 759.3,1139.0 759.7,1138.7 760.0,1143.2 760.4,1144.6 760.8,1113.5 761.2,1112.3 761.5,1121.9 761.9,1121.3 762.3,1131.5 762.6,1137.2 763.1,1136.5 763.4,1140.6 763.7,1138.1 764.2,1143.5 764.5,1132.7 764.9,1124.6 765.3,1141.5 765.6,1128.1 766.0,1139.3 766.4,1138.3 766.8,1130.6 767.1,1137.3 767.5,1149.3 767.9,1143.3 768.2,1155.3 768.7,1138.8 769.0,1143.3 769.3,1146.2 769.8,1144.2 770.1,1137.5 770.5,1144.0 770.9,1142.5 771.2,1145.1 771.6,1144.8 772.0,1148.2 772.4,1135.6 772.7,1147.1 773.1,1138.7 773.5,1145.5 773.8,1146.0 774.3,1137.3 774.6,1145.0 774.9,1135.8 775.4,1136.5 775.7,1152.8 776.1,1143.7 776.5,1156.1 776.8,1138.6 777.2,1154.0 777.6,1135.6 778.0,1135.6 778.3,1143.8 778.8,1140.5 779.1,1139.7 779.4,1135.6 779.9,1147.4 780.2,1143.3 780.5,1156.6 781.0,1143.9 781.3,1155.2 781.7,1141.4 782.1,1140.5 782.5,1150.9 782.8,1145.1 783.2,1145.2 783.6,1141.2 783.9,1149.4 784.4,1148.0 784.7,1150.3 785.0,1143.7 785.5,1141.7 785.8,1149.0 786.1,1143.9 786.6,1150.6 786.9,1151.2 787.3,1155.7 787.7,1149.7 788.1,1147.7 788.4,1146.4 788.8,1162.9 789.2,1150.7 789.5,1155.7 790.0,1158.0 790.3,1150.1 790.6,1147.5 791.1,1144.0 791.4,1156.0 791.8,1151.2 792.2,1150.6 792.5,1157.1 792.9,1160.8" fill="none" stroke="#F8766D" stroke-width="1.5" stroke-linejoin="round"/>
<polyline points="145.5,1098.6 145.8,1091.6 146.2,1065.7 146.6,1072.2 147.0,1072.2 147.3,1072.2 147.7,1102.4 148.1,1087.5 148.4,1078.8 148.9,1099.4 149.2,1101.1 149.5,1107.2 150.0,1085.1 150.3,1115.6 150.7,1095.9 151.1,1118.2 151.4,1127.1 151.8,1116.1 152.2,1097.4 152.6,1117.5 152.9,1110.6 153.3,1098.1 153.7,1115.2 154.0,1092.5 154.5,1121.3 154.8,1138.6 155.1,1128.7 155.6,1107.1 155.9,1126.9 156.3,1105.9 156.7,1099.4 157.0,1098.7 157.4,1103.8 157.8,1086.7 158.2,1072.0 158.5,1077.4 158.9,1099.3 159.3,1084.9 159.6,1084.7 160.1,1055.5 160.4,1072.1 160.7,1055.5 161.2,1055.5 161.5,1080.4 161.9,1058.1 162.3,1048.2 162.6,1069.8 163.0,1053.5 163.4,1047.8 163.8,1034.8 164.1,1041.3 164.6,1062.1 164.9,1025.5 165.2,1002.8 165.7,1060.7 166.0,1067.1 166.3,1036.6 166.8,1080.1 167.1,1062.8 167.5,1086.4 167.9,1069.4 168.3,1079.1 168.6,1069.4 169.0,1089.8 169.4,1094.7 169.7,1098.0 170.2,1117.3 170.5,1106.7 170.8,1121.5 171.3,1122.4 171.6,1108.8 172.0,1095.0 172.4,1102.1 172.7,1107.2 173.1,1113.9 173.5,1114.9 173.9,1138.3 174.2,1129.5 174.6,1134.0 175.0,1132.5 175.3,1134.6 175.8,1139.8 176.1,1137.8 176.4,1136.0 176.9,1130.3 177.2,1135.6 177.6,1138.0 178.0,1136.6 178.3,1131.1 178.7,1138.4 179.1,1133.7 179.5,1139.9 179.8,1143.4 180.2,1136.6 180.6,1125.9 180.9,1143.5 181.4,1131.7 181.7,1128.2 182.0,1124.5 182.5,1123.0 182.8,1136.0 183.2,1147.4 183.6,1123.0 183.9,1123.0 184.3,1129.4 184.7,1144.1 185.1,1132.3 185.4,1135.7 185.8,1126.6 186.2,1115.7 186.5,1102.2 187.0,1120.2 187.3,1139.5 187.6,1126.6 188.1,1110.2 188.4,1101.9 188.8,1103.7 189.2,1102.0 189.5,1098.8 189.9,1096.3 190.3,1122.9 190.7,1106.7 191.0,1118.8 191.5,1081.9 191.8,1053.9 192.1,1076.8 192.6,1068.1 192.9,1064.5 193.2,1032.5 193.7,1041.2 194.0,1026.9 194.4,1020.7 194.8,1030.3 195.2,1053.3 195.5,1011.6 195.9,966.2 196.3,972.8 196.6,916.5 197.1,916.2 197.4,911.1 197.7,899.2 198.2,843.3 198.5,864.0 198.9,862.7 199.3,852.5 199.6,821.8 200.0,784.7 200.4,827.2 200.8,806.7 201.1,808.2 201.5,905.9 201.9,867.6 202.2,865.2 202.7,924.3 203.0,969.3 203.3,964.8 203.8,979.0 204.1,1018.1 204.5,975.0 204.9,1001.4 205.2,987.0 205.6,1001.9 206.0,1074.6 206.4,1089.4 206.7,1070.1 207.1,1088.8 207.5,1086.5 207.8,1094.0 208.3,1081.6 208.6,1100.8 208.9,1082.2 209.4,1085.8 209.7,1112.3 210.1,1106.1 210.5,1121.3 210.8,1135.5 211.2,1129.0 211.6,1110.4 212.0,1126.6 212.3,1128.2 212.7,1121.6 213.1,1114.0 213.4,1128.0 213.9,1138.5 214.2,1142.9 214.5,1139.0 215.0,1128.2 215.3,1131.2 215.7,1128.9 216.1,1148.6 216.4,1144.5 216.8,1136.0 217.2,1143.8 217.6,1151.0 217.9,1135.1 218.4,1129.5 218.7,1148.7 219.0,1133.3 219.5,1136.6 219.8,1137.7 220.1,1132.7 220.6,1128.2 220.9,1126.4 221.3,1112.8 221.7,1125.6 222.1,1139.0 222.4,1120.0 222.8,1133.7 223.2,1121.0 223.5,1128.8 224.0,1121.3 224.3,1136.0 224.6,1126.8 225.1,1114.0 225.4,1115.8 225.7,1124.7 226.2,1091.2 226.5,1125.3 226.9,1094.2 227.3,1109.5 227.7,1106.4 228.0,1123.9 228.4,1112.8 228.8,1111.1 229.1,1093.3 229.6,1111.4 229.9,1113.6 230.2,1126.8 230.7,1117.6 231.0,1088.0 231.4,1110.2 231.8,1115.0 232.1,1100.1 232.5,1099.4 232.9,1094.1 233.3,1095.9 233.6,1085.1 234.0,1100.7 234.4,1115.4 234.7,1115.0 235.2,1102.7 235.5,1102.1 235.8,1097.0 236.3,1086.8 236.6,1113.1 237.0,1099.4 237.4,1106.7 237.7,1118.4 238.1,1115.1 238.5,1113.4 238.9,1122.7 239.2,1125.5 239.6,1112.8 240.0,1137.1 240.3,1127.9 240.8,1122.4 241.1,1125.6 241.4,1133.9 241.9,1127.6 242.2,1140.4 242.6,1133.7 243.0,1132.1 243.3,1118.8 243.7,1120.7 244.1,1122.1 244.5,1111.9 244.8,1117.4 245.3,1138.9 245.6,1123.6 245.9,1129.0 246.4,1136.0 246.7,1145.9 247.0,1138.6 247.5,1137.7 247.8,1156.5 248.2,1132.1 248.6,1127.2 248.9,1143.1 249.3,1145.3 249.7,1142.9 250.1,1131.4 250.4,1141.6 250.9,1137.1 251.2,1136.4 251.5,1137.1 252.0,1154.7 252.3,1148.3 252.6,1151.0 253.1,1151.4 253.4,1132.2 253.8,1137.5 254.2,1144.9 254.6,1152.7 254.9,1151.4 255.3,1155.0 255.7,1161.9 256.0,1142.7 256.5,1161.6 256.8,1159.6 257.1,1163.5 257.6,1155.1 257.9,1154.3 258.3,1160.1 258.7,1147.2 259.0,1151.4 259.4,1149.4 259.8,1157.5 260.2,1161.4 260.5,1159.5 260.9,1152.6 261.3,1146.1 261.6,1144.0 262.1,1144.0 262.4,1150.0 262.7,1144.0 263.2,1145.2 263.5,1154.7 263.9,1158.1 264.3,1158.7 264.6,1158.2 265.0,1146.5 265.4,1156.2 265.8,1152.2 266.1,1150.6 266.5,1142.3 266.9,1144.4 267.2,1141.3 267.7,1140.3 268.0,1139.7 268.3,1144.2 268.8,1130.0 269.1,1119.0 269.5,1145.2 269.9,1155.1 270.2,1143.1 270.6,1137.3 271.0,1106.8 271.4,1110.8 271.7,1106.2 272.2,1129.4 272.5,1111.4 272.8,1103.7 273.3,1125.1 273.6,1120.9 273.9,1106.7 274.4,1093.5 274.7,1121.5 275.1,1102.0 275.5,1118.9 275.8,1121.1 276.2,1098.1 276.6,1133.8 277.0,1116.3 277.3,1117.5 277.8,1126.3 278.1,1115.3 278.4,1134.3 278.9,1135.9 279.2,1138.4 279.5,1140.0 280.0,1138.4 280.3,1139.7 280.7,1136.0 281.1,1147.6 281.5,1149.0 281.8,1145.7 282.2,1150.2 282.6,1137.9 282.9,1147.3 283.4,1147.3 283.7,1144.0 284.0,1151.6 284.5,1149.9 284.8,1157.9 285.2,1154.6 285.6,1140.3 285.9,1144.8 286.3,1142.6 286.7,1154.1 287.1,1146.8 287.4,1136.0 287.8,1150.9 288.2,1146.9 288.5,1147.4 289.0,1137.8 289.3,1140.5 289.6,1151.4 290.1,1145.1 290.4,1149.2 290.8,1143.0 291.2,1137.9 291.5,1110.4 291.9,1136.8 292.3,1140.8 292.7,1131.3 293.0,1134.4 293.4,1138.3 293.8,1137.8 294.1,1132.8 294.6,1128.2 294.9,1130.2 295.2,1131.4 295.7,1121.3 296.0,1141.5 296.4,1129.2 296.8,1097.3 297.1,1079.9 297.5,1113.6 297.9,1072.7 298.3,1108.4 298.6,1110.3 299.0,1055.5 299.4,1075.5 299.7,1055.5 300.2,1079.7 300.5,1048.2 300.8,1080.0 301.3,1029.6 301.6,971.2 302.0,975.4 302.4,1020.0 302.7,962.1 303.1,931.1 303.5,1018.5 303.9,970.4 304.2,1043.4 304.7,1040.3 305.0,1051.9 305.3,1033.5 305.8,1071.9 306.1,1070.5 306.4,1041.6 306.9,1049.1 307.2,1041.6 307.6,1062.0 308.0,1106.0 308.4,1088.0 308.7,1109.6 309.1,1077.4 309.5,1095.3 309.8,1088.3 310.3,1076.3 310.6,1084.7 310.9,1079.8 311.4,1076.3 311.7,1076.3 312.1,1104.2 312.5,1079.0 312.8,1082.8 313.2,1076.3 313.6,1071.7 314.0,1070.1 314.3,1076.4 314.7,1094.2 315.1,1069.7 315.4,1069.4 315.9,1084.7 316.2,1069.4 316.5,1078.9 317.0,1069.4 317.3,1083.3 317.7,1069.4 318.1,1081.7 318.4,1083.4 318.8,1074.0 319.2,1075.5 319.6,1069.4 319.9,1084.5 320.3,1064.7 320.7,1097.9 321.0,1062.8 321.5,1094.1 321.8,1072.1 322.1,1069.4 322.6,1069.4 322.9,1069.4 323.3,1078.0 323.7,1107.8 324.0,1082.6 324.4,1069.4 324.8,1090.1 325.2,1078.0 325.5,1098.3 325.9,1080.2 326.3,1088.2 326.6,1094.3 327.1,1115.8 327.4,1117.9 327.7,1099.4 328.2,1117.1 328.5,1117.7 328.9,1121.6 329.3,1111.4 329.6,1097.3 330.0,1110.0 330.4,1124.3 330.8,1127.8 331.1,1111.7 331.6,1122.2 331.9,1132.0 332.2,1135.4 332.7,1125.8 333.0,1139.4 333.3,1129.1 333.8,1115.2 334.1,1115.4 334.5,1130.6 334.9,1131.0 335.3,1149.0 335.6,1145.4 336.0,1140.4 336.4,1140.8 336.7,1138.4 337.2,1146.6 337.5,1149.5 337.8,1146.1 338.3,1149.1 338.6,1146.9 339.0,1156.3 339.4,1125.3 339.7,1149.2 340.1,1133.5 340.5,1127.7 340.9,1135.8 341.2,1118.8 341.6,1120.3 342.0,1118.8 342.3,1126.3 342.8,1149.2 343.1,1134.6 343.4,1129.9 343.9,1118.8 344.2,1132.9 344.6,1129.1 345.0,1120.5 345.3,1128.7 345.7,1129.1 346.1,1135.2 346.5,1127.7 346.8,1124.0 347.2,1130.1 347.6,1130.2 347.9,1128.6 348.4,1093.6 348.7,1128.4 349.0,1102.6 349.5,1062.7 349.8,1081.0 350.2,1077.0 350.6,1077.8 350.9,1098.8 351.3,1101.0 351.7,1100.6 352.1,1068.2 352.4,1095.2 352.8,1050.7 353.2,1048.2 353.5,1054.6 354.0,986.0 354.3,998.2 354.6,986.0 355.1,975.0 355.4,980.0 355.8,994.9 356.2,936.2 356.5,927.6 356.9,940.9 357.3,913.5 357.7,933.8 358.0,922.8 358.5,963.5 358.8,931.4 359.1,966.3 359.6,1004.3 359.9,1011.8 360.2,1005.9 360.7,1017.7 361.0,1041.0 361.4,1054.2 361.8,1051.8 362.2,1069.5 362.5,1013.8 362.9,1070.1 363.3,1075.7 363.6,1081.6 364.1,1076.3 364.4,1076.3 364.7,1076.3 365.2,1089.6 365.5,1095.4 365.8,1099.7 366.3,1076.3 366.6,1081.6 367.0,1076.3 367.4,1087.9 367.8,1076.3 368.1,1095.6 368.5,1088.3 368.9,1094.7 369.2,1107.9 369.7,1099.4 370.0,1106.3 370.3,1110.3 370.8,1127.8 371.1,1094.7 371.5,1087.4 371.9,1125.0 372.2,1111.0 372.6,1113.5 373.0,1110.2 373.4,1107.4 373.7,1120.1 374.1,1124.2 374.5,1128.7 374.8,1111.6 375.3,1121.3 375.6,1127.7 375.9,1123.6 376.4,1123.3 376.7,1132.7 377.1,1116.1 377.5,1131.8 377.8,1126.1 378.2,1117.1 378.6,1121.7 379.0,1141.2 379.3,1127.4 379.7,1111.8 380.1,1114.9 380.4,1115.2 380.9,1121.3 381.2,1134.5 381.5,1126.5 382.0,1125.1 382.3,1122.8 382.7,1125.2 383.1,1128.3 383.4,1131.6 383.8,1127.2 384.2,1092.7 384.6,1121.5 384.9,1101.0 385.4,1102.2 385.7,1103.5 386.0,1115.7 386.5,1085.1 386.8,1101.2 387.1,1106.1 387.6,1113.1 387.9,1115.9 388.3,1117.7 388.7,1117.3 389.0,1119.4 389.4,1115.7 389.8,1102.3 390.2,1099.4 390.5,1112.3 391.0,1083.5 391.3,1094.7 391.6,1094.1 392.1,1096.9 392.4,1110.4 392.7,1112.3 393.2,1098.8 393.5,1102.4 393.9,1101.1 394.3,1117.8 394.7,1127.8 395.0,1103.7 395.4,1085.8 395.8,1076.5 396.1,1109.1 396.6,1084.2 396.9,1088.5 397.2,1100.4 397.7,1088.7 398.0,1084.7 398.4,1106.2 398.8,1109.6 399.1,1097.4 399.5,1098.4 399.9,1111.2 400.3,1089.5 400.6,1096.8 401.0,1089.2 401.4,1097.5 401.7,1105.6 402.2,1104.0 402.5,1088.9 402.8,1115.6 403.3,1121.1 403.6,1099.7 404.0,1098.3 404.4,1093.1 404.7,1075.3 405.1,1094.1 405.5,1124.9 405.9,1100.2 406.2,1097.6 406.6,1101.9 407.0,1084.7 407.3,1113.1 407.8,1097.5 408.1,1092.2 408.4,1080.8 408.9,1110.0 409.2,1106.7 409.6,1117.9 410.0,1093.5 410.3,1093.5 410.7,1125.9 411.1,1122.6 411.5,1122.3 411.8,1128.8 412.3,1120.3 412.6,1113.7 412.9,1128.9 413.4,1109.0 413.7,1112.3 414.0,1135.6 414.5,1115.1 414.8,1110.6 415.2,1116.7 415.6,1126.9 415.9,1123.9 416.3,1116.0 416.7,1128.1 417.1,1129.1 417.4,1131.8 417.9,1120.0 418.2,1133.3 418.5,1116.6 419.0,1137.6 419.3,1122.6 419.6,1129.4 420.1,1136.0 420.4,1142.8 420.8,1141.9 421.2,1143.1 421.6,1138.7 421.9,1141.3 422.3,1143.6 422.7,1148.5 423.0,1154.2 423.5,1145.9 423.8,1149.3 424.1,1139.9 424.6,1137.7 424.9,1130.5 425.3,1146.5 425.7,1151.7 426.0,1152.3 426.4,1148.9 426.8,1144.8 427.2,1146.7 427.5,1148.5 427.9,1155.5 428.3,1150.6 428.6,1164.0 429.1,1160.3 429.4,1146.4 429.7,1151.1 430.2,1137.1 430.5,1133.5 430.9,1143.7 431.3,1142.7 431.6,1142.4 432.0,1141.7 432.4,1149.3 432.8,1135.4 433.1,1138.2 433.5,1121.3 433.9,1134.7 434.2,1140.4 434.7,1124.4 435.0,1125.1 435.3,1122.3 435.8,1141.9 436.1,1136.4 436.5,1135.3 436.9,1147.6 437.2,1136.0 437.6,1128.6 438.0,1122.2 438.4,1120.9 438.7,1128.3 439.1,1107.6 439.5,1117.6 439.8,1135.8 440.3,1114.2 440.6,1112.5 440.9,1124.7 441.4,1085.1 441.7,1120.7 442.1,1114.4 442.5,1112.3 442.8,1122.2 443.2,1099.4 443.6,1098.9 444.0,1106.4 444.3,1111.2 444.8,1119.7 445.1,1111.9 445.4,1107.8 445.9,1116.2 446.2,1118.5 446.5,1126.0 447.0,1092.0 447.3,1120.9 447.7,1095.1 448.1,1136.9 448.5,1121.7 448.8,1127.3 449.2,1123.3 449.6,1127.7 449.9,1117.2 450.4,1131.6 450.7,1137.8 451.0,1128.6 451.5,1125.2 451.8,1127.9 452.2,1140.1 452.6,1140.5 452.9,1124.9 453.3,1140.6 453.7,1127.1 454.1,1119.1 454.4,1113.0 454.8,1140.2 455.2,1116.4 455.5,1122.0 456.0,1119.7 456.3,1110.8 456.6,1117.6 457.1,1120.3 457.4,1134.0 457.8,1132.2 458.2,1110.4 458.5,1122.1 458.9,1118.8 459.3,1121.3 459.7,1130.9 460.0,1136.7 460.4,1112.5 460.8,1119.6 461.1,1123.5 461.6,1106.5 461.9,1090.4 462.2,1073.8 462.7,1089.5 463.0,1101.6 463.4,1107.4 463.8,1106.3 464.1,1105.1 464.5,1079.7 464.9,1088.6 465.3,1084.7 465.6,1112.1 466.0,1082.7 466.4,1071.1 466.7,1093.4 467.2,1041.6 467.5,1041.6 467.8,1051.0 468.3,1033.9 468.6,1056.3 469.0,1033.5 469.4,1073.7 469.7,1079.2 470.1,1041.6 470.5,1061.4 470.9,1068.2 471.2,1094.1 471.7,1103.3 472.0,1092.1 472.3,1097.4 472.8,1101.2 473.1,1076.7 473.4,1114.6 473.9,1085.0 474.2,1104.1 474.6,1086.7 475.0,1095.3 475.4,1089.0 475.7,1107.2 476.1,1097.5 476.5,1082.3 476.8,1087.4 477.3,1109.0 477.6,1127.5 477.9,1124.9 478.4,1106.0 478.7,1102.0 479.1,1101.4 479.5,1102.7 479.8,1099.2 480.2,1101.7 480.6,1093.7 481.0,1117.3 481.3,1123.2 481.7,1114.7 482.1,1114.0 482.4,1115.0 482.9,1092.9 483.2,1129.1 483.5,1114.5 484.0,1120.2 484.3,1114.0 484.7,1102.6 485.1,1121.0 485.4,1110.0 485.8,1138.1 486.2,1092.3 486.6,1085.1 486.9,1092.4 487.3,1101.8 487.7,1099.4 488.0,1101.3 488.5,1094.1 488.8,1089.4 489.1,1094.9 489.6,1095.2 489.9,1104.0 490.3,1100.6 490.7,1123.6 491.0,1123.5 491.4,1127.1 491.8,1123.3 492.2,1128.0 492.5,1093.9 492.9,1128.6 493.3,1134.0 493.6,1135.4 494.1,1147.0 494.4,1145.3 494.7,1147.4 495.2,1125.0 495.5,1135.9 495.9,1138.2 496.3,1141.8 496.6,1144.8 497.0,1152.0 497.4,1138.6 497.8,1144.7 498.1,1146.7 498.6,1143.9 498.9,1144.2 499.2,1134.9 499.7,1146.9 500.0,1156.5 500.3,1154.2 500.8,1134.1 501.1,1127.2 501.5,1147.0 501.9,1151.9 502.3,1148.1 502.6,1145.4 503.0,1154.2 503.4,1144.8 503.7,1150.9 504.2,1136.0 504.5,1131.3 504.8,1138.5 505.3,1154.8 505.6,1147.6 505.9,1151.2 506.4,1141.5 506.7,1141.0 507.1,1149.9 507.5,1136.9 507.9,1144.7 508.2,1140.3 508.6,1127.2 509.0,1132.4 509.3,1132.2 509.8,1146.7 510.1,1136.0 510.4,1141.2 510.9,1137.2 511.2,1147.2 511.6,1124.0 512.0,1128.4 512.3,1135.8 512.7,1136.9 513.1,1140.2 513.5,1110.8 513.8,1122.7 514.2,1116.1 514.6,1095.8 514.9,1116.5 515.4,1109.0 515.7,1098.5 516.0,1121.8 516.5,1110.7 516.8,1117.2 517.2,1117.2 517.6,1113.2 517.9,1117.1 518.3,1126.0 518.7,1117.1 519.1,1106.7 519.4,1108.1 519.8,1103.3 520.2,1078.6 520.5,1077.6 521.0,1048.2 521.3,1006.8 521.6,1006.8 522.1,1004.3 522.4,996.9 522.8,1025.6 523.2,1074.9 523.5,1063.2 523.9,1036.7 524.3,1084.7 524.7,1091.2 525.0,1097.0 525.5,1096.3 525.8,1103.9 526.1,1122.9 526.6,1108.3 526.9,1096.9 527.2,1097.1 527.7,1117.6 528.0,1114.7 528.4,1116.7 528.8,1126.5 529.1,1106.7 529.5,1109.2 529.9,1107.0 530.3,1116.3 530.6,1095.6 531.1,1112.2 531.4,1098.2 531.7,1127.9 532.2,1111.7 532.5,1110.0 532.8,1134.5 533.3,1118.8 533.6,1109.2 534.0,1123.8 534.4,1134.8 534.8,1120.0 535.1,1128.5 535.5,1122.9 535.9,1112.3 536.2,1113.3 536.7,1132.3 537.0,1128.5 537.3,1136.6 537.8,1130.0 538.1,1121.3 538.5,1130.3 538.9,1090.4 539.2,1128.0 539.6,1127.5 540.0,1129.6 540.4,1120.5 540.7,1111.9 541.1,1108.7 541.5,1101.3 541.8,1083.3 542.3,1087.4 542.6,1126.2 542.9,1094.3 543.4,1076.7 543.7,1089.8 544.1,1095.8 544.5,1099.0 544.8,1091.7 545.2,1111.2 545.6,1107.9 546.0,1104.1 546.3,1113.2 546.7,1092.1 547.1,1110.7 547.4,1095.3 547.9,1070.1 548.2,1070.1 548.5,1079.6 549.0,1070.1 549.3,1079.1 549.7,1074.4 550.1,1081.1 550.4,1085.1 550.8,1070.1 551.2,1088.4 551.6,1070.1 551.9,1074.3 552.4,1070.4 552.7,1089.3 553.0,1070.1 553.5,1070.1 553.8,1088.5 554.1,1071.5 554.6,1070.1 554.9,1084.3 555.3,1070.1 555.7,1074.6 556.0,1063.5 556.4,1067.2 556.8,1098.2 557.2,1079.9 557.5,1082.2 558.0,1070.1 558.3,1070.1 558.6,1070.1 559.1,1070.1 559.4,1074.0 559.7,1083.7 560.2,1083.5 560.5,1084.2 560.9,1070.1 561.3,1098.7 561.7,1098.1 562.0,1083.6 562.4,1106.7 562.8,1131.4 563.1,1108.8 563.6,1133.9 563.9,1112.7 564.2,1118.5 564.7,1107.5 565.0,1106.4 565.4,1101.6 565.8,1099.1 566.1,1097.3 566.5,1116.5 566.9,1102.2 567.3,1118.2 567.6,1114.5 568.0,1136.9 568.4,1134.8 568.7,1122.8 569.2,1121.6 569.5,1143.3 569.8,1128.9 570.3,1123.9 570.6,1107.6 571.0,1116.4 571.4,1140.1 571.7,1136.0 572.1,1136.4 572.5,1146.5 572.9,1138.6 573.2,1138.6 573.6,1159.5 574.0,1139.7 574.3,1140.9 574.8,1147.9 575.1,1144.4 575.4,1139.0 575.9,1136.4 576.2,1134.9 576.6,1135.3 577.0,1143.3 577.3,1133.0 577.7,1144.9 578.1,1157.2 578.5,1152.3 578.8,1154.8 579.2,1145.0 579.6,1136.5 579.9,1147.1 580.4,1147.9 580.7,1149.8 581.0,1153.0 581.5,1155.7 581.8,1154.3 582.2,1155.5 582.6,1144.3 582.9,1158.9 583.3,1144.0 583.7,1152.7 584.1,1150.8 584.4,1156.1 584.9,1133.8 585.2,1147.0 585.5,1152.5 586.0,1134.1 586.3,1142.1 586.6,1145.1 587.1,1142.5 587.4,1147.1 587.8,1140.7 588.2,1127.2 588.6,1143.0 588.9,1127.7 589.3,1136.0 589.7,1147.0 590.0,1148.9 590.5,1134.2 590.8,1136.2 591.1,1120.5 591.6,1135.3 591.9,1110.7 592.3,1124.0 592.7,1109.8 593.0,1101.9 593.4,1110.7 593.8,1107.7 594.2,1099.4 594.5,1121.7 594.9,1081.8 595.3,1062.1 595.6,1067.7 596.1,1022.8 596.4,1044.9 596.7,1046.1 597.2,1013.8 597.5,1026.5 597.9,1054.5 598.3,1022.8 598.6,1044.8 599.0,1040.5 599.4,1051.4 599.8,1031.0 600.1,1062.6 600.5,1099.5 600.9,1096.0 601.2,1092.1 601.7,1093.7 602.0,1108.2 602.3,1107.9 602.8,1115.7 603.1,1132.3 603.5,1123.2 603.9,1121.1 604.2,1126.0 604.6,1120.0 605.0,1119.6 605.4,1131.7 605.7,1110.6 606.1,1126.9 606.5,1122.6 606.8,1122.9 607.3,1136.0 607.6,1151.4 607.9,1146.1 608.4,1145.2 608.7,1133.8 609.1,1146.8 609.5,1144.7 609.8,1127.7 610.2,1136.0 610.6,1150.8 611.0,1148.7 611.3,1144.4 611.8,1147.8 612.1,1147.6 612.4,1150.1 612.9,1144.9 613.2,1148.6 613.5,1152.1 614.0,1161.3 614.3,1150.6 614.7,1162.5 615.1,1154.3 615.5,1149.8 615.8,1149.4 616.2,1151.4 616.6,1154.8 616.9,1154.0 617.4,1152.3 617.7,1148.6 618.0,1150.9 618.5,1141.8 618.8,1144.4 619.2,1135.9 619.6,1132.6 619.9,1133.9 620.3,1143.1 620.7,1125.1 621.1,1130.4 621.4,1142.1 621.8,1128.6 622.2,1138.3 622.5,1132.8 623.0,1127.4 623.3,1117.7 623.6,1129.2 624.1,1125.0 624.4,1111.2 624.8,1098.0 625.2,1109.3 625.5,1089.0 625.9,1122.5 626.3,1100.7 626.7,1106.1 627.0,1074.0 627.4,1084.7 627.8,1112.9 628.1,1096.7 628.6,1055.7 628.9,1053.8 629.2,1040.1 629.7,1074.2 630.0,1054.6 630.4,1041.7 630.8,1043.7 631.1,1051.1 631.5,1050.7 631.9,994.0 632.3,1003.2 632.6,1029.0 633.0,1004.0 633.4,1004.0 633.7,1045.1 634.2,1004.0 634.5,1023.7 634.8,1051.2 635.3,1104.2 635.6,1062.8 636.0,1078.4 636.4,1069.4 636.7,1070.7 637.1,1082.9 637.5,1086.9 637.9,1079.9 638.2,1069.4 638.7,1069.4 639.0,1087.3 639.3,1077.7 639.8,1082.6 640.1,1094.2 640.4,1083.1 640.9,1099.4 641.2,1102.0 641.6,1111.3 642.0,1085.1 642.4,1110.2 642.7,1099.4 643.1,1103.1 643.5,1085.2 643.8,1085.1 644.3,1119.8 644.6,1114.4 644.9,1093.0 645.4,1085.1 645.7,1087.6 646.0,1112.1 646.5,1106.4 646.8,1096.1 647.2,1085.1 647.6,1097.2 648.0,1096.9 648.3,1087.9 648.7,1116.1 649.1,1108.4 649.4,1120.6 649.9,1132.1 650.2,1121.3 650.5,1123.7 651.0,1114.2 651.3,1110.4 651.7,1129.0 652.1,1137.7 652.4,1121.5 652.8,1120.8 653.2,1126.8 653.6,1135.6 653.9,1121.1 654.3,1116.1 654.7,1134.3 655.0,1117.6 655.5,1129.7 655.8,1130.0 656.1,1119.4 656.6,1149.7 656.9,1143.4 657.3,1136.2 657.7,1130.0 658.0,1143.0 658.4,1129.5 658.8,1131.1 659.2,1131.6 659.5,1147.2 659.9,1142.3 660.3,1126.5 660.6,1137.9 661.1,1134.1 661.4,1132.8 661.7,1137.6 662.2,1153.0 662.5,1146.1 662.9,1133.4 663.3,1144.7 663.6,1152.3 664.0,1147.1 664.4,1148.3 664.8,1149.0 665.1,1146.9 665.6,1146.7 665.9,1130.2 666.2,1131.3 666.7,1131.9 667.0,1125.4 667.3,1142.5 667.8,1139.1 668.1,1150.1 668.5,1141.5 668.9,1140.9 669.2,1138.5 669.6,1129.0 670.0,1128.2 670.4,1129.0 670.7,1131.8 671.2,1127.0 671.5,1118.8 671.8,1129.8 672.3,1137.8 672.6,1136.1 672.9,1128.6 673.4,1110.1 673.7,1115.3 674.1,1117.7 674.5,1126.4 674.9,1127.0 675.2,1115.6 675.6,1109.4 676.0,1094.1 676.3,1107.2 676.8,1117.3 677.1,1110.7 677.4,1080.6 677.9,1091.6 678.2,1100.6 678.6,1084.7 679.0,1092.0 679.3,1087.8 679.7,1079.0 680.1,1055.5 680.5,1086.6 680.8,1092.4 681.2,1055.5 681.6,1072.7 681.9,1055.5 682.4,1065.9 682.7,1055.5 683.0,1078.1 683.5,1061.0 683.8,1048.2 684.2,1053.4 684.6,1035.5 684.9,1006.0 685.3,1003.1 685.7,1015.3 686.1,1041.9 686.4,1048.8 686.8,990.7 687.2,1022.0 687.5,1020.7 688.0,1012.6 688.3,986.0 688.6,986.0 689.1,1024.3 689.4,975.0 689.8,1000.6 690.2,987.3 690.5,1031.2 690.9,986.0 691.3,1061.1 691.7,1034.5 692.0,987.0 692.5,1033.5 692.8,1061.8 693.1,1062.2 693.6,1051.6 693.9,1060.3 694.2,1055.6 694.7,1079.4 695.0,1041.6 695.4,1043.6 695.8,1049.5 696.1,1041.6 696.5,1041.6 696.9,1099.8 697.3,1074.5 697.6,1048.2 698.1,1060.3 698.4,1038.1 698.7,1038.1 699.2,1038.1 699.5,1038.1 699.8,1056.6 700.3,1055.4 700.6,1038.1 701.0,1054.8 701.4,1038.1 701.8,1040.8 702.1,1038.9 702.5,1050.0 702.9,1029.9 703.2,1056.9 703.7,1038.1 704.0,1047.9 704.3,1048.3 704.8,1046.1 705.1,1043.3 705.5,1038.1 705.9,1048.8 706.2,1040.1 706.6,1038.1 707.0,1042.3 707.4,1038.1 707.7,1051.2 708.1,1063.0 708.5,1038.1 708.8,1038.1 709.3,1057.6 709.6,1057.3 709.9,1048.2 710.4,1032.6 710.7,1032.9 711.1,1027.7 711.5,1048.6 711.8,1027.7 712.2,1054.3 712.6,1072.6 713.0,1027.7 713.3,1062.7 713.7,1027.7 714.1,1031.5 714.4,1027.7 714.9,1019.8 715.2,1018.9 715.5,1050.6 716.0,1052.1 716.3,997.5 716.7,1044.7 717.1,986.1 717.4,1003.2 717.8,986.0 718.2,986.9 718.6,975.0 718.9,1034.6 719.3,952.6 719.7,1011.9 720.0,954.5 720.5,939.9 720.8,996.0 721.1,972.5 721.6,980.5 721.9,958.1 722.3,1003.3 722.7,1070.5 723.0,1050.8 723.4,1018.9 723.8,1027.7 724.2,1033.4 724.5,1030.7 725.0,1027.7 725.3,1027.8 725.6,1054.6 726.1,1027.7 726.4,1078.1 726.7,1054.9 727.2,1028.4 727.5,1061.6 727.9,1031.8 728.3,1088.9 728.7,1077.0 729.0,1062.8 729.4,1085.7 729.8,1069.4 730.1,1069.4 730.6,1084.1 730.9,1079.8 731.2,1069.4 731.7,1069.5 732.0,1091.4 732.4,1087.3 732.8,1069.4 733.1,1074.3 733.5,1079.9 733.9,1100.1 734.3,1084.7 734.6,1097.8 735.0,1116.4 735.4,1107.3 735.7,1071.4 736.2,1099.4 736.5,1091.8 736.8,1079.6 737.3,1083.7 737.6,1068.3 738.0,1068.3 738.4,1103.4 738.7,1105.6 739.1,1106.8 739.5,1124.0 739.9,1106.7 740.2,1116.4 740.6,1107.0 741.0,1100.2 741.3,1108.5 741.8,1118.7 742.1,1115.1 742.4,1112.8 742.9,1123.2 743.2,1114.7 743.6,1120.3 744.0,1129.7 744.3,1121.8 744.7,1129.7 745.1,1130.3 745.5,1130.8 745.8,1134.1 746.2,1125.9 746.6,1142.2 746.9,1128.2 747.4,1127.3 747.7,1136.4 748.0,1142.5 748.5,1142.4 748.8,1140.8 749.2,1127.1 749.6,1151.2 749.9,1154.1 750.3,1143.3 750.7,1128.9 751.1,1127.2 751.4,1136.2 751.9,1143.8 752.2,1127.2 752.5,1133.7 753.0,1127.2 753.3,1127.7 753.6,1132.9 754.1,1156.6 754.4,1145.2 754.8,1135.0 755.2,1127.2 755.6,1142.5 755.9,1134.1 756.3,1127.9 756.7,1127.2 757.0,1147.6 757.5,1138.0 757.8,1136.5 758.1,1136.0 758.6,1136.1 758.9,1127.4 759.3,1113.1 759.7,1157.6 760.0,1132.0 760.4,1133.3 760.8,1129.4 761.2,1135.1 761.5,1117.8 761.9,1130.1 762.3,1121.9 762.6,1131.6 763.1,1128.1 763.4,1130.2 763.7,1115.0 764.2,1121.3 764.5,1126.2 764.9,1137.5 765.3,1108.8 765.6,1095.0 766.0,1091.4 766.4,1104.6 766.8,1109.2 767.1,1116.1 767.5,1106.7 767.9,1121.5 768.2,1105.8 768.7,1101.7 769.0,1086.5 769.3,1118.3 769.8,1107.8 770.1,1091.7 770.5,1119.3 770.9,1107.5 771.2,1103.0 771.6,1102.4 772.0,1105.0 772.4,1104.4 772.7,1105.0 773.1,1099.4 773.5,1107.3 773.8,1102.0 774.3,1106.6 774.6,1079.0 774.9,1119.7 775.4,1086.6 775.7,1074.8 776.1,1097.3 776.5,1085.0 776.8,1091.1 777.2,1108.4 777.6,1096.1 778.0,1083.9 778.3,1098.1 778.8,1074.8 779.1,1092.8 779.4,1092.5 779.9,1114.1 780.2,1084.7 780.5,1088.9 781.0,1085.2 781.3,1113.5 781.7,1079.9 782.1,1102.3 782.5,1089.3 782.8,1108.3 783.2,1088.7 783.6,1088.2 783.9,1069.4 784.4,1078.0 784.7,1071.1 785.0,1062.8 785.5,1035.9 785.8,1034.6 786.1,1076.5 786.6,1026.4 786.9,1024.9 787.3,1040.7 787.7,1056.0 788.1,1016.0 788.4,1018.6 788.8,1035.7 789.2,1047.1 789.5,1059.1 790.0,1055.5 790.3,1067.3 790.6,1062.7 791.1,1062.4 791.4,1071.5 791.8,1062.4 792.2,1065.2 792.5,1055.7 792.9,1055.5" fill="none" stroke="#7CAE00" stroke-width="1.5" stroke-linejoin="round"/>
<polyline points="145.5,1132.9 145.8,1129.4 146.2,1135.8 146.6,1119.6 147.0,1119.6 147.3,1119.6 147.7,1143.1 148.1,1146.1 148.4,1143.2 148.9,1145.5 149.2,1129.7 149.5,1119.6 150.0,1137.7 150.3,1124.2 150.7,1138.0 151.1,1132.3 151.4,1135.5 151.8,1137.5 152.2,1124.7 152.6,1139.9 152.9,1128.8 153.3,1124.4 153.7,1125.8 154.0,1132.2 154.5,1127.7 154.8,1139.7 155.1,1131.5 155.6,1131.1 155.9,1133.3 156.3,1135.5 156.7,1145.2 157.0,1137.2 157.4,1128.6 157.8,1133.0 158.2,1128.3 158.5,1116.9 158.9,1126.6 159.3,1130.6 159.6,1111.5 160.1,1112.2 160.4,1137.9 160.7,1118.1 161.2,1129.4 161.5,1133.7 161.9,1124.8 162.3,1125.6 162.6,1112.8 163.0,1132.7 163.4,1119.2 163.8,1116.3 164.1,1117.5 164.6,1131.5 164.9,1114.0 165.2,1130.5 165.7,1133.1 166.0,1126.7 166.3,1130.2 166.8,1139.3 167.1,1132.6 167.5,1123.4 167.9,1116.0 168.3,1134.4 168.6,1119.3 169.0,1126.2 169.4,1125.1 169.7,1129.7 170.2,1145.4 170.5,1139.6 170.8,1145.7 171.3,1136.5 171.6,1145.1 172.0,1141.8 172.4,1141.8 172.7,1143.8 173.1,1144.5 173.5,1148.2 173.9,1155.1 174.2,1145.2 174.6,1158.4 175.0,1139.4 175.3,1147.5 175.8,1154.2 176.1,1150.6 176.4,1154.2 176.9,1141.1 177.2,1147.4 177.6,1156.4 178.0,1148.5 178.3,1146.5 178.7,1152.1 179.1,1151.6 179.5,1148.4 179.8,1146.1 180.2,1146.2 180.6,1144.6 180.9,1147.3 181.4,1149.8 181.7,1143.1 182.0,1151.1 182.5,1148.4 182.8,1135.6 183.2,1135.7 183.6,1144.8 183.9,1141.3 184.3,1141.3 184.7,1143.7 185.1,1143.3 185.4,1153.5 185.8,1144.3 186.2,1126.9 186.5,1136.1 187.0,1118.2 187.3,1129.4 187.6,1113.2 188.1,1121.9 188.4,1128.2 188.8,1129.1 189.2,1124.5 189.5,1129.9 189.9,1130.3 190.3,1138.7 190.7,1140.4 191.0,1135.1 191.5,1120.2 191.8,1137.5 192.1,1120.2 192.6,1121.3 192.9,1125.6 193.2,1124.5 193.7,1115.1 194.0,1110.8 194.4,1107.9 194.8,1101.8 195.2,1107.8 195.5,1069.4 195.9,1069.4 196.3,1082.1 196.6,1069.4 197.1,1062.8 197.4,1085.6 197.7,1086.3 198.2,1056.3 198.5,1060.7 198.9,1051.3 199.3,1053.8 199.6,1043.8 200.0,1051.6 200.4,1074.6 200.8,1072.3 201.1,1080.1 201.5,1062.8 201.9,1078.5 202.2,1081.5 202.7,1069.4 203.0,1081.8 203.3,1083.4 203.8,1080.1 204.1,1093.8 204.5,1113.0 204.9,1107.4 205.2,1106.7 205.6,1112.1 206.0,1123.7 206.4,1105.2 206.7,1125.8 207.1,1117.4 207.5,1108.7 207.8,1114.8 208.3,1120.6 208.6,1117.7 208.9,1125.5 209.4,1122.2 209.7,1123.5 210.1,1118.0 210.5,1142.5 210.8,1139.3 211.2,1136.0 211.6,1131.9 212.0,1145.2 212.3,1136.3 212.7,1127.2 213.1,1132.0 213.4,1140.0 213.9,1141.2 214.2,1128.0 214.5,1137.8 215.0,1139.7 215.3,1151.3 215.7,1141.4 216.1,1150.6 216.4,1151.4 216.8,1155.4 217.2,1160.9 217.6,1146.2 217.9,1143.3 218.4,1137.6 218.7,1147.7 219.0,1142.6 219.5,1148.5 219.8,1147.7 220.1,1148.9 220.6,1135.6 220.9,1142.4 221.3,1144.1 221.7,1145.0 222.1,1148.3 222.4,1135.6 222.8,1144.8 223.2,1148.6 223.5,1151.7 224.0,1143.3 224.3,1152.7 224.6,1148.1 225.1,1143.7 225.4,1153.0 225.7,1143.9 226.2,1126.0 226.5,1123.7 226.9,1146.2 227.3,1150.8 227.7,1144.0 228.0,1146.5 228.4,1126.9 228.8,1138.2 229.1,1139.1 229.6,1132.6 229.9,1146.3 230.2,1142.3 230.7,1118.8 231.0,1118.8 231.4,1118.8 231.8,1133.9 232.1,1144.0 232.5,1128.6 232.9,1140.5 233.3,1146.0 233.6,1140.4 234.0,1122.9 234.4,1128.4 234.7,1123.8 235.2,1143.9 235.5,1134.7 235.8,1129.0 236.3,1141.9 236.6,1118.8 237.0,1124.7 237.4,1148.0 237.7,1139.2 238.1,1140.2 238.5,1156.4 238.9,1150.8 239.2,1137.1 239.6,1137.9 240.0,1142.6 240.3,1138.1 240.8,1143.3 241.1,1145.2 241.4,1144.6 241.9,1135.6 242.2,1137.6 242.6,1137.8 243.0,1151.2 243.3,1135.6 243.7,1142.0 244.1,1135.6 244.5,1135.6 244.8,1136.3 245.3,1151.1 245.6,1144.7 245.9,1146.8 246.4,1157.4 246.7,1154.2 247.0,1167.2 247.5,1153.1 247.8,1154.5 248.2,1149.7 248.6,1154.3 248.9,1162.0 249.3,1157.9 249.7,1155.4 250.1,1161.5 250.4,1158.1 250.9,1151.4 251.2,1149.7 251.5,1160.2 252.0,1153.0 252.3,1150.2 252.6,1156.9 253.1,1160.3 253.4,1157.5 253.8,1153.4 254.2,1154.9 254.6,1151.2 254.9,1155.8 255.3,1157.8 255.7,1155.2 256.0,1155.4 256.5,1148.2 256.8,1148.2 257.1,1152.1 257.6,1168.9 257.9,1161.6 258.3,1163.1 258.7,1167.4 259.0,1160.4 259.4,1164.9 259.8,1164.0 260.2,1155.1 260.5,1163.3 260.9,1159.8 261.3,1163.7 261.6,1154.1 262.1,1148.2 262.4,1153.7 262.7,1150.0 263.2,1154.4 263.5,1149.6 263.9,1162.7 264.3,1148.2 264.6,1152.5 265.0,1152.9 265.4,1154.3 265.8,1162.9 266.1,1158.0 266.5,1141.5 266.9,1156.2 267.2,1145.2 267.7,1145.8 268.0,1148.3 268.3,1151.8 268.8,1147.1 269.1,1136.2 269.5,1123.0 269.9,1131.3 270.2,1135.1 270.6,1140.5 271.0,1136.9 271.4,1114.6 271.7,1130.3 272.2,1125.6 272.5,1127.0 272.8,1114.0 273.3,1121.3 273.6,1123.0 273.9,1127.9 274.4,1131.3 274.7,1112.4 275.1,1137.2 275.5,1135.9 275.8,1124.2 276.2,1116.1 276.6,1143.2 277.0,1133.4 277.3,1142.2 277.8,1136.5 278.1,1140.6 278.4,1153.6 278.9,1148.1 279.2,1156.0 279.5,1145.2 280.0,1150.6 280.3,1152.1 280.7,1157.1 281.1,1155.5 281.5,1162.5 281.8,1162.1 282.2,1156.7 282.6,1153.8 282.9,1160.2 283.4,1148.2 283.7,1159.3 284.0,1154.8 284.5,1157.3 284.8,1158.4 285.2,1155.5 285.6,1165.3 285.9,1154.5 286.3,1160.5 286.7,1154.8 287.1,1146.8 287.4,1146.2 287.8,1161.9 288.2,1160.2 288.5,1157.9 289.0,1161.3 289.3,1153.3 289.6,1148.5 290.1,1151.3 290.4,1154.9 290.8,1142.4 291.2,1142.7 291.5,1146.9 291.9,1151.9 292.3,1145.0 292.7,1140.4 293.0,1149.2 293.4,1134.4 293.8,1139.4 294.1,1145.7 294.6,1140.6 294.9,1127.2 295.2,1137.1 295.7,1137.7 296.0,1138.8 296.4,1136.0 296.8,1110.2 297.1,1092.6 297.5,1114.4 297.9,1126.6 298.3,1115.9 298.6,1126.1 299.0,1109.2 299.4,1097.8 299.7,1109.4 300.2,1088.4 300.5,1095.9 300.8,1106.6 301.3,1062.4 301.6,1062.4 302.0,1091.7 302.4,1078.3 302.7,1055.5 303.1,1070.7 303.5,1062.4 303.9,1062.4 304.2,1105.1 304.7,1084.2 305.0,1097.0 305.3,1075.3 305.8,1107.4 306.1,1099.4 306.4,1128.2 306.9,1085.1 307.2,1088.4 307.6,1112.0 308.0,1085.1 308.4,1085.1 308.7,1088.8 309.1,1115.7 309.5,1093.4 309.8,1125.7 310.3,1098.5 310.6,1114.2 310.9,1101.5 311.4,1100.5 311.7,1126.3 312.1,1130.5 312.5,1094.3 312.8,1108.5 313.2,1124.2 313.6,1106.7 314.0,1107.6 314.3,1123.6 314.7,1106.2 315.1,1104.9 315.4,1103.9 315.9,1099.0 316.2,1080.8 316.5,1088.2 317.0,1097.3 317.3,1092.8 317.7,1088.0 318.1,1086.3 318.4,1102.0 318.8,1068.3 319.2,1075.8 319.6,1068.8 319.9,1092.2 320.3,1099.2 320.7,1088.6 321.0,1084.7 321.5,1104.1 321.8,1116.8 322.1,1086.1 322.6,1082.7 322.9,1070.9 323.3,1070.9 323.7,1105.6 324.0,1104.8 324.4,1112.4 324.8,1082.5 325.2,1110.5 325.5,1068.3 325.9,1123.4 326.3,1126.7 326.6,1118.3 327.1,1114.0 327.4,1118.9 327.7,1114.2 328.2,1119.9 328.5,1132.7 328.9,1108.2 329.3,1125.6 329.6,1112.4 330.0,1129.6 330.4,1127.4 330.8,1110.9 331.1,1134.1 331.6,1140.5 331.9,1139.4 332.2,1143.9 332.7,1135.6 333.0,1142.6 333.3,1135.7 333.8,1131.2 334.1,1146.0 334.5,1148.9 334.9,1144.2 335.3,1151.1 335.6,1146.1 336.0,1129.5 336.4,1144.9 336.7,1148.8 337.2,1154.1 337.5,1149.5 337.8,1140.7 338.3,1154.3 338.6,1155.7 339.0,1158.9 339.4,1154.9 339.7,1158.3 340.1,1151.1 340.5,1148.0 340.9,1149.1 341.2,1154.3 341.6,1147.1 342.0,1147.6 342.3,1144.1 342.8,1143.8 343.1,1150.0 343.4,1149.4 343.9,1138.4 344.2,1138.9 344.6,1134.5 345.0,1136.2 345.3,1147.6 345.7,1140.1 346.1,1144.7 346.5,1133.4 346.8,1143.1 347.2,1142.8 347.6,1143.0 347.9,1136.0 348.4,1130.7 348.7,1143.2 349.0,1139.0 349.5,1121.1 349.8,1124.3 350.2,1123.6 350.6,1096.7 350.9,1102.7 351.3,1123.5 351.7,1107.2 352.1,1079.7 352.4,1105.3 352.8,1094.7 353.2,1109.9 353.5,1088.8 354.0,1087.7 354.3,1111.6 354.6,1084.7 355.1,1079.2 355.4,1093.9 355.8,1059.9 356.2,1041.5 356.5,1006.8 356.9,1075.4 357.3,1006.3 357.7,996.9 358.0,1015.7 358.5,1006.8 358.8,1006.8 359.1,1021.5 359.6,1060.1 359.9,1040.0 360.2,1069.2 360.7,1072.6 361.0,1097.4 361.4,1062.8 361.8,1069.4 362.2,1069.4 362.5,1092.0 362.9,1069.4 363.3,1081.3 363.6,1076.6 364.1,1107.9 364.4,1089.1 364.7,1100.6 365.2,1112.5 365.5,1106.7 365.8,1113.5 366.3,1112.7 366.6,1121.1 367.0,1126.8 367.4,1116.2 367.8,1112.5 368.1,1125.1 368.5,1106.0 368.9,1106.4 369.2,1129.0 369.7,1140.8 370.0,1121.3 370.3,1136.4 370.8,1132.3 371.1,1110.5 371.5,1138.0 371.9,1125.5 372.2,1123.1 372.6,1122.5 373.0,1129.9 373.4,1119.2 373.7,1110.4 374.1,1142.2 374.5,1127.6 374.8,1135.8 375.3,1126.3 375.6,1135.5 375.9,1133.7 376.4,1133.6 376.7,1119.5 377.1,1135.0 377.5,1126.4 377.8,1125.6 378.2,1129.6 378.6,1130.8 379.0,1121.9 379.3,1123.6 379.7,1128.1 380.1,1136.0 380.4,1136.4 380.9,1143.7 381.2,1128.6 381.5,1130.5 382.0,1124.2 382.3,1124.2 382.7,1115.3 383.1,1110.4 383.4,1117.6 383.8,1126.3 384.2,1113.3 384.6,1122.4 384.9,1110.8 385.4,1112.1 385.7,1103.4 386.0,1081.3 386.5,1076.7 386.8,1099.8 387.1,1107.7 387.6,1092.1 387.9,1103.5 388.3,1105.1 388.7,1092.8 389.0,1069.4 389.4,1089.3 389.8,1069.4 390.2,1069.4 390.5,1072.7 391.0,1069.4 391.3,1082.2 391.6,1069.4 392.1,1073.9 392.4,1068.9 392.7,1062.8 393.2,1042.5 393.5,1034.7 393.9,1035.8 394.3,1044.8 394.7,1042.5 395.0,1025.9 395.4,1005.0 395.8,1023.8 396.1,1000.6 396.6,1050.9 396.9,1023.0 397.2,1017.7 397.7,1047.3 398.0,1044.9 398.4,1024.0 398.8,1077.4 399.1,1090.7 399.5,1086.4 399.9,1083.3 400.3,1083.3 400.6,1083.3 401.0,1092.5 401.4,1108.6 401.7,1108.1 402.2,1104.3 402.5,1111.0 402.8,1083.3 403.3,1102.2 403.6,1104.4 404.0,1099.6 404.4,1113.6 404.7,1088.9 405.1,1094.0 405.5,1110.2 405.9,1106.7 406.2,1114.3 406.6,1114.4 407.0,1114.5 407.3,1098.0 407.8,1124.7 408.1,1115.3 408.4,1095.0 408.9,1124.9 409.2,1116.0 409.6,1117.9 410.0,1130.8 410.3,1124.2 410.7,1109.6 411.1,1113.8 411.5,1125.0 411.8,1110.5 412.3,1120.0 412.6,1115.7 412.9,1134.7 413.4,1143.3 413.7,1136.7 414.0,1122.2 414.5,1136.0 414.8,1146.7 415.2,1142.1 415.6,1149.0 415.9,1132.8 416.3,1136.9 416.7,1127.2 417.1,1127.2 417.4,1132.6 417.9,1143.3 418.2,1148.6 418.5,1149.6 419.0,1148.5 419.3,1153.1 419.6,1148.5 420.1,1139.2 420.4,1147.6 420.8,1147.9 421.2,1147.0 421.6,1148.2 421.9,1147.9 422.3,1154.9 422.7,1136.4 423.0,1140.6 423.5,1148.2 423.8,1149.1 424.1,1148.1 424.6,1164.5 424.9,1156.1 425.3,1158.1 425.7,1146.9 426.0,1150.7 426.4,1160.4 426.8,1153.6 427.2,1154.9 427.5,1145.8 427.9,1162.0 428.3,1159.9 428.6,1157.9 429.1,1145.0 429.4,1155.1 429.7,1149.2 430.2,1148.3 430.5,1150.6 430.9,1150.3 431.3,1156.6 431.6,1150.8 432.0,1156.5 432.4,1140.8 432.8,1155.0 433.1,1150.2 433.5,1153.0 433.9,1150.6 434.2,1141.6 434.7,1145.6 435.0,1143.3 435.3,1146.0 435.8,1147.2 436.1,1129.5 436.5,1145.0 436.9,1140.0 437.2,1116.7 437.6,1125.4 438.0,1111.5 438.4,1122.0 438.7,1113.3 439.1,1091.1 439.5,1101.9 439.8,1115.0 440.3,1087.7 440.6,1103.9 440.9,1101.0 441.4,1096.1 441.7,1084.8 442.1,1100.5 442.5,1108.6 442.8,1131.8 443.2,1121.5 443.6,1113.8 444.0,1107.6 444.3,1123.3 444.8,1134.8 445.1,1130.2 445.4,1118.1 445.9,1136.9 446.2,1130.8 446.5,1128.6 447.0,1125.2 447.3,1125.4 447.7,1132.0 448.1,1118.8 448.5,1124.3 448.8,1136.6 449.2,1131.6 449.6,1131.0 449.9,1123.2 450.4,1141.2 450.7,1137.7 451.0,1142.0 451.5,1120.4 451.8,1129.9 452.2,1135.5 452.6,1132.5 452.9,1127.6 453.3,1138.3 453.7,1142.3 454.1,1135.2 454.4,1134.6 454.8,1138.8 455.2,1139.8 455.5,1139.9 456.0,1144.3 456.3,1138.9 456.6,1130.7 457.1,1136.0 457.4,1136.8 457.8,1137.6 458.2,1140.9 458.5,1117.6 458.9,1134.7 459.3,1140.0 459.7,1143.7 460.0,1150.2 460.4,1127.0 460.8,1134.0 461.1,1141.5 461.6,1135.1 461.9,1142.5 462.2,1124.7 462.7,1139.3 463.0,1138.0 463.4,1139.8 463.8,1126.2 464.1,1126.0 464.5,1125.2 464.9,1131.8 465.3,1125.0 465.6,1127.8 466.0,1132.6 466.4,1124.9 466.7,1134.3 467.2,1110.4 467.5,1134.2 467.8,1134.2 468.3,1135.8 468.6,1121.3 469.0,1137.3 469.4,1110.4 469.7,1119.2 470.1,1127.5 470.5,1131.2 470.9,1131.1 471.2,1135.8 471.7,1110.4 472.0,1123.1 472.3,1121.3 472.8,1119.9 473.1,1110.4 473.4,1115.6 473.9,1132.1 474.2,1135.3 474.6,1117.3 475.0,1129.9 475.4,1123.1 475.7,1133.0 476.1,1132.2 476.5,1132.1 476.8,1128.6 477.3,1131.5 477.6,1106.3 477.9,1122.7 478.4,1113.0 478.7,1120.7 479.1,1116.3 479.5,1101.8 479.8,1092.2 480.2,1106.5 480.6,1107.3 481.0,1108.6 481.3,1117.1 481.7,1084.7 482.1,1100.8 482.4,1086.1 482.9,1078.9 483.2,1075.8 483.5,1070.3 484.0,1050.5 484.3,1066.7 484.7,1041.6 485.1,1041.6 485.4,1058.1 485.8,1090.2 486.2,1041.6 486.6,1041.6 486.9,1058.0 487.3,1051.8 487.7,1033.5 488.0,1037.9 488.5,1058.9 488.8,1069.5 489.1,1054.1 489.6,1041.6 489.9,1041.6 490.3,1059.6 490.7,1107.8 491.0,1109.1 491.4,1084.7 491.8,1124.6 492.2,1118.8 492.5,1090.5 492.9,1116.4 493.3,1109.1 493.6,1104.1 494.1,1131.5 494.4,1112.9 494.7,1113.8 495.2,1136.0 495.5,1147.5 495.9,1139.2 496.3,1151.5 496.6,1146.0 497.0,1145.0 497.4,1134.7 497.8,1147.4 498.1,1136.5 498.6,1147.6 498.9,1147.4 499.2,1145.6 499.7,1150.6 500.0,1154.5 500.3,1153.9 500.8,1155.4 501.1,1145.9 501.5,1154.2 501.9,1141.9 502.3,1147.3 502.6,1144.2 503.0,1136.9 503.4,1150.5 503.7,1132.3 504.2,1148.1 504.5,1150.0 504.8,1139.4 505.3,1142.3 505.6,1143.9 505.9,1131.4 506.4,1128.6 506.7,1138.6 507.1,1145.4 507.5,1140.4 507.9,1127.2 508.2,1146.4 508.6,1127.2 509.0,1136.4 509.3,1144.2 509.8,1136.0 510.1,1138.5 510.4,1139.2 510.9,1112.0 511.2,1123.7 511.6,1130.5 512.0,1122.8 512.3,1116.0 512.7,1135.7 513.1,1123.4 513.5,1127.3 513.8,1121.0 514.2,1114.3 514.6,1128.5 514.9,1124.3 515.4,1121.7 515.7,1113.2 516.0,1092.3 516.5,1103.8 516.8,1094.7 517.2,1099.8 517.6,1068.3 517.9,1071.7 518.3,1091.9 518.7,1084.7 519.1,1127.1 519.4,1106.7 519.8,1065.5 520.2,1063.7 520.5,1048.0 521.0,1037.3 521.3,1059.6 521.6,1027.7 522.1,1018.9 522.4,1059.5 522.8,1028.1 523.2,968.3 523.5,968.1 523.9,942.7 524.3,955.4 524.7,983.0 525.0,946.0 525.5,913.5 525.8,933.2 526.1,917.5 526.6,978.4 526.9,991.6 527.2,927.6 527.7,1053.0 528.0,1033.5 528.4,1060.7 528.8,1091.6 529.1,1097.0 529.5,1074.9 529.9,1055.8 530.3,1041.6 530.6,1068.9 531.1,1057.2 531.4,1107.5 531.7,1082.1 532.2,1136.5 532.5,1121.3 532.8,1132.9 533.3,1133.0 533.6,1136.1 534.0,1118.7 534.4,1124.6 534.8,1136.6 535.1,1128.9 535.5,1132.2 535.9,1125.0 536.2,1123.5 536.7,1138.1 537.0,1128.9 537.3,1125.2 537.8,1151.4 538.1,1153.7 538.5,1139.6 538.9,1127.2 539.2,1127.2 539.6,1135.5 540.0,1133.9 540.4,1136.4 540.7,1139.0 541.1,1134.9 541.5,1141.4 541.8,1147.9 542.3,1153.3 542.6,1144.2 542.9,1144.1 543.4,1134.3 543.7,1137.3 544.1,1127.2 544.5,1142.6 544.8,1142.8 545.2,1136.9 545.6,1131.7 546.0,1145.1 546.3,1137.4 546.7,1144.8 547.1,1136.0 547.4,1142.0 547.9,1134.1 548.2,1124.5 548.5,1128.6 549.0,1121.0 549.3,1126.6 549.7,1117.1 550.1,1121.8 550.4,1125.5 550.8,1130.8 551.2,1123.7 551.6,1115.7 551.9,1113.6 552.4,1112.6 552.7,1120.6 553.0,1126.0 553.5,1123.2 553.8,1141.7 554.1,1122.5 554.6,1120.5 554.9,1111.7 555.3,1124.0 555.7,1130.2 556.0,1125.6 556.4,1121.3 556.8,1127.3 557.2,1126.3 557.5,1110.5 558.0,1134.6 558.3,1110.4 558.6,1124.1 559.1,1138.7 559.4,1142.8 559.7,1128.7 560.2,1125.2 560.5,1143.5 560.9,1127.6 561.3,1112.4 561.7,1135.5 562.0,1121.4 562.4,1120.3 562.8,1138.4 563.1,1126.8 563.6,1138.4 563.9,1127.8 564.2,1134.7 564.7,1150.1 565.0,1149.5 565.4,1155.2 565.8,1149.5 566.1,1143.3 566.5,1148.4 566.9,1143.5 567.3,1135.6 567.6,1140.8 568.0,1148.2 568.4,1136.1 568.7,1135.6 569.2,1135.6 569.5,1135.6 569.8,1143.9 570.3,1148.2 570.6,1145.5 571.0,1146.0 571.4,1151.2 571.7,1164.2 572.1,1152.9 572.5,1151.5 572.9,1152.6 573.2,1150.3 573.6,1157.9 574.0,1158.6 574.3,1151.3 574.8,1152.2 575.1,1155.3 575.4,1153.8 575.9,1160.8 576.2,1152.4 576.6,1157.2 577.0,1149.3 577.3,1142.0 577.7,1148.3 578.1,1151.2 578.5,1146.1 578.8,1151.2 579.2,1153.5 579.6,1160.0 579.9,1152.3 580.4,1159.8 580.7,1151.0 581.0,1151.9 581.5,1160.0 581.8,1157.9 582.2,1163.5 582.6,1160.1 582.9,1150.8 583.3,1157.0 583.7,1164.7 584.1,1153.9 584.4,1158.3 584.9,1162.8 585.2,1153.9 585.5,1163.1 586.0,1156.0 586.3,1149.3 586.6,1156.6 587.1,1160.6 587.4,1152.3 587.8,1155.6 588.2,1150.6 588.6,1150.7 588.9,1159.9 589.3,1127.6 589.7,1136.6 590.0,1144.3 590.5,1137.8 590.8,1148.3 591.1,1145.7 591.6,1127.1 591.9,1128.6 592.3,1125.0 592.7,1137.8 593.0,1122.3 593.4,1152.0 593.8,1127.2 594.2,1121.3 594.5,1132.1 594.9,1106.9 595.3,1096.7 595.6,1103.9 596.1,1077.2 596.4,1074.2 596.7,1074.2 597.2,1072.7 597.5,1090.6 597.9,1067.9 598.3,1085.5 598.6,1079.9 599.0,1074.2 599.4,1105.1 599.8,1110.0 600.1,1111.1 600.5,1121.3 600.9,1130.8 601.2,1121.3 601.7,1110.4 602.0,1110.4 602.3,1110.4 602.8,1126.1 603.1,1126.9 603.5,1130.2 603.9,1129.6 604.2,1125.1 604.6,1130.7 605.0,1138.6 605.4,1149.2 605.7,1141.7 606.1,1139.7 606.5,1147.4 606.8,1148.2 607.3,1146.6 607.6,1150.3 607.9,1127.4 608.4,1142.7 608.7,1143.0 609.1,1153.4 609.5,1149.4 609.8,1134.6 610.2,1146.4 610.6,1150.4 611.0,1145.3 611.3,1147.0 611.8,1144.6 612.1,1143.7 612.4,1139.1 612.9,1153.1 613.2,1140.5 613.5,1129.3 614.0,1156.8 614.3,1161.4 614.7,1154.3 615.1,1151.7 615.5,1146.4 615.8,1154.1 616.2,1156.5 616.6,1159.9 616.9,1155.5 617.4,1153.4 617.7,1150.3 618.0,1152.4 618.5,1161.5 618.8,1157.0 619.2,1165.8 619.6,1138.4 619.9,1132.6 620.3,1142.5 620.7,1138.0 621.1,1138.3 621.4,1130.3 621.8,1136.0 622.2,1145.3 622.5,1144.9 623.0,1115.8 623.3,1125.6 623.6,1133.9 624.1,1069.4 624.4,1085.2 624.8,1085.1 625.2,1069.4 625.5,1081.7 625.9,1097.6 626.3,1065.3 626.7,1062.8 627.0,1091.6 627.4,1030.4 627.8,980.3 628.1,1053.5 628.6,927.6 628.9,960.7 629.2,933.3 629.7,913.5 630.0,915.7 630.4,933.0 630.8,927.6 631.1,991.3 631.5,992.6 631.9,1048.2 632.3,1058.1 632.6,1074.4 633.0,1080.6 633.4,1075.6 633.7,1101.4 634.2,1060.4 634.5,1090.2 634.8,1073.2 635.3,1080.4 635.6,1116.9 636.0,1091.5 636.4,1124.6 636.7,1106.7 637.1,1113.3 637.5,1124.6 637.9,1109.3 638.2,1125.1 638.7,1130.5 639.0,1125.5 639.3,1118.4 639.8,1118.3 640.1,1133.3 640.4,1138.3 640.9,1107.1 641.2,1100.9 641.6,1104.2 642.0,1113.2 642.4,1112.4 642.7,1099.0 643.1,1123.7 643.5,1105.9 643.8,1129.9 644.3,1145.5 644.6,1128.6 644.9,1130.8 645.4,1128.7 645.7,1142.2 646.0,1136.7 646.5,1136.8 646.8,1124.1 647.2,1132.9 647.6,1123.4 648.0,1118.8 648.3,1121.1 648.7,1150.6 649.1,1132.3 649.4,1140.0 649.9,1118.8 650.2,1118.8 650.5,1128.8 651.0,1126.1 651.3,1138.8 651.7,1125.1 652.1,1133.2 652.4,1138.7 652.8,1141.7 653.2,1134.3 653.6,1150.5 653.9,1127.9 654.3,1145.2 654.7,1152.4 655.0,1159.1 655.5,1143.3 655.8,1145.4 656.1,1144.2 656.6,1151.1 656.9,1145.8 657.3,1146.3 657.7,1142.7 658.0,1148.5 658.4,1158.2 658.8,1137.7 659.2,1147.8 659.5,1146.2 659.9,1141.4 660.3,1150.4 660.6,1143.2 661.1,1158.0 661.4,1150.9 661.7,1157.2 662.2,1160.7 662.5,1162.3 662.9,1145.5 663.3,1154.7 663.6,1146.6 664.0,1157.0 664.4,1158.4 664.8,1162.1 665.1,1154.3 665.6,1153.5 665.9,1144.2 666.2,1151.9 666.7,1155.0 667.0,1141.2 667.3,1150.0 667.8,1158.4 668.1,1152.1 668.5,1154.7 668.9,1151.0 669.2,1143.8 669.6,1150.8 670.0,1147.1 670.4,1130.7 670.7,1127.2 671.2,1143.4 671.5,1127.2 671.8,1137.8 672.3,1137.0 672.6,1140.0 672.9,1136.0 673.4,1120.8 673.7,1117.1 674.1,1115.6 674.5,1127.6 674.9,1105.2 675.2,1109.2 675.6,1083.4 676.0,1103.7 676.3,1113.0 676.8,1112.6 677.1,1083.4 677.4,1116.8 677.9,1094.1 678.2,1110.8 678.6,1079.0 679.0,1084.7 679.3,1101.5 679.7,1119.3 680.1,1043.1 680.5,1077.7 680.8,1048.2 681.2,1023.0 681.6,1038.0 681.9,999.8 682.4,998.1 682.7,992.8 683.0,975.5 683.5,964.0 683.8,994.5 684.2,974.4 684.6,975.5 684.9,983.9 685.3,1010.3 685.7,1059.3 686.1,1036.2 686.4,1021.0 686.8,1092.8 687.2,1062.8 687.5,1072.4 688.0,1073.0 688.3,1069.4 688.6,1085.2 689.1,1083.6 689.4,1080.6 689.8,1108.8 690.2,1069.4 690.5,1093.4 690.9,1071.0 691.3,1106.7 691.7,1111.4 692.0,1111.5 692.5,1120.7 692.8,1093.5 693.1,1115.8 693.6,1120.5 693.9,1095.4 694.2,1108.3 694.7,1102.2 695.0,1120.9 695.4,1109.1 695.8,1123.3 696.1,1117.2 696.5,1119.7 696.9,1113.2 697.3,1110.2 697.6,1124.8 698.1,1121.3 698.4,1115.1 698.7,1126.6 699.2,1136.6 699.5,1106.5 699.8,1116.1 700.3,1137.3 700.6,1148.0 701.0,1128.6 701.4,1118.8 701.8,1132.1 702.1,1125.1 702.5,1133.1 702.9,1130.6 703.2,1133.6 703.7,1118.8 704.0,1128.5 704.3,1124.6 704.8,1118.8 705.1,1118.8 705.5,1131.5 705.9,1145.2 706.2,1147.4 706.6,1137.1 707.0,1140.0 707.4,1129.7 707.7,1130.4 708.1,1138.0 708.5,1136.6 708.8,1131.3 709.3,1141.6 709.6,1143.9 709.9,1142.0 710.4,1147.4 710.7,1132.9 711.1,1133.1 711.5,1140.0 711.8,1136.4 712.2,1136.0 712.6,1124.6 713.0,1137.5 713.3,1123.2 713.7,1130.5 714.1,1118.8 714.4,1127.9 714.9,1124.1 715.2,1148.3 715.5,1144.1 716.0,1139.6 716.3,1123.8 716.7,1118.8 717.1,1130.6 717.4,1144.3 717.8,1121.1 718.2,1118.8 718.6,1126.5 718.9,1136.8 719.3,1119.2 719.7,1127.2 720.0,1118.8 720.5,1126.7 720.8,1130.1 721.1,1138.7 721.6,1138.6 721.9,1119.4 722.3,1135.3 722.7,1138.7 723.0,1135.1 723.4,1128.6 723.8,1120.5 724.2,1140.5 724.5,1137.5 725.0,1131.2 725.3,1123.7 725.6,1144.6 726.1,1128.9 726.4,1126.0 726.7,1119.8 727.2,1130.2 727.5,1132.3 727.9,1121.9 728.3,1135.0 728.7,1119.6 729.0,1127.6 729.4,1128.9 729.8,1137.9 730.1,1134.1 730.6,1139.3 730.9,1131.0 731.2,1127.8 731.7,1151.3 732.0,1130.3 732.4,1125.7 732.8,1127.9 733.1,1134.0 733.5,1145.4 733.9,1140.8 734.3,1136.0 734.6,1146.5 735.0,1139.1 735.4,1127.2 735.7,1135.3 736.2,1139.0 736.5,1136.6 736.8,1127.2 737.3,1142.8 737.6,1139.4 738.0,1155.0 738.4,1131.8 738.7,1131.8 739.1,1132.9 739.5,1145.7 739.9,1151.0 740.2,1147.5 740.6,1148.5 741.0,1141.0 741.3,1132.2 741.8,1155.4 742.1,1151.8 742.4,1153.0 742.9,1140.9 743.2,1133.5 743.6,1145.4 744.0,1140.5 744.3,1144.9 744.7,1135.1 745.1,1132.8 745.5,1150.6 745.8,1151.5 746.2,1148.1 746.6,1144.8 746.9,1148.5 747.4,1152.3 747.7,1143.9 748.0,1144.7 748.5,1146.0 748.8,1156.5 749.2,1159.7 749.6,1150.6 749.9,1151.6 750.3,1160.9 750.7,1157.2 751.1,1138.2 751.4,1157.2 751.9,1143.4 752.2,1145.3 752.5,1146.9 753.0,1143.9 753.3,1153.9 753.6,1146.9 754.1,1145.3 754.4,1140.8 754.8,1135.6 755.2,1149.8 755.6,1154.5 755.9,1150.2 756.3,1143.3 756.7,1154.2 757.0,1145.4 757.5,1141.0 757.8,1142.5 758.1,1133.9 758.6,1124.7 758.9,1147.8 759.3,1113.1 759.7,1137.8 760.0,1126.0 760.4,1132.4 760.8,1114.4 761.2,1120.8 761.5,1129.8 761.9,1106.7 762.3,1129.9 762.6,1119.8 763.1,1116.4 763.4,1118.1 763.7,1127.2 764.2,1106.6 764.5,1113.0 764.9,1114.5 765.3,1113.8 765.6,1128.0 766.0,1118.9 766.4,1131.6 766.8,1129.1 767.1,1138.2 767.5,1146.8 767.9,1154.1 768.2,1143.3 768.7,1141.5 769.0,1155.9 769.3,1140.5 769.8,1135.6 770.1,1135.6 770.5,1138.7 770.9,1143.8 771.2,1140.3 771.6,1147.2 772.0,1139.0 772.4,1135.6 772.7,1135.6 773.1,1152.7 773.5,1144.6 773.8,1136.1 774.3,1146.1 774.6,1146.6 774.9,1145.8 775.4,1146.3 775.7,1143.1 776.1,1142.6 776.5,1143.9 776.8,1149.6 777.2,1145.9 777.6,1138.8 778.0,1140.1 778.3,1149.2 778.8,1135.6 779.1,1143.6 779.4,1158.4 779.9,1143.3 780.2,1144.2 780.5,1145.7 781.0,1132.0 781.3,1134.2 781.7,1127.2 782.1,1128.2 782.5,1152.5 782.8,1148.0 783.2,1140.9 783.6,1140.8 783.9,1143.7 784.4,1142.0 784.7,1142.6 785.0,1140.8 785.5,1155.2 785.8,1150.6 786.1,1144.0 786.6,1136.3 786.9,1140.4 787.3,1136.0 787.7,1119.6 788.1,1141.5 788.4,1142.7 788.8,1130.3 789.2,1135.5 789.5,1141.5 790.0,1130.0 790.3,1119.6 790.6,1136.9 791.1,1124.6 791.4,1119.6 791.8,1127.9 792.2,1140.0 792.5,1135.3 792.9,1129.4" fill="none" stroke="#00BFC4" stroke-width="1.5" stroke-linejoin="round"/>
<polyline points="145.5,1040.8 145.8,1042.0 146.2,1067.7 146.6,1056.9 147.0,1061.3 147.3,1083.2 147.7,1048.5 148.1,1087.3 148.4,1066.9 148.9,1100.3 149.2,1077.4 149.5,1079.1 150.0,1093.2 150.3,1097.0 150.7,1083.3 151.1,1083.3 151.4,1091.4 151.8,1093.0 152.2,1087.9 152.6,1106.2 152.9,1091.7 153.3,1085.2 153.7,1089.9 154.0,1083.3 154.5,1117.2 154.8,1108.5 155.1,1106.7 155.6,1076.7 155.9,1102.3 156.3,1097.9 156.7,1096.5 157.0,1110.1 157.4,1106.9 157.8,1089.7 158.2,1102.8 158.5,1115.9 158.9,1100.2 159.3,1092.1 159.6,1098.3 160.1,1089.5 160.4,1072.7 160.7,1086.0 161.2,1057.3 161.5,1065.7 161.9,1051.9 162.3,1041.6 162.6,1041.6 163.0,1041.6 163.4,1067.1 163.8,1054.9 164.1,1059.3 164.6,1033.5 164.9,1041.8 165.2,1034.4 165.7,1074.5 166.0,1073.5 166.3,1076.9 166.8,1073.7 167.1,1066.8 167.5,1093.0 167.9,1092.1 168.3,1105.4 168.6,1111.3 169.0,1105.0 169.4,1116.2 169.7,1122.6 170.2,1107.4 170.5,1115.5 170.8,1125.5 171.3,1127.7 171.6,1134.0 172.0,1104.5 172.4,1128.6 172.7,1142.8 173.1,1128.9 173.5,1144.7 173.9,1139.6 174.2,1125.9 174.6,1142.3 175.0,1134.4 175.3,1134.2 175.8,1147.9 176.1,1139.6 176.4,1144.9 176.9,1133.4 177.2,1142.3 177.6,1144.3 178.0,1146.1 178.3,1145.2 178.7,1135.0 179.1,1134.1 179.5,1134.3 179.8,1129.1 180.2,1124.4 180.6,1138.0 180.9,1139.1 181.4,1132.2 181.7,1144.9 182.0,1145.4 182.5,1124.6 182.8,1125.4 183.2,1131.9 183.6,1130.0 183.9,1134.7 184.3,1131.1 184.7,1128.6 185.1,1138.2 185.4,1135.0 185.8,1121.5 186.2,1135.7 186.5,1128.2 187.0,1123.7 187.3,1125.9 187.6,1105.0 188.1,1120.8 188.4,1109.2 188.8,1135.0 189.2,1105.0 189.5,1117.6 189.9,1110.2 190.3,1116.4 190.7,1099.4 191.0,1118.9 191.5,1039.7 191.8,1082.6 192.1,1074.4 192.6,1052.2 192.9,1066.9 193.2,1040.3 193.7,1066.4 194.0,1043.5 194.4,1054.9 194.8,1068.3 195.2,1011.6 195.5,1031.5 195.9,989.4 196.3,1025.9 196.6,989.3 197.1,938.4 197.4,955.1 197.7,939.5 198.2,911.6 198.5,994.9 198.9,919.5 199.3,860.1 199.6,882.8 200.0,882.8 200.4,899.0 200.8,876.8 201.1,876.8 201.5,901.8 201.9,911.6 202.2,940.0 202.7,916.5 203.0,949.7 203.3,920.8 203.8,992.1 204.1,1058.9 204.5,989.6 204.9,1011.4 205.2,999.9 205.6,1046.1 206.0,1015.3 206.4,1026.6 206.7,1073.3 207.1,1087.9 207.5,1084.7 207.8,1092.7 208.3,1094.4 208.6,1107.4 208.9,1107.5 209.4,1113.3 209.7,1109.8 210.1,1108.0 210.5,1102.9 210.8,1108.3 211.2,1107.9 211.6,1112.5 212.0,1096.6 212.3,1102.8 212.7,1121.3 213.1,1130.4 213.4,1125.3 213.9,1110.6 214.2,1115.6 214.5,1128.1 215.0,1139.2 215.3,1137.1 215.7,1128.7 216.1,1128.6 216.4,1130.1 216.8,1138.6 217.2,1131.9 217.6,1126.5 217.9,1128.8 218.4,1120.9 218.7,1121.5 219.0,1108.4 219.5,1130.1 219.8,1127.1 220.1,1117.8 220.6,1135.6 220.9,1108.8 221.3,1131.8 221.7,1119.8 222.1,1119.4 222.4,1106.5 222.8,1116.0 223.2,1115.9 223.5,1104.4 224.0,1115.1 224.3,1123.5 224.6,1114.0 225.1,1111.2 225.4,1120.0 225.7,1120.4 226.2,1090.7 226.5,1096.2 226.9,1091.2 227.3,1094.7 227.7,1097.6 228.0,1070.2 228.4,1085.1 228.8,1110.7 229.1,1112.3 229.6,1107.0 229.9,1101.9 230.2,1106.4 230.7,1086.5 231.0,1095.8 231.4,1094.9 231.8,1086.6 232.1,1084.7 232.5,1097.8 232.9,1084.2 233.3,1118.5 233.6,1074.9 234.0,1089.5 234.4,1110.4 234.7,1076.5 235.2,1081.3 235.5,1078.3 235.8,1094.4 236.3,1101.3 236.6,1074.3 237.0,1105.3 237.4,1107.6 237.7,1108.6 238.1,1099.4 238.5,1091.1 238.9,1103.4 239.2,1085.1 239.6,1122.8 240.0,1109.0 240.3,1100.0 240.8,1096.6 241.1,1108.7 241.4,1126.5 241.9,1106.8 242.2,1119.2 242.6,1122.0 243.0,1128.4 243.3,1111.3 243.7,1131.5 244.1,1133.6 244.5,1135.3 244.8,1139.0 245.3,1120.2 245.6,1119.8 245.9,1117.2 246.4,1128.6 246.7,1130.6 247.0,1129.3 247.5,1137.7 247.8,1125.4 248.2,1118.8 248.6,1135.7 248.9,1135.3 249.3,1142.9 249.7,1132.0 250.1,1129.5 250.4,1132.7 250.9,1139.2 251.2,1134.9 251.5,1135.8 252.0,1139.1 252.3,1143.2 252.6,1118.8 253.1,1141.0 253.4,1141.0 253.8,1142.7 254.2,1148.2 254.6,1148.8 254.9,1148.0 255.3,1147.2 255.7,1140.9 256.0,1153.7 256.5,1148.2 256.8,1146.0 257.1,1142.6 257.6,1150.6 257.9,1153.6 258.3,1152.3 258.7,1135.6 259.0,1138.5 259.4,1137.7 259.8,1150.7 260.2,1160.1 260.5,1145.6 260.9,1153.1 261.3,1146.1 261.6,1152.5 262.1,1156.2 262.4,1157.9 262.7,1148.5 263.2,1153.3 263.5,1152.9 263.9,1148.0 264.3,1141.4 264.6,1147.4 265.0,1136.3 265.4,1155.7 265.8,1148.8 266.1,1143.3 266.5,1134.9 266.9,1132.1 267.2,1148.8 267.7,1115.7 268.0,1115.7 268.3,1111.4 268.8,1125.5 269.1,1131.0 269.5,1131.6 269.9,1104.7 270.2,1106.3 270.6,1111.6 271.0,1095.2 271.4,1090.9 271.7,1084.7 272.2,1054.4 272.5,1063.6 272.8,1031.9 273.3,1028.8 273.6,1011.6 273.9,1025.4 274.4,1046.0 274.7,1044.8 275.1,1075.2 275.5,1094.1 275.8,1092.1 276.2,1096.6 276.6,1086.2 277.0,1080.6 277.3,1107.9 277.8,1096.8 278.1,1084.5 278.4,1107.7 278.9,1128.9 279.2,1121.9 279.5,1119.9 280.0,1134.7 280.3,1128.6 280.7,1133.4 281.1,1125.3 281.5,1126.0 281.8,1130.0 282.2,1118.8 282.6,1118.9 282.9,1125.1 283.4,1129.4 283.7,1143.3 284.0,1126.0 284.5,1122.6 284.8,1118.8 285.2,1124.1 285.6,1127.2 285.9,1118.8 286.3,1137.5 286.7,1123.2 287.1,1126.5 287.4,1122.9 287.8,1133.2 288.2,1128.6 288.5,1137.2 289.0,1124.7 289.3,1130.7 289.6,1106.5 290.1,1120.0 290.4,1124.1 290.8,1125.6 291.2,1107.6 291.5,1102.7 291.9,1102.4 292.3,1115.3 292.7,1141.9 293.0,1129.6 293.4,1141.6 293.8,1141.8 294.1,1132.4 294.6,1093.5 294.9,1109.6 295.2,1101.8 295.7,1120.8 296.0,1109.7 296.4,1106.7 296.8,1089.7 297.1,1065.9 297.5,1077.3 297.9,1085.3 298.3,1059.2 298.6,1055.5 299.0,1074.5 299.4,1063.7 299.7,1080.1 300.2,1084.1 300.5,1048.2 300.8,1082.3 301.3,1006.8 301.6,984.9 302.0,997.1 302.4,1052.3 302.7,971.3 303.1,969.9 303.5,990.3 303.9,986.8 304.2,1018.1 304.7,1050.8 305.0,1040.5 305.3,1033.5 305.8,1090.4 306.1,1041.6 306.4,1041.6 306.9,1085.2 307.2,1076.9 307.6,1069.1 308.0,1062.2 308.4,1061.9 308.7,1069.3 309.1,1081.3 309.5,1077.4 309.8,1079.6 310.3,1084.3 310.6,1076.3 310.9,1107.0 311.4,1076.3 311.7,1076.3 312.1,1077.0 312.5,1076.3 312.8,1079.1 313.2,1087.8 313.6,1070.1 314.0,1085.8 314.3,1090.8 314.7,1077.9 315.1,1066.6 315.4,1076.2 315.9,1066.6 316.2,1081.0 316.5,1066.6 317.0,1087.0 317.3,1075.4 317.7,1075.7 318.1,1085.4 318.4,1066.6 318.8,1066.6 319.2,1067.0 319.6,1066.6 319.9,1090.7 320.3,1059.9 320.7,1095.9 321.0,1073.9 321.5,1066.6 321.8,1076.2 322.1,1066.6 322.6,1085.3 322.9,1083.7 323.3,1078.5 323.7,1066.6 324.0,1104.8 324.4,1084.5 324.8,1084.0 325.2,1108.6 325.5,1080.6 325.9,1110.0 326.3,1086.3 326.6,1091.6 327.1,1115.5 327.4,1118.6 327.7,1106.7 328.2,1097.2 328.5,1099.9 328.9,1093.5 329.3,1126.8 329.6,1125.5 330.0,1126.9 330.4,1121.9 330.8,1135.9 331.1,1131.0 331.6,1121.6 331.9,1135.8 332.2,1144.3 332.7,1141.8 333.0,1126.0 333.3,1125.5 333.8,1137.8 334.1,1123.3 334.5,1132.9 334.9,1139.3 335.3,1141.7 335.6,1139.7 336.0,1135.6 336.4,1128.1 336.7,1137.3 337.2,1132.3 337.5,1140.7 337.8,1138.8 338.3,1145.8 338.6,1146.7 339.0,1143.3 339.4,1143.0 339.7,1134.4 340.1,1125.2 340.5,1132.1 340.9,1143.9 341.2,1134.9 341.6,1138.4 342.0,1111.0 342.3,1134.9 342.8,1134.1 343.1,1135.6 343.4,1126.0 343.9,1138.2 344.2,1130.5 344.6,1137.7 345.0,1133.3 345.3,1131.2 345.7,1143.0 346.1,1110.4 346.5,1121.0 346.8,1120.7 347.2,1123.6 347.6,1121.3 347.9,1130.7 348.4,1101.6 348.7,1118.0 349.0,1100.7 349.5,1106.9 349.8,1126.4 350.2,1117.6 350.6,1105.6 350.9,1086.6 351.3,1085.2 351.7,1102.6 352.1,1086.2 352.4,1096.5 352.8,1087.1 353.2,1103.9 353.5,1075.1 354.0,1062.8 354.3,1070.3 354.6,1098.4 355.1,1043.3 355.4,1027.7 355.8,1027.7 356.2,1055.0 356.5,1031.1 356.9,1032.4 357.3,1023.1 357.7,1031.3 358.0,1018.9 358.5,1037.6 358.8,1027.7 359.1,1027.7 359.6,1037.3 359.9,1027.7 360.2,1037.4 360.7,1062.8 361.0,1085.9 361.4,1093.8 361.8,1070.6 362.2,1106.4 362.5,1087.0 362.9,1078.4 363.3,1074.6 363.6,1096.5 364.1,1085.6 364.4,1069.4 364.7,1069.4 365.2,1092.5 365.5,1084.7 365.8,1084.9 366.3,1068.3 366.6,1104.2 367.0,1090.0 367.4,1109.6 367.8,1075.1 368.1,1091.3 368.5,1091.6 368.9,1111.8 369.2,1090.2 369.7,1099.4 370.0,1099.4 370.3,1116.7 370.8,1102.7 371.1,1099.7 371.5,1088.9 371.9,1105.8 372.2,1085.1 372.6,1085.1 373.0,1109.5 373.4,1110.2 373.7,1105.8 374.1,1103.5 374.5,1108.6 374.8,1104.3 375.3,1127.5 375.6,1106.7 375.9,1111.2 376.4,1109.3 376.7,1093.8 377.1,1100.7 377.5,1112.0 377.8,1093.5 378.2,1117.6 378.6,1111.4 379.0,1098.7 379.3,1118.4 379.7,1096.3 380.1,1116.6 380.4,1108.6 380.9,1114.0 381.2,1116.7 381.5,1125.5 382.0,1076.0 382.3,1097.4 382.7,1080.4 383.1,1079.7 383.4,1111.2 383.8,1102.2 384.2,1080.4 384.6,1080.6 384.9,1071.3 385.4,1077.7 385.7,1062.8 386.0,1081.6 386.5,1041.4 386.8,1064.4 387.1,1049.5 387.6,1011.2 387.9,999.1 388.3,1039.1 388.7,1011.8 389.0,1043.9 389.4,1008.9 389.8,1023.9 390.2,1034.7 390.5,1035.1 391.0,1077.7 391.3,1059.8 391.6,1048.2 392.1,1055.5 392.4,1055.5 392.7,1055.5 393.2,1073.4 393.5,1067.3 393.9,1089.2 394.3,1084.8 394.7,1068.8 395.0,1068.4 395.4,1056.9 395.8,1055.5 396.1,1055.5 396.6,1074.7 396.9,1076.3 397.2,1055.5 397.7,1049.6 398.0,1062.8 398.4,1063.4 398.8,1056.9 399.1,1056.9 399.5,1056.9 399.9,1056.9 400.3,1056.9 400.6,1056.9 401.0,1057.4 401.4,1056.9 401.7,1073.1 402.2,1076.1 402.5,1056.9 402.8,1066.2 403.3,1070.5 403.6,1069.1 404.0,1055.5 404.4,1067.6 404.7,1062.4 405.1,1062.4 405.5,1063.4 405.9,1062.4 406.2,1082.2 406.6,1090.8 407.0,1083.0 407.3,1062.4 407.8,1094.3 408.1,1065.0 408.4,1071.4 408.9,1098.7 409.2,1130.0 409.6,1084.7 410.0,1075.9 410.3,1092.8 410.7,1073.4 411.1,1082.1 411.5,1090.4 411.8,1103.9 412.3,1113.7 412.6,1104.7 412.9,1101.3 413.4,1098.0 413.7,1098.8 414.0,1098.8 414.5,1106.0 414.8,1103.3 415.2,1093.9 415.6,1129.0 415.9,1130.7 416.3,1091.2 416.7,1121.3 417.1,1151.5 417.4,1122.8 417.9,1130.9 418.2,1129.5 418.5,1126.3 419.0,1135.0 419.3,1132.6 419.6,1112.0 420.1,1130.1 420.4,1126.2 420.8,1115.1 421.2,1134.8 421.6,1136.9 421.9,1117.3 422.3,1137.4 422.7,1134.4 423.0,1140.0 423.5,1136.0 423.8,1133.2 424.1,1133.8 424.6,1141.4 424.9,1138.2 425.3,1141.3 425.7,1151.6 426.0,1137.8 426.4,1145.6 426.8,1140.3 427.2,1154.7 427.5,1147.9 427.9,1150.7 428.3,1146.9 428.6,1159.7 429.1,1135.2 429.4,1145.8 429.7,1149.3 430.2,1125.2 430.5,1130.9 430.9,1134.4 431.3,1127.1 431.6,1141.0 432.0,1118.8 432.4,1118.9 432.8,1123.3 433.1,1120.8 433.5,1122.2 433.9,1134.5 434.2,1138.0 434.7,1133.3 435.0,1128.9 435.3,1128.6 435.8,1102.4 436.1,1117.6 436.5,1104.5 436.9,1117.5 437.2,1109.0 437.6,1116.5 438.0,1083.3 438.4,1083.3 438.7,1083.3 439.1,1096.4 439.5,1091.6 439.8,1089.2 440.3,1080.5 440.6,1101.2 440.9,1077.4 441.4,1083.3 441.7,1091.6 442.1,1088.8 442.5,1089.8 442.8,1099.6 443.2,1094.3 443.6,1105.7 444.0,1112.8 444.3,1106.5 444.8,1113.7 445.1,1105.6 445.4,1109.6 445.9,1135.1 446.2,1120.0 446.5,1114.0 447.0,1101.9 447.3,1117.7 447.7,1113.5 448.1,1122.8 448.5,1131.3 448.8,1127.3 449.2,1131.7 449.6,1130.4 449.9,1110.3 450.4,1132.3 450.7,1103.1 451.0,1122.1 451.5,1101.9 451.8,1110.9 452.2,1117.2 452.6,1127.5 452.9,1134.5 453.3,1113.0 453.7,1101.9 454.1,1124.6 454.4,1113.2 454.8,1101.9 455.2,1120.8 455.5,1127.4 456.0,1121.9 456.3,1122.7 456.6,1105.3 457.1,1131.8 457.4,1121.3 457.8,1128.2 458.2,1113.1 458.5,1126.7 458.9,1120.0 459.3,1114.4 459.7,1084.0 460.0,1116.4 460.4,1092.6 460.8,1116.6 461.1,1131.1 461.6,1109.1 461.9,1118.0 462.2,1124.7 462.7,1094.3 463.0,1105.9 463.4,1129.6 463.8,1104.6 464.1,1108.4 464.5,1114.0 464.9,1097.4 465.3,1098.6 465.6,1068.3 466.0,1078.7 466.4,1084.0 466.7,1068.3 467.2,1078.5 467.5,1068.3 467.8,1082.9 468.3,1091.5 468.6,1095.0 469.0,1084.7 469.4,1092.8 469.7,1070.5 470.1,1068.3 470.5,1083.2 470.9,1068.3 471.2,1079.6 471.7,1085.8 472.0,1093.8 472.3,1077.1 472.8,1106.2 473.1,1091.8 473.4,1080.7 473.9,1107.9 474.2,1109.4 474.6,1113.4 475.0,1107.4 475.4,1096.3 475.7,1087.1 476.1,1108.8 476.5,1121.0 476.8,1106.7 477.3,1102.1 477.6,1099.2 477.9,1083.3 478.4,1118.4 478.7,1113.0 479.1,1112.4 479.5,1086.5 479.8,1083.3 480.2,1092.4 480.6,1092.8 481.0,1083.3 481.3,1090.7 481.7,1112.1 482.1,1083.3 482.4,1086.0 482.9,1084.6 483.2,1101.1 483.5,1083.3 484.0,1088.7 484.3,1100.8 484.7,1083.3 485.1,1083.3 485.4,1099.7 485.8,1099.9 486.2,1083.3 486.6,1083.3 486.9,1083.3 487.3,1085.2 487.7,1083.2 488.0,1077.4 488.5,1083.3 488.8,1091.5 489.1,1100.7 489.6,1083.3 489.9,1083.3 490.3,1096.8 490.7,1112.0 491.0,1109.3 491.4,1094.6 491.8,1107.6 492.2,1124.0 492.5,1116.5 492.9,1128.8 493.3,1131.3 493.6,1121.3 494.1,1118.1 494.4,1129.9 494.7,1122.7 495.2,1119.5 495.5,1138.8 495.9,1116.4 496.3,1142.1 496.6,1127.9 497.0,1137.1 497.4,1132.4 497.8,1131.0 498.1,1131.0 498.6,1135.2 498.9,1127.9 499.2,1140.8 499.7,1143.3 500.0,1156.8 500.3,1149.6 500.8,1133.5 501.1,1131.3 501.5,1129.3 501.9,1128.2 502.3,1135.8 502.6,1133.3 503.0,1150.2 503.4,1149.9 503.7,1146.5 504.2,1146.8 504.5,1143.9 504.8,1131.4 505.3,1132.0 505.6,1144.0 505.9,1142.2 506.4,1144.8 506.7,1136.3 507.1,1119.6 507.5,1144.8 507.9,1136.7 508.2,1151.8 508.6,1145.3 509.0,1133.5 509.3,1132.3 509.8,1128.6 510.1,1135.7 510.4,1134.1 510.9,1130.6 511.2,1132.4 511.6,1100.4 512.0,1139.7 512.3,1136.1 512.7,1117.0 513.1,1120.3 513.5,1127.7 513.8,1129.6 514.2,1085.1 514.6,1100.2 514.9,1115.3 515.4,1121.4 515.7,1113.8 516.0,1116.0 516.5,1116.3 516.8,1111.3 517.2,1127.2 517.6,1100.6 517.9,1085.1 518.3,1086.4 518.7,1099.4 519.1,1112.0 519.4,1132.0 519.8,1069.4 520.2,1098.9 520.5,1100.0 521.0,1090.3 521.3,1097.9 521.6,1105.5 522.1,1069.4 522.4,1069.4 522.8,1069.4 523.2,1089.5 523.5,1077.4 523.9,1076.4 524.3,1069.4 524.7,1080.3 525.0,1069.4 525.5,1062.8 525.8,1081.5 526.1,1081.7 526.6,1069.4 526.9,1069.4 527.2,1086.8 527.7,1069.4 528.0,1090.3 528.4,1095.7 528.8,1094.9 529.1,1083.7 529.5,1098.0 529.9,1106.7 530.3,1117.9 530.6,1113.5 531.1,1093.8 531.4,1117.8 531.7,1116.9 532.2,1105.3 532.5,1098.1 532.8,1110.9 533.3,1104.5 533.6,1093.5 534.0,1107.2 534.4,1129.9 534.8,1143.9 535.1,1132.4 535.5,1117.8 535.9,1135.9 536.2,1119.7 536.7,1126.2 537.0,1117.8 537.3,1120.5 537.8,1136.4 538.1,1128.6 538.5,1130.8 538.9,1138.9 539.2,1128.7 539.6,1129.9 540.0,1125.9 540.4,1112.7 540.7,1128.6 541.1,1139.9 541.5,1101.9 541.8,1101.9 542.3,1104.5 542.6,1114.9 542.9,1125.0 543.4,1131.5 543.7,1122.8 544.1,1107.3 544.5,1101.9 544.8,1115.5 545.2,1101.9 545.6,1123.0 546.0,1119.0 546.3,1114.1 546.7,1114.0 547.1,1116.7 547.4,1119.5 547.9,1129.3 548.2,1125.7 548.5,1108.8 549.0,1112.0 549.3,1093.4 549.7,1116.0 550.1,1088.5 550.4,1095.5 550.8,1101.7 551.2,1089.1 551.6,1103.1 551.9,1119.4 552.4,1083.0 552.7,1105.7 553.0,1090.2 553.5,1091.9 553.8,1085.2 554.1,1092.6 554.6,1077.0 554.9,1110.3 555.3,1103.9 555.7,1127.5 556.0,1092.1 556.4,1115.3 556.8,1090.3 557.2,1089.4 557.5,1099.3 558.0,1104.3 558.3,1099.4 558.6,1108.0 559.1,1106.7 559.4,1095.6 559.7,1088.2 560.2,1121.1 560.5,1087.8 560.9,1107.8 561.3,1130.3 561.7,1112.3 562.0,1109.2 562.4,1121.3 562.8,1124.9 563.1,1126.0 563.6,1136.6 563.9,1124.2 564.2,1128.7 564.7,1124.6 565.0,1132.6 565.4,1119.6 565.8,1143.2 566.1,1133.8 566.5,1137.4 566.9,1122.9 567.3,1120.7 567.6,1126.9 568.0,1120.9 568.4,1122.3 568.7,1131.5 569.2,1137.9 569.5,1147.5 569.8,1121.9 570.3,1139.7 570.6,1124.6 571.0,1116.8 571.4,1136.0 571.7,1139.5 572.1,1147.6 572.5,1143.6 572.9,1140.8 573.2,1145.1 573.6,1136.3 574.0,1144.0 574.3,1141.1 574.8,1134.8 575.1,1150.5 575.4,1135.4 575.9,1141.7 576.2,1145.6 576.6,1138.6 577.0,1134.1 577.3,1144.3 577.7,1133.7 578.1,1138.8 578.5,1153.0 578.8,1158.2 579.2,1158.6 579.6,1149.7 579.9,1151.5 580.4,1152.2 580.7,1157.5 581.0,1159.9 581.5,1163.2 581.8,1163.6 582.2,1150.6 582.6,1145.0 582.9,1149.9 583.3,1152.2 583.7,1127.2 584.1,1158.3 584.4,1145.4 584.9,1152.5 585.2,1159.3 585.5,1159.4 586.0,1150.0 586.3,1142.7 586.6,1143.0 587.1,1142.7 587.4,1134.1 587.8,1144.6 588.2,1152.2 588.6,1138.4 588.9,1145.5 589.3,1136.0 589.7,1138.0 590.0,1139.9 590.5,1131.0 590.8,1109.4 591.1,1128.2 591.6,1139.7 591.9,1117.7 592.3,1124.9 592.7,1130.4 593.0,1112.6 593.4,1120.8 593.8,1106.7 594.2,1117.7 594.5,1117.7 594.9,1097.4 595.3,1090.8 595.6,1111.9 596.1,1085.4 596.4,1085.4 596.7,1109.7 597.2,1108.1 597.5,1079.6 597.9,1085.4 598.3,1098.6 598.6,1085.4 599.0,1114.1 599.4,1098.7 599.8,1103.9 600.1,1085.4 600.5,1122.5 600.9,1121.3 601.2,1126.5 601.7,1112.7 602.0,1122.8 602.3,1120.1 602.8,1121.0 603.1,1135.3 603.5,1138.7 603.9,1132.1 604.2,1137.5 604.6,1130.5 605.0,1130.7 605.4,1144.4 605.7,1143.8 606.1,1110.4 606.5,1121.0 606.8,1125.0 607.3,1140.7 607.6,1137.1 607.9,1129.5 608.4,1142.7 608.7,1145.3 609.1,1146.9 609.5,1148.9 609.8,1147.1 610.2,1134.1 610.6,1144.3 611.0,1144.4 611.3,1146.3 611.8,1149.9 612.1,1141.3 612.4,1151.6 612.9,1145.6 613.2,1144.8 613.5,1155.5 614.0,1156.9 614.3,1150.6 614.7,1154.6 615.1,1146.7 615.5,1129.2 615.8,1145.3 616.2,1137.7 616.6,1126.2 616.9,1140.7 617.4,1139.8 617.7,1147.2 618.0,1147.1 618.5,1130.7 618.8,1147.8 619.2,1147.3 619.6,1134.1 619.9,1131.7 620.3,1135.3 620.7,1149.5 621.1,1134.5 621.4,1141.5 621.8,1144.4 622.2,1135.0 622.5,1128.6 623.0,1109.0 623.3,1108.7 623.6,1091.3 624.1,1079.2 624.4,1088.6 624.8,1085.2 625.2,1081.4 625.5,1078.5 625.9,1083.0 626.3,1085.1 626.7,1048.2 627.0,1066.8 627.4,1030.6 627.8,1005.6 628.1,1017.3 628.6,940.1 628.9,940.1 629.2,940.1 629.7,968.9 630.0,973.7 630.4,926.7 630.8,991.1 631.1,977.2 631.5,1002.8 631.9,1019.4 632.3,1011.6 632.6,1044.4 633.0,1062.1 633.4,1020.7 633.7,1020.7 634.2,1029.1 634.5,1025.5 634.8,1056.4 635.3,1050.0 635.6,1066.4 636.0,1038.4 636.4,1061.2 636.7,1065.8 637.1,1042.0 637.5,1080.6 637.9,1054.8 638.2,1058.3 638.7,1079.6 639.0,1096.7 639.3,1098.7 639.8,1094.0 640.1,1085.4 640.4,1091.9 640.9,1099.6 641.2,1088.1 641.6,1093.4 642.0,1085.4 642.4,1085.4 642.7,1096.0 643.1,1085.4 643.5,1089.9 643.8,1085.4 644.3,1093.9 644.6,1086.3 644.9,1110.0 645.4,1128.8 645.7,1109.7 646.0,1106.7 646.5,1121.1 646.8,1130.5 647.2,1120.4 647.6,1115.4 648.0,1113.0 648.3,1113.5 648.7,1125.6 649.1,1127.5 649.4,1125.9 649.9,1109.2 650.2,1111.9 650.5,1113.2 651.0,1115.5 651.3,1110.2 651.7,1125.5 652.1,1118.1 652.4,1135.2 652.8,1129.0 653.2,1110.8 653.6,1121.8 653.9,1124.1 654.3,1128.2 654.7,1131.3 655.0,1141.5 655.5,1131.4 655.8,1129.2 656.1,1128.6 656.6,1135.5 656.9,1132.3 657.3,1128.7 657.7,1132.0 658.0,1122.6 658.4,1128.1 658.8,1130.5 659.2,1141.1 659.5,1124.2 659.9,1121.0 660.3,1138.1 660.6,1121.6 661.1,1141.9 661.4,1141.6 661.7,1138.5 662.2,1155.2 662.5,1137.1 662.9,1147.0 663.3,1152.4 663.6,1147.3 664.0,1157.3 664.4,1148.8 664.8,1146.9 665.1,1157.9 665.6,1142.5 665.9,1154.8 666.2,1121.9 666.7,1134.3 667.0,1140.0 667.3,1138.1 667.8,1130.1 668.1,1142.1 668.5,1128.5 668.9,1132.2 669.2,1132.0 669.6,1134.8 670.0,1157.3 670.4,1126.4 670.7,1141.6 671.2,1123.4 671.5,1133.7 671.8,1130.9 672.3,1128.9 672.6,1128.6 672.9,1137.1 673.4,1120.1 673.7,1121.8 674.1,1140.6 674.5,1108.7 674.9,1110.7 675.2,1095.2 675.6,1115.5 676.0,1134.3 676.3,1113.1 676.8,1106.7 677.1,1080.6 677.4,1096.2 677.9,1126.6 678.2,1084.7 678.6,1114.2 679.0,1038.8 679.3,1031.9 679.7,1019.5 680.1,999.9 680.5,999.9 680.8,1028.8 681.2,1009.8 681.6,1021.7 681.9,989.6 682.4,999.9 682.7,1020.8 683.0,999.9 683.5,1009.8 683.8,1013.7 684.2,1029.7 684.6,1065.0 684.9,1062.8 685.3,1094.8 685.7,1069.4 686.1,1069.4 686.4,1085.6 686.8,1079.4 687.2,1092.1 687.5,1105.3 688.0,1097.5 688.3,1069.7 688.6,1069.4 689.1,1096.9 689.4,1096.0 689.8,1102.1 690.2,1096.8 690.5,1088.9 690.9,1095.6 691.3,1107.8 691.7,1116.3 692.0,1099.4 692.5,1126.0 692.8,1109.7 693.1,1108.9 693.6,1102.2 693.9,1085.1 694.2,1115.0 694.7,1126.7 695.0,1090.5 695.4,1103.0 695.8,1091.3 696.1,1109.6 696.5,1101.5 696.9,1085.1 697.3,1101.6 697.6,1085.1 698.1,1120.3 698.4,1127.1 698.7,1121.0 699.2,1114.2 699.5,1101.8 699.8,1097.6 700.3,1107.5 700.6,1106.7 701.0,1111.4 701.4,1086.0 701.8,1111.0 702.1,1091.4 702.5,1085.1 702.9,1110.9 703.2,1085.1 703.7,1090.6 704.0,1103.5 704.3,1090.1 704.8,1110.2 705.1,1105.9 705.5,1096.5 705.9,1087.9 706.2,1101.2 706.6,1115.2 707.0,1108.3 707.4,1099.3 707.7,1110.6 708.1,1095.7 708.5,1088.3 708.8,1109.8 709.3,1106.7 709.6,1099.4 709.9,1101.0 710.4,1109.3 710.7,1111.5 711.1,1109.1 711.5,1110.4 711.8,1122.5 712.2,1116.6 712.6,1094.9 713.0,1097.1 713.3,1107.7 713.7,1105.1 714.1,1098.1 714.4,1111.3 714.9,1106.4 715.2,1098.0 715.5,1107.3 716.0,1100.3 716.3,1085.1 716.7,1100.1 717.1,1126.5 717.4,1118.5 717.8,1106.7 718.2,1102.8 718.6,1093.5 718.9,1102.9 719.3,1093.5 719.7,1105.2 720.0,1109.8 720.5,1102.0 720.8,1112.0 721.1,1108.8 721.6,1093.5 721.9,1093.5 722.3,1119.9 722.7,1114.0 723.0,1133.7 723.4,1140.7 723.8,1103.7 724.2,1095.5 724.5,1096.5 725.0,1103.2 725.3,1103.3 725.6,1126.5 726.1,1111.3 726.4,1114.6 726.7,1106.7 727.2,1116.3 727.5,1108.3 727.9,1088.4 728.3,1087.3 728.7,1073.0 729.0,1080.4 729.4,1096.7 729.8,1098.3 730.1,1068.3 730.6,1068.3 730.9,1068.3 731.2,1080.2 731.7,1089.8 732.0,1087.3 732.4,1084.7 732.8,1085.8 733.1,1055.5 733.5,1058.3 733.9,1080.1 734.3,1048.2 734.6,1068.8 735.0,1055.5 735.4,1061.6 735.7,1055.5 736.2,1092.1 736.5,1109.8 736.8,1098.3 737.3,1109.5 737.6,1104.3 738.0,1113.3 738.4,1091.2 738.7,1083.4 739.1,1110.1 739.5,1130.7 739.9,1115.7 740.2,1105.9 740.6,1117.8 741.0,1120.9 741.3,1115.7 741.8,1128.5 742.1,1086.9 742.4,1140.8 742.9,1137.0 743.2,1135.5 743.6,1121.3 744.0,1110.4 744.3,1114.1 744.7,1115.1 745.1,1113.8 745.5,1130.8 745.8,1140.5 746.2,1115.9 746.6,1135.6 746.9,1123.7 747.4,1138.7 747.7,1130.5 748.0,1137.0 748.5,1120.3 748.8,1112.2 749.2,1112.9 749.6,1136.0 749.9,1140.7 750.3,1137.9 750.7,1139.6 751.1,1136.4 751.4,1133.5 751.9,1110.4 752.2,1110.4 752.5,1115.0 753.0,1140.5 753.3,1131.6 753.6,1126.9 754.1,1110.4 754.4,1136.8 754.8,1127.9 755.2,1115.1 755.6,1110.4 755.9,1110.6 756.3,1130.4 756.7,1146.0 757.0,1121.3 757.5,1101.3 757.8,1097.9 758.1,1112.1 758.6,1070.7 758.9,1090.9 759.3,1087.6 759.7,1084.7 760.0,1109.8 760.4,1102.3 760.8,1075.3 761.2,1055.5 761.5,1089.3 761.9,1048.2 762.3,1084.2 762.6,1069.4 763.1,1057.3 763.4,1063.3 763.7,1055.5 764.2,1104.2 764.5,1084.7 764.9,1090.3 765.3,1090.7 765.6,1092.5 766.0,1103.4 766.4,1075.7 766.8,1080.5 767.1,1088.9 767.5,1083.8 767.9,1098.1 768.2,1068.3 768.7,1106.6 769.0,1129.9 769.3,1096.8 769.8,1124.0 770.1,1101.2 770.5,1088.9 770.9,1121.3 771.2,1126.0 771.6,1126.8 772.0,1112.1 772.4,1131.5 772.7,1110.4 773.1,1110.4 773.5,1126.1 773.8,1110.4 774.3,1122.9 774.6,1131.0 774.9,1127.6 775.4,1123.4 775.7,1133.8 776.1,1114.6 776.5,1122.4 776.8,1123.6 777.2,1131.1 777.6,1120.1 778.0,1125.0 778.3,1126.7 778.8,1132.6 779.1,1130.4 779.4,1126.9 779.9,1128.6 780.2,1138.0 780.5,1138.0 781.0,1110.4 781.3,1127.9 781.7,1132.0 782.1,1138.8 782.5,1136.3 782.8,1124.8 783.2,1123.2 783.6,1118.3 783.9,1111.1 784.4,1110.4 784.7,1110.4 785.0,1122.0 785.5,1134.1 785.8,1134.0 786.1,1129.4 786.6,1130.8 786.9,1126.7 787.3,1121.3 787.7,1123.7 788.1,1111.3 788.4,1100.0 788.8,1118.2 789.2,1116.9 789.5,1107.1 790.0,1101.4 790.3,1130.8 790.6,1124.9 791.1,1113.4 791.4,1099.4 791.8,1099.4 792.2,1111.8 792.5,1123.1 792.9,1120.2" fill="none" stroke="#C77CFF" stroke-width="1.5" stroke-linejoin="round"/>
<polyline points="1058.5,1148.1 1058.8,1144.4 1059.2,1139.6 1059.6,1132.2 1060.0,1139.6 1060.3,1151.3 1060.7,1146.1 1061.1,1149.0 1061.4,1149.7 1061.9,1155.5 1062.2,1153.4 1062.5,1153.3 1063.0,1154.4 1063.3,1144.9 1063.7,1152.7 1064.1,1149.0 1064.4,1148.7 1064.8,1143.3 1065.2,1147.2 1065.6,1141.2 1065.9,1128.5 1066.3,1132.8 1066.7,1153.4 1067.0,1136.1 1067.5,1136.4 1067.8,1147.2 1068.1,1140.7 1068.6,1134.9 1068.9,1149.2 1069.3,1144.9 1069.7,1138.8 1070.0,1148.2 1070.4,1136.0 1070.8,1135.0 1071.2,1139.6 1071.5,1134.4 1071.9,1130.8 1072.3,1132.6 1072.6,1126.2 1073.1,1110.4 1073.4,1118.4 1073.7,1110.4 1074.2,1129.1 1074.5,1137.6 1074.9,1121.3 1075.3,1128.4 1075.6,1125.5 1076.0,1120.0 1076.4,1092.4 1076.8,1117.9 1077.1,1112.2 1077.6,1097.9 1077.9,1106.6 1078.2,1104.1 1078.7,1128.2 1079.0,1104.7 1079.3,1112.4 1079.8,1123.7 1080.1,1116.0 1080.5,1118.0 1080.9,1129.4 1081.3,1125.6 1081.6,1121.3 1082.0,1131.8 1082.4,1136.1 1082.7,1116.5 1083.2,1132.2 1083.5,1137.5 1083.8,1143.4 1084.3,1139.8 1084.6,1138.2 1085.0,1133.9 1085.4,1132.4 1085.7,1142.3 1086.1,1137.8 1086.5,1143.7 1086.9,1143.3 1087.2,1151.1 1087.6,1147.8 1088.0,1149.0 1088.3,1135.6 1088.8,1153.4 1089.1,1160.9 1089.4,1149.2 1089.9,1145.7 1090.2,1146.1 1090.6,1149.9 1091.0,1159.5 1091.3,1154.3 1091.7,1154.3 1092.1,1147.9 1092.5,1139.8 1092.8,1144.9 1093.2,1151.6 1093.6,1148.1 1093.9,1151.5 1094.4,1153.1 1094.7,1146.8 1095.0,1153.5 1095.5,1154.6 1095.8,1141.1 1096.2,1149.1 1096.6,1152.7 1096.9,1141.2 1097.3,1146.7 1097.7,1151.7 1098.1,1146.9 1098.4,1154.7 1098.8,1140.0 1099.2,1146.7 1099.5,1147.9 1100.0,1115.1 1100.3,1128.2 1100.6,1120.7 1101.1,1143.8 1101.4,1142.0 1101.8,1143.0 1102.2,1124.6 1102.5,1110.4 1102.9,1110.4 1103.3,1126.9 1103.7,1121.3 1104.0,1125.8 1104.5,1097.0 1104.8,1097.3 1105.1,1107.9 1105.6,1102.6 1105.9,1083.3 1106.2,1102.7 1106.7,1101.4 1107.0,1086.3 1107.4,1102.5 1107.8,1078.7 1108.2,1093.0 1108.5,1077.4 1108.9,1074.6 1109.3,1083.4 1109.6,1055.5 1110.1,1054.4 1110.4,1048.2 1110.7,1060.0 1111.2,1046.8 1111.5,1026.3 1111.9,1026.3 1112.3,1017.4 1112.6,1031.7 1113.0,1032.0 1113.4,1044.7 1113.8,1040.3 1114.1,1044.3 1114.5,1077.1 1114.9,1048.2 1115.2,1057.4 1115.7,1083.1 1116.0,1058.9 1116.3,1070.4 1116.8,1093.2 1117.1,1099.2 1117.5,1089.1 1117.9,1099.4 1118.2,1118.5 1118.6,1099.7 1119.0,1119.8 1119.4,1123.5 1119.7,1105.7 1120.1,1131.6 1120.5,1130.8 1120.8,1101.2 1121.3,1130.7 1121.6,1118.5 1121.9,1136.8 1122.4,1136.4 1122.7,1142.9 1123.1,1136.0 1123.5,1147.0 1123.8,1139.8 1124.2,1149.4 1124.6,1129.7 1125.0,1127.2 1125.3,1146.3 1125.7,1152.9 1126.1,1148.2 1126.4,1158.9 1126.9,1145.4 1127.2,1149.5 1127.5,1156.3 1128.0,1149.3 1128.3,1139.7 1128.7,1143.2 1129.1,1154.3 1129.4,1157.3 1129.8,1160.8 1130.2,1146.1 1130.6,1151.6 1130.9,1156.7 1131.4,1154.8 1131.7,1145.5 1132.0,1150.2 1132.5,1141.5 1132.8,1151.2 1133.1,1151.9 1133.6,1144.6 1133.9,1144.6 1134.3,1146.3 1134.7,1151.9 1135.1,1142.0 1135.4,1145.3 1135.8,1146.8 1136.2,1135.6 1136.5,1141.6 1137.0,1149.7 1137.3,1143.3 1137.6,1144.2 1138.1,1153.9 1138.4,1147.7 1138.7,1150.3 1139.2,1138.2 1139.5,1132.6 1139.9,1133.9 1140.3,1133.8 1140.7,1133.0 1141.0,1133.4 1141.4,1136.0 1141.8,1145.2 1142.1,1145.2 1142.6,1127.6 1142.9,1136.7 1143.2,1137.6 1143.7,1130.7 1144.0,1143.5 1144.4,1136.9 1144.8,1148.3 1145.1,1145.9 1145.5,1129.0 1145.9,1150.3 1146.3,1141.2 1146.6,1143.4 1147.0,1140.8 1147.4,1147.9 1147.7,1140.5 1148.2,1149.2 1148.5,1149.5 1148.8,1143.3 1149.3,1154.6 1149.6,1141.7 1150.0,1151.2 1150.4,1137.3 1150.7,1138.1 1151.1,1151.1 1151.5,1146.7 1151.9,1157.1 1152.2,1149.8 1152.6,1151.6 1153.0,1151.1 1153.3,1152.3 1153.8,1150.4 1154.1,1158.7 1154.4,1153.5 1154.9,1153.3 1155.2,1158.7 1155.6,1152.4 1156.0,1144.4 1156.3,1147.8 1156.7,1153.8 1157.1,1145.9 1157.5,1135.6 1157.8,1146.1 1158.3,1160.9 1158.6,1156.8 1158.9,1151.0 1159.4,1157.5 1159.7,1154.3 1160.0,1159.0 1160.5,1153.6 1160.8,1163.7 1161.2,1163.7 1161.6,1158.0 1161.9,1148.7 1162.3,1154.8 1162.7,1158.3 1163.1,1169.7 1163.4,1159.3 1163.9,1157.8 1164.2,1148.9 1164.5,1156.1 1165.0,1153.9 1165.3,1153.4 1165.6,1163.1 1166.1,1159.4 1166.4,1149.8 1166.8,1160.0 1167.2,1157.6 1167.6,1164.5 1167.9,1163.5 1168.3,1152.7 1168.7,1148.2 1169.0,1157.6 1169.5,1156.5 1169.8,1162.2 1170.1,1149.1 1170.6,1159.5 1170.9,1166.5 1171.3,1157.9 1171.7,1165.0 1172.0,1162.7 1172.4,1158.0 1172.8,1162.8 1173.2,1154.2 1173.5,1160.6 1173.9,1148.2 1174.3,1154.8 1174.6,1156.1 1175.1,1156.4 1175.4,1153.2 1175.7,1154.6 1176.2,1155.3 1176.5,1157.7 1176.9,1155.4 1177.3,1149.9 1177.6,1144.2 1178.0,1144.0 1178.4,1144.0 1178.8,1160.7 1179.1,1144.7 1179.5,1150.6 1179.9,1154.6 1180.2,1157.5 1180.7,1141.3 1181.0,1150.9 1181.3,1152.6 1181.8,1138.1 1182.1,1132.1 1182.5,1124.5 1182.9,1146.7 1183.2,1150.6 1183.6,1135.9 1184.0,1145.5 1184.4,1128.6 1184.7,1130.3 1185.2,1122.6 1185.5,1127.9 1185.8,1106.2 1186.3,1107.4 1186.6,1127.7 1186.9,1118.0 1187.4,1133.7 1187.7,1125.8 1188.1,1123.3 1188.5,1136.0 1188.8,1156.7 1189.2,1145.4 1189.6,1146.2 1190.0,1140.0 1190.3,1135.0 1190.8,1141.1 1191.1,1143.5 1191.4,1140.9 1191.9,1148.0 1192.2,1143.9 1192.5,1145.9 1193.0,1159.2 1193.3,1150.6 1193.7,1154.4 1194.1,1147.9 1194.5,1148.0 1194.8,1146.2 1195.2,1147.6 1195.6,1147.0 1195.9,1153.3 1196.4,1151.4 1196.7,1144.0 1197.0,1144.0 1197.5,1160.2 1197.8,1145.9 1198.2,1156.6 1198.6,1152.8 1198.9,1150.6 1199.3,1160.0 1199.7,1150.0 1200.1,1153.1 1200.4,1147.1 1200.8,1154.3 1201.2,1162.4 1201.5,1165.5 1202.0,1150.4 1202.3,1160.4 1202.6,1150.2 1203.1,1149.5 1203.4,1143.5 1203.8,1153.4 1204.2,1151.9 1204.5,1150.2 1204.9,1143.9 1205.3,1151.1 1205.7,1139.3 1206.0,1145.9 1206.4,1151.8 1206.8,1140.9 1207.1,1150.0 1207.6,1153.8 1207.9,1137.3 1208.2,1155.0 1208.7,1137.8 1209.0,1136.0 1209.4,1140.2 1209.8,1129.8 1210.1,1119.0 1210.5,1126.9 1210.9,1133.7 1211.3,1129.9 1211.6,1120.8 1212.0,1115.2 1212.4,1117.9 1212.7,1110.7 1213.2,1106.7 1213.5,1139.3 1213.8,1119.0 1214.3,1096.7 1214.6,1090.9 1215.0,1096.9 1215.4,1086.4 1215.7,1085.4 1216.1,1094.2 1216.0,1079.6 1216.3,1081.8 1216.6,1081.9 1216.5,1085.4 1216.9,1085.4 1217.2,1103.7 1217.7,1085.4 1218.0,1098.1 1218.3,1106.0 1218.8,1100.4 1219.1,1099.4 1219.4,1109.7 1219.9,1111.8 1220.2,1087.2 1220.6,1085.1 1221.0,1102.9 1221.4,1127.7 1221.7,1106.2 1222.1,1096.3 1222.5,1104.6 1222.8,1108.6 1223.3,1094.3 1223.6,1086.6 1223.9,1089.3 1224.4,1119.4 1224.7,1098.0 1225.1,1089.9 1225.5,1118.5 1225.8,1126.0 1226.2,1116.1 1226.6,1114.0 1227.0,1121.4 1227.3,1120.5 1227.7,1103.8 1228.1,1126.8 1228.4,1118.3 1228.9,1118.8 1229.2,1137.2 1229.5,1121.3 1230.0,1102.7 1230.3,1115.9 1230.7,1109.0 1231.1,1130.5 1231.4,1113.6 1231.8,1116.0 1232.2,1101.9 1232.6,1106.3 1232.9,1114.0 1233.3,1114.0 1233.7,1124.2 1234.0,1113.7 1234.5,1106.3 1234.8,1106.8 1235.1,1110.5 1235.6,1128.9 1235.9,1136.6 1236.3,1115.5 1236.7,1127.9 1237.0,1132.2 1237.4,1115.9 1237.8,1116.3 1238.2,1122.3 1238.5,1103.6 1238.9,1110.9 1239.3,1103.6 1239.6,1105.0 1240.1,1118.7 1240.4,1128.4 1240.7,1117.3 1241.2,1124.5 1241.5,1125.1 1241.9,1140.0 1242.3,1141.5 1242.6,1140.9 1243.0,1133.5 1243.4,1155.9 1243.8,1137.0 1244.1,1136.0 1244.6,1149.4 1244.9,1140.7 1245.2,1134.1 1245.7,1132.6 1246.0,1127.2 1246.3,1129.2 1246.8,1137.2 1247.1,1148.7 1247.5,1136.9 1247.9,1142.1 1248.3,1152.6 1248.6,1153.0 1249.0,1133.5 1249.4,1140.2 1249.7,1136.3 1250.2,1128.7 1250.5,1146.3 1250.8,1139.1 1251.3,1149.8 1251.6,1158.9 1252.0,1149.4 1252.4,1147.8 1252.7,1150.9 1253.1,1151.1 1253.5,1159.4 1253.9,1160.9 1254.2,1154.3 1254.6,1154.6 1255.0,1160.6 1255.3,1147.3 1255.8,1147.6 1256.1,1157.9 1256.4,1148.6 1256.9,1160.9 1257.2,1154.6 1257.6,1142.2 1258.0,1147.2 1258.3,1144.8 1258.7,1149.5 1259.1,1146.2 1259.5,1155.6 1259.8,1149.2 1260.2,1147.0 1260.6,1149.4 1260.9,1149.3 1261.4,1148.8 1261.7,1138.3 1262.0,1132.7 1262.5,1139.1 1262.8,1146.6 1263.2,1136.0 1263.6,1133.2 1263.9,1142.8 1264.3,1135.2 1264.7,1126.1 1265.1,1135.6 1265.4,1132.7 1265.8,1136.3 1266.2,1121.7 1266.5,1122.7 1267.0,1134.8 1267.3,1119.9 1267.6,1123.4 1268.1,1114.4 1268.4,1118.3 1268.8,1125.1 1269.2,1106.9 1269.5,1104.1 1269.9,1099.4 1270.3,1097.0 1270.7,1098.7 1271.0,1077.7 1271.5,1081.1 1271.8,1077.7 1272.1,1091.4 1272.6,1091.5 1272.9,1071.6 1273.2,1093.6 1273.7,1097.1 1274.0,1092.4 1274.4,1089.5 1274.8,1093.3 1275.2,1077.7 1275.5,1083.1 1275.9,1083.7 1276.3,1105.5 1276.6,1109.8 1277.1,1111.4 1277.4,1107.8 1277.7,1106.7 1278.2,1135.0 1278.5,1107.2 1278.8,1107.5 1279.3,1103.7 1279.6,1120.8 1280.0,1093.8 1280.4,1100.9 1280.8,1093.5 1281.1,1110.2 1281.5,1123.6 1281.9,1110.3 1282.2,1115.5 1282.7,1141.4 1283.0,1137.3 1283.3,1128.6 1283.8,1135.2 1284.1,1144.0 1284.5,1121.3 1284.9,1146.7 1285.2,1138.6 1285.6,1142.9 1286.0,1153.8 1286.4,1151.7 1286.7,1137.4 1287.1,1148.8 1287.5,1143.3 1287.8,1155.9 1288.3,1136.9 1288.6,1132.5 1288.9,1145.9 1289.4,1138.7 1289.7,1131.1 1290.1,1149.3 1290.5,1134.8 1290.8,1127.0 1291.2,1142.0 1291.6,1125.3 1292.0,1110.4 1292.3,1114.8 1292.7,1113.5 1293.1,1131.9 1293.4,1135.9 1293.9,1125.2 1294.2,1121.3 1294.5,1122.9 1295.0,1097.9 1295.3,1109.5 1295.7,1104.9 1296.1,1100.8 1296.4,1094.0 1296.8,1121.1 1297.2,1117.3 1297.6,1083.3 1297.9,1097.6 1298.4,1083.3 1298.7,1083.3 1299.0,1099.6 1299.5,1095.3 1299.8,1077.4 1300.1,1081.3 1300.6,1080.9 1300.9,1059.1 1301.3,1055.5 1301.7,1078.2 1302.0,1071.7 1302.4,1055.5 1302.8,1095.1 1303.2,1089.9 1303.5,1082.8 1304.0,1055.5 1304.3,1055.5 1304.6,1055.5 1305.1,1048.2 1305.4,1075.1 1305.7,1053.9 1306.2,1048.0 1306.5,1055.7 1306.9,1051.5 1307.3,1042.6 1307.7,1040.5 1308.0,1048.6 1308.4,1057.3 1308.8,1038.1 1309.1,1038.1 1309.6,1044.5 1309.9,1038.1 1310.2,1038.1 1310.7,1034.0 1311.0,1042.1 1311.4,1029.9 1311.8,1038.1 1312.1,1038.1 1312.5,1038.1 1312.9,1038.1 1313.3,1038.1 1313.6,1038.1 1314.0,1071.8 1314.4,1051.4 1314.7,1038.1 1315.2,1038.1 1315.5,1055.1 1315.8,1069.6 1316.3,1079.6 1316.6,1062.8 1317.0,1098.0 1317.4,1069.4 1317.7,1083.1 1318.1,1069.4 1318.5,1069.4 1318.9,1089.7 1319.2,1069.4 1319.6,1069.4 1320.0,1090.4 1320.3,1089.7 1320.8,1077.1 1321.1,1069.4 1321.4,1089.5 1321.9,1119.6 1322.2,1099.4 1322.6,1104.6 1323.0,1119.9 1323.3,1119.9 1323.7,1102.6 1324.1,1128.4 1324.5,1123.5 1324.8,1108.4 1325.3,1119.3 1325.6,1113.4 1325.9,1120.9 1326.4,1125.7 1326.7,1138.1 1327.0,1142.0 1327.5,1150.1 1327.8,1128.6 1328.2,1134.4 1328.6,1125.8 1328.9,1124.4 1329.3,1136.5 1329.7,1128.8 1330.1,1131.1 1330.4,1126.5 1330.9,1140.6 1331.2,1144.7 1331.5,1141.3 1332.0,1124.5 1332.3,1131.9 1332.6,1131.5 1333.1,1147.2 1333.4,1143.3 1333.8,1151.8 1334.2,1145.2 1334.6,1144.1 1334.9,1146.1 1335.3,1144.4 1335.7,1142.0 1336.0,1144.6 1336.5,1156.1 1336.8,1148.0 1337.1,1135.6 1337.6,1147.1 1337.9,1154.2 1338.3,1152.2 1338.7,1158.1 1339.0,1161.6 1339.4,1142.8 1339.8,1157.1 1340.2,1151.8 1340.5,1163.6 1340.9,1163.3 1341.3,1155.5 1341.6,1154.3 1342.1,1155.5 1342.4,1155.1 1342.7,1152.4 1343.2,1153.4 1343.5,1149.8 1343.9,1145.0 1344.3,1154.0 1344.6,1148.9 1345.0,1144.5 1345.4,1152.6 1345.8,1144.0 1346.1,1150.5 1346.5,1150.5 1346.9,1154.1 1347.2,1149.7 1347.7,1158.1 1348.0,1152.6 1348.3,1150.6 1348.8,1147.2 1349.1,1147.1 1349.5,1151.2 1349.9,1130.2 1350.2,1147.0 1350.6,1141.3 1351.0,1149.3 1351.4,1145.3 1351.7,1158.4 1352.1,1136.0 1352.5,1139.4 1352.8,1142.2 1353.3,1135.9 1353.6,1127.6 1353.9,1134.5 1354.4,1134.1 1354.7,1135.6 1355.1,1145.1 1355.5,1141.3 1355.8,1141.4 1356.2,1133.8 1356.6,1135.9 1357.0,1134.4 1357.3,1140.9 1357.8,1142.0 1358.1,1148.0 1358.4,1150.6 1358.9,1143.3 1359.2,1145.2 1359.5,1143.9 1360.0,1156.0 1360.3,1140.4 1360.7,1142.7 1361.1,1147.5 1361.5,1154.3 1361.8,1157.2 1362.2,1140.4 1362.6,1150.8 1362.9,1139.7 1363.4,1145.0 1363.7,1141.9 1364.0,1154.1 1364.5,1154.2 1364.8,1143.9 1365.2,1144.5 1365.6,1150.2 1365.9,1138.9 1366.3,1137.9 1366.7,1152.0 1367.1,1150.6 1367.4,1155.2 1367.8,1153.0 1368.2,1160.0 1368.5,1160.9 1369.0,1144.0 1369.3,1144.0 1369.6,1144.0 1370.1,1144.0 1370.4,1146.1 1370.8,1144.0 1371.2,1154.4 1371.5,1161.9 1371.9,1150.5 1372.3,1146.4 1372.7,1158.7 1373.0,1151.0 1373.4,1158.0 1373.8,1154.3 1374.1,1156.0 1374.6,1151.7 1374.9,1147.5 1375.2,1159.1 1375.7,1152.3 1376.0,1155.2 1376.4,1144.6 1376.8,1141.6 1377.1,1129.7 1377.5,1131.5 1377.9,1151.6 1378.3,1143.2 1378.6,1146.1 1379.0,1150.2 1379.4,1137.5 1379.7,1151.2 1380.2,1127.2 1380.5,1127.2 1380.8,1133.9 1381.3,1138.4 1381.6,1137.0 1382.0,1136.0 1382.4,1143.3 1382.7,1145.3 1383.1,1142.1 1383.5,1132.8 1383.9,1123.0 1384.2,1131.9 1384.7,1110.4 1385.0,1128.6 1385.3,1112.7 1385.8,1130.2 1386.1,1128.0 1386.4,1119.5 1386.9,1110.4 1387.2,1110.4 1387.6,1110.4 1388.0,1119.6 1388.4,1110.4 1388.7,1122.5 1389.1,1129.3 1389.5,1122.1 1389.8,1121.3 1390.3,1119.2 1390.6,1098.1 1390.9,1110.9 1391.4,1093.5 1391.7,1100.5 1392.1,1093.5 1392.5,1108.5 1392.8,1093.5 1393.2,1098.4 1393.6,1123.5 1394.0,1093.5 1394.3,1093.5 1394.7,1106.7 1395.1,1120.0 1395.4,1128.1 1395.9,1105.9 1396.2,1106.5 1396.5,1095.4 1397.0,1094.9 1397.3,1081.9 1397.7,1105.9 1398.1,1091.6 1398.4,1087.9 1398.8,1088.6 1399.2,1109.4 1399.6,1084.4 1399.9,1103.7 1400.3,1081.9 1400.7,1101.5 1401.0,1099.9 1401.5,1092.4 1401.8,1093.6 1402.1,1081.9 1402.6,1100.7 1402.9,1097.5 1403.3,1076.0 1403.7,1099.4 1404.0,1088.1 1404.4,1081.9 1404.8,1096.2 1405.2,1081.9 1405.5,1098.5 1405.9,1115.2 1406.3,1108.0 1406.6,1104.2 1407.1,1105.3 1407.4,1105.7 1407.7,1103.5 1408.2,1121.3 1408.5,1133.5 1408.9,1145.1 1409.3,1133.3 1409.6,1136.2 1410.0,1128.8 1410.4,1138.3 1410.8,1143.6 1411.1,1129.0 1411.6,1134.5 1411.9,1139.6 1412.2,1139.4 1412.7,1143.5 1413.0,1151.7 1413.3,1148.7 1413.8,1154.3 1414.1,1158.3 1414.5,1162.9 1414.9,1159.8 1415.3,1162.8 1415.6,1148.2 1416.0,1151.5 1416.4,1153.0 1416.7,1157.8 1417.2,1156.0 1417.5,1136.1 1417.8,1139.9 1418.3,1140.0 1418.6,1151.3 1418.9,1137.9 1419.4,1136.0 1419.7,1141.0 1420.1,1137.6 1420.5,1131.9 1420.9,1127.0 1421.2,1122.7 1421.6,1116.0 1422.0,1123.8 1422.3,1117.8 1422.8,1124.4 1423.1,1112.6 1423.4,1105.3 1423.9,1118.6 1424.2,1099.1 1424.6,1096.1 1425.0,1083.3 1425.3,1104.8 1425.7,1098.8 1426.1,1077.4 1426.5,1091.0 1426.8,1095.4 1427.2,1083.3 1427.6,1101.9 1427.9,1083.3 1428.4,1083.3 1428.7,1083.3 1429.0,1083.3 1429.5,1087.7 1429.8,1099.7 1430.2,1083.3 1430.6,1104.2 1430.9,1116.8 1431.3,1099.4 1431.7,1075.1 1432.1,1067.5 1432.4,1093.2 1432.8,1075.9 1433.2,1074.6 1433.5,1065.4 1434.0,1082.1 1434.3,1070.3 1434.6,1048.2 1435.1,1084.5 1435.4,1067.1 1435.8,1057.6 1436.2,1112.7 1436.5,1105.0 1436.9,1099.4 1437.3,1090.2 1437.7,1108.5 1438.0,1099.4 1438.5,1125.7 1438.8,1111.1 1439.1,1123.1 1439.6,1085.1 1439.9,1085.1 1440.2,1097.6 1440.7,1109.6 1441.0,1120.6 1441.4,1120.1 1441.8,1132.5 1442.1,1138.8 1442.5,1128.6 1442.9,1118.8 1443.3,1135.5 1443.6,1118.8 1444.1,1132.7 1444.4,1128.3 1444.7,1136.1 1445.2,1142.3 1445.5,1124.0 1445.8,1132.8 1446.3,1145.5 1446.6,1144.8 1447.0,1131.3 1447.4,1144.5 1447.8,1160.3 1448.1,1151.3 1448.5,1159.4 1448.9,1153.3 1449.2,1147.7 1449.7,1150.6 1450.0,1163.1 1450.3,1160.9 1450.8,1143.5 1451.1,1138.3 1451.5,1134.8 1451.9,1127.6 1452.2,1142.7 1452.6,1136.4 1453.0,1152.4 1453.4,1150.9 1453.7,1152.3 1454.1,1147.8 1454.5,1152.9 1454.8,1143.3 1455.3,1127.2 1455.6,1142.6 1455.9,1127.2 1456.4,1144.3 1456.7,1133.9 1457.1,1127.2 1457.5,1140.9 1457.8,1140.3 1458.2,1136.0 1458.6,1128.9 1459.0,1136.6 1459.3,1140.1 1459.7,1128.5 1460.1,1132.9 1460.4,1114.0 1460.9,1114.6 1461.2,1118.3 1461.5,1119.6 1462.0,1114.1 1462.3,1133.6 1462.7,1113.2 1463.1,1115.4 1463.4,1112.9 1463.8,1103.8 1464.2,1101.9 1464.6,1107.9 1464.9,1104.8 1465.4,1108.0 1465.7,1122.2 1466.0,1107.5 1465.9,1111.2 1466.2,1099.4 1466.6,1112.0 1466.5,1109.4 1466.8,1092.0 1467.1,1107.1 1467.6,1104.2 1467.9,1104.1 1468.3,1100.8 1468.7,1118.0 1469.0,1105.2 1469.4,1108.0 1469.8,1108.4 1470.2,1134.2 1470.5,1121.3 1471.0,1104.0 1471.3,1119.7 1471.6,1126.1 1472.1,1117.8 1472.4,1119.7 1472.7,1117.7 1473.2,1136.0 1473.5,1143.3 1473.9,1141.8 1474.3,1135.8 1474.7,1141.5 1475.0,1132.6 1475.4,1135.2 1475.8,1144.8 1476.1,1137.6 1476.6,1140.7 1476.9,1133.7 1477.2,1142.1 1477.7,1144.7 1478.0,1144.8 1478.4,1137.9 1478.8,1144.7 1479.1,1141.6 1479.5,1151.1 1479.9,1153.1 1480.3,1146.5 1480.6,1143.9 1481.0,1141.9 1481.4,1149.5 1481.7,1139.0 1482.2,1145.2 1482.5,1145.5 1482.8,1148.7 1483.3,1147.4 1483.6,1154.5 1484.0,1140.6 1484.4,1150.7 1484.7,1150.6 1485.1,1163.4 1485.5,1151.3 1485.9,1154.8 1486.2,1144.1 1486.6,1144.0 1487.0,1151.9 1487.3,1144.5 1487.8,1148.3 1488.1,1150.2 1488.4,1150.9 1488.9,1149.4 1489.2,1144.0 1489.6,1158.0 1490.0,1144.0 1490.3,1144.7 1490.7,1144.0 1491.1,1144.0 1491.5,1160.9 1491.8,1158.1 1492.2,1155.5 1492.6,1144.0 1492.9,1151.8 1493.4,1144.0 1493.7,1149.1 1494.0,1151.6 1494.5,1157.4 1494.8,1163.3 1495.2,1151.3 1495.6,1161.2 1495.9,1157.1 1496.3,1158.8 1496.7,1158.4 1497.1,1150.5 1497.4,1160.3 1497.9,1162.0 1498.2,1157.9 1498.5,1158.6 1499.0,1160.8 1499.3,1157.9 1499.6,1154.3 1500.1,1146.7 1500.4,1143.8 1500.8,1156.1 1501.2,1149.9 1501.6,1154.6 1501.9,1147.5 1502.3,1151.4 1502.7,1146.5 1503.0,1135.6 1503.5,1149.4 1503.8,1147.2 1504.1,1153.9 1504.6,1143.3 1504.9,1148.4 1505.3,1145.9 1505.7,1122.1 1506.0,1115.1 1506.4,1148.5 1506.8,1106.6 1507.2,1132.5 1507.5,1126.6 1507.9,1112.2 1508.3,1115.0 1508.6,1127.5 1509.1,1111.0 1509.4,1103.5 1509.7,1122.5 1510.2,1115.4 1510.5,1108.5 1510.9,1106.0 1511.3,1102.6 1511.6,1100.6 1512.0,1109.6 1512.4,1125.1 1512.8,1140.6 1513.1,1121.8 1513.5,1136.0 1513.9,1150.1 1514.2,1141.7 1514.7,1148.9 1515.0,1136.3 1515.3,1139.5 1515.8,1137.8 1516.1,1143.3 1516.5,1140.9 1516.9,1156.3 1517.2,1151.8 1517.6,1143.1 1518.0,1146.9 1518.4,1140.8 1518.7,1140.2 1519.1,1147.8 1519.5,1150.7 1519.8,1132.7 1520.3,1141.6 1520.6,1152.0 1520.9,1157.0 1521.4,1148.2 1521.7,1154.9 1522.1,1148.7 1522.5,1147.9 1522.8,1153.1 1523.2,1144.1 1523.6,1154.3 1524.0,1159.7 1524.3,1161.3 1524.8,1153.0 1525.1,1144.0 1525.4,1149.9 1525.9,1151.4 1526.2,1164.7 1526.5,1160.1 1527.0,1150.8 1527.3,1154.5 1527.7,1148.3 1528.1,1163.9 1528.5,1165.6 1528.8,1153.4 1529.2,1145.9 1529.6,1150.0 1529.9,1153.0 1530.4,1155.6 1530.7,1147.7 1531.0,1156.1 1531.5,1150.9 1531.8,1150.6 1532.2,1160.3 1532.6,1154.2 1532.9,1143.6 1533.3,1140.8 1533.7,1141.6 1534.1,1149.5 1534.4,1146.9 1534.8,1141.5 1535.2,1158.5 1535.5,1154.5 1536.0,1146.1 1536.3,1127.8 1536.6,1149.8 1537.1,1127.5 1537.4,1134.4 1537.8,1137.6 1538.2,1140.2 1538.5,1128.6 1538.9,1129.5 1539.3,1141.7 1539.7,1116.2 1540.0,1123.7 1540.4,1114.7 1540.8,1119.0 1541.1,1113.9 1541.6,1122.6 1541.9,1118.1 1542.2,1120.0 1542.7,1129.6 1543.0,1115.5 1543.4,1122.6 1543.8,1103.6 1544.1,1118.3 1544.5,1117.2 1544.9,1112.4 1545.3,1106.0 1545.6,1103.6 1546.0,1103.6 1546.4,1117.2 1546.7,1108.9 1547.2,1115.5 1547.5,1114.4 1547.8,1116.8 1548.3,1129.5 1548.6,1132.9 1549.0,1112.1 1549.4,1131.1 1549.7,1131.9 1550.1,1121.3 1550.5,1113.3 1550.9,1138.2 1551.2,1131.2 1551.7,1142.7 1552.0,1137.5 1552.3,1126.6 1552.8,1112.0 1553.1,1110.4 1553.4,1110.4 1553.9,1146.3 1554.2,1128.4 1554.6,1132.8 1555.0,1127.3 1555.4,1134.6 1555.7,1111.7 1556.1,1118.9 1556.5,1127.7 1556.8,1125.4 1557.3,1136.4 1557.6,1148.2 1557.9,1129.7 1558.4,1136.2 1558.7,1136.0 1559.0,1144.8 1559.5,1143.0 1559.8,1131.0 1560.2,1129.1 1560.6,1130.5 1561.0,1138.1 1561.3,1142.3 1561.7,1146.8 1562.1,1143.3 1562.4,1149.7 1562.9,1141.7 1563.2,1145.6 1563.5,1149.1 1564.0,1142.5 1564.3,1127.2 1564.7,1149.7 1565.1,1156.5 1565.4,1157.6 1565.8,1147.4 1566.2,1151.6 1566.6,1150.6 1566.9,1159.8 1567.3,1144.0 1567.7,1144.0 1568.0,1144.0 1568.5,1144.0 1568.8,1149.4 1569.1,1148.7 1569.6,1153.7 1569.9,1156.2 1570.3,1159.9 1570.7,1159.7 1571.0,1154.2 1571.4,1144.6 1571.8,1157.0 1572.2,1167.0 1572.5,1153.6 1572.9,1146.7 1573.3,1144.0 1573.6,1146.4 1574.1,1158.9 1574.4,1154.3 1574.7,1155.7 1575.2,1155.7 1575.5,1151.5 1575.9,1158.3 1576.3,1150.7 1576.6,1147.6 1577.0,1144.3 1577.4,1154.9 1577.8,1161.9 1578.1,1147.2 1578.6,1160.8 1578.9,1154.7 1579.2,1157.2 1579.7,1144.0 1580.0,1155.2 1580.3,1154.8 1580.8,1151.5 1581.1,1153.3 1581.5,1157.4 1581.9,1159.6 1582.2,1148.0 1582.6,1144.0 1583.0,1157.1 1583.4,1150.6 1583.7,1151.7 1584.2,1148.7 1584.5,1141.8 1584.8,1129.4 1585.3,1149.5 1585.6,1153.7 1585.9,1150.2 1586.4,1127.1 1586.7,1134.4 1587.1,1143.4 1587.5,1129.5 1587.9,1140.5 1588.2,1131.1 1588.6,1115.1 1589.0,1130.3 1589.3,1125.2 1589.8,1124.0 1590.1,1130.8 1590.4,1127.7 1590.9,1112.9 1591.2,1133.4 1591.6,1126.0 1592.0,1121.3 1592.3,1122.1 1592.7,1125.9 1593.1,1113.5 1593.5,1113.6 1593.8,1104.4 1594.2,1080.6 1594.6,1099.4 1594.9,1112.5 1595.4,1106.1 1595.7,1105.0 1596.0,1097.7 1596.5,1083.1 1596.8,1097.4 1597.2,1076.7 1597.6,1109.6 1597.9,1109.7 1598.3,1092.1 1598.7,1106.1 1599.1,1095.4 1599.4,1087.2 1599.8,1082.9 1600.2,1089.3 1600.5,1079.5 1601.0,1117.7 1601.3,1114.6 1601.6,1117.5 1602.1,1122.7 1602.4,1122.0 1602.8,1104.4 1603.2,1133.1 1603.5,1128.9 1603.9,1121.3 1604.3,1137.2 1604.7,1121.5 1605.0,1139.0 1605.5,1133.1 1605.8,1128.0 1606.1,1127.8 1606.6,1144.6 1606.9,1145.7 1607.2,1141.6 1607.7,1146.3 1608.0,1139.4 1608.4,1134.1 1608.8,1145.3 1609.1,1150.5 1609.5,1146.3 1609.9,1156.1 1610.3,1155.6 1610.6,1150.6 1611.1,1148.0 1611.4,1140.5 1611.7,1140.8 1612.2,1142.7 1612.5,1159.1 1612.8,1151.3 1613.3,1147.0 1613.6,1147.7 1614.0,1150.9 1614.4,1141.0 1614.8,1139.7 1615.1,1138.6 1615.5,1147.1 1615.9,1152.1 1616.2,1140.6 1616.7,1149.7 1617.0,1144.3 1617.3,1143.3 1617.8,1129.4 1618.1,1138.1 1618.5,1140.6 1618.9,1150.6 1619.2,1155.5 1619.6,1136.6 1620.0,1144.7 1620.4,1131.4 1620.7,1124.5 1621.1,1121.6 1621.5,1135.7 1621.8,1127.7 1622.3,1141.6 1622.6,1130.0 1622.9,1120.4 1623.4,1144.4 1623.7,1130.4 1624.1,1143.8 1624.5,1136.6 1624.8,1128.6 1625.2,1137.8 1625.6,1142.1 1626.0,1132.3 1626.3,1131.8 1626.7,1138.4 1627.1,1127.0 1627.4,1121.0 1627.9,1118.9 1628.2,1140.9 1628.5,1135.7 1629.0,1118.8 1629.3,1134.1 1629.7,1126.7 1630.1,1139.3 1630.4,1132.3 1630.8,1142.7 1631.2,1136.4 1631.6,1137.4 1631.9,1151.4 1632.3,1141.9 1632.7,1147.4 1633.0,1131.6 1633.5,1142.5 1633.8,1127.5 1634.1,1141.0 1634.6,1131.2 1634.9,1135.4 1635.3,1126.6 1635.7,1130.8 1636.0,1126.3 1636.4,1127.3 1636.8,1142.5 1637.2,1137.0 1637.5,1136.9 1638.0,1122.1 1638.3,1127.4 1638.6,1125.8 1639.1,1143.2 1639.4,1133.4 1639.7,1129.5 1640.2,1122.1 1640.5,1122.1 1640.9,1122.1 1641.3,1142.7 1641.7,1148.6 1642.0,1136.0 1642.4,1127.2 1642.8,1146.2 1643.1,1130.8 1643.6,1140.6 1643.9,1127.4 1644.2,1142.0 1644.7,1127.2 1645.0,1137.8 1645.4,1145.9 1645.8,1131.1 1646.1,1142.5 1646.5,1130.6 1646.9,1150.4 1647.3,1145.6 1647.6,1148.1 1648.0,1160.1 1648.4,1151.1 1648.7,1137.1 1649.2,1127.3 1649.5,1134.4 1649.8,1132.5 1650.3,1148.7 1650.6,1145.7 1651.0,1143.3 1651.4,1142.2 1651.7,1148.5 1652.1,1135.6 1652.5,1136.6 1652.9,1141.7 1653.2,1148.4 1653.6,1147.9 1654.0,1146.9 1654.3,1144.8 1654.8,1153.4 1655.1,1145.1 1655.4,1148.4 1655.9,1148.2 1656.2,1160.3 1656.6,1149.4 1657.0,1151.9 1657.3,1148.6 1657.7,1151.6 1658.1,1151.9 1658.5,1150.6 1658.8,1157.3 1659.2,1150.6 1659.6,1157.5 1659.9,1153.1 1660.4,1153.9 1660.7,1153.4 1661.0,1156.0 1661.5,1159.2 1661.8,1155.7 1662.2,1156.9 1662.6,1151.7 1662.9,1153.7 1663.3,1147.5 1663.7,1155.5 1664.1,1154.4 1664.4,1144.2 1664.9,1153.0 1665.2,1155.7 1665.5,1147.9 1666.0,1165.9 1666.3,1154.3 1666.6,1156.6 1667.1,1148.4 1667.4,1158.1 1667.8,1151.1 1668.2,1151.4 1668.6,1153.1 1668.9,1151.3 1669.3,1157.5 1669.7,1158.7 1670.0,1150.6 1670.5,1135.6 1670.8,1135.6 1671.1,1140.0 1671.6,1161.0 1671.9,1151.2 1672.3,1148.9 1672.7,1144.1 1673.0,1145.5 1673.4,1155.6 1673.8,1153.1 1674.2,1143.3 1674.5,1143.9 1674.9,1144.0 1675.3,1138.4 1675.6,1157.8 1676.1,1144.5 1676.4,1146.3 1676.7,1153.3 1677.2,1135.6 1677.5,1155.3 1677.9,1135.6 1678.3,1149.0 1678.6,1157.0 1679.0,1152.4 1679.4,1156.0 1679.8,1153.4 1680.1,1151.7 1680.5,1153.5 1680.9,1153.1 1681.2,1149.8 1681.7,1151.6 1682.0,1154.6 1682.3,1150.6 1682.8,1144.0 1683.1,1146.8 1683.5,1151.3 1683.9,1156.2 1684.2,1152.4 1684.6,1151.9 1685.0,1160.2 1685.4,1156.5 1685.7,1155.9 1686.1,1153.6 1686.5,1144.0 1686.8,1155.3 1687.3,1163.9 1687.6,1159.4 1687.9,1164.2 1688.4,1165.3 1688.7,1157.9 1689.1,1165.0 1689.5,1158.1 1689.8,1152.2 1690.2,1148.2 1690.6,1155.6 1691.0,1148.2 1691.3,1153.3 1691.8,1154.8 1692.1,1148.2 1692.4,1148.2 1692.9,1150.8 1693.2,1149.0 1693.5,1154.4 1694.0,1151.7 1694.3,1148.2 1694.7,1150.5 1695.1,1159.5 1695.5,1154.3 1695.8,1156.7 1696.2,1167.1 1696.6,1162.3 1696.9,1159.8 1697.4,1159.5 1697.7,1163.5 1698.0,1148.7 1698.5,1149.1 1698.8,1160.7 1699.1,1155.5 1699.6,1150.6 1699.9,1151.5 1700.3,1161.3 1700.7,1145.0 1701.1,1142.8 1701.4,1149.0 1701.8,1135.2 1702.2,1131.7 1702.5,1120.3 1703.0,1124.0 1703.3,1130.3 1703.6,1121.3 1704.1,1119.4 1704.4,1106.8 1704.8,1090.1 1705.2,1099.4 1705.5,1112.0 1705.9,1113.5" fill="none" stroke="#F8766D" stroke-width="1.5" stroke-linejoin="round"/>
<polyline points="1058.5,1144.0 1058.8,1136.0 1059.2,1150.3 1059.6,1118.8 1060.0,1136.4 1060.3,1118.8 1060.7,1148.5 1061.1,1147.5 1061.4,1122.9 1061.9,1135.4 1062.2,1145.8 1062.5,1135.8 1063.0,1120.5 1063.3,1135.7 1063.7,1119.3 1064.1,1130.9 1064.4,1128.6 1064.8,1135.6 1065.2,1142.8 1065.6,1129.0 1065.9,1146.3 1066.3,1118.8 1066.7,1119.5 1067.0,1127.8 1067.5,1138.3 1067.8,1147.6 1068.1,1137.7 1068.6,1121.5 1068.9,1138.9 1069.3,1124.5 1069.7,1139.5 1070.0,1148.7 1070.4,1132.3 1070.8,1125.4 1071.2,1130.9 1071.5,1128.0 1071.9,1119.0 1072.3,1113.3 1072.6,1115.6 1073.1,1110.4 1073.4,1115.5 1073.7,1126.3 1074.2,1129.1 1074.5,1121.3 1074.9,1121.5 1075.3,1128.6 1075.6,1104.8 1076.0,1105.3 1076.4,1093.5 1076.8,1093.5 1077.1,1112.8 1077.6,1110.5 1077.9,1106.7 1078.2,1109.0 1078.7,1133.7 1079.0,1130.1 1079.3,1093.5 1079.8,1093.5 1080.1,1096.5 1080.5,1093.5 1080.9,1121.3 1081.3,1140.9 1081.6,1137.1 1082.0,1110.4 1082.4,1132.9 1082.7,1128.7 1083.2,1116.7 1083.5,1118.5 1083.8,1126.7 1084.3,1140.1 1084.6,1131.2 1085.0,1147.2 1085.4,1132.5 1085.7,1122.5 1086.1,1121.5 1086.5,1136.0 1086.9,1150.0 1087.2,1145.8 1087.6,1140.4 1088.0,1145.6 1088.3,1146.3 1088.8,1127.2 1089.1,1127.2 1089.4,1133.9 1089.9,1151.6 1090.2,1156.2 1090.6,1154.7 1091.0,1151.8 1091.3,1146.6 1091.7,1143.3 1092.1,1145.3 1092.5,1148.1 1092.8,1142.8 1093.2,1134.7 1093.6,1138.9 1093.9,1130.0 1094.4,1144.3 1094.7,1141.0 1095.0,1149.7 1095.5,1131.2 1095.8,1146.7 1096.2,1140.3 1096.6,1131.4 1096.9,1127.9 1097.3,1123.5 1097.7,1132.1 1098.1,1131.0 1098.4,1128.6 1098.8,1121.3 1099.2,1124.0 1099.5,1129.0 1100.0,1129.4 1100.3,1114.1 1100.6,1121.5 1101.1,1089.7 1101.4,1072.9 1101.8,1071.4 1102.2,1068.3 1102.5,1101.0 1102.9,1072.7 1103.3,1084.7 1103.7,1111.1 1104.0,1100.1 1104.5,1051.5 1104.8,1051.1 1105.1,1030.2 1105.6,1022.3 1105.9,1020.7 1106.2,1060.9 1106.7,1055.4 1107.0,1011.6 1107.4,1025.2 1107.8,1031.8 1108.2,1007.8 1108.5,1001.7 1108.9,947.2 1109.3,977.6 1109.6,938.4 1110.1,846.9 1110.4,846.9 1110.7,846.9 1111.2,907.9 1111.5,863.7 1111.9,828.6 1112.3,759.2 1112.6,764.8 1113.0,758.4 1113.4,788.6 1113.8,798.4 1114.1,762.8 1114.5,828.6 1114.9,938.4 1115.2,886.2 1115.7,904.2 1116.0,901.8 1116.3,903.9 1116.8,1004.4 1117.1,966.9 1117.5,925.9 1117.9,1040.0 1118.2,1037.0 1118.6,1011.6 1119.0,1067.4 1119.4,1064.6 1119.7,1052.7 1120.1,1073.7 1120.5,1046.2 1120.8,1059.4 1121.3,1092.1 1121.6,1106.1 1121.9,1096.0 1122.4,1095.8 1122.7,1102.6 1123.1,1109.2 1123.5,1125.8 1123.8,1127.0 1124.2,1127.7 1124.6,1107.7 1125.0,1098.9 1125.3,1117.8 1125.7,1128.9 1126.1,1131.6 1126.4,1128.6 1126.9,1125.9 1127.2,1128.4 1127.5,1118.8 1128.0,1146.5 1128.3,1133.5 1128.7,1143.3 1129.1,1143.3 1129.4,1155.4 1129.8,1144.6 1130.2,1146.7 1130.6,1143.6 1130.9,1144.7 1131.4,1151.9 1131.7,1160.8 1132.0,1150.6 1132.5,1143.9 1132.8,1147.0 1133.1,1137.7 1133.6,1140.4 1133.9,1145.5 1134.3,1127.3 1134.7,1141.5 1135.1,1147.9 1135.4,1146.5 1135.8,1135.1 1136.2,1132.7 1136.5,1135.5 1137.0,1136.0 1137.3,1142.6 1137.6,1140.5 1138.1,1125.2 1138.4,1127.3 1138.7,1138.8 1139.2,1135.3 1139.5,1126.3 1139.9,1137.7 1140.3,1119.9 1140.7,1118.8 1141.0,1126.1 1141.4,1138.2 1141.8,1128.6 1142.1,1134.0 1142.6,1132.2 1142.9,1135.0 1143.2,1118.8 1143.7,1125.7 1144.0,1129.8 1144.4,1132.9 1144.8,1136.1 1145.1,1129.4 1145.5,1127.1 1145.9,1122.1 1146.3,1118.8 1146.6,1124.7 1147.0,1134.1 1147.4,1141.0 1147.7,1141.7 1148.2,1139.9 1148.5,1152.6 1148.8,1139.6 1149.3,1148.3 1149.6,1131.4 1150.0,1136.5 1150.4,1131.4 1150.7,1137.2 1151.1,1143.6 1151.5,1153.1 1151.9,1148.7 1152.2,1142.0 1152.6,1142.5 1153.0,1150.8 1153.3,1150.1 1153.8,1140.3 1154.1,1131.4 1154.4,1131.4 1154.9,1131.4 1155.2,1132.1 1155.6,1131.4 1156.0,1143.8 1156.3,1144.7 1156.7,1146.9 1157.1,1131.4 1157.5,1131.4 1157.8,1138.5 1158.3,1142.9 1158.6,1144.7 1158.9,1135.6 1159.4,1143.3 1159.7,1143.7 1160.0,1159.9 1160.5,1136.0 1160.8,1142.6 1161.2,1140.2 1161.6,1133.3 1161.9,1138.7 1162.3,1131.4 1162.7,1137.5 1163.1,1131.9 1163.4,1151.0 1163.9,1143.5 1164.2,1135.4 1164.5,1143.4 1165.0,1138.9 1165.3,1138.0 1165.6,1145.4 1166.1,1145.3 1166.4,1148.9 1166.8,1145.4 1167.2,1141.4 1167.6,1139.9 1167.9,1147.5 1168.3,1132.1 1168.7,1133.6 1169.0,1136.6 1169.5,1149.2 1169.8,1150.9 1170.1,1148.4 1170.6,1142.0 1170.9,1139.6 1171.3,1154.6 1171.7,1146.3 1172.0,1134.1 1172.4,1131.4 1172.8,1138.2 1173.2,1138.9 1173.5,1142.4 1173.9,1143.5 1174.3,1144.6 1174.6,1131.4 1175.1,1131.4 1175.4,1131.4 1175.7,1131.4 1176.2,1131.4 1176.5,1131.4 1176.9,1134.2 1177.3,1145.0 1177.6,1131.4 1178.0,1141.7 1178.4,1138.6 1178.8,1131.4 1179.1,1139.4 1179.5,1143.3 1179.9,1143.9 1180.2,1144.7 1180.7,1145.2 1181.0,1146.8 1181.3,1129.5 1181.8,1126.5 1182.1,1120.4 1182.5,1133.5 1182.9,1128.3 1183.2,1111.4 1183.6,1117.8 1184.0,1104.3 1184.4,1109.6 1184.7,1124.3 1185.2,1112.3 1185.5,1124.9 1185.8,1102.4 1186.3,1114.0 1186.6,1130.9 1186.9,1118.6 1187.4,1124.3 1187.7,1114.1 1188.1,1101.9 1188.5,1159.0 1188.8,1144.0 1189.2,1136.0 1189.6,1151.0 1190.0,1146.2 1190.3,1133.3 1190.8,1127.2 1191.1,1138.9 1191.4,1135.8 1191.9,1143.5 1192.2,1144.0 1192.5,1145.7 1193.0,1143.3 1193.3,1143.6 1193.7,1143.6 1194.1,1147.1 1194.5,1151.1 1194.8,1158.0 1195.2,1142.3 1195.6,1143.4 1195.9,1148.0 1196.4,1147.6 1196.7,1135.6 1197.0,1151.0 1197.5,1145.0 1197.8,1135.6 1198.2,1147.3 1198.6,1138.5 1198.9,1144.4 1199.3,1151.7 1199.7,1160.1 1200.1,1157.6 1200.4,1161.0 1200.8,1152.0 1201.2,1159.4 1201.5,1150.6 1202.0,1149.3 1202.3,1150.6 1202.6,1141.2 1203.1,1143.6 1203.4,1149.0 1203.8,1145.6 1204.2,1150.8 1204.5,1148.2 1204.9,1147.1 1205.3,1144.9 1205.7,1145.3 1206.0,1127.5 1206.4,1145.8 1206.8,1133.8 1207.1,1136.0 1207.6,1118.8 1207.9,1130.3 1208.2,1142.6 1208.7,1128.6 1209.0,1133.9 1209.4,1130.0 1209.8,1114.3 1210.1,1106.4 1210.5,1120.0 1210.9,1092.4 1211.3,1101.5 1211.6,1108.5 1212.0,1100.0 1212.4,1092.3 1212.7,1108.3 1213.2,1088.5 1213.5,1077.4 1213.8,1080.9 1214.3,1041.6 1214.6,1067.5 1215.0,1050.7 1215.4,1041.6 1215.7,1050.4 1216.1,1051.4 1216.5,1033.5 1216.9,1039.1 1217.2,1068.8 1217.7,1036.7 1218.0,1025.9 1218.3,1019.0 1218.2,948.6 1218.6,958.5 1218.9,956.9 1218.8,960.9 1219.1,1006.3 1219.4,995.6 1219.9,1041.5 1220.2,1053.8 1220.6,1058.9 1220.5,1049.5 1220.8,1048.2 1221.1,1065.0 1221.0,1055.5 1221.4,1055.5 1221.7,1077.5 1222.1,1068.7 1222.5,1079.5 1222.8,1066.4 1223.3,1055.5 1223.6,1056.2 1223.9,1055.5 1224.4,1100.9 1224.7,1070.1 1225.1,1071.5 1225.5,1076.3 1225.8,1094.1 1226.2,1097.6 1226.6,1076.3 1227.0,1076.3 1227.3,1076.3 1227.7,1076.3 1228.1,1106.1 1228.4,1084.0 1228.9,1097.3 1229.2,1076.3 1229.5,1080.7 1230.0,1077.4 1230.3,1096.9 1230.7,1090.5 1231.1,1086.0 1231.4,1063.9 1231.8,1081.6 1232.2,1073.4 1232.6,1055.5 1232.9,1055.5 1233.3,1049.0 1233.7,1070.6 1234.0,1048.2 1234.5,1068.9 1234.8,1065.2 1235.1,1079.6 1235.6,1026.2 1235.9,1035.7 1236.3,1039.0 1236.7,1034.6 1237.0,1064.7 1237.4,1057.0 1237.8,1034.6 1238.2,1083.6 1238.5,1066.5 1238.9,1094.7 1239.3,1077.7 1239.6,1077.4 1240.1,1088.8 1240.4,1099.2 1240.7,1083.3 1241.2,1083.3 1241.5,1098.6 1241.9,1083.3 1242.3,1110.3 1242.6,1106.2 1243.0,1100.2 1243.4,1106.7 1243.8,1108.1 1244.1,1117.8 1244.6,1103.2 1244.9,1093.5 1245.2,1093.5 1245.7,1093.5 1246.0,1093.5 1246.3,1095.3 1246.8,1098.4 1247.1,1113.2 1247.5,1096.9 1247.9,1100.1 1248.3,1102.8 1248.6,1121.4 1249.0,1128.6 1249.4,1140.4 1249.7,1140.2 1250.2,1130.7 1250.5,1132.0 1250.8,1136.7 1251.3,1135.4 1251.6,1133.6 1252.0,1144.4 1252.4,1144.3 1252.7,1138.0 1253.1,1146.9 1253.5,1148.6 1253.9,1148.2 1254.2,1146.9 1254.6,1122.5 1255.0,1146.4 1255.3,1149.5 1255.8,1135.1 1256.1,1138.2 1256.4,1141.2 1256.9,1127.6 1257.2,1132.6 1257.6,1138.0 1258.0,1137.1 1258.3,1127.7 1258.7,1122.6 1259.1,1128.5 1259.5,1134.3 1259.8,1134.2 1260.2,1134.3 1260.6,1128.6 1260.9,1131.4 1261.4,1109.6 1261.7,1111.8 1262.0,1102.2 1262.5,1107.6 1262.8,1114.9 1263.2,1086.7 1263.6,1102.7 1263.9,1112.7 1264.3,1119.0 1264.7,1072.7 1265.1,1069.4 1265.4,1071.7 1265.8,1062.8 1266.2,1070.3 1266.5,1077.0 1267.0,1056.8 1267.3,1082.8 1267.6,1060.0 1268.1,1052.7 1268.4,1041.6 1268.8,1063.8 1269.2,1033.5 1269.5,1054.9 1269.9,1073.6 1270.3,1028.8 1270.7,1019.6 1271.0,1026.8 1271.5,987.4 1271.8,1011.1 1272.1,1032.8 1272.6,976.5 1272.9,1005.8 1273.2,1002.3 1273.7,987.4 1274.0,1012.6 1274.4,1036.8 1274.8,1032.1 1275.2,1057.8 1275.5,1058.8 1275.9,1054.0 1276.3,1065.2 1276.6,1048.2 1277.1,1055.5 1277.4,1055.5 1277.7,1082.6 1278.2,1055.5 1278.5,1055.5 1278.8,1091.4 1279.3,1064.9 1279.6,1064.5 1280.0,1055.5 1280.4,1062.8 1280.8,1075.3 1281.1,1082.9 1281.5,1070.2 1281.9,1083.1 1282.2,1092.3 1282.7,1069.4 1283.0,1078.4 1283.3,1069.4 1283.8,1077.9 1284.1,1082.9 1284.5,1091.6 1284.9,1095.7 1285.2,1099.4 1285.6,1102.6 1286.0,1117.4 1286.4,1096.6 1286.7,1108.1 1287.1,1086.1 1287.5,1076.7 1287.8,1083.4 1288.3,1104.5 1288.6,1076.7 1288.9,1078.4 1289.4,1113.3 1289.7,1095.8 1290.1,1092.1 1290.5,1086.8 1290.8,1076.3 1291.2,1085.4 1291.6,1107.6 1292.0,1078.0 1292.3,1106.8 1292.7,1100.9 1293.1,1079.6 1293.4,1076.3 1293.9,1081.1 1294.2,1082.8 1294.5,1070.1 1295.0,1091.2 1295.3,1055.5 1295.7,1060.3 1296.1,1055.5 1296.4,1055.5 1296.8,1075.1 1297.2,1055.5 1297.6,1061.7 1297.9,1064.4 1298.4,1055.5 1298.7,1069.9 1299.0,1055.5 1299.5,1048.2 1299.8,1058.8 1300.1,1056.3 1300.6,1052.1 1300.9,1044.8 1301.3,1050.1 1301.7,1029.9 1302.0,1030.3 1302.4,1025.8 1302.8,1056.3 1303.2,1009.0 1303.5,1038.2 1304.0,1010.2 1304.3,1006.8 1304.6,1010.1 1305.1,1032.4 1305.4,996.9 1305.7,1024.6 1306.2,972.1 1306.5,999.8 1306.9,972.1 1307.3,972.1 1307.7,972.1 1308.0,982.6 1308.4,970.4 1308.8,960.4 1309.1,1054.3 1309.6,924.1 1309.9,924.1 1310.2,924.1 1310.7,927.8 1311.0,930.4 1311.4,909.9 1311.8,985.9 1312.1,955.0 1312.5,936.9 1312.9,975.0 1313.3,998.0 1313.6,1008.8 1314.0,986.0 1314.4,1016.9 1314.7,1035.1 1315.2,986.0 1315.5,1013.1 1315.8,1026.8 1316.3,1014.9 1316.6,1017.5 1317.0,1011.6 1317.4,1031.5 1317.7,1020.7 1318.1,1020.7 1318.5,1043.4 1318.9,1025.7 1319.2,1038.8 1319.6,1020.7 1320.0,1051.4 1320.3,1054.8 1320.8,1040.5 1321.1,1038.9 1321.4,1050.8 1321.9,1062.8 1322.2,1070.4 1322.6,1063.1 1323.0,1075.0 1323.3,1069.4 1323.7,1078.2 1324.1,1069.4 1324.5,1076.4 1324.8,1080.5 1325.3,1118.2 1325.6,1069.4 1325.9,1082.9 1326.4,1089.4 1326.7,1069.4 1327.0,1069.4 1327.5,1104.2 1327.8,1099.4 1328.2,1108.9 1328.6,1111.0 1328.9,1090.0 1329.3,1104.4 1329.7,1086.4 1330.1,1120.8 1330.4,1085.8 1330.9,1117.1 1331.2,1138.6 1331.5,1129.5 1332.0,1129.4 1332.3,1107.7 1332.6,1102.3 1333.1,1129.1 1333.4,1128.6 1333.8,1138.2 1334.2,1133.5 1334.6,1130.7 1334.9,1133.7 1335.3,1142.3 1335.7,1131.1 1336.0,1142.4 1336.5,1147.1 1336.8,1138.8 1337.1,1127.0 1337.6,1144.0 1337.9,1136.4 1338.3,1142.0 1338.7,1150.0 1339.0,1141.3 1339.4,1155.4 1339.8,1145.2 1340.2,1147.4 1340.5,1153.5 1340.9,1150.6 1341.3,1151.0 1341.6,1152.8 1342.1,1143.2 1342.4,1143.8 1342.7,1144.5 1343.2,1148.7 1343.5,1149.4 1343.9,1142.4 1344.3,1150.4 1344.6,1156.1 1345.0,1148.6 1345.4,1135.2 1345.8,1136.7 1346.1,1142.3 1346.5,1127.2 1346.9,1138.6 1347.2,1127.2 1347.7,1148.6 1348.0,1140.2 1348.3,1136.0 1348.8,1132.3 1349.1,1137.5 1349.5,1124.5 1349.9,1136.6 1350.2,1136.9 1350.6,1136.7 1351.0,1110.4 1351.4,1124.1 1351.7,1110.5 1352.1,1123.2 1352.5,1126.4 1352.8,1121.3 1353.3,1114.5 1353.6,1110.4 1353.9,1136.8 1354.4,1126.1 1354.7,1113.1 1355.1,1129.5 1355.5,1117.1 1355.8,1126.8 1356.2,1115.6 1356.6,1134.8 1357.0,1133.2 1357.3,1115.1 1357.8,1139.2 1358.1,1116.1 1358.4,1137.1 1358.9,1137.0 1359.2,1144.6 1359.5,1136.0 1360.0,1148.3 1360.3,1148.8 1360.7,1126.1 1361.1,1139.2 1361.5,1142.4 1361.8,1141.7 1362.2,1123.9 1362.6,1142.7 1362.9,1126.1 1363.4,1138.1 1363.7,1137.8 1364.0,1140.9 1364.5,1127.6 1364.8,1142.5 1365.2,1129.2 1365.6,1111.8 1365.9,1121.5 1366.3,1116.0 1366.7,1121.3 1367.1,1134.5 1367.4,1125.1 1367.8,1106.8 1368.2,1121.7 1368.5,1126.1 1369.0,1115.4 1369.3,1106.3 1369.6,1109.1 1370.1,1088.6 1370.4,1070.8 1370.8,1094.8 1371.2,1106.6 1371.5,1126.3 1371.9,1108.8 1372.3,1085.5 1372.7,1091.9 1373.0,1081.9 1373.4,1094.9 1373.8,1095.3 1374.1,1084.7 1374.6,1075.7 1374.9,1041.6 1375.2,1041.6 1375.7,1042.9 1376.0,1083.1 1376.4,1060.4 1376.8,1041.6 1377.1,1065.0 1377.5,1041.6 1377.9,1050.0 1378.3,1038.3 1378.6,1033.5 1379.0,1006.6 1379.4,987.3 1379.7,1024.6 1380.2,924.1 1380.5,924.1 1380.8,947.3 1381.3,945.8 1381.6,911.9 1382.0,909.9 1382.4,964.4 1382.7,973.6 1383.1,969.9 1383.5,1068.7 1383.9,1048.2 1384.2,1053.5 1384.7,1055.5 1385.0,1104.5 1385.3,1055.5 1385.8,1055.5 1386.1,1095.2 1386.4,1068.6 1386.9,1111.6 1387.2,1100.9 1387.6,1090.1 1388.0,1084.4 1388.4,1055.5 1388.7,1090.9 1389.1,1104.4 1389.5,1099.4 1389.8,1099.8 1390.3,1095.2 1390.6,1093.0 1390.9,1090.9 1391.4,1088.1 1391.7,1079.9 1392.1,1081.6 1392.5,1096.1 1392.8,1104.4 1393.2,1102.6 1393.6,1074.7 1394.0,1087.5 1394.3,1068.3 1394.7,1084.7 1395.1,1097.3 1395.4,1100.9 1395.9,1069.4 1396.2,1084.9 1396.5,1094.0 1397.0,1089.1 1397.3,1099.4 1397.7,1093.6 1398.1,1089.9 1398.4,1072.6 1398.8,1104.7 1399.2,1076.3 1399.6,1062.8 1399.9,1074.2 1400.3,1016.4 1400.7,1045.3 1401.0,1016.1 1401.5,1036.5 1401.8,1027.4 1402.1,1012.4 1402.6,1009.2 1402.9,1002.8 1403.3,1024.2 1403.7,1048.0 1404.0,1031.1 1404.4,1012.4 1404.8,1103.0 1405.2,1092.1 1405.5,1095.1 1405.9,1123.0 1406.3,1129.2 1406.6,1115.6 1407.1,1115.6 1407.4,1120.1 1407.7,1105.9 1408.2,1127.8 1408.5,1123.5 1408.9,1129.7 1409.3,1142.4 1409.6,1136.0 1410.0,1136.6 1410.4,1137.8 1410.8,1149.7 1411.1,1141.0 1411.6,1154.2 1411.9,1151.4 1412.2,1134.0 1412.7,1150.6 1413.0,1144.5 1413.3,1152.6 1413.8,1150.8 1414.1,1154.4 1414.5,1150.6 1414.9,1140.4 1415.3,1152.6 1415.6,1134.1 1416.0,1133.1 1416.4,1147.9 1416.7,1150.2 1417.2,1130.7 1417.5,1145.7 1417.8,1127.2 1418.3,1135.3 1418.6,1155.3 1418.9,1138.6 1419.4,1144.6 1419.7,1136.0 1420.1,1139.0 1420.5,1127.1 1420.9,1120.6 1421.2,1127.6 1421.6,1127.4 1422.0,1093.5 1422.3,1109.9 1422.8,1109.4 1423.1,1110.2 1423.4,1116.2 1423.9,1097.8 1424.2,1105.1 1424.6,1096.5 1425.0,1130.7 1425.3,1109.0 1425.7,1122.7 1426.1,1122.6 1426.5,1108.9 1426.8,1106.7 1427.2,1085.5 1427.6,1100.0 1427.9,1083.3 1428.4,1088.1 1428.7,1089.4 1429.0,1083.3 1429.5,1105.5 1429.8,1119.6 1430.2,1098.2 1430.6,1114.7 1430.9,1083.0 1431.3,1077.4 1431.7,1041.6 1432.1,1041.6 1432.4,1041.6 1432.8,1041.6 1433.2,1047.3 1433.5,1069.0 1434.0,1052.3 1434.3,1033.5 1434.6,1046.4 1435.1,1041.6 1435.4,1041.6 1435.8,1041.6 1436.2,1093.7 1436.5,1077.4 1436.9,1096.3 1437.3,1085.4 1437.7,1083.3 1438.0,1083.3 1438.5,1095.9 1438.8,1084.7 1439.1,1113.0 1439.6,1119.4 1439.9,1100.8 1440.2,1109.7 1440.7,1118.3 1441.0,1119.4 1441.4,1119.2 1441.8,1121.5 1442.1,1124.9 1442.5,1121.3 1442.9,1122.1 1443.3,1127.2 1443.6,1119.1 1444.1,1133.0 1444.4,1123.6 1444.7,1138.2 1445.2,1137.6 1445.5,1138.2 1445.8,1133.3 1446.3,1132.9 1446.6,1145.9 1447.0,1137.5 1447.4,1129.9 1447.8,1133.3 1448.1,1121.9 1448.5,1135.0 1448.9,1136.4 1449.2,1151.0 1449.7,1143.3 1450.0,1144.6 1450.3,1148.7 1450.8,1151.2 1451.1,1144.1 1451.5,1145.7 1451.9,1135.8 1452.2,1137.5 1452.6,1144.2 1453.0,1135.8 1453.4,1149.9 1453.7,1149.2 1454.1,1123.7 1454.5,1125.6 1454.8,1128.2 1455.3,1130.2 1455.6,1144.6 1455.9,1131.7 1456.4,1131.0 1456.7,1130.1 1457.1,1128.7 1457.5,1140.0 1457.8,1141.8 1458.2,1128.6 1458.6,1134.9 1459.0,1130.5 1459.3,1135.5 1459.7,1117.0 1460.1,1134.5 1460.4,1125.8 1460.9,1130.6 1461.2,1128.9 1461.5,1135.8 1462.0,1101.9 1462.3,1118.9 1462.7,1127.9 1463.1,1122.4 1463.4,1122.7 1463.8,1128.3 1464.2,1128.4 1464.6,1112.6 1464.9,1118.4 1465.4,1112.2 1465.7,1109.6 1466.0,1126.6 1465.9,1128.2 1466.2,1114.0 1466.6,1118.4 1466.5,1111.0 1466.8,1139.5 1467.1,1112.8 1467.6,1113.7 1467.9,1101.9 1468.3,1127.9 1468.7,1121.3 1469.0,1130.2 1469.4,1113.6 1469.8,1138.0 1470.2,1129.1 1470.5,1124.0 1471.0,1134.9 1471.3,1135.3 1471.6,1135.3 1472.1,1128.6 1472.4,1118.8 1472.7,1128.2 1473.2,1131.4 1473.5,1128.6 1473.9,1133.8 1474.3,1132.0 1474.7,1136.6 1475.0,1130.3 1475.4,1142.2 1475.8,1140.9 1476.1,1139.2 1476.6,1137.4 1476.9,1132.0 1477.2,1120.0 1477.7,1118.8 1478.0,1125.0 1478.4,1134.3 1478.8,1141.0 1479.1,1125.2 1479.5,1137.1 1479.9,1127.8 1480.3,1126.8 1480.6,1141.9 1481.0,1149.9 1481.4,1144.7 1481.7,1137.7 1482.2,1118.8 1482.5,1130.1 1482.8,1131.8 1483.3,1151.9 1483.6,1149.0 1484.0,1133.6 1484.4,1157.6 1484.7,1145.6 1485.1,1143.3 1485.5,1137.7 1485.9,1145.9 1486.2,1135.6 1486.6,1135.6 1487.0,1142.2 1487.3,1148.4 1487.8,1135.6 1488.1,1139.8 1488.4,1145.2 1488.9,1149.6 1489.2,1142.6 1489.6,1160.1 1490.0,1155.6 1490.3,1143.7 1490.7,1144.4 1491.1,1147.4 1491.5,1149.1 1491.8,1142.1 1492.2,1145.5 1492.6,1151.3 1492.9,1150.4 1493.4,1160.4 1493.7,1150.8 1494.0,1158.9 1494.5,1140.5 1494.8,1157.4 1495.2,1156.4 1495.6,1137.1 1495.9,1154.4 1496.3,1157.5 1496.7,1151.1 1497.1,1148.6 1497.4,1151.5 1497.9,1154.3 1498.2,1155.7 1498.5,1159.1 1499.0,1158.1 1499.3,1158.8 1499.6,1161.0 1500.1,1137.3 1500.4,1152.9 1500.8,1149.6 1501.2,1151.1 1501.6,1156.5 1501.9,1155.5 1502.3,1147.7 1502.7,1142.0 1503.0,1143.5 1503.5,1151.1 1503.8,1153.6 1504.1,1150.4 1504.6,1144.6 1504.9,1143.3 1505.3,1146.0 1505.7,1147.4 1506.0,1141.4 1506.4,1147.6 1506.8,1129.5 1507.2,1138.9 1507.5,1118.8 1507.9,1135.2 1508.3,1123.4 1508.6,1131.7 1509.1,1131.1 1509.4,1129.0 1509.7,1130.6 1510.2,1138.2 1510.5,1134.5 1510.9,1128.6 1511.3,1118.8 1511.6,1132.1 1512.0,1121.3 1512.4,1136.9 1512.8,1132.4 1513.1,1122.4 1513.5,1144.4 1513.9,1136.0 1514.2,1146.7 1514.7,1127.2 1515.0,1133.3 1515.3,1127.2 1515.8,1138.1 1516.1,1146.6 1516.5,1152.3 1516.9,1142.8 1517.2,1141.0 1517.6,1143.9 1518.0,1138.9 1518.4,1146.4 1518.7,1150.0 1519.1,1147.6 1519.5,1141.2 1519.8,1144.6 1520.3,1149.9 1520.6,1151.5 1520.9,1146.7 1521.4,1140.3 1521.7,1146.7 1522.1,1146.7 1522.5,1155.0 1522.8,1147.5 1523.2,1151.9 1523.6,1150.6 1524.0,1153.0 1524.3,1153.0 1524.8,1157.5 1525.1,1151.6 1525.4,1158.8 1525.9,1149.6 1526.2,1150.0 1526.5,1143.5 1527.0,1141.1 1527.3,1153.9 1527.7,1142.7 1528.1,1137.5 1528.5,1151.1 1528.8,1139.2 1529.2,1144.6 1529.6,1135.6 1529.9,1149.7 1530.4,1144.5 1530.7,1146.2 1531.0,1139.1 1531.5,1146.4 1531.8,1143.3 1532.2,1147.2 1532.6,1145.5 1532.9,1151.1 1533.3,1142.3 1533.7,1127.1 1534.1,1127.3 1534.4,1139.6 1534.8,1122.0 1535.2,1135.0 1535.5,1141.7 1536.0,1128.5 1536.3,1128.8 1536.6,1124.7 1537.1,1110.4 1537.4,1123.9 1537.8,1119.5 1538.2,1121.3 1538.5,1130.3 1538.9,1138.9 1539.3,1093.5 1539.7,1115.4 1540.0,1109.8 1540.4,1108.6 1540.8,1094.2 1541.1,1093.5 1541.6,1095.6 1541.9,1100.8 1542.2,1107.3 1542.7,1106.7 1543.0,1110.6 1543.4,1121.4 1543.8,1098.7 1544.1,1096.9 1544.5,1077.7 1544.9,1087.7 1545.3,1118.4 1545.6,1088.6 1546.0,1084.0 1546.4,1085.4 1546.7,1082.6 1547.2,1077.7 1547.5,1081.0 1547.8,1093.6 1548.3,1082.2 1548.6,1101.7 1549.0,1077.7 1549.4,1071.7 1549.7,1074.1 1550.1,1071.6 1550.5,1077.7 1550.9,1100.6 1551.2,1099.0 1551.7,1077.7 1552.0,1094.3 1552.3,1077.7 1552.8,1086.0 1553.1,1094.8 1553.4,1089.7 1553.9,1101.9 1554.2,1105.4 1554.6,1104.4 1555.0,1081.5 1555.4,1099.0 1555.7,1078.9 1556.1,1102.5 1556.5,1086.6 1556.8,1077.7 1557.3,1111.9 1557.6,1090.3 1557.9,1106.5 1558.4,1106.7 1558.7,1113.2 1559.0,1120.2 1559.5,1102.6 1559.8,1093.5 1560.2,1121.0 1560.6,1114.4 1561.0,1118.2 1561.3,1118.6 1561.7,1132.0 1562.1,1127.0 1562.4,1132.0 1562.9,1103.2 1563.2,1119.9 1563.5,1099.9 1564.0,1104.4 1564.3,1117.4 1564.7,1107.9 1565.1,1127.3 1565.4,1144.3 1565.8,1128.5 1566.2,1128.6 1566.6,1135.3 1566.9,1132.9 1567.3,1130.9 1567.7,1140.8 1568.0,1125.3 1568.5,1131.1 1568.8,1125.9 1569.1,1132.2 1569.6,1143.8 1569.9,1149.9 1570.3,1135.4 1570.7,1137.6 1571.0,1134.7 1571.4,1140.0 1571.8,1143.9 1572.2,1133.1 1572.5,1151.4 1572.9,1118.8 1573.3,1138.4 1573.6,1134.9 1574.1,1143.3 1574.4,1143.7 1574.7,1153.2 1575.2,1154.4 1575.5,1141.1 1575.9,1147.8 1576.3,1149.2 1576.6,1146.7 1577.0,1127.4 1577.4,1126.6 1577.8,1141.2 1578.1,1155.3 1578.6,1136.1 1578.9,1130.7 1579.2,1147.6 1579.7,1120.5 1580.0,1135.1 1580.3,1132.7 1580.8,1134.0 1581.1,1135.9 1581.5,1125.3 1581.9,1130.3 1582.2,1130.9 1582.6,1147.1 1583.0,1128.6 1583.4,1134.8 1583.7,1133.5 1584.2,1124.8 1584.5,1105.7 1584.8,1123.0 1585.3,1095.7 1585.6,1083.5 1585.9,1116.2 1586.4,1114.1 1586.7,1107.3 1587.1,1092.6 1587.5,1101.5 1587.9,1091.6 1588.2,1078.0 1588.6,1079.7 1589.0,1073.6 1589.3,1076.7 1589.8,1072.7 1590.1,1092.1 1590.4,1062.8 1590.9,1067.4 1591.2,1077.1 1591.6,1038.6 1592.0,1013.7 1592.3,1013.8 1592.7,1019.3 1593.1,994.7 1593.5,1045.5 1593.8,999.9 1594.2,1004.7 1594.6,1014.3 1594.9,1004.7 1595.4,1043.1 1595.7,1033.1 1596.0,1090.3 1596.5,1070.6 1596.8,1048.2 1597.2,1067.9 1597.6,1070.9 1597.9,1094.7 1598.3,1055.5 1598.7,1065.4 1599.1,1055.5 1599.4,1059.7 1599.8,1055.5 1600.2,1083.8 1600.5,1055.5 1601.0,1055.5 1601.3,1077.0 1601.6,1086.1 1602.1,1087.2 1602.4,1077.4 1602.8,1092.8 1603.2,1086.8 1603.5,1083.3 1603.9,1083.3 1604.3,1099.1 1604.7,1083.3 1605.0,1104.3 1605.5,1083.3 1605.8,1098.3 1606.1,1104.4 1606.6,1089.1 1606.9,1083.3 1607.2,1100.8 1607.7,1083.3 1608.0,1105.8 1608.4,1092.9 1608.8,1095.5 1609.1,1091.5 1609.5,1083.3 1609.9,1084.7 1610.3,1093.6 1610.6,1108.7 1611.1,1072.2 1611.4,1070.0 1611.7,1062.4 1612.2,1090.3 1612.5,1084.1 1612.8,1082.8 1613.3,1062.4 1613.6,1062.4 1614.0,1063.7 1614.4,1067.8 1614.8,1062.4 1615.1,1080.0 1615.5,1062.4 1615.9,1066.5 1616.2,1092.5 1616.7,1069.8 1617.0,1068.5 1617.3,1055.5 1617.8,1038.1 1618.1,1027.7 1618.5,1047.2 1618.9,1027.7 1619.2,1046.8 1619.6,1041.4 1620.0,1027.7 1620.4,1032.0 1620.7,1027.7 1621.1,1046.7 1621.5,1027.7 1621.8,1038.8 1622.3,1034.6 1622.6,1018.9 1622.9,1024.1 1623.4,1013.8 1623.7,1045.1 1624.1,1013.8 1624.5,1013.8 1624.8,1026.0 1625.2,1013.8 1625.6,1040.8 1626.0,1011.1 1626.3,1004.3 1626.7,1013.8 1627.1,1014.6 1627.4,1001.9 1627.9,995.1 1628.2,969.0 1628.5,971.3 1629.0,950.8 1629.3,969.7 1629.7,980.4 1630.1,1000.3 1630.4,997.2 1630.8,963.0 1631.2,1005.8 1631.6,963.0 1631.9,963.0 1632.3,1025.7 1632.7,1004.3 1633.0,1011.7 1633.5,1038.2 1633.8,1013.8 1634.1,1013.8 1634.6,1050.8 1634.9,1039.5 1635.3,1018.3 1635.7,1063.9 1636.0,1048.0 1636.4,1013.8 1636.8,1015.2 1637.2,1053.9 1637.5,1052.1 1638.0,1034.1 1638.3,1041.4 1638.6,1024.2 1639.1,1037.4 1639.4,1024.2 1639.7,1024.2 1640.2,1024.2 1640.5,1026.9 1640.9,1024.2 1641.3,1045.4 1641.7,1026.9 1642.0,1024.2 1642.4,1027.8 1642.8,1024.2 1643.1,1034.2 1643.6,1057.2 1643.9,1027.0 1644.2,1026.2 1644.7,1034.6 1645.0,1034.6 1645.4,1037.3 1645.8,1061.4 1646.1,1058.2 1646.5,1034.6 1646.9,1069.2 1647.3,1057.9 1647.6,1062.1 1648.0,1038.6 1648.4,1034.6 1648.7,1040.9 1649.2,1034.6 1649.5,1038.1 1649.8,1036.5 1650.3,1048.2 1650.6,1048.5 1651.0,1050.9 1651.4,1055.5 1651.7,1056.2 1652.1,1055.5 1652.5,1057.8 1652.9,1055.5 1653.2,1055.5 1653.6,1055.5 1654.0,1073.6 1654.3,1055.5 1654.8,1062.6 1655.1,1082.8 1655.4,1091.7 1655.9,1097.4 1656.2,1077.4 1656.6,1098.3 1657.0,1083.3 1657.3,1098.5 1657.7,1086.0 1658.1,1083.3 1658.5,1107.8 1658.8,1111.8 1659.2,1092.0 1659.6,1083.3 1659.9,1087.8 1660.4,1103.2 1660.7,1115.8 1661.0,1089.1 1661.5,1124.6 1661.8,1113.6 1662.2,1099.4 1662.6,1111.4 1662.9,1125.6 1663.3,1109.6 1663.7,1086.8 1664.1,1114.2 1664.4,1114.8 1664.9,1111.8 1665.2,1116.6 1665.5,1122.7 1666.0,1114.0 1666.3,1120.2 1666.6,1123.2 1667.1,1107.6 1667.4,1101.9 1667.8,1124.3 1668.2,1125.2 1668.6,1137.0 1668.9,1126.1 1669.3,1109.2 1669.7,1105.3 1670.0,1106.3 1670.5,1131.5 1670.8,1121.3 1671.1,1123.0 1671.6,1110.4 1671.9,1126.2 1672.3,1123.3 1672.7,1120.7 1673.0,1131.2 1673.4,1110.4 1673.8,1128.9 1674.2,1139.8 1674.5,1128.6 1674.9,1133.8 1675.3,1127.6 1675.6,1128.9 1676.1,1121.0 1676.4,1106.7 1676.7,1130.2 1677.2,1107.8 1677.5,1104.1 1677.9,1108.9 1678.3,1123.6 1678.6,1108.2 1679.0,1117.3 1679.4,1102.3 1679.8,1129.6 1680.1,1124.8 1680.5,1114.0 1680.9,1132.6 1681.2,1125.2 1681.7,1119.7 1682.0,1117.6 1682.3,1106.6 1682.8,1093.5 1683.1,1109.6 1683.5,1099.7 1683.9,1101.0 1684.2,1093.5 1684.6,1113.8 1685.0,1121.6 1685.4,1115.6 1685.7,1120.8 1686.1,1128.3 1686.5,1118.4 1686.8,1106.7 1687.3,1097.5 1687.6,1104.1 1687.9,1103.3 1688.4,1093.4 1688.7,1088.1 1689.1,1085.1 1689.5,1128.1 1689.8,1111.4 1690.2,1085.1 1690.6,1110.7 1691.0,1100.6 1691.3,1099.4 1691.8,1083.3 1692.1,1083.3 1692.4,1083.3 1692.9,1094.5 1693.2,1083.3 1693.5,1093.4 1694.0,1104.6 1694.3,1105.3 1694.7,1099.5 1695.1,1077.4 1695.5,1079.7 1695.8,1100.5 1696.2,1056.9 1696.6,1056.9 1696.9,1062.4 1697.4,1056.9 1697.7,1067.6 1698.0,1088.2 1698.5,1052.2 1698.8,1058.6 1699.1,1049.6 1699.6,1009.2 1699.9,999.9 1700.3,999.9 1700.7,1039.0 1701.1,1020.8 1701.4,1011.4 1701.8,1010.0 1702.2,989.6 1702.5,1004.1 1703.0,976.5 1703.3,998.6 1703.6,1015.4 1704.1,945.7 1704.4,932.4 1704.8,927.6 1705.2,993.6 1705.5,915.2 1705.9,913.5" fill="none" stroke="#7CAE00" stroke-width="1.5" stroke-linejoin="round"/>
<polyline points="1058.5,1132.5 1058.8,1129.4 1059.2,1138.7 1059.6,1118.8 1060.0,1129.4 1060.3,1137.9 1060.7,1141.9 1061.1,1128.5 1061.4,1129.7 1061.9,1118.8 1062.2,1118.8 1062.5,1118.8 1063.0,1132.5 1063.3,1121.1 1063.7,1118.9 1064.1,1128.6 1064.4,1138.7 1064.8,1134.8 1065.2,1128.6 1065.6,1128.0 1065.9,1130.5 1066.3,1124.2 1066.7,1124.6 1067.0,1132.2 1067.5,1118.8 1067.8,1125.6 1068.1,1118.8 1068.6,1133.6 1068.9,1137.3 1069.3,1120.9 1069.7,1136.0 1070.0,1143.0 1070.4,1132.3 1070.8,1121.8 1071.2,1131.1 1071.5,1101.9 1071.9,1120.0 1072.3,1138.4 1072.6,1125.3 1073.1,1102.6 1073.4,1117.7 1073.7,1103.1 1074.2,1116.1 1074.5,1145.7 1074.9,1114.0 1075.3,1108.6 1075.6,1102.0 1076.0,1114.3 1076.4,1088.7 1076.8,1084.7 1077.1,1093.9 1077.6,1085.5 1077.9,1097.1 1078.2,1106.3 1078.7,1108.2 1079.0,1106.1 1079.3,1102.7 1079.8,1111.1 1080.1,1127.3 1080.5,1127.1 1080.9,1125.1 1081.3,1122.3 1081.6,1121.3 1082.0,1128.6 1082.4,1140.0 1082.7,1138.0 1083.2,1135.6 1083.5,1139.3 1083.8,1135.5 1084.3,1121.9 1084.6,1132.0 1085.0,1137.8 1085.4,1147.9 1085.7,1140.5 1086.1,1147.1 1086.5,1143.3 1086.9,1146.6 1087.2,1146.1 1087.6,1154.0 1088.0,1156.2 1088.3,1146.9 1088.8,1137.9 1089.1,1143.6 1089.4,1139.2 1089.9,1145.5 1090.2,1141.8 1090.6,1148.2 1091.0,1153.4 1091.3,1150.6 1091.7,1152.6 1092.1,1152.8 1092.5,1150.8 1092.8,1147.0 1093.2,1147.4 1093.6,1135.6 1093.9,1149.8 1094.4,1153.0 1094.7,1146.9 1095.0,1149.3 1095.5,1143.7 1095.8,1143.8 1096.2,1155.4 1096.6,1145.2 1096.9,1151.6 1097.3,1145.5 1097.7,1150.4 1098.1,1143.3 1098.4,1147.8 1098.8,1130.6 1099.2,1121.3 1099.5,1131.0 1100.0,1134.2 1100.3,1122.6 1100.6,1120.8 1101.1,1109.9 1101.4,1109.4 1101.8,1101.8 1102.2,1110.6 1102.5,1115.1 1102.9,1113.3 1103.3,1121.9 1103.7,1106.7 1104.0,1137.3 1104.5,1064.5 1104.8,1066.8 1105.1,1080.1 1105.6,1056.0 1105.9,1052.6 1106.2,1020.7 1106.7,1011.6 1107.0,1023.5 1107.4,1026.2 1107.8,958.9 1108.2,975.0 1108.5,973.2 1108.9,992.1 1109.3,938.4 1109.6,938.4 1110.1,916.5 1110.4,938.2 1110.7,948.6 1111.2,937.2 1111.5,921.2 1111.9,901.8 1112.3,883.5 1112.6,970.0 1113.0,922.0 1113.4,952.6 1113.8,938.1 1114.1,905.5 1114.5,949.1 1114.9,958.5 1115.2,938.4 1115.7,1010.1 1116.0,951.2 1116.3,997.0 1116.8,1072.0 1117.1,1033.5 1117.5,1065.5 1117.9,1077.0 1118.2,1050.6 1118.6,1049.5 1119.0,1093.2 1119.4,1080.6 1119.7,1090.8 1120.1,1106.7 1120.5,1134.3 1120.8,1114.4 1121.3,1103.0 1121.6,1119.4 1121.9,1114.0 1122.4,1108.6 1122.7,1108.8 1123.1,1103.6 1123.5,1128.1 1123.8,1139.2 1124.2,1129.8 1124.6,1130.8 1125.0,1133.4 1125.3,1133.2 1125.7,1138.7 1126.1,1142.9 1126.4,1136.0 1126.9,1127.2 1127.2,1134.3 1127.5,1131.6 1128.0,1146.5 1128.3,1127.2 1128.7,1145.2 1129.1,1155.9 1129.4,1150.6 1129.8,1158.6 1130.2,1148.8 1130.6,1157.3 1130.9,1151.9 1131.4,1153.4 1131.7,1155.0 1132.0,1147.8 1132.5,1138.7 1132.8,1121.8 1133.1,1139.0 1133.6,1130.5 1133.9,1134.8 1134.3,1143.4 1134.7,1131.4 1135.1,1138.5 1135.4,1138.5 1135.8,1128.5 1136.2,1123.5 1136.5,1114.9 1137.0,1125.5 1137.3,1132.4 1137.6,1121.3 1138.1,1087.5 1138.4,1115.4 1138.7,1120.8 1139.2,1125.2 1139.5,1118.1 1139.9,1129.6 1140.3,1089.6 1140.7,1110.5 1141.0,1104.8 1141.4,1097.9 1141.8,1106.7 1142.1,1108.7 1142.6,1089.1 1142.9,1104.0 1143.2,1090.7 1143.7,1117.3 1144.0,1119.5 1144.4,1117.1 1144.8,1097.2 1145.1,1117.9 1145.5,1128.9 1145.9,1121.3 1146.3,1123.2 1146.6,1130.9 1147.0,1134.9 1147.4,1141.4 1147.7,1139.3 1148.2,1124.6 1148.5,1131.1 1148.8,1131.7 1149.3,1138.7 1149.6,1138.8 1150.0,1141.0 1150.4,1120.2 1150.7,1126.4 1151.1,1137.1 1151.5,1124.8 1151.9,1124.5 1152.2,1119.8 1152.6,1143.4 1153.0,1125.4 1153.3,1125.7 1153.8,1136.0 1154.1,1148.0 1154.4,1150.0 1154.9,1127.8 1155.2,1127.2 1155.6,1132.0 1156.0,1128.3 1156.3,1138.6 1156.7,1155.0 1157.1,1148.2 1157.5,1144.3 1157.8,1143.5 1158.3,1127.2 1158.6,1149.3 1158.9,1136.9 1159.4,1153.7 1159.7,1143.0 1160.0,1146.5 1160.5,1141.7 1160.8,1133.5 1161.2,1129.5 1161.6,1146.8 1161.9,1143.3 1162.3,1143.7 1162.7,1143.7 1163.1,1140.5 1163.4,1148.7 1163.9,1135.6 1164.2,1135.6 1164.5,1139.4 1165.0,1156.5 1165.3,1144.7 1165.6,1155.7 1166.1,1141.1 1166.4,1147.1 1166.8,1141.3 1167.2,1151.4 1167.6,1146.3 1167.9,1145.7 1168.3,1150.5 1168.7,1138.5 1169.0,1136.0 1169.5,1135.6 1169.8,1146.3 1170.1,1144.0 1170.6,1147.7 1170.9,1152.2 1171.3,1146.9 1171.7,1145.8 1172.0,1141.8 1172.4,1144.9 1172.8,1138.6 1173.2,1148.0 1173.5,1152.9 1173.9,1149.5 1174.3,1144.3 1174.6,1138.3 1175.1,1141.4 1175.4,1149.9 1175.7,1142.9 1176.2,1145.0 1176.5,1136.3 1176.9,1144.5 1177.3,1145.2 1177.6,1135.6 1178.0,1147.6 1178.4,1143.1 1178.8,1152.4 1179.1,1144.3 1179.5,1143.3 1179.9,1148.0 1180.2,1151.9 1180.7,1147.9 1181.0,1136.5 1181.3,1134.5 1181.8,1118.3 1182.1,1123.6 1182.5,1125.4 1182.9,1100.8 1183.2,1117.7 1183.6,1095.0 1184.0,1099.4 1184.4,1123.7 1184.7,1104.9 1185.2,1076.8 1185.5,1069.4 1185.8,1077.4 1186.3,1062.8 1186.6,1078.1 1186.9,1066.9 1187.4,1069.4 1187.7,1080.7 1188.1,1095.3 1188.5,1108.1 1188.8,1100.5 1189.2,1118.6 1189.6,1110.7 1190.0,1107.3 1190.3,1106.7 1190.8,1111.0 1191.1,1121.3 1191.4,1110.3 1191.9,1122.8 1192.2,1124.7 1192.5,1096.6 1193.0,1134.9 1193.3,1139.9 1193.7,1119.2 1194.1,1148.9 1194.5,1143.3 1194.8,1146.8 1195.2,1137.4 1195.6,1148.6 1195.9,1146.3 1196.4,1137.3 1196.7,1139.2 1197.0,1135.6 1197.5,1152.4 1197.8,1152.6 1198.2,1150.7 1198.6,1148.1 1198.9,1142.5 1199.3,1154.4 1199.7,1150.4 1200.1,1153.9 1200.4,1149.2 1200.8,1154.3 1201.2,1158.3 1201.5,1158.4 1202.0,1146.5 1202.3,1136.2 1202.6,1139.2 1203.1,1150.7 1203.4,1132.1 1203.8,1132.4 1204.2,1154.5 1204.5,1133.2 1204.9,1139.8 1205.3,1130.5 1205.7,1136.4 1206.0,1145.8 1206.4,1132.4 1206.8,1132.6 1207.1,1133.6 1207.6,1118.8 1207.9,1126.4 1208.2,1118.8 1208.7,1135.1 1209.0,1143.1 1209.4,1128.6 1209.8,1117.9 1210.1,1140.1 1210.5,1120.2 1210.9,1097.8 1211.3,1100.7 1211.6,1110.1 1212.0,1081.4 1212.4,1114.0 1212.7,1076.7 1213.2,1111.6 1213.5,1084.7 1213.8,1094.6 1214.3,1063.4 1214.6,1073.7 1215.0,1094.3 1215.4,1055.5 1215.7,1063.3 1216.1,1055.5 1216.0,1048.2 1216.3,1058.8 1216.6,1067.5 1216.5,1050.9 1216.9,1043.7 1217.2,1043.7 1217.7,1043.7 1218.0,1068.2 1218.3,1053.4 1218.8,1043.7 1219.1,1043.7 1219.4,1043.7 1219.9,1081.6 1220.2,1064.2 1220.6,1088.8 1221.0,1035.7 1221.4,1065.2 1221.7,1048.0 1222.1,1046.1 1222.5,1089.0 1222.8,1043.7 1223.3,1054.3 1223.6,1079.6 1223.9,1073.4 1224.4,1077.4 1224.7,1089.1 1225.1,1078.4 1225.5,1109.4 1225.8,1102.3 1226.2,1083.3 1226.6,1091.4 1227.0,1101.9 1227.3,1100.1 1227.7,1083.3 1228.1,1099.8 1228.4,1091.5 1228.9,1088.9 1229.2,1088.6 1229.5,1083.3 1230.0,1106.5 1230.3,1092.1 1230.7,1121.7 1231.1,1105.0 1231.4,1100.8 1231.8,1102.8 1232.2,1092.7 1232.6,1076.7 1232.9,1103.2 1233.3,1093.4 1233.7,1114.7 1234.0,1118.3 1234.5,1093.2 1234.8,1076.7 1235.1,1080.3 1235.6,1099.4 1235.9,1119.1 1236.3,1115.6 1236.7,1127.5 1237.0,1102.7 1237.4,1098.2 1237.8,1085.1 1238.2,1086.8 1238.5,1096.2 1238.9,1115.6 1239.3,1085.1 1239.6,1118.2 1240.1,1119.0 1240.4,1120.8 1240.7,1127.3 1241.2,1104.0 1241.5,1118.3 1241.9,1112.0 1242.3,1097.7 1242.6,1103.7 1243.0,1103.3 1243.4,1121.9 1243.8,1130.1 1244.1,1121.3 1244.6,1115.9 1244.9,1117.9 1245.2,1111.6 1245.7,1133.2 1246.0,1141.9 1246.3,1133.6 1246.8,1135.5 1247.1,1142.3 1247.5,1144.2 1247.9,1137.7 1248.3,1140.5 1248.6,1125.2 1249.0,1144.6 1249.4,1140.9 1249.7,1157.4 1250.2,1147.5 1250.5,1154.7 1250.8,1152.8 1251.3,1144.5 1251.6,1141.0 1252.0,1135.0 1252.4,1155.0 1252.7,1159.1 1253.1,1160.0 1253.5,1160.4 1253.9,1152.6 1254.2,1150.6 1254.6,1135.7 1255.0,1153.4 1255.3,1149.5 1255.8,1126.5 1256.1,1144.5 1256.4,1130.8 1256.9,1122.7 1257.2,1145.3 1257.6,1137.2 1258.0,1146.4 1258.3,1134.3 1258.7,1141.3 1259.1,1126.6 1259.5,1124.6 1259.8,1129.3 1260.2,1129.2 1260.6,1148.7 1260.9,1128.6 1261.4,1137.0 1261.7,1124.0 1262.0,1118.8 1262.5,1133.5 1262.8,1128.6 1263.2,1140.6 1263.6,1113.6 1263.9,1101.7 1264.3,1116.7 1264.7,1134.8 1265.1,1102.6 1265.4,1111.5 1265.8,1111.2 1266.2,1071.5 1266.5,1079.4 1267.0,1069.4 1267.3,1069.4 1267.6,1079.0 1268.1,1067.7 1268.4,1086.3 1268.8,1062.8 1269.2,1087.0 1269.5,1075.0 1269.9,1061.5 1270.3,1038.1 1270.7,1038.1 1271.0,1038.1 1271.5,1059.0 1271.8,1046.5 1272.1,1038.1 1272.6,1066.3 1272.9,1047.7 1273.2,1029.9 1273.7,1038.1 1274.0,1038.1 1274.4,1078.6 1274.8,1060.1 1275.2,1044.2 1275.5,1061.4 1275.9,1072.1 1276.3,1054.3 1276.6,1062.3 1277.1,1089.2 1277.4,1077.4 1277.7,1093.1 1278.2,1083.3 1278.5,1086.1 1278.8,1111.0 1279.3,1094.7 1279.6,1107.2 1280.0,1083.3 1280.4,1114.4 1280.8,1112.1 1281.1,1111.8 1281.5,1115.6 1281.9,1126.2 1282.2,1117.0 1282.7,1141.5 1283.0,1126.1 1283.3,1121.3 1283.8,1110.4 1284.1,1131.2 1284.5,1118.8 1284.9,1116.7 1285.2,1118.7 1285.6,1125.7 1286.0,1120.9 1286.4,1119.9 1286.7,1123.1 1287.1,1129.4 1287.5,1134.1 1287.8,1137.9 1288.3,1115.9 1288.6,1115.8 1288.9,1102.2 1289.4,1111.8 1289.7,1117.5 1290.1,1133.2 1290.5,1106.1 1290.8,1104.8 1291.2,1115.5 1291.6,1123.5 1292.0,1128.9 1292.3,1120.8 1292.7,1085.9 1293.1,1085.1 1293.4,1104.2 1293.9,1101.4 1294.2,1099.4 1294.5,1107.0 1295.0,1093.6 1295.3,1079.4 1295.7,1073.5 1296.1,1091.2 1296.4,1085.2 1296.8,1090.7 1297.2,1077.4 1297.6,1079.9 1297.9,1069.6 1298.4,1069.4 1298.7,1098.3 1299.0,1078.6 1299.5,1078.8 1299.8,1062.8 1300.1,1072.0 1300.6,1041.6 1300.9,1063.6 1301.3,1046.6 1301.7,1081.1 1302.0,1041.6 1302.4,1069.3 1302.8,1045.2 1303.2,1041.6 1303.5,1041.6 1304.0,1064.4 1304.3,1041.6 1304.6,1041.6 1305.1,1046.7 1305.4,1033.5 1305.7,1045.7 1306.2,1018.6 1306.5,1018.6 1306.9,1018.6 1307.3,1028.7 1307.7,1018.6 1308.0,1051.6 1308.4,1030.1 1308.8,1060.1 1309.1,1020.1 1309.6,1018.6 1309.9,1033.5 1310.2,1018.6 1310.7,1040.4 1311.0,1026.4 1311.4,1009.4 1311.8,1018.6 1312.1,1050.4 1312.5,1018.6 1312.9,1018.6 1313.3,1051.2 1313.6,1037.1 1314.0,1018.6 1314.4,1046.1 1314.7,1018.6 1315.2,1036.0 1315.5,1037.8 1315.8,1035.5 1316.3,1049.5 1316.6,1048.2 1317.0,1068.2 1317.4,1069.2 1317.7,1072.2 1318.1,1055.5 1318.5,1072.4 1318.9,1055.5 1319.2,1070.5 1319.6,1055.5 1320.0,1055.5 1320.3,1062.5 1320.8,1073.3 1321.1,1055.5 1321.4,1055.5 1321.9,1077.4 1322.2,1107.2 1322.6,1084.6 1323.0,1096.0 1323.3,1108.9 1323.7,1083.3 1324.1,1098.4 1324.5,1096.7 1324.8,1083.3 1325.3,1083.3 1325.6,1087.1 1325.9,1083.3 1326.4,1106.0 1326.7,1105.3 1327.0,1107.1 1327.5,1114.0 1327.8,1128.5 1328.2,1118.5 1328.6,1120.6 1328.9,1124.0 1329.3,1114.4 1329.7,1112.0 1330.1,1122.7 1330.4,1128.0 1330.9,1139.0 1331.2,1139.2 1331.5,1138.2 1332.0,1122.4 1332.3,1111.1 1332.6,1108.5 1333.1,1147.3 1333.4,1136.0 1333.8,1144.6 1334.2,1146.1 1334.6,1127.2 1334.9,1127.2 1335.3,1144.4 1335.7,1154.4 1336.0,1144.2 1336.5,1143.9 1336.8,1146.3 1337.1,1133.0 1337.6,1147.3 1337.9,1148.3 1338.3,1153.1 1338.7,1149.1 1339.0,1136.0 1339.4,1155.2 1339.8,1155.4 1340.2,1148.4 1340.5,1154.5 1340.9,1152.1 1341.3,1155.5 1341.6,1156.9 1342.1,1156.0 1342.4,1150.6 1342.7,1144.1 1343.2,1154.2 1343.5,1144.5 1343.9,1152.2 1344.3,1140.9 1344.6,1127.1 1345.0,1146.7 1345.4,1136.1 1345.8,1154.7 1346.1,1146.9 1346.5,1119.0 1346.9,1123.6 1347.2,1128.9 1347.7,1141.7 1348.0,1128.6 1348.3,1143.6 1348.8,1117.2 1349.1,1097.6 1349.5,1108.6 1349.9,1093.4 1350.2,1099.9 1350.6,1086.4 1351.0,1047.5 1351.4,1062.6 1351.7,1053.5 1352.1,1054.7 1352.5,1027.3 1352.8,1024.0 1353.3,1105.7 1353.6,1108.1 1353.9,1102.0 1354.4,1126.0 1354.7,1118.6 1355.1,1106.7 1355.5,1117.3 1355.8,1118.7 1356.2,1118.0 1356.6,1120.8 1357.0,1126.0 1357.3,1122.1 1357.8,1106.3 1358.1,1124.6 1358.4,1125.9 1358.9,1128.6 1359.2,1129.7 1359.5,1134.9 1360.0,1129.2 1360.3,1120.1 1360.7,1124.8 1361.1,1133.4 1361.5,1123.6 1361.8,1114.6 1362.2,1128.8 1362.6,1126.9 1362.9,1110.4 1363.4,1123.3 1363.7,1130.0 1364.0,1114.7 1364.5,1133.5 1364.8,1128.1 1365.2,1118.6 1365.6,1126.9 1365.9,1110.4 1366.3,1123.7 1366.7,1131.7 1367.1,1124.5 1367.4,1121.3 1367.8,1126.8 1368.2,1142.7 1368.5,1120.8 1369.0,1127.0 1369.3,1096.8 1369.6,1093.5 1370.1,1124.5 1370.4,1099.1 1370.8,1107.2 1371.2,1122.3 1371.5,1093.5 1371.9,1103.3 1372.3,1093.5 1372.7,1093.5 1373.0,1108.0 1373.4,1106.7 1373.8,1129.4 1374.1,1111.1 1374.6,1093.4 1374.9,1117.9 1375.2,1110.6 1375.7,1116.6 1376.0,1093.4 1376.4,1113.3 1376.8,1112.8 1377.1,1093.8 1377.5,1080.6 1377.9,1084.7 1378.3,1091.8 1378.6,1100.6 1379.0,1070.1 1379.4,1072.3 1379.7,1071.7 1380.2,1073.8 1380.5,1070.1 1380.8,1082.7 1381.3,1063.5 1381.6,1082.0 1382.0,1079.2 1382.4,1070.1 1382.7,1070.1 1383.1,1070.1 1383.5,1085.8 1383.9,1074.3 1384.2,1116.8 1384.7,1071.3 1385.0,1089.4 1385.3,1088.4 1385.8,1092.1 1386.1,1108.0 1386.4,1094.6 1386.9,1093.7 1387.2,1093.7 1387.6,1089.9 1388.0,1076.9 1388.4,1081.5 1388.7,1099.7 1389.1,1089.9 1389.5,1090.1 1389.8,1119.0 1390.3,1116.3 1390.6,1095.8 1390.9,1112.6 1391.4,1120.8 1391.7,1131.3 1392.1,1125.0 1392.5,1105.0 1392.8,1104.0 1393.2,1103.2 1393.6,1121.4 1394.0,1112.9 1394.3,1096.3 1394.7,1114.0 1395.1,1114.6 1395.4,1122.5 1395.9,1131.1 1396.2,1123.1 1396.5,1121.9 1397.0,1118.6 1397.3,1117.0 1397.7,1129.9 1398.1,1101.9 1398.4,1124.4 1398.8,1127.4 1399.2,1141.0 1399.6,1117.1 1399.9,1112.6 1400.3,1116.8 1400.7,1107.0 1401.0,1104.7 1401.5,1122.7 1401.8,1128.1 1402.1,1101.9 1402.6,1124.5 1402.9,1121.3 1403.3,1130.3 1403.7,1117.1 1404.0,1123.6 1404.4,1123.6 1404.8,1119.3 1405.2,1115.6 1405.5,1117.6 1405.9,1126.2 1406.3,1133.5 1406.6,1132.4 1407.1,1144.0 1407.4,1131.4 1407.7,1129.6 1408.2,1136.0 1408.5,1148.3 1408.9,1148.9 1409.3,1150.5 1409.6,1145.9 1410.0,1144.4 1410.4,1145.4 1410.8,1134.0 1411.1,1151.2 1411.6,1140.7 1411.9,1149.8 1412.2,1145.9 1412.7,1144.8 1413.0,1146.6 1413.3,1133.5 1413.8,1150.9 1414.1,1150.6 1414.5,1157.9 1414.9,1162.0 1415.3,1151.0 1415.6,1148.6 1416.0,1151.9 1416.4,1149.6 1416.7,1155.4 1417.2,1136.8 1417.5,1139.3 1417.8,1149.6 1418.3,1144.6 1418.6,1140.6 1418.9,1136.7 1419.4,1147.5 1419.7,1136.0 1420.1,1146.4 1420.5,1143.0 1420.9,1127.6 1421.2,1141.5 1421.6,1102.1 1422.0,1122.8 1422.3,1124.7 1422.8,1127.7 1423.1,1113.6 1423.4,1121.0 1423.9,1123.2 1424.2,1123.9 1424.6,1126.5 1425.0,1127.8 1425.3,1128.4 1425.7,1139.2 1426.1,1117.2 1426.5,1114.0 1426.8,1130.7 1427.2,1126.3 1427.6,1107.3 1427.9,1115.0 1428.4,1069.4 1428.7,1081.3 1429.0,1098.3 1429.5,1069.4 1429.8,1069.4 1430.2,1069.4 1430.6,1090.0 1430.9,1079.8 1431.3,1062.8 1431.7,1052.6 1432.1,1060.7 1432.4,1032.1 1432.8,996.7 1433.2,1009.7 1433.5,1010.9 1434.0,950.5 1434.3,970.5 1434.6,977.7 1434.4,937.7 1434.8,977.2 1435.1,980.3 1435.1,950.5 1435.4,953.6 1435.8,977.9 1436.2,1014.6 1436.5,966.0 1436.9,960.4 1437.3,1059.4 1437.7,1065.6 1438.0,1027.1 1438.5,1089.6 1438.8,1088.2 1439.1,1084.7 1439.6,1126.8 1439.9,1107.2 1440.2,1123.4 1440.7,1119.5 1441.0,1125.0 1441.4,1115.0 1441.8,1121.3 1442.1,1142.5 1442.5,1123.2 1442.9,1132.2 1443.3,1120.9 1443.6,1130.2 1444.1,1143.3 1444.4,1120.0 1444.7,1143.5 1445.2,1142.6 1445.5,1142.7 1445.8,1134.4 1446.3,1117.9 1446.6,1134.8 1447.0,1128.5 1447.4,1140.5 1447.8,1152.8 1448.1,1148.3 1448.5,1152.5 1448.9,1130.6 1449.2,1153.1 1449.7,1153.1 1450.0,1146.9 1450.3,1152.8 1450.8,1143.4 1451.1,1150.0 1451.5,1139.2 1451.9,1134.4 1452.2,1140.6 1452.6,1143.0 1453.0,1131.8 1453.4,1142.9 1453.7,1138.3 1454.1,1121.9 1454.5,1133.5 1454.8,1136.2 1455.3,1131.3 1455.6,1122.6 1455.9,1118.8 1456.4,1118.8 1456.7,1123.9 1457.1,1134.2 1457.5,1128.6 1457.8,1139.6 1458.2,1138.1 1458.6,1132.6 1459.0,1114.0 1459.3,1129.7 1459.7,1122.9 1460.1,1126.5 1460.4,1091.8 1460.9,1089.8 1461.2,1081.9 1461.5,1077.5 1462.0,1096.6 1462.3,1078.1 1462.7,1104.4 1463.1,1093.7 1463.4,1094.2 1463.8,1108.3 1464.2,1088.0 1464.6,1090.1 1464.9,1085.8 1465.4,1078.5 1465.7,1074.7 1466.0,1104.9 1465.9,1085.5 1466.2,1090.2 1466.6,1085.5 1466.5,1087.6 1466.8,1091.2 1467.1,1080.5 1467.6,1081.8 1467.9,1102.7 1468.3,1090.0 1468.7,1093.2 1469.0,1107.3 1469.4,1112.5 1469.8,1101.8 1470.2,1090.5 1470.5,1114.3 1471.0,1113.6 1471.3,1117.3 1471.6,1103.1 1472.1,1093.0 1472.4,1087.4 1472.7,1110.2 1473.2,1139.9 1473.5,1133.3 1473.9,1121.3 1474.3,1122.4 1474.7,1115.6 1475.0,1131.3 1475.4,1133.2 1475.8,1110.4 1476.1,1125.4 1476.6,1135.8 1476.9,1136.0 1477.2,1129.2 1477.7,1123.2 1478.0,1124.9 1478.4,1136.0 1478.8,1118.0 1479.1,1128.3 1479.5,1136.8 1479.9,1117.9 1480.3,1137.7 1480.6,1132.1 1481.0,1142.1 1481.4,1114.1 1481.7,1125.8 1482.2,1122.8 1482.5,1139.5 1482.8,1132.7 1483.3,1143.7 1483.6,1140.7 1484.0,1137.6 1484.4,1146.7 1484.7,1146.4 1485.1,1143.3 1485.5,1145.6 1485.9,1146.2 1486.2,1142.0 1486.6,1155.7 1487.0,1153.8 1487.3,1156.5 1487.8,1135.6 1488.1,1149.5 1488.4,1147.7 1488.9,1151.2 1489.2,1148.6 1489.6,1140.3 1490.0,1155.4 1490.3,1153.9 1490.7,1145.1 1491.1,1141.5 1491.5,1150.2 1491.8,1154.3 1492.2,1156.5 1492.6,1148.7 1492.9,1156.3 1493.4,1158.9 1493.7,1155.4 1494.0,1165.5 1494.5,1149.6 1494.8,1154.9 1495.2,1147.0 1495.6,1153.8 1495.9,1155.8 1496.3,1156.7 1496.7,1156.5 1497.1,1148.5 1497.4,1162.2 1497.9,1160.0 1498.2,1157.9 1498.5,1171.9 1499.0,1154.8 1499.3,1153.7 1499.6,1154.6 1500.1,1158.4 1500.4,1160.7 1500.8,1161.0 1501.2,1156.2 1501.6,1142.7 1501.9,1153.5 1502.3,1141.6 1502.7,1150.4 1503.0,1146.6 1503.5,1143.4 1503.8,1148.9 1504.1,1162.8 1504.6,1144.1 1504.9,1151.2 1505.3,1143.3 1505.7,1129.9 1506.0,1124.1 1506.4,1122.6 1506.8,1109.6 1507.2,1107.3 1507.5,1121.2 1507.9,1107.3 1508.3,1131.0 1508.6,1121.3 1509.1,1106.2 1509.4,1116.3 1509.7,1113.3 1510.2,1091.8 1510.5,1081.8 1510.9,1094.2 1511.3,1087.5 1511.6,1087.5 1512.0,1090.6 1512.4,1102.6 1512.8,1089.1 1513.1,1089.2 1513.5,1121.3 1513.9,1136.9 1514.2,1121.9 1514.7,1111.7 1515.0,1131.1 1515.3,1126.7 1515.8,1139.3 1516.1,1137.6 1516.5,1138.9 1516.9,1145.1 1517.2,1129.2 1517.6,1145.5 1518.0,1131.7 1518.4,1125.7 1518.7,1125.2 1519.1,1125.6 1519.5,1128.3 1519.8,1130.8 1520.3,1143.9 1520.6,1143.5 1520.9,1136.4 1521.4,1147.4 1521.7,1146.6 1522.1,1133.2 1522.5,1151.3 1522.8,1157.1 1523.2,1150.7 1523.6,1155.1 1524.0,1150.6 1524.3,1155.9 1524.8,1140.5 1525.1,1145.4 1525.4,1136.5 1525.9,1144.8 1526.2,1130.2 1526.5,1147.2 1527.0,1151.7 1527.3,1148.9 1527.7,1146.5 1528.1,1128.4 1528.5,1133.7 1528.8,1134.0 1529.2,1133.6 1529.6,1127.2 1529.9,1134.1 1530.4,1146.8 1530.7,1139.3 1531.0,1136.4 1531.5,1136.0 1531.8,1144.7 1532.2,1148.3 1532.6,1124.9 1532.9,1136.8 1533.3,1135.6 1533.7,1098.4 1534.1,1105.9 1534.4,1123.7 1534.8,1095.3 1535.2,1092.3 1535.5,1098.9 1536.0,1095.8 1536.3,1109.7 1536.6,1106.8 1537.1,1106.1 1537.4,1084.7 1537.8,1092.2 1538.2,1001.6 1538.5,1044.1 1538.9,994.4 1539.3,928.3 1539.7,929.2 1540.0,986.0 1540.4,912.4 1540.8,953.4 1541.1,891.6 1541.6,931.3 1541.9,990.7 1542.2,911.8 1542.7,1048.2 1543.0,1068.1 1543.4,1072.3 1543.8,1070.9 1544.1,1066.3 1544.5,1055.5 1544.9,1084.9 1545.3,1062.8 1545.6,1087.4 1546.0,1090.2 1546.4,1068.7 1546.7,1097.0 1547.2,1099.4 1547.5,1100.5 1547.8,1102.8 1548.3,1085.1 1548.6,1085.1 1549.0,1095.5 1549.4,1105.8 1549.7,1110.1 1550.1,1106.6 1550.5,1115.9 1550.9,1093.8 1551.2,1112.4 1551.7,1116.0 1552.0,1108.0 1552.3,1107.0 1552.8,1099.4 1553.1,1100.7 1553.4,1089.5 1553.9,1119.7 1554.2,1121.2 1554.6,1114.0 1555.0,1101.9 1555.4,1122.1 1555.7,1104.2 1556.1,1129.7 1556.5,1140.0 1556.8,1110.2 1557.3,1127.1 1557.6,1138.4 1557.9,1115.3 1558.4,1125.7 1558.7,1114.4 1559.0,1124.8 1559.5,1140.6 1559.8,1133.0 1560.2,1127.1 1560.6,1133.4 1561.0,1134.3 1561.3,1130.8 1561.7,1124.9 1562.1,1123.2 1562.4,1124.9 1562.9,1148.0 1563.2,1136.0 1563.5,1145.6 1564.0,1127.2 1564.3,1132.3 1564.7,1145.2 1565.1,1141.1 1565.4,1127.2 1565.8,1140.9 1566.2,1140.1 1566.6,1140.6 1566.9,1146.1 1567.3,1127.2 1567.7,1132.8 1568.0,1138.0 1568.5,1127.8 1568.8,1133.2 1569.1,1141.1 1569.6,1156.6 1569.9,1144.5 1570.3,1154.2 1570.7,1150.3 1571.0,1149.6 1571.4,1147.7 1571.8,1147.9 1572.2,1136.0 1572.5,1144.9 1572.9,1142.3 1573.3,1135.4 1573.6,1153.9 1574.1,1160.0 1574.4,1156.9 1574.7,1150.6 1575.2,1122.2 1575.5,1132.6 1575.9,1132.7 1576.3,1148.6 1576.6,1138.5 1577.0,1144.1 1577.4,1156.1 1577.8,1144.5 1578.1,1149.9 1578.6,1128.5 1578.9,1143.5 1579.2,1136.3 1579.7,1140.1 1580.0,1139.1 1580.3,1118.8 1580.8,1124.1 1581.1,1126.9 1581.5,1132.0 1581.9,1153.4 1582.2,1146.8 1582.6,1143.6 1583.0,1134.9 1583.4,1128.6 1583.7,1135.6 1584.2,1132.2 1584.5,1113.8 1584.8,1131.3 1585.3,1123.4 1585.6,1126.4 1585.9,1112.1 1586.4,1111.1 1586.7,1113.6 1587.1,1131.6 1587.5,1104.1 1587.9,1111.0 1588.2,1109.7 1588.6,1103.5 1589.0,1100.0 1589.3,1099.9 1589.8,1077.4 1590.1,1081.1 1590.4,1102.5 1590.9,1088.6 1591.2,1093.2 1591.6,1106.8 1592.0,1092.1 1592.3,1100.1 1592.7,1110.2 1593.1,1091.7 1593.5,1089.2 1593.8,1079.0 1594.2,1070.1 1594.6,1084.8 1594.9,1074.1 1595.4,1099.6 1595.7,1083.2 1596.0,1083.2 1596.5,1081.0 1596.8,1095.7 1597.2,1070.1 1597.6,1099.9 1597.9,1084.7 1598.3,1063.5 1598.7,1103.4 1599.1,1070.1 1599.4,1070.1 1599.8,1098.8 1600.2,1098.4 1600.5,1110.2 1601.0,1089.5 1601.3,1094.9 1601.6,1110.3 1602.1,1121.0 1602.4,1118.4 1602.8,1099.6 1603.2,1110.7 1603.5,1115.9 1603.9,1106.7 1604.3,1110.5 1604.7,1107.1 1605.0,1095.9 1605.5,1114.2 1605.8,1120.9 1606.1,1118.5 1606.6,1103.1 1606.9,1120.2 1607.2,1115.0 1607.7,1125.0 1608.0,1115.5 1608.4,1113.0 1608.8,1108.7 1609.1,1125.4 1609.5,1137.9 1609.9,1121.3 1610.3,1127.6 1610.6,1129.5 1611.1,1120.2 1611.4,1110.3 1611.7,1123.4 1612.2,1114.5 1612.5,1127.3 1612.8,1125.0 1613.3,1119.6 1613.6,1101.9 1614.0,1114.5 1614.4,1120.3 1614.8,1130.0 1615.1,1119.0 1615.5,1127.7 1615.9,1101.9 1616.2,1116.9 1616.7,1115.6 1617.0,1136.0 1617.3,1114.0 1617.8,1105.8 1618.1,1102.2 1618.5,1103.4 1618.9,1105.7 1619.2,1097.9 1619.6,1126.1 1620.0,1119.8 1620.4,1121.7 1620.7,1114.4 1621.1,1119.5 1621.5,1113.8 1621.8,1109.0 1622.3,1099.3 1622.6,1107.1 1622.9,1114.5 1623.4,1107.4 1623.7,1106.6 1624.1,1104.9 1624.5,1141.0 1624.8,1116.5 1625.2,1106.7 1625.6,1104.9 1626.0,1101.4 1626.3,1118.2 1626.7,1113.6 1627.1,1141.4 1627.4,1126.4 1627.9,1089.6 1628.2,1085.1 1628.5,1090.2 1629.0,1088.6 1629.3,1086.2 1629.7,1102.0 1630.1,1099.1 1630.4,1104.0 1630.8,1113.3 1631.2,1113.0 1631.6,1104.3 1631.9,1118.5 1632.3,1099.4 1632.7,1110.2 1633.0,1100.1 1633.5,1096.0 1633.8,1121.2 1634.1,1111.4 1634.6,1121.9 1634.9,1104.1 1635.3,1100.4 1635.7,1094.1 1636.0,1123.3 1636.4,1092.0 1636.8,1085.1 1637.2,1087.4 1637.5,1121.2 1638.0,1085.1 1638.3,1091.1 1638.6,1087.2 1639.1,1101.7 1639.4,1085.1 1639.7,1103.8 1640.2,1103.6 1640.5,1108.9 1640.9,1125.6 1641.3,1106.7 1641.7,1114.1 1642.0,1106.9 1642.4,1108.8 1642.8,1108.0 1643.1,1102.0 1643.6,1121.0 1643.9,1093.5 1644.2,1106.8 1644.7,1122.1 1645.0,1098.2 1645.4,1096.8 1645.8,1115.9 1646.1,1115.2 1646.5,1111.0 1646.9,1097.7 1647.3,1093.5 1647.6,1122.8 1648.0,1112.0 1648.4,1113.7 1648.7,1123.9 1649.2,1126.6 1649.5,1114.4 1649.8,1120.7 1650.3,1117.9 1650.6,1139.3 1651.0,1114.0 1651.4,1113.1 1651.7,1122.1 1652.1,1127.7 1652.5,1108.7 1652.9,1101.9 1653.2,1101.9 1653.6,1129.3 1654.0,1102.4 1654.3,1107.7 1654.8,1112.8 1655.1,1131.1 1655.4,1124.0 1655.9,1130.0 1656.2,1113.8 1656.6,1129.0 1657.0,1130.3 1657.3,1133.4 1657.7,1120.2 1658.1,1148.9 1658.5,1140.6 1658.8,1128.6 1659.2,1127.2 1659.6,1124.9 1659.9,1131.4 1660.4,1147.2 1660.7,1140.0 1661.0,1139.4 1661.5,1120.5 1661.8,1128.8 1662.2,1131.0 1662.6,1133.3 1662.9,1127.0 1663.3,1119.2 1663.7,1131.2 1664.1,1125.3 1664.4,1137.5 1664.9,1142.4 1665.2,1149.4 1665.5,1145.4 1666.0,1158.2 1666.3,1146.9 1666.6,1153.3 1667.1,1136.9 1667.4,1113.3 1667.8,1130.7 1668.2,1135.7 1668.6,1139.5 1668.9,1127.2 1669.3,1109.9 1669.7,1104.3 1670.0,1132.5 1670.5,1100.9 1670.8,1109.6 1671.1,1088.5 1671.6,1114.7 1671.9,1098.7 1672.3,1094.1 1672.7,1088.5 1673.0,1089.1 1673.4,1085.4 1673.8,1085.2 1674.2,1073.8 1674.5,1080.3 1674.9,1079.8 1675.3,1079.8 1675.6,1091.4 1676.1,1106.5 1676.4,1079.8 1676.7,1091.3 1677.2,1079.8 1677.5,1082.3 1677.9,1087.2 1678.3,1115.0 1678.6,1123.8 1679.0,1106.7 1679.4,1116.8 1679.8,1122.8 1680.1,1113.5 1680.5,1122.9 1680.9,1117.0 1681.2,1121.5 1681.7,1098.9 1682.0,1111.1 1682.3,1098.5 1682.8,1112.6 1683.1,1128.6 1683.5,1122.6 1683.9,1127.4 1684.2,1130.0 1684.6,1132.5 1685.0,1134.6 1685.4,1130.1 1685.7,1119.4 1686.1,1134.8 1686.5,1132.3 1686.8,1135.8 1687.3,1139.3 1687.6,1135.0 1687.9,1130.5 1688.4,1131.8 1688.7,1143.0 1689.1,1133.3 1689.5,1127.7 1689.8,1123.0 1690.2,1126.2 1690.6,1132.4 1691.0,1131.3 1691.3,1133.6 1691.8,1139.0 1692.1,1130.3 1692.4,1133.0 1692.9,1136.0 1693.2,1141.5 1693.5,1144.3 1694.0,1149.0 1694.3,1142.6 1694.7,1135.8 1695.1,1128.7 1695.5,1137.3 1695.8,1128.5 1696.2,1141.7 1696.6,1134.9 1696.9,1140.9 1697.4,1129.5 1697.7,1127.2 1698.0,1144.3 1698.5,1145.5 1698.8,1140.9 1699.1,1135.0 1699.6,1136.0 1699.9,1140.4 1700.3,1144.4 1700.7,1124.7 1701.1,1141.9 1701.4,1128.8 1701.8,1124.7 1702.2,1137.2 1702.5,1133.8 1703.0,1124.7 1703.3,1137.0 1703.6,1138.7 1704.1,1134.7 1704.4,1138.3 1704.8,1150.5 1705.2,1139.9 1705.5,1140.9 1705.9,1133.8" fill="none" stroke="#00BFC4" stroke-width="1.5" stroke-linejoin="round"/>
<polyline points="1058.5,1136.3 1058.8,1132.3 1059.2,1141.0 1059.6,1137.7 1060.0,1120.1 1060.3,1133.3 1060.7,1119.6 1061.1,1134.1 1061.4,1118.8 1061.9,1135.0 1062.2,1126.9 1062.5,1120.9 1063.0,1118.8 1063.3,1133.7 1063.7,1133.8 1064.1,1137.1 1064.4,1128.6 1064.8,1133.6 1065.2,1127.4 1065.6,1126.2 1065.9,1141.4 1066.3,1137.1 1066.7,1122.4 1067.0,1118.8 1067.5,1130.5 1067.8,1120.9 1068.1,1149.1 1068.6,1136.6 1068.9,1138.9 1069.3,1140.6 1069.7,1132.3 1070.0,1134.8 1070.4,1144.0 1070.8,1111.5 1071.2,1127.5 1071.5,1116.6 1071.9,1113.3 1072.3,1093.5 1072.6,1093.5 1073.1,1102.6 1073.4,1099.1 1073.7,1108.5 1074.2,1106.7 1074.5,1112.8 1074.9,1112.4 1075.3,1102.1 1075.6,1083.6 1076.0,1081.8 1076.4,1072.5 1076.8,1081.8 1077.1,1066.6 1077.6,1059.9 1077.9,1073.3 1078.2,1085.1 1078.7,1084.7 1079.0,1108.6 1079.3,1084.3 1079.8,1098.9 1080.1,1105.4 1080.5,1121.2 1080.9,1127.8 1081.3,1114.0 1081.6,1117.9 1082.0,1115.4 1082.4,1121.8 1082.7,1130.8 1083.2,1119.3 1083.5,1121.5 1083.8,1110.9 1084.3,1130.6 1084.6,1131.9 1085.0,1147.2 1085.4,1140.7 1085.7,1135.8 1086.1,1130.4 1086.5,1139.6 1086.9,1143.6 1087.2,1146.8 1087.6,1131.4 1088.0,1131.4 1088.3,1140.7 1088.8,1149.6 1089.1,1144.4 1089.4,1139.5 1089.9,1153.9 1090.2,1155.4 1090.6,1155.2 1091.0,1154.8 1091.3,1151.9 1091.7,1146.9 1092.1,1133.5 1092.5,1134.0 1092.8,1145.5 1093.2,1131.4 1093.6,1137.8 1093.9,1134.2 1094.4,1139.4 1094.7,1141.5 1095.0,1131.4 1095.5,1151.3 1095.8,1149.0 1096.2,1140.1 1096.6,1151.3 1096.9,1149.4 1097.3,1151.9 1097.7,1142.9 1098.1,1150.4 1098.4,1139.6 1098.8,1134.1 1099.2,1115.7 1099.5,1133.8 1100.0,1135.9 1100.3,1130.9 1100.6,1123.4 1101.1,1126.2 1101.4,1126.8 1101.8,1116.6 1102.2,1116.0 1102.5,1124.5 1102.9,1101.9 1103.3,1114.2 1103.7,1114.0 1104.0,1115.8 1104.5,1092.9 1104.8,1106.8 1105.1,1095.0 1105.6,1069.4 1105.9,1076.1 1106.2,1069.4 1106.7,1095.4 1107.0,1083.9 1107.4,1070.0 1107.8,1062.8 1108.2,1066.6 1108.5,1074.9 1108.9,1036.4 1109.3,1029.2 1109.6,1027.7 1110.1,1018.9 1110.4,1036.7 1110.7,1032.7 1111.2,1030.5 1111.5,999.9 1111.9,1010.9 1112.3,1023.8 1112.6,999.4 1113.0,989.6 1113.4,1014.9 1113.8,994.6 1114.1,988.7 1114.5,1027.8 1114.9,977.9 1115.2,1028.2 1115.7,1021.7 1116.0,1009.5 1116.3,1005.4 1116.8,1038.0 1117.1,1033.5 1117.5,1036.0 1117.9,1088.1 1118.2,1083.8 1118.6,1095.0 1119.0,1076.0 1119.4,1097.8 1119.7,1087.7 1120.1,1127.9 1120.5,1118.7 1120.8,1106.7 1121.3,1114.9 1121.6,1131.0 1121.9,1118.3 1122.4,1118.4 1122.7,1125.5 1123.1,1106.0 1123.5,1125.1 1123.8,1113.5 1124.2,1118.9 1124.6,1141.8 1125.0,1141.1 1125.3,1124.8 1125.7,1146.6 1126.1,1136.0 1126.4,1145.9 1126.9,1146.9 1127.2,1144.7 1127.5,1144.4 1128.0,1146.1 1128.3,1155.8 1128.7,1152.6 1129.1,1157.2 1129.4,1149.1 1129.8,1159.3 1130.2,1141.9 1130.6,1147.9 1130.9,1148.4 1131.4,1137.2 1131.7,1137.2 1132.0,1142.3 1132.5,1149.0 1132.8,1143.4 1133.1,1127.2 1133.6,1133.1 1133.9,1140.0 1134.3,1149.6 1134.7,1142.3 1135.1,1145.9 1135.4,1139.6 1135.8,1152.6 1136.2,1137.4 1136.5,1127.2 1137.0,1138.6 1137.3,1136.0 1137.6,1151.3 1138.1,1110.4 1138.4,1135.8 1138.7,1135.7 1139.2,1138.5 1139.5,1132.9 1139.9,1124.3 1140.3,1134.7 1140.7,1128.8 1141.0,1130.5 1141.4,1130.3 1141.8,1134.8 1142.1,1121.3 1142.6,1135.2 1142.9,1142.0 1143.2,1126.5 1143.7,1141.7 1144.0,1141.1 1144.4,1125.9 1144.8,1141.9 1145.1,1134.6 1145.5,1133.4 1145.9,1132.2 1146.3,1141.6 1146.6,1135.0 1147.0,1132.9 1147.4,1130.2 1147.7,1122.9 1148.2,1136.0 1148.5,1147.1 1148.8,1144.3 1149.3,1139.1 1149.6,1131.5 1150.0,1139.1 1150.4,1133.2 1150.7,1135.8 1151.1,1130.4 1151.5,1128.6 1151.9,1141.3 1152.2,1144.1 1152.6,1153.9 1153.0,1138.9 1153.3,1155.2 1153.8,1152.9 1154.1,1147.2 1154.4,1131.9 1154.9,1144.3 1155.2,1137.2 1155.6,1140.2 1156.0,1136.1 1156.3,1136.5 1156.7,1151.6 1157.1,1131.2 1157.5,1143.2 1157.8,1128.2 1158.3,1141.8 1158.6,1129.2 1158.9,1132.8 1159.4,1147.8 1159.7,1143.3 1160.0,1147.4 1160.5,1147.3 1160.8,1151.7 1161.2,1143.7 1161.6,1135.6 1161.9,1148.3 1162.3,1144.2 1162.7,1145.9 1163.1,1144.2 1163.4,1146.5 1163.9,1144.2 1164.2,1149.5 1164.5,1148.0 1165.0,1149.7 1165.3,1147.0 1165.6,1145.8 1166.1,1147.2 1166.4,1152.0 1166.8,1152.6 1167.2,1146.1 1167.6,1157.4 1167.9,1151.1 1168.3,1150.3 1168.7,1149.5 1169.0,1156.1 1169.5,1149.6 1169.8,1146.2 1170.1,1153.2 1170.6,1154.1 1170.9,1156.7 1171.3,1150.6 1171.7,1145.7 1172.0,1142.2 1172.4,1148.0 1172.8,1142.6 1173.2,1145.8 1173.5,1137.0 1173.9,1153.0 1174.3,1144.0 1174.6,1158.5 1175.1,1142.8 1175.4,1155.2 1175.7,1144.5 1176.2,1146.4 1176.5,1135.6 1176.9,1144.5 1177.3,1135.6 1177.6,1137.8 1178.0,1150.9 1178.4,1150.8 1178.8,1135.6 1179.1,1135.6 1179.5,1152.7 1179.9,1149.6 1180.2,1143.3 1180.7,1147.0 1181.0,1140.8 1181.3,1133.7 1181.8,1137.4 1182.1,1143.7 1182.5,1148.3 1182.9,1130.6 1183.2,1118.2 1183.6,1113.2 1184.0,1129.5 1184.4,1136.6 1184.7,1124.2 1185.2,1110.4 1185.5,1119.7 1185.8,1115.8 1186.3,1121.3 1186.6,1121.7 1186.9,1123.7 1187.4,1120.8 1187.7,1130.1 1188.1,1127.2 1188.5,1121.8 1188.8,1135.6 1189.2,1123.6 1189.6,1138.5 1190.0,1137.2 1190.3,1142.2 1190.8,1137.7 1191.1,1143.8 1191.4,1136.0 1191.9,1146.8 1192.2,1144.3 1192.5,1128.4 1193.0,1137.4 1193.3,1140.9 1193.7,1149.6 1194.1,1145.2 1194.5,1143.3 1194.8,1154.1 1195.2,1155.0 1195.6,1160.0 1195.9,1150.1 1196.4,1143.4 1196.7,1144.5 1197.0,1143.9 1197.5,1135.6 1197.8,1146.5 1198.2,1136.2 1198.6,1159.8 1198.9,1147.6 1199.3,1152.5 1199.7,1146.5 1200.1,1141.7 1200.4,1153.1 1200.8,1158.0 1201.2,1154.6 1201.5,1150.6 1202.0,1129.7 1202.3,1150.8 1202.6,1141.8 1203.1,1144.8 1203.4,1144.5 1203.8,1152.1 1204.2,1156.1 1204.5,1150.4 1204.9,1137.4 1205.3,1135.5 1205.7,1139.8 1206.0,1143.7 1206.4,1119.9 1206.8,1134.8 1207.1,1134.7 1207.6,1130.1 1207.9,1124.3 1208.2,1131.9 1208.7,1121.3 1209.0,1142.5 1209.4,1124.9 1209.8,1120.0 1210.1,1105.9 1210.5,1103.0 1210.9,1116.9 1211.3,1101.5 1211.6,1100.7 1212.0,1083.3 1212.4,1093.8 1212.7,1083.3 1213.2,1077.4 1213.5,1092.6 1213.8,1084.3 1214.3,1076.2 1214.6,1068.7 1215.0,1055.5 1214.9,1048.2 1215.2,1077.8 1215.5,1081.5 1215.4,969.2 1215.7,971.4 1216.1,1043.5 1216.0,974.0 1216.3,920.1 1216.6,984.7 1216.5,937.5 1216.9,971.8 1217.2,963.4 1217.1,1070.2 1217.4,1055.0 1217.8,1033.5 1217.7,1041.6 1218.0,1058.5 1218.3,1045.7 1218.8,1049.6 1219.1,1069.7 1219.4,1046.3 1219.9,1046.6 1220.2,1059.4 1220.6,1069.1 1221.0,1097.6 1221.4,1103.9 1221.7,1077.4 1222.1,1083.3 1222.5,1087.4 1222.8,1086.6 1223.3,1083.3 1223.6,1088.2 1223.9,1084.5 1224.4,1113.8 1224.7,1095.6 1225.1,1101.6 1225.5,1094.5 1225.8,1116.1 1226.2,1083.3 1226.6,1108.5 1227.0,1099.4 1227.3,1106.2 1227.7,1085.1 1228.1,1112.2 1228.4,1090.5 1228.9,1114.7 1229.2,1101.7 1229.5,1085.1 1230.0,1086.9 1230.3,1094.6 1230.7,1094.2 1231.1,1090.7 1231.4,1085.1 1231.8,1085.1 1232.2,1086.5 1232.6,1110.1 1232.9,1092.4 1233.3,1085.1 1233.7,1109.0 1234.0,1097.9 1234.5,1090.8 1234.8,1089.7 1235.1,1113.7 1235.6,1125.5 1235.9,1099.4 1236.3,1121.1 1236.7,1121.0 1237.0,1110.9 1237.4,1113.1 1237.8,1085.1 1238.2,1094.0 1238.5,1110.1 1238.9,1085.1 1239.3,1102.2 1239.6,1103.9 1240.1,1127.4 1240.4,1106.7 1240.7,1118.7 1241.2,1119.0 1241.5,1113.8 1241.9,1118.4 1242.3,1095.2 1242.6,1095.1 1243.0,1107.2 1243.4,1127.2 1243.8,1126.3 1244.1,1121.3 1244.6,1110.4 1244.9,1125.2 1245.2,1119.3 1245.7,1139.4 1246.0,1110.4 1246.3,1112.8 1246.8,1127.7 1247.1,1124.6 1247.5,1136.2 1247.9,1136.5 1248.3,1136.0 1248.6,1129.9 1249.0,1131.9 1249.4,1127.0 1249.7,1140.9 1250.2,1141.4 1250.5,1142.4 1250.8,1141.8 1251.3,1149.8 1251.6,1137.4 1252.0,1150.7 1252.4,1141.5 1252.7,1143.2 1253.1,1149.0 1253.5,1150.6 1253.9,1159.0 1254.2,1160.7 1254.6,1146.8 1255.0,1145.7 1255.3,1153.1 1255.8,1144.4 1256.1,1144.8 1256.4,1139.1 1256.9,1136.8 1257.2,1132.4 1257.6,1133.8 1258.0,1149.4 1258.3,1139.8 1258.7,1136.7 1259.1,1141.0 1259.5,1137.0 1259.8,1134.0 1260.2,1130.5 1260.6,1141.3 1260.9,1133.8 1261.4,1138.8 1261.7,1147.3 1262.0,1130.4 1262.5,1128.6 1262.8,1136.3 1263.2,1133.0 1263.6,1125.1 1263.9,1139.0 1264.3,1105.9 1264.7,1090.9 1265.1,1083.3 1265.4,1083.3 1265.8,1083.3 1266.2,1105.7 1266.5,1112.0 1267.0,1086.4 1267.3,1083.3 1267.6,1083.8 1268.1,1102.0 1268.4,1077.4 1268.8,1093.2 1269.2,1081.1 1269.5,1099.3 1269.9,1087.3 1270.3,1088.4 1270.7,1053.2 1271.0,1082.4 1271.5,1086.0 1271.8,1074.5 1272.1,1086.1 1272.6,1075.7 1272.9,1040.8 1273.2,1065.0 1273.7,1048.5 1274.0,1057.3 1274.4,1048.5 1274.8,1048.5 1275.2,1048.5 1275.5,1048.5 1275.9,1048.5 1276.3,1049.0 1276.6,1048.5 1277.1,1086.7 1277.4,1110.9 1277.7,1077.4 1278.2,1083.3 1278.5,1100.9 1278.8,1083.3 1279.3,1093.6 1279.6,1095.2 1280.0,1103.7 1280.4,1083.3 1280.8,1083.3 1281.1,1116.8 1281.5,1083.3 1281.9,1103.3 1282.2,1105.4 1282.7,1134.0 1283.0,1118.7 1283.3,1114.0 1283.8,1113.5 1284.1,1101.9 1284.5,1127.1 1284.9,1140.0 1285.2,1126.4 1285.6,1136.6 1286.0,1101.9 1286.4,1112.2 1286.7,1109.1 1287.1,1137.8 1287.5,1129.4 1287.8,1135.0 1288.3,1116.6 1288.6,1118.1 1288.9,1117.0 1289.4,1110.2 1289.7,1106.5 1290.1,1094.6 1290.5,1104.3 1290.8,1097.1 1291.2,1111.9 1291.6,1117.9 1292.0,1133.6 1292.3,1115.2 1292.7,1111.8 1293.1,1122.8 1293.4,1105.4 1293.9,1120.5 1294.2,1106.7 1294.5,1118.6 1295.0,1083.3 1295.3,1110.0 1295.7,1097.3 1296.1,1085.3 1296.4,1102.9 1296.8,1085.6 1297.2,1112.0 1297.6,1083.3 1297.9,1088.0 1298.4,1094.6 1298.7,1096.3 1299.0,1097.7 1299.5,1087.7 1299.8,1089.1 1300.1,1077.4 1300.6,1061.8 1300.9,1081.4 1301.3,1055.5 1301.7,1069.7 1302.0,1055.5 1302.4,1087.7 1302.8,1071.2 1303.2,1061.7 1303.5,1055.5 1304.0,1077.4 1304.3,1098.6 1304.6,1055.5 1305.1,1056.8 1305.4,1067.1 1305.7,1048.2 1306.2,1043.7 1306.5,1043.7 1306.9,1043.8 1307.3,1043.7 1307.7,1043.7 1308.0,1043.7 1308.4,1071.7 1308.8,1053.2 1309.1,1072.8 1309.6,1043.7 1309.9,1043.7 1310.2,1053.2 1310.7,1035.7 1311.0,1041.1 1311.4,1038.6 1311.8,1043.7 1312.1,1043.7 1312.5,1078.2 1312.9,1061.3 1313.3,1045.7 1313.6,1043.7 1314.0,1043.7 1314.4,1052.6 1314.7,1043.7 1315.2,1070.9 1315.5,1059.4 1315.8,1045.4 1316.3,1070.2 1316.6,1062.8 1317.0,1086.4 1317.4,1076.6 1317.7,1069.4 1318.1,1077.8 1318.5,1083.2 1318.9,1087.4 1319.2,1081.5 1319.6,1069.4 1320.0,1069.4 1320.3,1090.0 1320.8,1096.8 1321.1,1091.6 1321.4,1084.7 1321.9,1104.1 1322.2,1099.1 1322.6,1092.1 1323.0,1088.2 1323.3,1093.6 1323.7,1095.6 1324.1,1086.7 1324.5,1112.7 1324.8,1115.3 1325.3,1100.1 1325.6,1079.1 1325.9,1085.5 1326.4,1107.8 1326.7,1112.2 1327.0,1102.8 1327.5,1121.3 1327.8,1129.0 1328.2,1130.5 1328.6,1133.5 1328.9,1127.3 1329.3,1129.2 1329.7,1135.3 1330.1,1121.5 1330.4,1139.8 1330.9,1134.4 1331.2,1125.2 1331.5,1135.0 1332.0,1120.5 1332.3,1121.9 1332.6,1131.8 1333.1,1136.3 1333.4,1140.8 1333.8,1136.0 1334.2,1145.0 1334.6,1150.1 1334.9,1138.9 1335.3,1135.4 1335.7,1134.5 1336.0,1136.0 1336.5,1149.0 1336.8,1143.8 1337.1,1149.6 1337.6,1136.4 1337.9,1143.2 1338.3,1140.4 1338.7,1151.8 1339.0,1146.7 1339.4,1153.8 1339.8,1140.8 1340.2,1138.5 1340.5,1151.4 1340.9,1153.0 1341.3,1150.6 1341.6,1155.4 1342.1,1129.1 1342.4,1149.7 1342.7,1147.9 1343.2,1158.0 1343.5,1143.6 1343.9,1151.0 1344.3,1143.1 1344.6,1140.5 1345.0,1139.8 1345.4,1131.8 1345.8,1141.1 1346.1,1133.5 1346.5,1146.9 1346.9,1133.7 1347.2,1127.2 1347.7,1136.0 1348.0,1137.6 1348.3,1141.8 1348.8,1128.5 1349.1,1133.4 1349.5,1140.7 1349.9,1125.5 1350.2,1123.9 1350.6,1131.9 1351.0,1117.4 1351.4,1114.6 1351.7,1129.1 1352.1,1132.4 1352.5,1121.3 1352.8,1140.6 1353.3,1110.4 1353.6,1122.8 1353.9,1118.5 1354.4,1115.7 1354.7,1110.4 1355.1,1125.4 1355.5,1117.6 1355.8,1140.7 1356.2,1125.1 1356.6,1147.8 1357.0,1126.7 1357.3,1114.0 1357.8,1132.4 1358.1,1131.4 1358.4,1138.5 1358.9,1136.0 1359.2,1143.5 1359.5,1141.4 1360.0,1118.8 1360.3,1139.3 1360.7,1133.7 1361.1,1119.9 1361.5,1122.8 1361.8,1128.1 1362.2,1131.9 1362.6,1118.8 1362.9,1136.5 1363.4,1135.0 1363.7,1136.7 1364.0,1138.0 1364.5,1131.1 1364.8,1138.0 1365.2,1118.8 1365.6,1131.9 1365.9,1131.5 1366.3,1142.3 1366.7,1128.6 1367.1,1131.8 1367.4,1141.1 1367.8,1121.7 1368.2,1114.1 1368.5,1121.6 1369.0,1121.9 1369.3,1127.0 1369.6,1133.4 1370.1,1101.0 1370.4,1111.1 1370.8,1093.5 1371.2,1103.7 1371.5,1104.7 1371.9,1101.5 1372.3,1110.4 1372.7,1121.9 1373.0,1105.9 1373.4,1114.0 1373.8,1106.7 1374.1,1118.3 1374.6,1111.5 1374.9,1107.0 1375.2,1090.2 1375.7,1115.4 1376.0,1103.8 1376.4,1096.6 1376.8,1085.0 1377.1,1095.2 1377.5,1094.7 1377.9,1077.4 1378.3,1087.7 1378.6,1080.0 1379.0,1052.6 1379.4,1060.5 1379.7,1068.1 1380.2,1013.9 1380.5,1034.3 1380.8,1024.5 1381.3,1000.6 1381.6,1016.5 1382.0,1028.6 1382.4,1028.7 1382.7,1060.8 1383.1,1068.4 1383.5,1077.4 1383.9,1078.3 1384.2,1083.9 1384.7,1090.2 1385.0,1085.7 1385.3,1110.2 1385.8,1083.3 1386.1,1086.6 1386.4,1083.3 1386.9,1083.3 1387.2,1089.8 1387.6,1102.6 1388.0,1102.6 1388.4,1113.7 1388.7,1114.3 1389.1,1109.3 1389.5,1126.9 1389.8,1106.7 1390.3,1117.1 1390.6,1098.9 1390.9,1098.3 1391.4,1101.4 1391.7,1100.4 1392.1,1095.5 1392.5,1093.5 1392.8,1108.9 1393.2,1096.0 1393.6,1114.1 1394.0,1101.0 1394.3,1097.6 1394.7,1111.5 1395.1,1111.0 1395.4,1106.7 1395.9,1099.7 1396.2,1095.4 1396.5,1115.7 1397.0,1086.6 1397.3,1095.6 1397.7,1101.1 1398.1,1079.7 1398.4,1080.3 1398.8,1069.4 1399.2,1069.5 1399.6,1108.6 1399.9,1062.8 1400.3,1039.8 1400.7,1026.3 1401.0,1026.3 1401.5,1026.3 1401.8,1026.3 1402.1,1026.3 1402.6,1050.3 1402.9,1017.4 1403.3,1053.9 1403.7,1070.0 1404.0,1042.9 1404.4,1065.9 1404.8,1084.7 1405.2,1086.9 1405.5,1096.6 1405.9,1118.0 1406.3,1109.4 1406.6,1113.0 1407.1,1090.8 1407.4,1106.2 1407.7,1109.1 1408.2,1112.9 1408.5,1132.4 1408.9,1116.5 1409.3,1139.6 1409.6,1140.3 1410.0,1131.6 1410.4,1127.2 1410.8,1134.4 1411.1,1134.4 1411.6,1153.2 1411.9,1144.5 1412.2,1137.9 1412.7,1147.8 1413.0,1139.4 1413.3,1146.2 1413.8,1150.6 1414.1,1153.5 1414.5,1152.1 1414.9,1144.6 1415.3,1143.9 1415.6,1146.1 1416.0,1130.8 1416.4,1141.9 1416.7,1153.3 1417.2,1147.2 1417.5,1127.6 1417.8,1136.3 1418.3,1127.2 1418.6,1131.6 1418.9,1130.9 1419.4,1139.9 1419.7,1136.0 1420.1,1143.7 1420.5,1126.6 1420.9,1136.3 1421.2,1136.3 1421.6,1133.4 1422.0,1123.6 1422.3,1125.3 1422.8,1120.2 1423.1,1135.5 1423.4,1135.3 1423.9,1126.4 1424.2,1121.5 1424.6,1135.4 1425.0,1129.4 1425.3,1117.5 1425.7,1109.5 1426.1,1123.7 1426.5,1127.6 1426.8,1103.8 1427.2,1079.6 1427.6,1076.7 1427.9,1113.3 1428.4,1086.7 1428.7,1103.0 1429.0,1114.2 1429.5,1102.7 1429.8,1076.7 1430.2,1096.1 1430.6,1092.1 1430.9,1102.4 1431.3,1092.3 1431.7,1082.2 1432.1,1118.5 1432.4,1080.0 1432.8,1076.9 1433.2,1077.7 1433.5,1088.3 1434.0,1084.0 1434.3,1078.6 1434.6,1062.8 1435.1,1089.1 1435.4,1069.4 1435.8,1069.4 1436.2,1099.2 1436.5,1069.4 1436.9,1069.8 1437.3,1095.3 1437.7,1079.6 1438.0,1109.9 1438.5,1107.8 1438.8,1085.4 1439.1,1088.0 1439.6,1087.8 1439.9,1112.1 1440.2,1103.1 1440.7,1118.7 1441.0,1116.1 1441.4,1117.3 1441.8,1121.3 1442.1,1122.5 1442.5,1133.5 1442.9,1127.5 1443.3,1128.1 1443.6,1155.0 1444.1,1138.8 1444.4,1119.1 1444.7,1136.7 1445.2,1136.6 1445.5,1128.9 1445.8,1128.1 1446.3,1142.6 1446.6,1138.5 1447.0,1110.4 1447.4,1126.1 1447.8,1130.9 1448.1,1141.3 1448.5,1142.8 1448.9,1150.6 1449.2,1133.5 1449.7,1152.5 1450.0,1146.9 1450.3,1151.6 1450.8,1152.4 1451.1,1134.8 1451.5,1150.1 1451.9,1146.3 1452.2,1151.1 1452.6,1152.1 1453.0,1143.4 1453.4,1141.1 1453.7,1142.1 1454.1,1134.1 1454.5,1138.1 1454.8,1154.2 1455.3,1119.8 1455.6,1126.7 1455.9,1129.5 1456.4,1137.5 1456.7,1139.6 1457.1,1140.6 1457.5,1130.9 1457.8,1129.7 1458.2,1128.6 1458.6,1112.3 1459.0,1113.3 1459.3,1117.2 1459.7,1130.2 1460.1,1105.0 1460.4,1117.5 1460.9,1135.4 1461.2,1121.4 1461.5,1121.6 1462.0,1120.6 1462.3,1113.7 1462.7,1105.0 1463.1,1115.0 1463.4,1103.6 1463.8,1121.3 1464.2,1137.2 1464.6,1108.6 1464.9,1117.4 1465.4,1130.8 1465.7,1122.8 1466.0,1123.6 1465.9,1119.9 1466.2,1118.9 1466.6,1115.5 1466.5,1122.5 1466.8,1119.0 1467.1,1124.3 1467.6,1118.9 1467.9,1110.8 1468.3,1116.4 1468.7,1133.8 1469.0,1137.8 1469.4,1136.2 1469.8,1126.7 1470.2,1125.7 1470.5,1139.7 1471.0,1140.0 1471.3,1123.8 1471.6,1144.3 1472.1,1114.3 1472.4,1138.1 1472.7,1148.5 1473.2,1128.8 1473.5,1131.6 1473.9,1128.6 1474.3,1127.9 1474.7,1128.8 1475.0,1130.9 1475.4,1121.6 1475.8,1120.0 1476.1,1118.8 1476.6,1141.5 1476.9,1129.5 1477.2,1139.9 1477.7,1133.0 1478.0,1150.9 1478.4,1142.8 1478.8,1128.7 1479.1,1127.7 1479.5,1144.8 1479.9,1137.7 1480.3,1139.7 1480.6,1140.6 1481.0,1141.7 1481.4,1144.6 1481.7,1136.0 1482.2,1136.2 1482.5,1138.2 1482.8,1141.3 1483.3,1126.5 1483.6,1135.4 1484.0,1145.5 1484.4,1145.6 1484.7,1143.3 1485.1,1149.1 1485.5,1135.6 1485.9,1149.4 1486.2,1139.6 1486.6,1138.3 1487.0,1153.8 1487.3,1151.2 1487.8,1156.2 1488.1,1157.9 1488.4,1144.0 1488.9,1144.1 1489.2,1135.6 1489.6,1142.5 1490.0,1158.5 1490.3,1156.6 1490.7,1160.8 1491.1,1149.9 1491.5,1142.5 1491.8,1149.2 1492.2,1145.3 1492.6,1145.6 1492.9,1155.0 1493.4,1145.7 1493.7,1158.1 1494.0,1154.6 1494.5,1152.5 1494.8,1145.6 1495.2,1148.6 1495.6,1159.0 1495.9,1163.6 1496.3,1158.0 1496.7,1154.7 1497.1,1152.5 1497.4,1154.5 1497.9,1160.5 1498.2,1157.9 1498.5,1158.6 1499.0,1149.7 1499.3,1160.7 1499.6,1148.8 1500.1,1135.4 1500.4,1140.9 1500.8,1144.1 1501.2,1129.7 1501.6,1145.2 1501.9,1145.5 1502.3,1143.7 1502.7,1147.0 1503.0,1137.1 1503.5,1130.2 1503.8,1139.9 1504.1,1133.9 1504.6,1136.2 1504.9,1136.0 1505.3,1145.7 1505.7,1113.8 1506.0,1114.7 1506.4,1125.7 1506.8,1127.7 1507.2,1110.6 1507.5,1108.4 1507.9,1101.1 1508.3,1106.5 1508.6,1099.4 1509.1,1067.7 1509.4,1073.8 1509.7,1072.3 1510.2,1042.3 1510.5,1055.3 1510.9,1044.9 1511.3,1065.5 1511.6,1066.1 1512.0,1052.7 1512.4,1103.7 1512.8,1107.2 1513.1,1099.4 1513.5,1095.2 1513.9,1104.4 1514.2,1121.2 1514.7,1132.6 1515.0,1112.3 1515.3,1124.7 1515.8,1118.6 1516.1,1122.3 1516.5,1125.0 1516.9,1144.5 1517.2,1134.7 1517.6,1135.3 1518.0,1139.4 1518.4,1141.8 1518.7,1136.0 1519.1,1152.5 1519.5,1127.8 1519.8,1146.9 1520.3,1143.3 1520.6,1142.8 1520.9,1146.7 1521.4,1153.5 1521.7,1146.6 1522.1,1147.9 1522.5,1149.0 1522.8,1147.6 1523.2,1155.9 1523.6,1150.6 1524.0,1163.4 1524.3,1157.5 1524.8,1156.4 1525.1,1156.4 1525.4,1155.3 1525.9,1139.5 1526.2,1145.8 1526.5,1143.3 1527.0,1134.8 1527.3,1139.6 1527.7,1140.9 1528.1,1148.8 1528.5,1137.8 1528.8,1127.2 1529.2,1133.2 1529.6,1149.9 1529.9,1149.7 1530.4,1137.9 1530.7,1135.1 1531.0,1129.5 1531.5,1136.0 1531.8,1145.1 1532.2,1137.6 1532.6,1121.9 1532.9,1128.8 1533.3,1126.8 1533.7,1102.2 1534.1,1115.4 1534.4,1110.9 1534.8,1079.2 1535.2,1099.1 1535.5,1093.7 1536.0,1079.9 1536.3,1103.4 1536.6,1087.8 1537.1,1084.7 1537.4,1094.1 1537.8,1088.4 1538.2,1048.7 1538.5,1031.0 1538.9,1059.2 1539.3,976.9 1539.7,976.9 1540.0,1032.1 1540.4,1016.1 1540.8,1002.0 1541.1,965.5 1541.6,976.9 1541.9,976.9 1542.2,976.9 1542.7,1035.0 1543.0,1022.7 1543.4,1035.0 1543.8,1063.0 1544.1,1048.2 1544.5,1070.4 1544.9,1072.5 1545.3,1092.5 1545.6,1075.0 1546.0,1090.7 1546.4,1065.4 1546.7,1075.0 1547.2,1057.6 1547.5,1060.2 1547.8,1072.4 1548.3,1092.3 1548.6,1062.0 1549.0,1073.1 1549.4,1081.7 1549.7,1077.4 1550.1,1091.1 1550.5,1056.9 1550.9,1076.9 1551.2,1090.9 1551.7,1064.7 1552.0,1056.9 1552.3,1056.9 1552.8,1056.9 1553.1,1079.8 1553.4,1087.5 1553.9,1056.9 1554.2,1070.9 1554.6,1083.7 1555.0,1056.9 1555.4,1056.9 1555.7,1056.9 1556.1,1067.1 1556.5,1056.9 1556.8,1056.9 1557.3,1056.9 1557.6,1056.9 1557.9,1056.9 1558.4,1056.1 1558.7,1069.2 1559.0,1049.6 1559.5,1077.1 1559.8,1056.9 1560.2,1082.8 1560.6,1056.9 1561.0,1076.6 1561.3,1077.3 1561.7,1094.0 1562.1,1086.6 1562.4,1080.7 1562.9,1110.4 1563.2,1139.1 1563.5,1106.7 1564.0,1109.0 1564.3,1116.8 1564.7,1097.2 1565.1,1121.8 1565.4,1125.3 1565.8,1121.0 1566.2,1124.6 1566.6,1120.3 1566.9,1124.2 1567.3,1141.2 1567.7,1120.1 1568.0,1113.6 1568.5,1143.1 1568.8,1122.4 1569.1,1136.5 1569.6,1118.7 1569.9,1119.4 1570.3,1128.0 1570.7,1136.9 1571.0,1145.4 1571.4,1133.6 1571.8,1141.3 1572.2,1124.7 1572.5,1134.7 1572.9,1152.0 1573.3,1128.8 1573.6,1145.3 1574.1,1148.7 1574.4,1146.9 1574.7,1149.7 1575.2,1127.6 1575.5,1145.4 1575.9,1142.0 1576.3,1129.9 1576.6,1139.1 1577.0,1144.5 1577.4,1127.3 1577.8,1148.6 1578.1,1147.3 1578.6,1131.1 1578.9,1122.1 1579.2,1129.5 1579.7,1130.1 1580.0,1139.4 1580.3,1141.7 1580.8,1129.3 1581.1,1125.2 1581.5,1118.8 1581.9,1136.1 1582.2,1127.7 1582.6,1133.8 1583.0,1128.6 1583.4,1132.9 1583.7,1145.4 1584.2,1107.4 1584.5,1120.7 1584.8,1086.6 1585.3,1100.6 1585.6,1111.0 1585.9,1102.7 1586.4,1115.1 1586.7,1120.0 1587.1,1110.8 1587.5,1102.1 1587.9,1088.7 1588.2,1090.2 1588.6,1095.8 1589.0,1083.3 1589.3,1085.1 1589.8,1078.4 1590.1,1079.2 1590.4,1077.4 1590.9,1089.1 1591.2,1065.0 1591.6,1104.4 1592.0,1065.1 1592.3,1022.3 1592.7,1020.7 1593.1,1030.5 1593.5,1020.7 1593.8,1034.3 1594.2,1011.6 1594.6,1024.1 1594.9,1023.5 1595.4,983.9 1595.7,1025.6 1596.0,985.5 1596.5,983.9 1596.8,983.9 1597.2,983.9 1597.0,972.8 1597.4,986.8 1597.7,991.1 1597.6,1018.4 1597.9,983.9 1598.3,1015.0 1598.7,1020.0 1599.1,999.2 1599.4,1016.9 1599.8,1035.2 1600.2,1016.7 1600.5,1004.3 1601.0,1013.8 1601.3,1013.8 1601.6,1015.2 1602.1,1039.9 1602.4,1013.8 1602.8,1028.8 1603.2,1013.8 1603.5,1013.8 1603.9,1039.0 1604.3,1048.2 1604.7,1075.3 1605.0,1063.3 1605.5,1058.8 1605.8,1081.1 1606.1,1084.2 1606.6,1069.7 1606.9,1063.7 1607.2,1075.8 1607.7,1087.3 1608.0,1089.3 1608.4,1100.7 1608.8,1094.8 1609.1,1093.6 1609.5,1124.2 1609.9,1117.6 1610.3,1114.0 1610.6,1124.7 1611.1,1105.3 1611.4,1101.8 1611.7,1113.8 1612.2,1119.6 1612.5,1127.1 1612.8,1106.9 1613.3,1125.9 1613.6,1095.1 1614.0,1095.4 1614.4,1101.0 1614.8,1103.1 1615.1,1098.9 1615.5,1106.2 1615.9,1088.5 1616.2,1085.2 1616.7,1108.2 1617.0,1099.4 1617.3,1100.3 1617.8,1101.5 1618.1,1105.0 1618.5,1096.5 1618.9,1077.6 1619.2,1060.8 1619.6,1073.6 1620.0,1067.0 1620.4,1061.2 1620.7,1061.0 1621.1,1071.8 1621.5,1077.6 1621.8,1087.0 1622.3,1055.5 1622.6,1059.6 1622.9,1055.5 1623.4,1058.1 1623.7,1066.5 1624.1,1048.2 1624.5,1016.4 1624.8,1003.5 1625.2,986.0 1625.6,1057.7 1626.0,986.0 1626.3,1001.7 1626.7,1005.0 1627.1,996.9 1627.4,975.0 1627.9,928.1 1628.2,899.1 1628.5,899.1 1629.0,922.6 1629.3,892.6 1629.7,883.5 1630.1,918.4 1630.4,899.1 1630.8,973.2 1631.2,977.2 1631.6,997.4 1631.9,975.0 1632.3,995.2 1632.7,1019.3 1633.0,986.0 1633.5,998.3 1633.8,1001.5 1634.1,1018.5 1634.6,986.0 1634.9,1034.1 1635.3,986.0 1635.7,1065.6 1636.0,1048.2 1636.4,1060.0 1636.8,1055.5 1637.2,1055.5 1637.5,1081.2 1638.0,1055.5 1638.3,1055.5 1638.6,1075.0 1639.1,1076.9 1639.4,1095.9 1639.7,1071.2 1640.2,1066.3 1640.5,1067.1 1640.9,1059.8 1641.3,1115.6 1641.7,1099.2 1642.0,1084.7 1642.4,1111.6 1642.8,1078.7 1643.1,1086.9 1643.6,1087.2 1643.9,1118.2 1644.2,1068.3 1644.7,1068.3 1645.0,1068.3 1645.4,1068.3 1645.8,1098.9 1646.1,1068.3 1646.5,1074.9 1646.9,1087.5 1647.3,1080.5 1647.6,1088.4 1648.0,1109.2 1648.4,1100.1 1648.7,1110.1 1649.2,1101.0 1649.5,1088.5 1649.8,1111.7 1650.3,1115.8 1650.6,1099.4 1651.0,1115.2 1651.4,1110.0 1651.7,1114.8 1652.1,1117.6 1652.5,1096.5 1652.9,1096.9 1653.2,1092.2 1653.6,1099.0 1654.0,1105.7 1654.3,1112.0 1654.8,1111.4 1655.1,1120.6 1655.4,1106.3 1655.9,1109.3 1656.2,1105.0 1656.6,1104.4 1657.0,1104.4 1657.3,1117.3 1657.7,1110.3 1658.1,1123.4 1658.5,1138.1 1658.8,1121.3 1659.2,1110.4 1659.6,1133.3 1659.9,1120.8 1660.4,1145.4 1660.7,1126.5 1661.0,1138.1 1661.5,1119.2 1661.8,1122.6 1662.2,1133.3 1662.6,1128.3 1662.9,1144.2 1663.3,1129.1 1663.7,1141.9 1664.1,1138.1 1664.4,1130.6 1664.9,1135.2 1665.2,1126.8 1665.5,1134.7 1666.0,1143.3 1666.3,1148.9 1666.6,1143.8 1667.1,1141.9 1667.4,1132.7 1667.8,1144.5 1668.2,1128.3 1668.6,1121.2 1668.9,1129.1 1669.3,1129.7 1669.7,1119.1 1670.0,1127.1 1670.5,1114.2 1670.8,1114.2 1671.1,1131.7 1671.6,1125.4 1671.9,1086.9 1672.3,1101.3 1672.7,1071.6 1673.0,1080.6 1673.4,1115.9 1673.8,1090.3 1674.2,1088.5 1674.5,1087.7 1674.9,1117.7 1675.3,1121.3 1675.6,1110.5 1676.1,1093.6 1676.4,1112.9 1676.7,1105.3 1677.2,1103.9 1677.5,1101.5 1677.9,1095.9 1678.3,1116.9 1678.6,1121.0 1679.0,1114.0 1679.4,1125.7 1679.8,1127.5 1680.1,1101.9 1680.5,1101.9 1680.9,1112.7 1681.2,1107.3 1681.7,1131.9 1682.0,1128.8 1682.3,1134.8 1682.8,1119.7 1683.1,1119.7 1683.5,1132.1 1683.9,1125.2 1684.2,1126.6 1684.6,1118.6 1685.0,1118.2 1685.4,1130.4 1685.7,1123.3 1686.1,1129.6 1686.5,1121.3 1686.8,1124.5 1687.3,1111.5 1687.6,1112.4 1687.9,1127.4 1688.4,1108.6 1688.7,1107.8 1689.1,1109.6 1689.5,1104.5 1689.8,1115.8 1690.2,1121.8 1690.6,1125.1 1691.0,1105.0 1691.3,1102.4 1691.8,1114.1 1692.1,1101.9 1692.4,1101.9 1692.9,1114.0 1693.2,1125.1 1693.5,1130.9 1694.0,1117.8 1694.3,1101.2 1694.7,1105.3 1695.1,1087.0 1695.5,1101.1 1695.8,1095.9 1696.2,1071.7 1696.6,1079.6 1696.9,1099.6 1697.4,1083.6 1697.7,1082.1 1698.0,1090.3 1698.5,1075.6 1698.8,1096.9 1699.1,1114.9 1699.6,1088.0 1699.9,1084.7 1700.3,1104.8 1700.7,1093.2 1701.1,1086.5 1701.4,1068.1 1701.8,1066.8 1702.2,1061.0 1702.5,1074.1 1703.0,1075.0 1703.3,1089.1 1703.6,1078.5 1704.1,1078.1 1704.4,1061.0 1704.8,1065.9 1705.2,1054.9 1705.5,1060.2 1705.9,1054.0" fill="none" stroke="#C77CFF" stroke-width="1.5" stroke-linejoin="round"/>
<line x1="101.3" y1="486.5" x2="110.8" y2="486.5" stroke="#333333" stroke-width="2.2"/>
<text x="93.6" y="502.4" class="tk" text-anchor="end">0</text>
<line x1="101.3" y1="340.4" x2="110.8" y2="340.4" stroke="#333333" stroke-width="2.2"/>
<text x="93.6" y="357.8" class="tk" text-anchor="end">2</text>
<line x1="101.3" y1="194.3" x2="110.8" y2="194.3" stroke="#333333" stroke-width="2.2"/>
<text x="93.6" y="211.0" class="tk" text-anchor="end">4</text>
<line x1="101.3" y1="48.2" x2="110.8" y2="48.2" stroke="#333333" stroke-width="2.2"/>
<text x="93.6" y="63.6" class="tk" text-anchor="end">6</text>
<line x1="145.3" y1="508" x2="145.3" y2="516" stroke="#333333" stroke-width="2.2"/>
<text x="143.3" y="556.0" class="tk" text-anchor="middle" >0</text>
<line x1="279.8" y1="508" x2="279.8" y2="516" stroke="#333333" stroke-width="2.2"/>
<text x="277.8" y="556.0" class="tk" text-anchor="middle" >100</text>
<line x1="414.4" y1="508" x2="414.4" y2="516" stroke="#333333" stroke-width="2.2"/>
<text x="412.4" y="556.0" class="tk" text-anchor="middle" >200</text>
<line x1="548.9" y1="508" x2="548.9" y2="516" stroke="#333333" stroke-width="2.2"/>
<text x="546.9" y="556.0" class="tk" text-anchor="middle" >300</text>
<line x1="683.5" y1="508" x2="683.5" y2="516" stroke="#333333" stroke-width="2.2"/>
<text x="681.5" y="556.0" class="tk" text-anchor="middle" >400</text>
<line x1="818.0" y1="508" x2="818.0" y2="516" stroke="#333333" stroke-width="2.2"/>
<text x="816.0" y="556.0" class="tk" text-anchor="middle" >500</text>
<rect x="110.8" y="26.8" width="741.7" height="481.2" fill="none" stroke="#333333" stroke-width="2.2"/>
<text x="482.6" y="611.0" class="ti" text-anchor="middle" textLength="204.5" lengthAdjust="spacingAndGlyphs">Time(ns)</text>
<text transform="translate(55.7,265.1) rotate(-90)" class="ti" text-anchor="middle" textLength="220" lengthAdjust="spacingAndGlyphs">RMSD(Å)</text><line x1="1014.3" y1="486.5" x2="1023.8" y2="486.5" stroke="#333333" stroke-width="2.2"/>
<text x="1006.6" y="502.4" class="tk" text-anchor="end">0</text>
<line x1="1014.3" y1="340.4" x2="1023.8" y2="340.4" stroke="#333333" stroke-width="2.2"/>
<text x="1006.6" y="357.8" class="tk" text-anchor="end">2</text>
<line x1="1014.3" y1="194.3" x2="1023.8" y2="194.3" stroke="#333333" stroke-width="2.2"/>
<text x="1006.6" y="211.0" class="tk" text-anchor="end">4</text>
<line x1="1014.3" y1="48.2" x2="1023.8" y2="48.2" stroke="#333333" stroke-width="2.2"/>
<text x="1006.6" y="63.6" class="tk" text-anchor="end">6</text>
<line x1="1058.3" y1="508" x2="1058.3" y2="516" stroke="#333333" stroke-width="2.2"/>
<text x="1056.3" y="556.0" class="tk" text-anchor="middle" >0</text>
<line x1="1192.8" y1="508" x2="1192.8" y2="516" stroke="#333333" stroke-width="2.2"/>
<text x="1190.8" y="556.0" class="tk" text-anchor="middle" >100</text>
<line x1="1327.4" y1="508" x2="1327.4" y2="516" stroke="#333333" stroke-width="2.2"/>
<text x="1325.4" y="556.0" class="tk" text-anchor="middle" >200</text>
<line x1="1461.9" y1="508" x2="1461.9" y2="516" stroke="#333333" stroke-width="2.2"/>
<text x="1459.9" y="556.0" class="tk" text-anchor="middle" >300</text>
<line x1="1596.5" y1="508" x2="1596.5" y2="516" stroke="#333333" stroke-width="2.2"/>
<text x="1594.5" y="556.0" class="tk" text-anchor="middle" >400</text>
<line x1="1731.0" y1="508" x2="1731.0" y2="516" stroke="#333333" stroke-width="2.2"/>
<text x="1729.0" y="556.0" class="tk" text-anchor="middle" >500</text>
<rect x="1023.8" y="26.8" width="741.7" height="481.2" fill="none" stroke="#333333" stroke-width="2.2"/>
<text x="1395.6" y="611.0" class="ti" text-anchor="middle" textLength="204.5" lengthAdjust="spacingAndGlyphs">Time(ns)</text>
<text transform="translate(968.7,265.1) rotate(-90)" class="ti" text-anchor="middle" textLength="220" lengthAdjust="spacingAndGlyphs">RMSD(Å)</text><line x1="101.3" y1="1194.5" x2="110.8" y2="1194.5" stroke="#333333" stroke-width="2.2"/>
<text x="93.6" y="1210.4" class="tk" text-anchor="end">0</text>
<line x1="101.3" y1="1048.2" x2="110.8" y2="1048.2" stroke="#333333" stroke-width="2.2"/>
<text x="93.6" y="1065.6" class="tk" text-anchor="end">2</text>
<line x1="101.3" y1="901.8" x2="110.8" y2="901.8" stroke="#333333" stroke-width="2.2"/>
<text x="93.6" y="918.5" class="tk" text-anchor="end">4</text>
<line x1="101.3" y1="755.5" x2="110.8" y2="755.5" stroke="#333333" stroke-width="2.2"/>
<text x="93.6" y="770.9" class="tk" text-anchor="end">6</text>
<line x1="145.5" y1="1216" x2="145.5" y2="1224" stroke="#333333" stroke-width="2.2"/>
<text x="143.5" y="1264.0" class="tk" text-anchor="middle" >0</text>
<line x1="369.7" y1="1216" x2="369.7" y2="1224" stroke="#333333" stroke-width="2.2"/>
<text x="367.7" y="1264.0" class="tk" text-anchor="middle" >200</text>
<line x1="593.8" y1="1216" x2="593.8" y2="1224" stroke="#333333" stroke-width="2.2"/>
<text x="591.8" y="1264.0" class="tk" text-anchor="middle" >400</text>
<line x1="818.0" y1="1216" x2="818.0" y2="1224" stroke="#333333" stroke-width="2.2"/>
<text x="816.0" y="1264.0" class="tk" text-anchor="middle" >600</text>
<rect x="110.8" y="734.8" width="741.7" height="481.2" fill="none" stroke="#333333" stroke-width="2.2"/>
<text x="481.5" y="1319.0" class="ti" text-anchor="middle" textLength="191" lengthAdjust="spacingAndGlyphs">Residue</text>
<text transform="translate(55.7,972.2) rotate(-90)" class="ti" text-anchor="middle" textLength="217" lengthAdjust="spacingAndGlyphs">RMSF(Å)</text><line x1="1014.3" y1="1194.5" x2="1023.8" y2="1194.5" stroke="#333333" stroke-width="2.2"/>
<text x="1006.6" y="1210.4" class="tk" text-anchor="end">0</text>
<line x1="1014.3" y1="1048.2" x2="1023.8" y2="1048.2" stroke="#333333" stroke-width="2.2"/>
<text x="1006.6" y="1065.6" class="tk" text-anchor="end">2</text>
<line x1="1014.3" y1="901.8" x2="1023.8" y2="901.8" stroke="#333333" stroke-width="2.2"/>
<text x="1006.6" y="918.5" class="tk" text-anchor="end">4</text>
<line x1="1014.3" y1="755.5" x2="1023.8" y2="755.5" stroke="#333333" stroke-width="2.2"/>
<text x="1006.6" y="770.9" class="tk" text-anchor="end">6</text>
<line x1="1058.5" y1="1216" x2="1058.5" y2="1224" stroke="#333333" stroke-width="2.2"/>
<text x="1056.5" y="1264.0" class="tk" text-anchor="middle" >0</text>
<line x1="1282.7" y1="1216" x2="1282.7" y2="1224" stroke="#333333" stroke-width="2.2"/>
<text x="1280.7" y="1264.0" class="tk" text-anchor="middle" >200</text>
<line x1="1506.8" y1="1216" x2="1506.8" y2="1224" stroke="#333333" stroke-width="2.2"/>
<text x="1504.8" y="1264.0" class="tk" text-anchor="middle" >400</text>
<line x1="1731.0" y1="1216" x2="1731.0" y2="1224" stroke="#333333" stroke-width="2.2"/>
<text x="1729.0" y="1264.0" class="tk" text-anchor="middle" >600</text>
<rect x="1023.8" y="734.8" width="741.7" height="481.2" fill="none" stroke="#333333" stroke-width="2.2"/>
<text x="1394.5" y="1319.0" class="ti" text-anchor="middle" textLength="191" lengthAdjust="spacingAndGlyphs">Residue</text>
<text transform="translate(968.7,972.2) rotate(-90)" class="ti" text-anchor="middle" textLength="217" lengthAdjust="spacingAndGlyphs">RMSF(Å)</text>
<text y="103.6" class="lg"><tspan x="337.0" textLength="35.5" lengthAdjust="spacingAndGlyphs">27</tspan> <tspan x="384.0" dy="-4.5" style="font-size:27px" textLength="9.25" lengthAdjust="spacingAndGlyphs">°</tspan><tspan x="397.0" dy="4.5" textLength="18.5" lengthAdjust="spacingAndGlyphs">C</tspan></text>
<text y="170.6" class="lg"><tspan x="337.0" textLength="35.5" lengthAdjust="spacingAndGlyphs">30</tspan> <tspan x="384.0" dy="-4.5" style="font-size:27px" textLength="9.25" lengthAdjust="spacingAndGlyphs">°</tspan><tspan x="397.0" dy="4.5" textLength="18.5" lengthAdjust="spacingAndGlyphs">C</tspan></text>
<text y="105.6" class="lg"><tspan x="529.0" textLength="35.5" lengthAdjust="spacingAndGlyphs">34</tspan> <tspan x="576.0" dy="-4.5" style="font-size:27px" textLength="9.25" lengthAdjust="spacingAndGlyphs">°</tspan><tspan x="589.0" dy="4.5" textLength="18.5" lengthAdjust="spacingAndGlyphs">C</tspan></text>
<text y="164.4" class="lg"><tspan x="529.0" textLength="35.5" lengthAdjust="spacingAndGlyphs">41</tspan> <tspan x="576.0" dy="-4.5" style="font-size:27px" textLength="9.25" lengthAdjust="spacingAndGlyphs">°</tspan><tspan x="589.0" dy="4.5" textLength="18.5" lengthAdjust="spacingAndGlyphs">C</tspan></text>
<line x1="295.6" y1="90.4" x2="328" y2="90.4" stroke="#F8766D" stroke-opacity="0.75" stroke-width="2.6"/>
<line x1="294" y1="162" x2="326.6" y2="162" stroke="#7CAE00" stroke-opacity="0.75" stroke-width="2.6"/>
<line x1="482.4" y1="94" x2="516" y2="94" stroke="#00BFC4" stroke-opacity="0.75" stroke-width="2.6"/>
<line x1="481" y1="152.6" x2="513.6" y2="152.6" stroke="#C77CFF" stroke-opacity="0.75" stroke-width="2.6"/>
<text y="84" class="lg"><tspan x="1304.0" textLength="35.5" lengthAdjust="spacingAndGlyphs">27</tspan> <tspan x="1351.0" dy="-4.5" style="font-size:27px" textLength="9.25" lengthAdjust="spacingAndGlyphs">°</tspan><tspan x="1364.0" dy="4.5" textLength="18.5" lengthAdjust="spacingAndGlyphs">C</tspan></text>
<text y="151" class="lg"><tspan x="1304.0" textLength="35.5" lengthAdjust="spacingAndGlyphs">30</tspan> <tspan x="1351.0" dy="-4.5" style="font-size:27px" textLength="9.25" lengthAdjust="spacingAndGlyphs">°</tspan><tspan x="1364.0" dy="4.5" textLength="18.5" lengthAdjust="spacingAndGlyphs">C</tspan></text>
<text y="86" class="lg"><tspan x="1496.0" textLength="35.5" lengthAdjust="spacingAndGlyphs">34</tspan> <tspan x="1543.0" dy="-4.5" style="font-size:27px" textLength="9.25" lengthAdjust="spacingAndGlyphs">°</tspan><tspan x="1556.0" dy="4.5" textLength="18.5" lengthAdjust="spacingAndGlyphs">C</tspan></text>
<text y="144.4" class="lg"><tspan x="1496.0" textLength="35.5" lengthAdjust="spacingAndGlyphs">41</tspan> <tspan x="1543.0" dy="-4.5" style="font-size:27px" textLength="9.25" lengthAdjust="spacingAndGlyphs">°</tspan><tspan x="1556.0" dy="4.5" textLength="18.5" lengthAdjust="spacingAndGlyphs">C</tspan></text>
<line x1="1263" y1="71" x2="1294.6" y2="71" stroke="#F8766D" stroke-opacity="0.75" stroke-width="2.6"/>
<line x1="1261" y1="142.4" x2="1293.6" y2="142.4" stroke="#7CAE00" stroke-opacity="0.75" stroke-width="2.6"/>
<line x1="1450" y1="74.4" x2="1482.4" y2="74.4" stroke="#00BFC4" stroke-opacity="0.75" stroke-width="2.6"/>
<line x1="1448.4" y1="133.4" x2="1480.4" y2="133.4" stroke="#C77CFF" stroke-opacity="0.75" stroke-width="2.6"/>
<text y="791.6" class="lg"><tspan x="335.0" textLength="35.5" lengthAdjust="spacingAndGlyphs">27</tspan> <tspan x="382.0" dy="-4.5" style="font-size:27px" textLength="9.25" lengthAdjust="spacingAndGlyphs">°</tspan><tspan x="395.0" dy="4.5" textLength="18.5" lengthAdjust="spacingAndGlyphs">C</tspan></text>
<text y="858.6" class="lg"><tspan x="335.0" textLength="35.5" lengthAdjust="spacingAndGlyphs">30</tspan> <tspan x="382.0" dy="-4.5" style="font-size:27px" textLength="9.25" lengthAdjust="spacingAndGlyphs">°</tspan><tspan x="395.0" dy="4.5" textLength="18.5" lengthAdjust="spacingAndGlyphs">C</tspan></text>
<text y="793" class="lg"><tspan x="527.0" textLength="35.5" lengthAdjust="spacingAndGlyphs">34</tspan> <tspan x="574.0" dy="-4.5" style="font-size:27px" textLength="9.25" lengthAdjust="spacingAndGlyphs">°</tspan><tspan x="587.0" dy="4.5" textLength="18.5" lengthAdjust="spacingAndGlyphs">C</tspan></text>
<text y="852" class="lg"><tspan x="527.0" textLength="35.5" lengthAdjust="spacingAndGlyphs">41</tspan> <tspan x="574.0" dy="-4.5" style="font-size:27px" textLength="9.25" lengthAdjust="spacingAndGlyphs">°</tspan><tspan x="587.0" dy="4.5" textLength="18.5" lengthAdjust="spacingAndGlyphs">C</tspan></text>
<line x1="293.6" y1="778" x2="326" y2="778" stroke="#F8766D" stroke-opacity="0.75" stroke-width="2.6"/>
<line x1="292" y1="849" x2="324" y2="849" stroke="#7CAE00" stroke-opacity="0.75" stroke-width="2.6"/>
<line x1="480" y1="781.4" x2="513" y2="781.4" stroke="#00BFC4" stroke-opacity="0.75" stroke-width="2.6"/>
<line x1="478.6" y1="840.6" x2="511.4" y2="840.6" stroke="#C77CFF" stroke-opacity="0.75" stroke-width="2.6"/>
<text y="782.4" class="lg"><tspan x="1298.0" textLength="35.5" lengthAdjust="spacingAndGlyphs">27</tspan> <tspan x="1345.0" dy="-4.5" style="font-size:27px" textLength="9.25" lengthAdjust="spacingAndGlyphs">°</tspan><tspan x="1358.0" dy="4.5" textLength="18.5" lengthAdjust="spacingAndGlyphs">C</tspan></text>
<text y="850" class="lg"><tspan x="1298.0" textLength="35.5" lengthAdjust="spacingAndGlyphs">30</tspan> <tspan x="1345.0" dy="-4.5" style="font-size:27px" textLength="9.25" lengthAdjust="spacingAndGlyphs">°</tspan><tspan x="1358.0" dy="4.5" textLength="18.5" lengthAdjust="spacingAndGlyphs">C</tspan></text>
<text y="784.4" class="lg"><tspan x="1489.6" textLength="35.5" lengthAdjust="spacingAndGlyphs">34</tspan> <tspan x="1536.6" dy="-4.5" style="font-size:27px" textLength="9.25" lengthAdjust="spacingAndGlyphs">°</tspan><tspan x="1549.6" dy="4.5" textLength="18.5" lengthAdjust="spacingAndGlyphs">C</tspan></text>
<text y="843" class="lg"><tspan x="1489.6" textLength="35.5" lengthAdjust="spacingAndGlyphs">41</tspan> <tspan x="1536.6" dy="-4.5" style="font-size:27px" textLength="9.25" lengthAdjust="spacingAndGlyphs">°</tspan><tspan x="1549.6" dy="4.5" textLength="18.5" lengthAdjust="spacingAndGlyphs">C</tspan></text>
<line x1="1256.4" y1="769.6" x2="1288.4" y2="769.6" stroke="#F8766D" stroke-opacity="0.75" stroke-width="2.6"/>
<line x1="1254.6" y1="840.4" x2="1287" y2="840.4" stroke="#7CAE00" stroke-opacity="0.75" stroke-width="2.6"/>
<line x1="1443" y1="772.6" x2="1476.4" y2="772.6" stroke="#00BFC4" stroke-opacity="0.75" stroke-width="2.6"/>
<line x1="1442" y1="832" x2="1474" y2="832" stroke="#C77CFF" stroke-opacity="0.75" stroke-width="2.6"/>
<text x="5" y="40" class="pa">A</text>
<text x="932" y="42" class="pb" textLength="31.4" lengthAdjust="spacingAndGlyphs">B</text>
<text x="5" y="725.5" class="pb" textLength="29.6" lengthAdjust="spacingAndGlyphs">C</text>
<text x="936" y="734" class="pa">D</text>
</svg>
</body></html>
